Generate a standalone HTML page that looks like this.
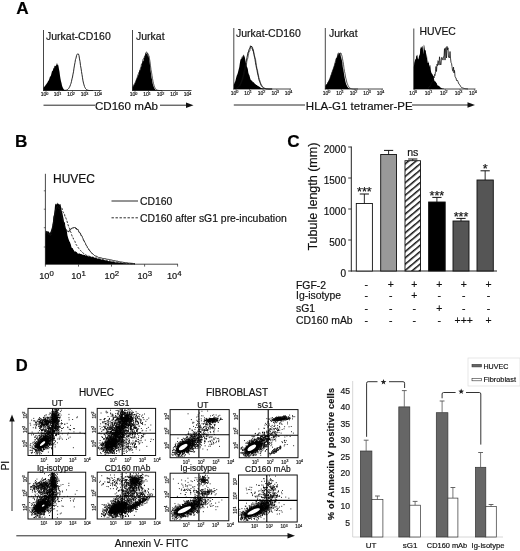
<!DOCTYPE html>
<html><head><meta charset="utf-8"><title>Figure</title>
<style>
html,body{margin:0;padding:0;background:#fff;}
body{width:520px;height:551px;overflow:hidden;font-family:"Liberation Sans",sans-serif;}
text{stroke:#111;stroke-width:0.18px;}
svg{display:block;font-family:"Liberation Sans",sans-serif;filter:blur(0.25px);}
</style></head><body>
<svg width="520" height="551" viewBox="0 0 520 551">
<rect width="520" height="551" fill="#fff"/>
<text x="16.2" y="13.9" font-size="17.2" text-anchor="start" font-weight="bold" fill="#000" >A</text>
<text x="15" y="146.6" font-size="17.2" text-anchor="start" font-weight="bold" fill="#000" >B</text>
<text x="287.2" y="146.8" font-size="17.2" text-anchor="start" font-weight="bold" fill="#000" >C</text>
<text x="15.8" y="371.2" font-size="16.6" text-anchor="start" font-weight="bold" fill="#000" >D</text>
<line x1="43.5" y1="30" x2="43.5" y2="91.0" stroke="#333" stroke-width="0.9" />
<line x1="43.1" y1="90.5" x2="101.5" y2="90.5" stroke="#333" stroke-width="0.9" />
<line x1="46" y1="90.5" x2="46" y2="92.3" stroke="#333" stroke-width="0.6" />
<line x1="59" y1="90.5" x2="59" y2="92.3" stroke="#333" stroke-width="0.6" />
<line x1="72.5" y1="90.5" x2="72.5" y2="92.3" stroke="#333" stroke-width="0.6" />
<line x1="86" y1="90.5" x2="86" y2="92.3" stroke="#333" stroke-width="0.6" />
<line x1="99.5" y1="90.5" x2="99.5" y2="92.3" stroke="#333" stroke-width="0.6" />
<text x="44.5" y="96.1" font-size="5.0" text-anchor="middle" fill="#222">10<tspan dy="-1.6" font-size="3.75">0</tspan></text>
<text x="57.5" y="96.1" font-size="5.0" text-anchor="middle" fill="#222">10<tspan dy="-1.6" font-size="3.75">1</tspan></text>
<text x="71.0" y="96.1" font-size="5.0" text-anchor="middle" fill="#222">10<tspan dy="-1.6" font-size="3.75">2</tspan></text>
<text x="84.5" y="96.1" font-size="5.0" text-anchor="middle" fill="#222">10<tspan dy="-1.6" font-size="3.75">3</tspan></text>
<text x="98.0" y="96.1" font-size="5.0" text-anchor="middle" fill="#222">10<tspan dy="-1.6" font-size="3.75">4</tspan></text>
<path d="M43.5 90.5 L43.5 87.7 L44.0 87.2 L44.5 86.4 L45.0 86.1 L45.5 85.2 L46.0 84.6 L46.5 84.1 L47.0 82.9 L47.5 82.5 L48.0 81.2 L48.5 80.7 L49.0 79.8 L49.5 78.3 L50.0 76.6 L50.5 76.6 L51.0 75.3 L51.5 73.3 L52.0 71.3 L52.5 70.9 L53.0 70.1 L53.5 67.4 L54.0 68.8 L54.5 65.5 L55.0 66.2 L55.5 65.9 L56.0 65.5 L56.5 64.5 L57.0 62.7 L57.5 64.9 L58.0 64.5 L58.5 66.2 L59.0 69.3 L59.5 71.8 L60.0 75.8 L60.5 78.7 L61.0 81.2 L61.5 83.1 L62.0 85.4 L62.5 87.0 L63.0 88.1 L63.5 89.0 L64.0 89.6 L64.5 89.9 L65.0 90.2 L65.5 90.3 L66.0 90.4 L66.5 90.4 L67.0 90.5 L67.5 90.5 L68.0 90.5 L68.5 90.5 L69.0 90.5 L69.5 90.5 L70.0 90.5 L70.0 90.5 Z" fill="#000" stroke="none" stroke-width="0.8"/>
<path d="M62.0 90.5 L62.5 90.5 L63.0 90.5 L63.5 90.5 L64.0 90.5 L64.5 90.4 L65.0 90.4 L65.5 90.3 L66.0 90.2 L66.5 90.1 L67.0 89.8 L67.5 89.6 L68.0 89.2 L68.5 88.7 L69.0 87.9 L69.5 87.1 L70.0 86.1 L70.5 84.6 L71.0 83.3 L71.5 81.3 L72.0 78.9 L72.5 77.0 L73.0 74.1 L73.5 71.8 L74.0 68.1 L74.5 65.1 L75.0 62.6 L75.5 59.4 L76.0 58.2 L76.5 55.7 L77.0 54.6 L77.5 53.9 L78.0 54.2 L78.5 54.1 L79.0 55.6 L79.5 58.9 L80.0 61.4 L80.5 65.6 L81.0 68.1 L81.5 71.6 L82.0 74.6 L82.5 77.8 L83.0 80.9 L83.5 83.1 L84.0 84.9 L84.5 86.5 L85.0 87.6 L85.5 88.5 L86.0 89.2 L86.5 89.6 L87.0 89.9 L87.5 90.1 L88.0 90.3 L88.5 90.4 L89.0 90.4 L89.5 90.5 L90.0 90.5 L90.5 90.5 L91.0 90.5 L91.5 90.5 L92.0 90.5 L92.5 90.5 L93.0 90.5" fill="none" stroke="#111" stroke-width="0.9" stroke-linejoin="round" />
<text x="46" y="40" font-size="10.5" text-anchor="start" font-weight="normal" fill="#111" >Jurkat-CD160</text>
<line x1="132.5" y1="30" x2="132.5" y2="91.0" stroke="#333" stroke-width="0.9" />
<line x1="132.1" y1="90.5" x2="191.5" y2="90.5" stroke="#333" stroke-width="0.9" />
<line x1="135" y1="90.5" x2="135" y2="92.3" stroke="#333" stroke-width="0.6" />
<line x1="148.5" y1="90.5" x2="148.5" y2="92.3" stroke="#333" stroke-width="0.6" />
<line x1="162" y1="90.5" x2="162" y2="92.3" stroke="#333" stroke-width="0.6" />
<line x1="175.5" y1="90.5" x2="175.5" y2="92.3" stroke="#333" stroke-width="0.6" />
<line x1="189" y1="90.5" x2="189" y2="92.3" stroke="#333" stroke-width="0.6" />
<text x="133.5" y="96.1" font-size="5.0" text-anchor="middle" fill="#222">10<tspan dy="-1.6" font-size="3.75">0</tspan></text>
<text x="147.0" y="96.1" font-size="5.0" text-anchor="middle" fill="#222">10<tspan dy="-1.6" font-size="3.75">1</tspan></text>
<text x="160.5" y="96.1" font-size="5.0" text-anchor="middle" fill="#222">10<tspan dy="-1.6" font-size="3.75">2</tspan></text>
<text x="174.0" y="96.1" font-size="5.0" text-anchor="middle" fill="#222">10<tspan dy="-1.6" font-size="3.75">3</tspan></text>
<text x="187.5" y="96.1" font-size="5.0" text-anchor="middle" fill="#222">10<tspan dy="-1.6" font-size="3.75">4</tspan></text>
<path d="M132.5 90.5 L132.5 87.4 L133.0 86.7 L133.5 85.8 L134.0 84.7 L134.5 84.3 L135.0 83.1 L135.5 81.9 L136.0 80.3 L136.5 79.1 L137.0 77.7 L137.5 77.3 L138.0 75.7 L138.5 74.4 L139.0 71.8 L139.5 70.0 L140.0 70.4 L140.5 68.9 L141.0 67.2 L141.5 65.7 L142.0 63.4 L142.5 61.6 L143.0 61.3 L143.5 60.9 L144.0 58.1 L144.5 57.2 L145.0 55.4 L145.5 53.0 L146.0 53.5 L146.5 53.8 L147.0 53.2 L147.5 53.1 L148.0 56.7 L148.5 55.1 L149.0 58.3 L149.5 61.3 L150.0 65.2 L150.5 70.1 L151.0 73.6 L151.5 77.4 L152.0 79.6 L152.5 82.8 L153.0 84.8 L153.5 86.3 L154.0 87.6 L154.5 88.5 L155.0 89.2 L155.5 89.7 L156.0 90.0 L156.5 90.2 L157.0 90.3 L157.5 90.4 L158.0 90.4 L158.5 90.5 L159.0 90.5 L159.5 90.5 L160.0 90.5 L160.5 90.5 L161.0 90.5 L161.5 90.5 L162.0 90.5 L162.0 90.5 Z" fill="#000" stroke="none" stroke-width="0.8"/>
<path d="M132.5 87.1 L133.0 86.4 L133.5 85.7 L134.0 84.5 L134.5 83.7 L135.0 82.9 L135.5 81.8 L136.0 80.6 L136.5 79.3 L137.0 78.3 L137.5 76.2 L138.0 74.6 L138.5 73.8 L139.0 72.3 L139.5 71.5 L140.0 70.0 L140.5 68.0 L141.0 66.7 L141.5 64.0 L142.0 63.9 L142.5 62.7 L143.0 59.1 L143.5 58.7 L144.0 58.5 L144.5 56.2 L145.0 56.6 L145.5 54.3 L146.0 52.3 L146.5 52.1 L147.0 52.3 L147.5 53.5 L148.0 53.5 L148.5 55.3 L149.0 55.6 L149.5 58.9 L150.0 61.5 L150.5 65.9 L151.0 69.6 L151.5 72.2 L152.0 75.4 L152.5 78.6 L153.0 81.2 L153.5 83.5 L154.0 85.3 L154.5 86.9 L155.0 87.9 L155.5 88.7 L156.0 89.3 L156.5 89.7 L157.0 90.0 L157.5 90.2 L158.0 90.3 L158.5 90.4 L159.0 90.4 L159.5 90.5 L160.0 90.5 L160.5 90.5 L161.0 90.5 L161.5 90.5 L162.0 90.5" fill="none" stroke="#111" stroke-width="0.7" stroke-linejoin="round" />
<text x="136" y="40" font-size="10.5" text-anchor="start" font-weight="normal" fill="#111" >Jurkat</text>
<line x1="43.5" y1="105.2" x2="95" y2="105.2" stroke="#111" stroke-width="0.9" />
<text x="126.5" y="109.6" font-size="11.6" text-anchor="middle" font-weight="normal" fill="#111" >CD160 mAb</text>
<line x1="160" y1="105.2" x2="189" y2="105.2" stroke="#111" stroke-width="0.9" />
<path d="M186 102.4 L193.5 105.2 L186 108 Z" fill="#111"/>
<line x1="233.8" y1="28" x2="233.8" y2="89.5" stroke="#333" stroke-width="0.9" />
<line x1="233.4" y1="89" x2="291" y2="89" stroke="#333" stroke-width="0.9" />
<line x1="236" y1="89" x2="236" y2="90.8" stroke="#333" stroke-width="0.6" />
<line x1="249.5" y1="89" x2="249.5" y2="90.8" stroke="#333" stroke-width="0.6" />
<line x1="263" y1="89" x2="263" y2="90.8" stroke="#333" stroke-width="0.6" />
<line x1="276.8" y1="89" x2="276.8" y2="90.8" stroke="#333" stroke-width="0.6" />
<line x1="290" y1="89" x2="290" y2="90.8" stroke="#333" stroke-width="0.6" />
<text x="234.5" y="94.6" font-size="5.0" text-anchor="middle" fill="#222">10<tspan dy="-1.6" font-size="3.75">0</tspan></text>
<text x="248.0" y="94.6" font-size="5.0" text-anchor="middle" fill="#222">10<tspan dy="-1.6" font-size="3.75">1</tspan></text>
<text x="261.5" y="94.6" font-size="5.0" text-anchor="middle" fill="#222">10<tspan dy="-1.6" font-size="3.75">2</tspan></text>
<text x="275.3" y="94.6" font-size="5.0" text-anchor="middle" fill="#222">10<tspan dy="-1.6" font-size="3.75">3</tspan></text>
<text x="288.5" y="94.6" font-size="5.0" text-anchor="middle" fill="#222">10<tspan dy="-1.6" font-size="3.75">4</tspan></text>
<path d="M233.8 89.0 L233.8 84.9 L234.3 83.6 L234.8 82.2 L235.3 81.3 L235.8 79.2 L236.3 77.3 L236.8 75.4 L237.3 74.6 L237.8 72.9 L238.3 70.9 L238.8 68.9 L239.3 66.9 L239.8 63.5 L240.3 60.5 L240.8 58.9 L241.3 58.9 L241.8 57.0 L242.3 55.4 L242.8 58.1 L243.3 55.3 L243.8 54.4 L244.3 55.9 L244.8 57.3 L245.3 60.1 L245.8 63.1 L246.3 62.9 L246.8 66.6 L247.3 67.4 L247.8 69.1 L248.3 72.6 L248.8 74.3 L249.3 74.9 L249.8 76.8 L250.3 78.8 L250.8 79.9 L251.3 80.6 L251.8 80.4 L252.3 81.1 L252.8 82.3 L253.3 82.1 L253.8 82.4 L254.3 83.1 L254.8 83.7 L255.3 84.0 L255.8 84.6 L256.3 85.1 L256.8 84.9 L257.3 85.5 L257.8 85.9 L258.3 86.1 L258.8 86.6 L259.3 86.8 L259.8 87.1 L260.3 87.5 L260.8 87.8 L261.3 88.0 L261.8 88.2 L262.3 88.3 L262.8 88.4 L263.3 88.5 L263.8 88.6 L264.3 88.7 L264.8 88.8 L265.3 88.8 L265.8 88.9 L266.0 89.0 Z" fill="#000" stroke="none" stroke-width="0.8"/>
<path d="M236.0 88.3 L236.5 88.2 L237.0 87.8 L237.5 87.6 L238.0 87.1 L238.5 86.6 L239.0 85.9 L239.5 85.3 L240.0 84.3 L240.5 83.5 L241.0 82.3 L241.5 81.0 L242.0 79.9 L242.5 77.9 L243.0 76.3 L243.5 74.6 L244.0 71.4 L244.5 70.1 L245.0 67.2 L245.5 64.3 L246.0 62.1 L246.5 60.2 L247.0 57.3 L247.5 55.0 L248.0 52.2 L248.5 52.3 L249.0 49.3 L249.5 49.1 L250.0 48.0 L250.5 45.8 L251.0 46.5 L251.5 46.5 L252.0 46.6 L252.5 47.4 L253.0 50.5 L253.5 52.0 L254.0 54.6 L254.5 57.2 L255.0 59.4 L255.5 62.8 L256.0 65.4 L256.5 68.2 L257.0 70.2 L257.5 73.1 L258.0 75.2 L258.5 77.4 L259.0 79.8 L259.5 81.3 L260.0 82.5 L260.5 83.8 L261.0 85.1 L261.5 86.0 L262.0 86.6 L262.5 87.2 L263.0 87.6 L263.5 88.0 L264.0 88.2 L264.5 88.4 L265.0 88.6 L265.5 88.7 L266.0 88.8 L266.5 88.9 L267.0 88.9 L267.5 88.9 L268.0 89.0 L268.5 89.0 L269.0 89.0 L269.5 89.0 L270.0 89.0 L270.5 89.0 L271.0 89.0 L271.5 89.0 L272.0 89.0" fill="none" stroke="#111" stroke-width="0.9" stroke-linejoin="round" />
<path d="M236.4 88.4 L236.9 88.3 L237.4 88.0 L237.9 87.7 L238.4 87.4 L238.9 86.8 L239.4 86.3 L239.9 85.8 L240.4 84.8 L240.9 84.0 L241.4 82.9 L241.9 81.4 L242.4 80.1 L242.9 79.0 L243.4 77.1 L243.9 75.1 L244.4 73.3 L244.9 71.3 L245.4 68.9 L245.9 65.8 L246.4 64.8 L246.9 61.3 L247.4 59.2 L247.9 58.0 L248.4 55.1 L248.9 52.4 L249.4 51.0 L249.9 51.0 L250.4 47.0 L250.9 46.9 L251.4 46.0 L251.9 48.9 L252.4 48.9 L252.9 50.6 L253.4 49.7 L253.9 53.0 L254.4 55.5 L254.9 57.1 L255.4 58.5 L255.9 61.5 L256.4 65.4 L256.9 68.2 L257.4 69.6 L257.9 72.7 L258.4 74.9 L258.9 77.6 L259.4 79.5 L259.9 80.7 L260.4 82.4 L260.9 83.8 L261.4 84.6 L261.9 85.6 L262.4 86.3 L262.9 87.0 L263.4 87.4 L263.9 87.9 L264.4 88.1 L264.9 88.4 L265.4 88.5 L265.9 88.7 L266.4 88.8 L266.9 88.8 L267.4 88.9 L267.9 88.9 L268.4 88.9 L268.9 89.0 L269.4 89.0 L269.9 89.0 L270.4 89.0 L270.9 89.0 L271.4 89.0 L271.9 89.0 L272.4 89.0" fill="none" stroke="#111" stroke-width="0.6" stroke-linejoin="round" />
<text x="236" y="36.6" font-size="10.5" text-anchor="start" font-weight="normal" fill="#111" >Jurkat-CD160</text>
<line x1="325.3" y1="28" x2="325.3" y2="89.5" stroke="#333" stroke-width="0.9" />
<line x1="324.90000000000003" y1="89" x2="383" y2="89" stroke="#333" stroke-width="0.9" />
<line x1="328" y1="89" x2="328" y2="90.8" stroke="#333" stroke-width="0.6" />
<line x1="341.5" y1="89" x2="341.5" y2="90.8" stroke="#333" stroke-width="0.6" />
<line x1="355" y1="89" x2="355" y2="90.8" stroke="#333" stroke-width="0.6" />
<line x1="368.5" y1="89" x2="368.5" y2="90.8" stroke="#333" stroke-width="0.6" />
<line x1="382" y1="89" x2="382" y2="90.8" stroke="#333" stroke-width="0.6" />
<text x="326.5" y="94.6" font-size="5.0" text-anchor="middle" fill="#222">10<tspan dy="-1.6" font-size="3.75">0</tspan></text>
<text x="340.0" y="94.6" font-size="5.0" text-anchor="middle" fill="#222">10<tspan dy="-1.6" font-size="3.75">1</tspan></text>
<text x="353.5" y="94.6" font-size="5.0" text-anchor="middle" fill="#222">10<tspan dy="-1.6" font-size="3.75">2</tspan></text>
<text x="367.0" y="94.6" font-size="5.0" text-anchor="middle" fill="#222">10<tspan dy="-1.6" font-size="3.75">3</tspan></text>
<text x="380.5" y="94.6" font-size="5.0" text-anchor="middle" fill="#222">10<tspan dy="-1.6" font-size="3.75">4</tspan></text>
<path d="M325.3 89.0 L325.3 85.9 L325.8 85.3 L326.3 84.4 L326.8 84.0 L327.3 83.3 L327.8 82.1 L328.3 81.5 L328.8 80.6 L329.3 79.5 L329.8 78.5 L330.3 77.1 L330.8 75.7 L331.3 74.3 L331.8 72.0 L332.3 71.5 L332.8 69.4 L333.3 68.6 L333.8 66.5 L334.3 65.8 L334.8 63.5 L335.3 62.7 L335.8 58.7 L336.3 57.9 L336.8 57.9 L337.3 55.7 L337.8 52.8 L338.3 55.6 L338.8 52.1 L339.3 53.5 L339.8 53.5 L340.3 52.9 L340.8 56.3 L341.3 58.0 L341.8 60.1 L342.3 62.2 L342.8 67.2 L343.3 69.2 L343.8 72.6 L344.3 75.7 L344.8 78.6 L345.3 80.9 L345.8 83.0 L346.3 84.4 L346.8 85.6 L347.3 86.4 L347.8 87.2 L348.3 87.8 L348.8 88.2 L349.3 88.4 L349.8 88.6 L350.3 88.8 L350.8 88.9 L351.3 88.9 L351.8 88.9 L352.3 89.0 L352.8 89.0 L353.3 89.0 L353.8 89.0 L354.3 89.0 L354.8 89.0 L355.3 89.0 L355.8 89.0 L356.0 89.0 Z" fill="#000" stroke="none" stroke-width="0.8"/>
<path d="M326.0 85.6 L326.5 85.0 L327.0 84.4 L327.5 83.6 L328.0 82.7 L328.5 81.6 L329.0 80.8 L329.5 79.4 L330.0 78.4 L330.5 76.4 L331.0 75.0 L331.5 74.1 L332.0 73.0 L332.5 70.4 L333.0 69.8 L333.5 68.1 L334.0 67.1 L334.5 64.8 L335.0 62.9 L335.5 61.2 L336.0 60.3 L336.5 58.1 L337.0 58.0 L337.5 56.1 L338.0 55.5 L338.5 53.7 L339.0 54.1 L339.5 53.8 L340.0 52.8 L340.5 53.2 L341.0 53.0 L341.5 54.6 L342.0 56.1 L342.5 58.8 L343.0 61.5 L343.5 64.3 L344.0 68.3 L344.5 71.4 L345.0 73.4 L345.5 77.0 L346.0 78.8 L346.5 81.0 L347.0 83.1 L347.5 84.2 L348.0 85.4 L348.5 86.4 L349.0 87.1 L349.5 87.7 L350.0 88.1 L350.5 88.4 L351.0 88.6 L351.5 88.7 L352.0 88.8 L352.5 88.9 L353.0 88.9 L353.5 89.0 L354.0 89.0 L354.5 89.0 L355.0 89.0 L355.5 89.0 L356.0 89.0 L356.5 89.0 L357.0 89.0 L357.5 89.0 L358.0 89.0" fill="none" stroke="#111" stroke-width="0.7" stroke-linejoin="round" />
<text x="329" y="36.6" font-size="10.5" text-anchor="start" font-weight="normal" fill="#111" >Jurkat</text>
<line x1="413.8" y1="28.5" x2="413.8" y2="89.5" stroke="#333" stroke-width="0.9" />
<line x1="413.40000000000003" y1="89" x2="475.5" y2="89" stroke="#333" stroke-width="0.9" />
<line x1="414.7" y1="89" x2="414.7" y2="90.8" stroke="#333" stroke-width="0.6" />
<line x1="430" y1="89" x2="430" y2="90.8" stroke="#333" stroke-width="0.6" />
<line x1="445.3" y1="89" x2="445.3" y2="90.8" stroke="#333" stroke-width="0.6" />
<line x1="460" y1="89" x2="460" y2="90.8" stroke="#333" stroke-width="0.6" />
<line x1="474.4" y1="89" x2="474.4" y2="90.8" stroke="#333" stroke-width="0.6" />
<text x="413.2" y="94.6" font-size="5.0" text-anchor="middle" fill="#222">10<tspan dy="-1.6" font-size="3.75">0</tspan></text>
<text x="428.5" y="94.6" font-size="5.0" text-anchor="middle" fill="#222">10<tspan dy="-1.6" font-size="3.75">1</tspan></text>
<text x="443.8" y="94.6" font-size="5.0" text-anchor="middle" fill="#222">10<tspan dy="-1.6" font-size="3.75">2</tspan></text>
<text x="458.5" y="94.6" font-size="5.0" text-anchor="middle" fill="#222">10<tspan dy="-1.6" font-size="3.75">3</tspan></text>
<text x="472.9" y="94.6" font-size="5.0" text-anchor="middle" fill="#222">10<tspan dy="-1.6" font-size="3.75">4</tspan></text>
<path d="M413.8 89.0 L413.8 67.2 L414.3 62.8 L414.8 61.0 L415.3 59.0 L415.8 59.5 L416.3 55.2 L416.8 55.9 L417.3 54.6 L417.8 58.4 L418.3 59.6 L418.8 57.6 L419.3 54.1 L419.8 56.2 L420.3 46.5 L420.8 49.0 L421.3 47.4 L421.8 46.8 L422.3 45.7 L422.8 48.1 L423.3 54.5 L423.8 44.5 L424.3 45.8 L424.8 49.8 L425.3 50.5 L425.8 50.3 L426.3 58.6 L426.8 52.7 L427.3 59.6 L427.8 63.0 L428.3 62.9 L428.8 60.9 L429.3 67.0 L429.8 64.9 L430.3 65.3 L430.8 70.2 L431.3 72.5 L431.8 73.5 L432.3 73.9 L432.8 75.0 L433.3 76.8 L433.8 77.8 L434.3 80.6 L434.8 81.2 L435.3 81.7 L435.8 81.4 L436.3 83.1 L436.8 83.3 L437.3 84.9 L437.8 85.4 L438.3 85.7 L438.8 85.8 L439.3 86.3 L439.8 86.8 L440.3 87.4 L440.8 87.6 L441.3 87.9 L441.8 88.2 L442.3 88.4 L442.8 88.5 L443.3 88.6 L443.8 88.7 L444.0 89.0 Z" fill="#000" stroke="none" stroke-width="0.8"/>
<path d="M428.0 87.9 L428.5 87.9 L429.0 87.0 L429.5 86.5 L430.0 86.8 L430.5 85.6 L431.0 84.1 L431.5 82.6 L432.0 82.6 L432.5 81.9 L433.0 80.8 L433.5 76.3 L434.0 78.0 L434.5 74.5 L435.0 75.5 L435.5 71.4 L436.0 66.5 L436.5 71.5 L437.0 64.2 L437.5 65.7 L438.0 60.7 L438.5 61.3 L439.0 65.1 L439.5 56.8 L440.0 60.4 L440.5 65.0 L441.0 64.5 L441.5 57.7 L442.0 57.4 L442.5 58.6 L443.0 60.1 L443.5 56.7 L444.0 56.5 L444.5 48.6 L445.0 60.1 L445.5 49.0 L446.0 47.5 L446.5 58.0 L447.0 46.4 L447.5 49.9 L448.0 47.8 L448.5 57.2 L449.0 57.0 L449.5 57.8 L450.0 51.5 L450.5 58.1 L451.0 62.4 L451.5 63.3 L452.0 66.5 L452.5 70.2 L453.0 71.3 L453.5 67.1 L454.0 73.0 L454.5 70.4 L455.0 76.3 L455.5 77.6 L456.0 77.8 L456.5 80.5 L457.0 80.9 L457.5 80.3 L458.0 81.7 L458.5 83.0 L459.0 84.2 L459.5 84.5 L460.0 85.2 L460.5 86.3 L461.0 86.6 L461.5 87.5 L462.0 87.4 L462.5 87.8 L463.0 88.0 L463.5 88.2 L464.0 88.5 L464.5 88.5 L465.0 88.6 L465.5 88.7 L466.0 88.8 L466.5 88.8 L467.0 88.9 L467.5 88.9 L468.0 88.9" fill="none" stroke="#111" stroke-width="0.8" stroke-linejoin="round" />
<text x="419.5" y="35.2" font-size="10.4" text-anchor="start" font-weight="normal" fill="#111" >HUVEC</text>
<line x1="233.8" y1="105" x2="305" y2="105" stroke="#111" stroke-width="0.9" />
<text x="359.2" y="110" font-size="11.5" text-anchor="middle" font-weight="normal" fill="#111" >HLA-G1 tetramer-PE</text>
<line x1="412" y1="105" x2="470" y2="105" stroke="#111" stroke-width="0.9" />
<path d="M467.5 102.2 L475 105 L467.5 107.8 Z" fill="#111"/>
<line x1="45.4" y1="173.8" x2="45.4" y2="264.5" stroke="#333" stroke-width="0.9" />
<line x1="45" y1="264.2" x2="178" y2="264.2" stroke="#333" stroke-width="0.9" />
<line x1="43.8" y1="190.8" x2="45.4" y2="190.8" stroke="#333" stroke-width="0.7" />
<line x1="43.8" y1="209.2" x2="45.4" y2="209.2" stroke="#333" stroke-width="0.7" />
<line x1="43.8" y1="227.7" x2="45.4" y2="227.7" stroke="#333" stroke-width="0.7" />
<line x1="43.8" y1="247" x2="45.4" y2="247" stroke="#333" stroke-width="0.7" />
<text x="53" y="183.3" font-size="12" text-anchor="start" font-weight="normal" fill="#111" >HUVEC</text>
<path d="M45.4 264.2 L45.4 234.0 L45.9 230.5 L46.4 232.3 L46.9 231.1 L47.4 231.7 L47.9 232.3 L48.4 231.5 L48.9 231.2 L49.4 233.5 L49.9 232.2 L50.4 232.6 L50.9 230.8 L51.4 229.6 L51.9 228.2 L52.4 225.7 L52.9 222.6 L53.4 216.6 L53.9 214.9 L54.4 213.0 L54.9 206.6 L55.4 203.4 L55.9 204.2 L56.4 204.4 L56.9 203.4 L57.4 203.8 L57.9 202.5 L58.4 204.3 L58.9 204.1 L59.4 204.8 L59.9 204.2 L60.4 203.9 L60.9 206.2 L61.4 209.6 L61.9 211.4 L62.4 212.9 L62.9 215.7 L63.4 218.0 L63.9 221.2 L64.4 222.6 L64.9 222.2 L65.4 227.4 L65.9 228.3 L66.4 230.0 L66.9 231.4 L67.4 235.2 L67.9 236.9 L68.4 238.7 L68.9 240.0 L69.4 241.4 L69.9 241.9 L70.4 243.5 L70.9 244.7 L71.4 247.1 L71.9 248.1 L72.4 247.9 L72.9 248.5 L73.4 249.7 L73.9 250.2 L74.4 251.5 L74.9 251.5 L75.4 251.3 L75.9 251.8 L76.4 252.1 L76.9 252.2 L77.4 253.2 L77.9 253.6 L78.4 253.8 L78.9 253.6 L79.4 253.6 L79.9 253.5 L80.4 253.9 L80.9 254.1 L81.4 254.1 L81.9 254.5 L82.4 254.5 L82.9 255.1 L83.4 254.6 L83.9 255.2 L84.4 254.7 L84.9 255.1 L85.4 255.5 L85.9 255.7 L86.4 255.8 L86.9 255.6 L87.4 255.7 L87.9 256.2 L88.4 256.4 L88.9 256.2 L89.4 256.3 L89.9 256.5 L90.4 256.8 L90.9 256.6 L91.4 257.2 L91.9 257.1 L92.4 257.1 L92.9 256.9 L93.4 257.3 L93.9 257.3 L94.4 257.6 L94.9 257.9 L95.4 258.0 L95.9 257.8 L96.4 258.1 L96.9 258.4 L97.4 258.7 L97.9 258.6 L98.4 258.6 L98.9 258.9 L99.4 259.1 L99.9 259.0 L100.4 259.0 L100.9 259.4 L101.4 259.6 L101.9 259.6 L102.4 259.7 L102.9 259.7 L103.4 260.0 L103.9 259.9 L104.4 260.1 L104.9 260.3 L105.4 260.5 L105.9 260.3 L106.4 260.7 L106.9 260.6 L107.4 260.9 L107.9 261.0 L108.4 260.9 L108.9 261.2 L109.4 261.1 L109.9 261.3 L110.4 261.5 L110.9 261.6 L111.4 261.6 L111.9 261.6 L112.4 261.7 L112.9 261.9 L113.4 261.9 L113.9 262.1 L114.4 262.0 L114.9 262.2 L115.4 262.3 L115.9 262.4 L116.4 262.4 L116.9 262.4 L117.4 262.5 L117.9 262.5 L118.4 262.6 L118.9 262.6 L119.4 262.8 L119.9 262.9 L120.4 262.8 L120.9 262.9 L121.4 263.0 L121.9 263.0 L122.4 263.1 L122.9 263.1 L123.4 263.2 L123.9 263.2 L124.4 263.3 L124.9 263.3 L125.4 263.3 L125.9 263.3 L126.4 263.4 L126.9 263.4 L127.4 263.5 L127.9 263.5 L128.4 263.5 L128.9 263.6 L129.4 263.6 L129.9 263.7 L130.4 263.7 L130.9 263.7 L131.4 263.7 L131.9 263.7 L132.4 263.8 L132.9 263.8 L133.4 263.8 L133.9 263.8 L134.4 263.8 L134.9 263.9 L135.0 264.2 Z" fill="#000" stroke="none" stroke-width="0.8"/>
<path d="M46.0 231.8 L46.5 232.5 L47.0 232.4 L47.5 232.1 L48.0 233.9 L48.5 234.2 L49.0 234.4 L49.5 235.0 L50.0 236.0 L50.5 235.7 L51.0 235.0 L51.5 232.6 L52.0 231.7 L52.5 228.7 L53.0 225.7 L53.5 223.6 L54.0 220.6 L54.5 216.2 L55.0 213.8 L55.5 211.8 L56.0 208.5 L56.5 207.6 L57.0 206.5 L57.5 206.6 L58.0 204.8 L58.5 204.6 L59.0 205.5 L59.5 205.1 L60.0 207.7 L60.5 207.7 L61.0 207.8 L61.5 207.5 L62.0 208.4 L62.5 210.6 L63.0 211.9 L63.5 212.6 L64.0 213.7 L64.5 214.0 L65.0 216.8 L65.5 216.9 L66.0 218.4 L66.5 219.6 L67.0 221.2 L67.5 222.9 L68.0 224.7 L68.5 226.2 L69.0 227.5 L69.5 228.3 L70.0 230.7 L70.5 231.8 L71.0 232.5 L71.5 234.4 L72.0 235.8 L72.5 237.1 L73.0 237.7 L73.5 239.1 L74.0 239.5 L74.5 240.7 L75.0 241.6 L75.5 243.2 L76.0 244.3 L76.5 245.2 L77.0 245.7 L77.5 246.3 L78.0 247.3 L78.5 248.2 L79.0 248.7 L79.5 249.3 L80.0 249.9 L80.5 250.4 L81.0 251.0 L81.5 251.6 L82.0 252.3 L82.5 252.4 L83.0 253.1 L83.5 253.3 L84.0 253.8 L84.5 254.0 L85.0 254.5 L85.5 254.7 L86.0 255.0 L86.5 255.3 L87.0 255.2 L87.5 255.5 L88.0 255.8 L88.5 256.0 L89.0 256.0 L89.5 256.3 L90.0 256.5 L90.5 256.5 L91.0 256.7 L91.5 256.7 L92.0 257.1 L92.5 257.1 L93.0 257.2 L93.5 257.3 L94.0 257.4 L94.5 257.7 L95.0 257.8 L95.5 258.0 L96.0 258.1 L96.5 258.0 L97.0 258.2 L97.5 258.2 L98.0 258.5 L98.5 258.5 L99.0 258.7 L99.5 258.8 L100.0 258.8 L100.5 258.9 L101.0 259.2 L101.5 259.2 L102.0 259.3 L102.5 259.5 L103.0 259.6 L103.5 259.7 L104.0 259.8 L104.5 259.9 L105.0 260.0 L105.5 260.1 L106.0 260.3 L106.5 260.4 L107.0 260.5 L107.5 260.5 L108.0 260.7 L108.5 260.8 L109.0 260.9 L109.5 260.9 L110.0 261.0 L110.5 261.2 L111.0 261.3 L111.5 261.3 L112.0 261.4 L112.5 261.5 L113.0 261.6 L113.5 261.7 L114.0 261.8 L114.5 261.9 L115.0 262.0 L115.5 262.0 L116.0 262.1 L116.5 262.2 L117.0 262.2 L117.5 262.3 L118.0 262.4 L118.5 262.4 L119.0 262.5 L119.5 262.6 L120.0 262.7 L120.5 262.7 L121.0 262.8 L121.5 262.9 L122.0 262.9 L122.5 263.0 L123.0 263.0 L123.5 263.1 L124.0 263.1 L124.5 263.2 L125.0 263.2 L125.5 263.3 L126.0 263.3 L126.5 263.3 L127.0 263.4 L127.5 263.4 L128.0 263.5 L128.5 263.5 L129.0 263.5 L129.5 263.6 L130.0 263.6 L130.5 263.6 L131.0 263.6 L131.5 263.7 L132.0 263.7 L132.5 263.7 L133.0 263.8 L133.5 263.8 L134.0 263.8 L134.5 263.8 L135.0 263.8" fill="none" stroke="#111" stroke-width="0.9" stroke-linejoin="round" stroke-dasharray="2.2 1.4"/>
<path d="M46.0 232.3 L46.5 231.3 L47.0 231.1 L47.5 232.9 L48.0 233.6 L48.5 232.8 L49.0 233.3 L49.5 234.6 L50.0 235.3 L50.5 233.4 L51.0 233.4 L51.5 231.0 L52.0 229.6 L52.5 226.7 L53.0 225.5 L53.5 221.0 L54.0 219.4 L54.5 216.0 L55.0 211.9 L55.5 209.4 L56.0 209.6 L56.5 208.2 L57.0 206.9 L57.5 206.5 L58.0 207.2 L58.5 208.6 L59.0 209.0 L59.5 208.5 L60.0 209.3 L60.5 213.5 L61.0 213.5 L61.5 214.7 L62.0 218.6 L62.5 218.2 L63.0 222.0 L63.5 222.5 L64.0 224.3 L64.5 225.6 L65.0 227.7 L65.5 228.6 L66.0 229.3 L66.5 230.4 L67.0 230.5 L67.5 231.2 L68.0 231.4 L68.5 232.1 L69.0 230.7 L69.5 230.7 L70.0 230.7 L70.5 229.1 L71.0 228.5 L71.5 228.7 L72.0 228.8 L72.5 227.7 L73.0 228.2 L73.5 227.9 L74.0 227.2 L74.5 228.0 L75.0 227.5 L75.5 227.7 L76.0 229.0 L76.5 228.2 L77.0 229.8 L77.5 229.0 L78.0 229.6 L78.5 230.8 L79.0 232.4 L79.5 232.3 L80.0 233.4 L80.5 233.3 L81.0 235.7 L81.5 235.4 L82.0 236.1 L82.5 237.6 L83.0 238.5 L83.5 240.4 L84.0 240.3 L84.5 242.0 L85.0 242.4 L85.5 243.4 L86.0 245.3 L86.5 245.5 L87.0 246.2 L87.5 247.9 L88.0 248.4 L88.5 248.8 L89.0 250.1 L89.5 250.1 L90.0 251.3 L90.5 251.5 L91.0 252.5 L91.5 252.8 L92.0 253.0 L92.5 253.9 L93.0 254.3 L93.5 254.5 L94.0 255.0 L94.5 255.5 L95.0 255.7 L95.5 256.0 L96.0 255.9 L96.5 256.3 L97.0 256.4 L97.5 257.0 L98.0 256.9 L98.5 257.4 L99.0 257.4 L99.5 257.5 L100.0 257.7 L100.5 257.7 L101.0 257.9 L101.5 258.0 L102.0 258.0 L102.5 258.4 L103.0 258.2 L103.5 258.5 L104.0 258.6 L104.5 258.6 L105.0 258.9 L105.5 258.7 L106.0 259.0 L106.5 259.1 L107.0 259.1 L107.5 259.3 L108.0 259.5 L108.5 259.4 L109.0 259.7 L109.5 259.6 L110.0 259.8 L110.5 259.8 L111.0 259.8 L111.5 260.0 L112.0 260.1 L112.5 260.3 L113.0 260.5 L113.5 260.6 L114.0 260.6 L114.5 260.6 L115.0 260.8 L115.5 260.9 L116.0 260.9 L116.5 261.1 L117.0 261.2 L117.5 261.2 L118.0 261.4 L118.5 261.5 L119.0 261.6 L119.5 261.7 L120.0 261.8 L120.5 261.9 L121.0 261.9 L121.5 262.0 L122.0 262.1 L122.5 262.2 L123.0 262.3 L123.5 262.4 L124.0 262.4 L124.5 262.5 L125.0 262.6 L125.5 262.7 L126.0 262.7 L126.5 262.7 L127.0 262.8 L127.5 262.9 L128.0 263.0 L128.5 263.1 L129.0 263.1 L129.5 263.1 L130.0 263.2 L130.5 263.2 L131.0 263.3 L131.5 263.3 L132.0 263.4 L132.5 263.4 L133.0 263.5 L133.5 263.5 L134.0 263.6 L134.5 263.6 L135.0 263.6" fill="none" stroke="#111" stroke-width="0.9" stroke-linejoin="round" />
<text x="46.5" y="279.2" font-size="9.2" text-anchor="middle" fill="#111">10<tspan dy="-3.4" font-size="7.8">0</tspan></text>
<text x="78.5" y="279.2" font-size="9.2" text-anchor="middle" fill="#111">10<tspan dy="-3.4" font-size="7.8">1</tspan></text>
<text x="111.89999999999999" y="279.2" font-size="9.2" text-anchor="middle" fill="#111">10<tspan dy="-3.4" font-size="7.8">2</tspan></text>
<text x="144.8" y="279.2" font-size="9.2" text-anchor="middle" fill="#111">10<tspan dy="-3.4" font-size="7.8">3</tspan></text>
<text x="174.20000000000002" y="279.2" font-size="9.2" text-anchor="middle" fill="#111">10<tspan dy="-3.4" font-size="7.8">4</tspan></text>
<line x1="45.4" y1="264.2" x2="45.4" y2="266.6" stroke="#333" stroke-width="0.8" />
<line x1="78.5" y1="264.2" x2="78.5" y2="266.6" stroke="#333" stroke-width="0.8" />
<line x1="111.5" y1="264.2" x2="111.5" y2="266.6" stroke="#333" stroke-width="0.8" />
<line x1="144.6" y1="264.2" x2="144.6" y2="266.6" stroke="#333" stroke-width="0.8" />
<line x1="177.6" y1="264.2" x2="177.6" y2="266.6" stroke="#333" stroke-width="0.8" />
<line x1="111.5" y1="201" x2="138" y2="201" stroke="#111" stroke-width="0.9" />
<line x1="111.5" y1="217.8" x2="138" y2="217.8" stroke="#111" stroke-width="0.9" stroke-dasharray="2.4 1.6"/>
<text x="140" y="204.8" font-size="10.4" text-anchor="start" font-weight="normal" fill="#111" >CD160</text>
<text x="140" y="221.6" font-size="10.4" text-anchor="start" font-weight="normal" fill="#111" >CD160 after sG1 pre-incubation</text>
<line x1="351.3" y1="146.5" x2="351.3" y2="271.5" stroke="#222" stroke-width="1" />
<line x1="351" y1="271.0" x2="497" y2="271.0" stroke="#222" stroke-width="1" />
<line x1="348.2" y1="271.0" x2="351.3" y2="271.0" stroke="#222" stroke-width="0.9" />
<text x="346" y="276.5" font-size="10.0" text-anchor="end" font-weight="normal" fill="#111" >0</text>
<line x1="348.2" y1="240.0" x2="351.3" y2="240.0" stroke="#222" stroke-width="0.9" />
<text x="346" y="245.5" font-size="10.0" text-anchor="end" font-weight="normal" fill="#111" >500</text>
<line x1="348.2" y1="209.0" x2="351.3" y2="209.0" stroke="#222" stroke-width="0.9" />
<text x="346" y="214.5" font-size="10.0" text-anchor="end" font-weight="normal" fill="#111" >1000</text>
<line x1="348.2" y1="178.0" x2="351.3" y2="178.0" stroke="#222" stroke-width="0.9" />
<text x="346" y="183.5" font-size="10.0" text-anchor="end" font-weight="normal" fill="#111" >1500</text>
<line x1="348.2" y1="147.0" x2="351.3" y2="147.0" stroke="#222" stroke-width="0.9" />
<text x="346" y="152.5" font-size="10.0" text-anchor="end" font-weight="normal" fill="#111" >2000</text>
<text transform="translate(316.6,196.6) rotate(-90)" font-size="12.5" text-anchor="middle" fill="#111">Tubule length (mm)</text>
<defs><pattern id="hatch" width="4.8" height="4.8" patternUnits="userSpaceOnUse" patternTransform="rotate(-40) translate(0,1.2)"><rect width="4.8" height="4.8" fill="#fff"/><rect width="4.8" height="1.5" fill="#111"/></pattern></defs>
<rect x="356.3" y="203.5" width="16.099999999999966" height="67.5" fill="#fff" stroke="#111" stroke-width="0.9"/>
<line x1="364.35" y1="203.5" x2="364.35" y2="194" stroke="#111" stroke-width="0.9" />
<line x1="359.75" y1="194" x2="368.95000000000005" y2="194" stroke="#111" stroke-width="1.0" />
<text x="364.35" y="196.4" font-size="12.6" text-anchor="middle" font-weight="normal" fill="#111" >***</text>
<rect x="380.7" y="154.5" width="15.800000000000011" height="116.5" fill="#999" stroke="#111" stroke-width="0.9"/>
<line x1="388.6" y1="154.5" x2="388.6" y2="150.4" stroke="#111" stroke-width="0.9" />
<line x1="384.0" y1="150.4" x2="393.20000000000005" y2="150.4" stroke="#111" stroke-width="1.0" />
<rect x="405" y="160.7" width="15.5" height="110.30000000000001" fill="url(#hatch)" stroke="#111" stroke-width="0.9"/>
<line x1="412.75" y1="160.7" x2="412.75" y2="159" stroke="#111" stroke-width="0.9" />
<line x1="408.15" y1="159" x2="417.35" y2="159" stroke="#111" stroke-width="1.0" />
<text x="412.75" y="156.1" font-size="10.6" text-anchor="middle" font-weight="normal" fill="#111" >ns</text>
<rect x="428.6" y="202" width="16.599999999999966" height="69.0" fill="#000" stroke="#111" stroke-width="0.9"/>
<line x1="436.9" y1="202" x2="436.9" y2="197.4" stroke="#111" stroke-width="0.9" />
<line x1="432.29999999999995" y1="197.4" x2="441.5" y2="197.4" stroke="#111" stroke-width="1.0" />
<text x="436.9" y="199.8" font-size="12.6" text-anchor="middle" font-weight="normal" fill="#111" >***</text>
<rect x="453" y="221" width="16" height="50.0" fill="#555" stroke="#111" stroke-width="0.9"/>
<line x1="461.0" y1="221" x2="461.0" y2="218.4" stroke="#111" stroke-width="0.9" />
<line x1="456.4" y1="218.4" x2="465.6" y2="218.4" stroke="#111" stroke-width="1.0" />
<text x="461.0" y="220.8" font-size="12.6" text-anchor="middle" font-weight="normal" fill="#111" >***</text>
<rect x="477" y="180" width="16.30000000000001" height="91.0" fill="#555" stroke="#111" stroke-width="0.9"/>
<line x1="485.15" y1="180" x2="485.15" y2="170.8" stroke="#111" stroke-width="0.9" />
<line x1="480.54999999999995" y1="170.8" x2="489.75" y2="170.8" stroke="#111" stroke-width="1.0" />
<text x="485.15" y="173.20000000000002" font-size="12.6" text-anchor="middle" font-weight="normal" fill="#111" >*</text>
<text x="296" y="288.8" font-size="10.4" text-anchor="start" font-weight="normal" fill="#111" >FGF-2</text>
<text x="366.3" y="288.40000000000003" font-size="10.4" text-anchor="middle" font-weight="normal" fill="#111" >-</text>
<text x="390.8" y="288.40000000000003" font-size="10.4" text-anchor="middle" font-weight="normal" fill="#111" >+</text>
<text x="414.3" y="288.40000000000003" font-size="10.4" text-anchor="middle" font-weight="normal" fill="#111" >+</text>
<text x="439.2" y="288.40000000000003" font-size="10.4" text-anchor="middle" font-weight="normal" fill="#111" >+</text>
<text x="463.7" y="288.40000000000003" font-size="10.4" text-anchor="middle" font-weight="normal" fill="#111" >+</text>
<text x="488.6" y="288.40000000000003" font-size="10.4" text-anchor="middle" font-weight="normal" fill="#111" >+</text>
<text x="296" y="299.2" font-size="10.4" text-anchor="start" font-weight="normal" fill="#111" >Ig-isotype</text>
<text x="366.3" y="298.8" font-size="10.4" text-anchor="middle" font-weight="normal" fill="#111" >-</text>
<text x="390.8" y="298.8" font-size="10.4" text-anchor="middle" font-weight="normal" fill="#111" >-</text>
<text x="414.3" y="298.8" font-size="10.4" text-anchor="middle" font-weight="normal" fill="#111" >+</text>
<text x="439.2" y="298.8" font-size="10.4" text-anchor="middle" font-weight="normal" fill="#111" >-</text>
<text x="463.7" y="298.8" font-size="10.4" text-anchor="middle" font-weight="normal" fill="#111" >-</text>
<text x="488.6" y="298.8" font-size="10.4" text-anchor="middle" font-weight="normal" fill="#111" >-</text>
<text x="296" y="312.0" font-size="10.4" text-anchor="start" font-weight="normal" fill="#111" >sG1</text>
<text x="366.3" y="311.6" font-size="10.4" text-anchor="middle" font-weight="normal" fill="#111" >-</text>
<text x="390.8" y="311.6" font-size="10.4" text-anchor="middle" font-weight="normal" fill="#111" >-</text>
<text x="414.3" y="311.6" font-size="10.4" text-anchor="middle" font-weight="normal" fill="#111" >-</text>
<text x="439.2" y="311.6" font-size="10.4" text-anchor="middle" font-weight="normal" fill="#111" >+</text>
<text x="463.7" y="311.6" font-size="10.4" text-anchor="middle" font-weight="normal" fill="#111" >-</text>
<text x="488.6" y="311.6" font-size="10.4" text-anchor="middle" font-weight="normal" fill="#111" >-</text>
<text x="296" y="324.0" font-size="10.4" text-anchor="start" font-weight="normal" fill="#111" >CD160 mAb</text>
<text x="366.3" y="323.6" font-size="10.4" text-anchor="middle" font-weight="normal" fill="#111" >-</text>
<text x="390.8" y="323.6" font-size="10.4" text-anchor="middle" font-weight="normal" fill="#111" >-</text>
<text x="414.3" y="323.6" font-size="10.4" text-anchor="middle" font-weight="normal" fill="#111" >-</text>
<text x="439.2" y="323.6" font-size="10.4" text-anchor="middle" font-weight="normal" fill="#111" >-</text>
<text x="463.7" y="323.6" font-size="10.4" text-anchor="middle" font-weight="normal" fill="#111" >+++</text>
<text x="488.6" y="323.6" font-size="10.4" text-anchor="middle" font-weight="normal" fill="#111" >+</text>
<text x="96.4" y="396" font-size="10" text-anchor="middle" font-weight="normal" fill="#111" >HUVEC</text>
<text x="237" y="396" font-size="10" text-anchor="middle" font-weight="normal" fill="#111" >FIBROBLAST</text>
<defs><filter id="bl" x="-20%" y="-20%" width="140%" height="140%"><feGaussianBlur stdDeviation="0.7"/></filter><filter id="b2" x="-5%" y="-5%" width="110%" height="110%"><feGaussianBlur stdDeviation="0.32"/></filter></defs>
<clipPath id="c28_408"><rect x="28" y="408.4" width="57.7" height="47.10000000000002"/></clipPath>
<g clip-path="url(#c28_408)">
<ellipse cx="42.5" cy="443.5" rx="7" ry="3.8" transform="rotate(-40 42.5 443.5)" fill="#000" opacity="0.92" filter="url(#bl)"/>
<ellipse cx="55" cy="418.5" rx="4.6" ry="1.8" transform="rotate(-88 55 418.5)" fill="#000" opacity="0.65" filter="url(#bl)"/>
<ellipse cx="45" cy="422.5" rx="5" ry="2.2" transform="rotate(-8 45 422.5)" fill="#000" opacity="0.4" filter="url(#bl)"/>
<path d="M48.2 436.4h0.9M47.6 438.8h0.9M45.0 442.1h0.9M42.0 439.2h0.9M36.6 448.7h0.9M44.5 443.9h0.9M39.8 442.9h0.9M49.8 435.1h0.9M46.7 445.7h0.9M50.5 436.5h0.9M44.4 446.0h0.9M44.2 446.1h0.9M42.0 442.2h0.9M42.1 442.8h0.9M36.3 443.4h0.9M43.0 449.7h0.9M43.1 445.8h0.9M38.9 447.8h0.9M45.9 445.0h0.9M39.4 440.9h0.9M45.7 441.4h0.9M43.3 443.3h0.9M41.0 442.1h0.9M46.4 449.0h0.9M44.0 445.5h0.9M46.3 442.5h0.9M39.2 438.3h0.9M40.1 449.6h0.9M40.9 453.6h0.9M33.9 449.4h0.9M43.2 449.8h0.9M35.1 447.4h0.9M39.9 447.0h0.9M41.5 439.4h0.9M48.8 434.4h0.9M42.8 442.6h0.9M47.5 434.1h0.9M40.4 443.6h0.9M43.6 442.4h0.9M42.8 448.1h0.9M43.0 448.7h0.9M46.7 438.0h0.9M34.9 444.8h0.9M49.7 444.4h0.9M48.8 435.3h0.9M53.4 438.8h0.9M44.0 440.7h0.9M43.0 442.4h0.9M49.6 443.0h0.9M39.8 450.9h0.9M41.2 446.8h0.9M43.6 441.6h0.9M43.8 444.8h0.9M38.9 443.0h0.9M45.5 440.6h0.9M38.3 441.3h0.9M38.8 444.2h0.9M47.8 440.0h0.9M48.0 443.0h0.9M46.4 439.5h0.9M34.6 447.7h0.9M36.4 443.9h0.9M39.9 446.3h0.9M44.3 443.2h0.9M44.6 443.8h0.9M45.3 441.1h0.9M48.3 448.7h0.9M47.3 439.3h0.9M34.8 449.6h0.9M42.5 439.6h0.9M35.2 444.0h0.9M37.5 438.9h0.9M40.7 442.6h0.9M43.0 447.2h0.9M45.5 437.7h0.9M47.4 436.2h0.9M43.1 449.1h0.9M41.0 447.2h0.9M38.0 445.1h0.9M44.4 442.9h0.9M43.5 443.2h0.9M42.0 441.1h0.9M47.8 441.6h0.9M33.6 445.8h0.9M41.0 440.7h0.9M36.2 450.0h0.9M45.2 446.5h0.9M39.0 443.8h0.9M44.2 436.3h0.9M41.4 449.6h0.9M43.0 439.6h0.9M45.7 445.6h0.9M44.4 439.0h0.9M45.7 442.6h0.9M42.4 440.7h0.9M43.5 449.4h0.9M43.0 441.3h0.9M41.0 441.5h0.9M40.2 445.8h0.9M40.2 443.4h0.9M49.7 438.4h0.9M48.4 433.0h0.9M44.8 439.4h0.9M50.3 437.6h0.9M43.9 446.2h0.9M42.1 438.9h0.9M44.0 440.7h0.9M41.3 443.8h0.9M34.6 446.3h0.9M42.8 447.3h0.9M40.8 447.9h0.9M44.2 438.2h0.9M35.1 446.3h0.9M47.3 441.6h0.9M37.6 450.4h0.9M39.2 445.0h0.9M44.6 449.1h0.9M46.2 446.0h0.9M48.5 442.9h0.9M41.1 447.8h0.9M37.9 442.6h0.9M45.0 439.2h0.9M46.6 445.7h0.9M41.3 446.5h0.9M37.5 445.9h0.9M40.7 447.6h0.9M41.8 451.6h0.9M42.6 438.5h0.9M45.0 445.0h0.9M30.8 452.7h0.9M47.1 438.6h0.9M43.7 437.1h0.9M48.0 440.5h0.9M45.5 438.1h0.9M36.8 449.8h0.9M36.7 448.8h0.9M46.9 443.7h0.9M31.5 448.0h0.9M41.4 439.0h0.9M35.0 445.9h0.9M47.6 431.9h0.9M41.1 443.7h0.9M40.1 441.9h0.9M46.7 439.6h0.9M35.4 446.7h0.9M39.4 443.8h0.9M40.7 439.1h0.9M48.1 440.4h0.9M40.8 438.5h0.9M39.5 444.5h0.9M45.3 436.6h0.9M47.1 444.5h0.9M36.7 447.4h0.9M39.5 436.7h0.9M36.8 444.1h0.9M48.8 444.4h0.9M38.8 446.0h0.9M40.7 445.6h0.9M45.9 443.6h0.9M45.6 443.2h0.9M39.2 444.3h0.9M39.6 444.9h0.9M49.2 437.8h0.9M40.6 442.4h0.9M39.0 442.5h0.9M36.0 446.7h0.9M41.8 447.0h0.9M51.5 439.1h0.9M48.7 435.9h0.9M50.4 440.5h0.9M44.9 436.1h0.9M42.2 444.2h0.9M52.5 434.4h0.9M41.9 446.3h0.9M43.8 441.2h0.9M40.1 439.2h0.9M40.3 443.6h0.9M50.5 440.5h0.9M43.6 435.9h0.9M38.8 450.6h0.9M41.4 451.1h0.9M47.7 445.9h0.9M42.0 438.6h0.9M36.3 449.9h0.9M33.0 448.6h0.9M39.9 446.7h0.9M41.7 442.1h0.9M41.0 444.7h0.9M40.0 445.2h0.9M37.4 447.5h0.9M35.2 451.4h0.9M50.4 436.6h0.9M36.7 447.4h0.9M41.4 450.5h0.9M38.1 444.5h0.9M44.3 442.4h0.9M40.5 449.1h0.9M47.7 438.2h0.9M42.3 451.4h0.9M32.3 443.0h0.9M37.8 447.7h0.9M43.7 443.1h0.9M43.8 447.4h0.9M35.0 443.6h0.9M37.8 444.4h0.9M35.9 450.1h0.9M41.7 440.4h0.9M36.7 446.2h0.9M45.5 443.7h0.9M46.1 443.7h0.9M39.2 446.4h0.9M31.3 453.3h0.9M40.9 450.2h0.9M39.3 443.4h0.9M38.5 442.2h0.9M40.0 450.4h0.9M48.3 437.2h0.9M48.0 441.9h0.9M45.4 440.1h0.9M45.2 441.2h0.9M48.8 440.6h0.9M41.1 450.1h0.9M48.7 441.0h0.9M39.8 449.2h0.9M42.9 447.8h0.9M42.4 445.9h0.9M41.9 447.5h0.9M43.5 444.4h0.9M42.5 442.6h0.9M47.9 447.0h0.9M41.7 447.1h0.9M48.6 444.1h0.9M40.0 446.7h0.9M39.3 442.6h0.9M38.9 443.0h0.9M39.6 452.6h0.9M46.9 438.3h0.9M44.3 441.5h0.9M46.7 444.4h0.9M47.5 441.3h0.9M46.5 439.8h0.9M36.5 453.2h0.9M47.5 439.8h0.9M40.4 444.4h0.9M41.7 446.2h0.9M42.7 442.8h0.9M48.8 438.0h0.9M47.2 433.0h0.9M47.8 435.2h0.9M42.8 442.7h0.9M43.2 445.6h0.9M43.4 445.1h0.9M48.4 436.6h0.9M44.1 449.2h0.9M43.0 444.6h0.9M40.0 449.8h0.9M32.0 450.2h0.9M37.6 438.2h0.9M42.6 443.9h0.9M48.3 438.1h0.9M43.9 443.7h0.9M37.3 442.4h0.9M43.6 436.3h0.9M41.0 444.7h0.9M37.0 444.5h0.9M35.6 447.2h0.9M44.6 436.6h0.9M36.6 444.5h0.9M40.9 447.6h0.9M34.8 445.7h0.9M50.5 438.9h0.9M39.9 446.9h0.9M51.3 432.5h0.9M43.4 449.3h0.9M37.5 443.3h0.9M50.8 437.5h0.9M40.5 447.0h0.9M32.9 448.2h0.9M36.0 445.1h0.9M37.6 452.3h0.9M45.1 444.1h0.9M45.8 440.7h0.9M36.4 446.3h0.9M49.5 444.6h0.9M49.3 436.0h0.9M49.1 444.8h0.9M40.1 446.8h0.9M49.7 442.8h0.9M42.4 451.0h0.9M40.9 443.6h0.9M36.5 450.7h0.9M41.8 438.3h0.9M45.8 441.8h0.9M39.2 449.7h0.9M39.4 445.5h0.9M39.3 440.1h0.9M45.6 444.8h0.9M47.3 436.0h0.9M44.2 444.7h0.9M36.5 452.3h0.9M47.8 442.0h0.9M36.6 447.7h0.9M42.4 441.3h0.9M42.7 438.2h0.9M37.2 444.4h0.9M37.1 445.5h0.9M42.8 442.3h0.9M46.6 440.1h0.9M45.6 437.7h0.9M44.1 444.2h0.9M40.3 447.3h0.9M41.7 444.3h0.9M53.9 431.6h0.9M47.3 442.6h0.9M40.1 446.7h0.9M45.2 445.0h0.9M50.3 439.0h0.9M51.2 444.7h0.9M42.0 442.9h0.9M42.2 441.5h0.9M43.4 442.2h0.9M35.8 451.7h0.9M31.5 450.4h0.9M44.1 442.8h0.9M40.1 447.7h0.9M47.2 433.3h0.9M39.9 440.9h0.9M39.3 453.3h0.9M42.0 447.1h0.9M39.8 445.1h0.9M56.4 434.2h0.9M42.2 442.7h0.9M40.7 441.6h0.9M52.2 439.9h0.9M43.7 443.5h0.9M46.8 445.5h0.9M39.3 454.7h0.9M44.4 441.2h0.9M47.1 448.3h0.9M42.3 446.4h0.9M38.2 450.5h0.9M44.5 439.9h0.9M41.5 442.5h0.9M39.8 445.5h0.9M41.7 442.2h0.9M42.5 444.1h0.9M43.1 445.4h0.9M51.0 434.5h0.9M40.2 437.1h0.9M51.2 441.9h0.9M43.9 439.2h0.9M48.1 434.0h0.9M47.9 443.3h0.9M38.3 446.0h0.9M46.5 443.9h0.9M41.6 445.7h0.9M42.1 442.6h0.9M43.5 447.2h0.9M44.9 435.7h0.9M40.2 441.7h0.9M43.2 440.5h0.9M45.9 443.4h0.9M43.1 439.3h0.9M35.2 442.5h0.9M48.0 432.2h0.9M49.5 434.9h0.9M42.2 446.0h0.9M38.9 446.1h0.9M41.2 442.2h0.9M29.8 445.7h0.9M52.1 435.5h0.9M44.5 440.1h0.9M44.0 443.0h0.9M43.5 445.7h0.9M43.3 442.9h0.9M45.4 444.2h0.9M42.6 443.3h0.9M47.0 443.6h0.9M42.5 439.9h0.9M45.7 442.2h0.9M40.9 445.7h0.9M42.8 437.6h0.9M43.0 445.4h0.9M43.7 441.7h0.9M40.0 448.3h0.9M40.9 442.4h0.9M39.3 449.9h0.9M46.8 444.4h0.9M42.3 442.4h0.9M43.9 446.1h0.9M42.8 444.4h0.9M45.4 444.1h0.9M50.1 443.2h0.9M41.7 444.1h0.9M47.6 441.4h0.9M45.8 442.8h0.9M42.5 437.2h0.9M40.0 444.0h0.9M36.8 444.7h0.9M47.5 439.1h0.9M37.0 446.6h0.9M45.4 437.1h0.9M49.2 444.6h0.9M37.1 442.9h0.9M35.3 445.4h0.9M49.1 435.2h0.9M47.8 440.3h0.9M37.5 448.1h0.9M41.7 444.3h0.9M45.7 441.3h0.9M42.5 441.9h0.9M39.2 439.6h0.9M44.2 441.8h0.9M42.8 445.6h0.9M47.9 438.4h0.9M39.0 448.5h0.9M42.7 444.9h0.9M49.2 442.2h0.9M44.3 441.5h0.9M37.5 447.6h0.9M41.2 442.8h0.9M40.1 444.4h0.9M37.4 451.7h0.9M43.9 438.5h0.9M43.5 444.8h0.9M50.8 444.2h0.9M37.9 444.9h0.9M47.1 443.4h0.9M31.9 447.1h0.9M44.8 444.9h0.9M41.1 441.4h0.9M29.6 450.3h0.9M49.4 445.3h0.9M49.0 444.6h0.9M46.6 438.6h0.9M53.1 436.8h0.9M40.6 441.2h0.9M41.1 447.3h0.9M41.1 445.0h0.9M37.1 446.3h0.9M44.7 441.4h0.9M50.3 438.2h0.9M49.0 440.1h0.9M49.2 445.0h0.9M43.6 443.2h0.9M41.5 446.6h0.9M42.3 446.3h0.9M34.3 452.5h0.9M41.1 446.6h0.9M38.3 447.5h0.9M46.3 441.3h0.9M38.0 442.3h0.9M45.0 438.1h0.9M48.0 440.1h0.9M40.0 441.6h0.9M40.4 445.7h0.9M43.4 441.4h0.9M39.6 442.4h0.9M40.4 442.6h0.9M45.8 438.3h0.9M47.7 443.4h0.9M38.1 449.5h0.9M41.8 438.6h0.9M36.8 447.2h0.9M40.2 448.1h0.9M40.1 443.0h0.9M41.3 440.2h0.9M36.7 445.1h0.9M46.3 440.1h0.9M45.5 443.0h0.9M38.6 448.2h0.9M34.6 439.6h0.9M37.5 441.7h0.9M42.8 442.1h0.9M47.0 442.5h0.9M45.7 439.5h0.9M35.0 447.6h0.9M44.0 440.6h0.9M49.9 438.8h0.9M43.3 440.1h0.9M36.5 444.1h0.9M38.7 451.4h0.9M46.7 444.0h0.9M45.0 447.4h0.9M44.8 445.7h0.9M46.7 445.6h0.9M44.9 442.5h0.9M42.9 443.4h0.9M45.4 445.9h0.9M31.6 452.5h0.9M39.4 447.8h0.9M47.9 446.3h0.9M40.4 447.5h0.9M37.5 446.5h0.9M43.4 445.8h0.9M36.9 445.2h0.9M38.7 444.6h0.9M47.8 446.0h0.9M37.9 447.3h0.9M42.5 440.6h0.9M44.0 438.4h0.9M41.3 445.3h0.9M46.5 441.7h0.9M49.8 443.2h0.9M45.6 441.6h0.9M32.4 448.4h0.9M43.8 442.4h0.9M38.8 448.3h0.9M50.4 439.9h0.9M37.7 448.0h0.9M42.5 446.8h0.9M37.1 444.2h0.9M32.9 444.4h0.9M42.2 447.8h0.9M44.8 439.5h0.9M36.8 445.6h0.9M36.4 452.0h0.9M47.7 440.1h0.9M36.1 447.0h0.9M46.4 440.3h0.9M35.5 450.6h0.9M42.9 440.4h0.9M50.8 437.5h0.9M40.5 445.3h0.9M49.3 441.3h0.9M52.9 444.8h0.9M47.1 442.1h0.9M43.2 440.4h0.9M37.7 447.9h0.9M42.5 441.4h0.9M40.4 448.9h0.9M29.8 444.9h0.9M42.1 444.7h0.9M34.5 446.8h0.9M37.7 442.3h0.9M46.1 440.4h0.9M47.6 443.3h0.9M42.2 445.9h0.9M37.1 448.0h0.9M39.3 440.9h0.9M39.5 447.7h0.9M43.6 441.1h0.9M43.5 444.4h0.9M43.9 441.0h0.9M35.2 450.6h0.9M38.8 450.9h0.9M43.0 442.9h0.9M44.6 445.0h0.9M43.3 446.2h0.9M42.9 440.7h0.9M47.6 434.6h0.9M39.9 447.3h0.9M38.0 446.2h0.9M49.6 435.0h0.9M35.5 454.0h0.9M36.1 447.0h0.9M42.0 442.9h0.9M51.5 439.0h0.9M35.4 442.3h0.9M45.3 444.0h0.9M36.7 453.9h0.9M32.1 452.0h0.9M40.9 441.2h0.9M43.2 445.5h0.9M36.0 442.0h0.9M34.7 449.4h0.9M41.5 442.1h0.9M39.9 443.9h0.9M46.2 440.9h0.9M40.9 445.5h0.9M38.8 447.4h0.9M40.8 444.1h0.9M45.8 436.0h0.9M39.5 443.8h0.9M42.4 440.8h0.9M42.1 442.9h0.9M41.9 446.8h0.9M43.8 437.6h0.9M44.5 440.2h0.9M44.4 443.5h0.9M33.8 448.4h0.9M44.3 444.0h0.9M36.1 444.2h0.9M31.7 446.1h0.9M40.9 436.2h0.9M39.5 446.1h0.9M40.1 445.0h0.9M43.0 445.8h0.9M48.4 441.4h0.9M39.4 444.1h0.9M41.0 446.3h0.9M44.7 443.0h0.9M37.4 448.1h0.9M38.5 440.6h0.9M36.1 445.3h0.9M39.8 447.0h0.9M40.6 444.1h0.9M43.0 436.7h0.9M37.4 442.9h0.9M45.2 438.2h0.9M37.7 444.3h0.9M41.4 443.1h0.9M40.2 443.0h0.9M45.2 437.1h0.9M39.8 442.1h0.9M50.3 440.4h0.9M51.1 441.2h0.9M43.7 440.3h0.9M48.2 437.7h0.9M41.9 446.9h0.9M35.8 446.3h0.9M42.8 445.9h0.9M46.1 443.3h0.9M41.5 446.0h0.9M46.8 434.5h0.9M44.7 447.4h0.9M43.5 442.4h0.9M43.0 441.1h0.9M39.5 442.6h0.9M45.6 440.1h0.9M41.7 446.0h0.9M47.4 443.4h0.9M43.2 445.7h0.9M35.5 447.1h0.9M42.3 443.5h0.9M48.9 443.6h0.9M41.7 443.1h0.9M48.0 442.9h0.9M45.1 440.5h0.9M46.2 436.3h0.9M40.9 436.9h0.9M43.3 444.4h0.9M42.8 446.7h0.9M45.8 447.6h0.9M41.4 442.9h0.9M47.3 440.7h0.9M49.5 440.0h0.9M45.3 448.0h0.9M40.7 447.9h0.9M47.7 437.2h0.9M37.0 446.2h0.9M44.9 442.3h0.9M43.1 444.1h0.9M43.4 449.1h0.9M39.9 441.1h0.9M48.9 439.1h0.9M39.8 446.5h0.9M45.6 439.7h0.9M39.5 444.8h0.9M40.7 443.1h0.9M43.4 448.0h0.9M41.4 441.7h0.9M38.1 447.5h0.9M46.8 441.3h0.9M36.3 441.5h0.9M44.1 438.5h0.9M35.8 443.3h0.9M36.6 450.3h0.9M43.2 438.2h0.9M39.8 448.1h0.9M46.7 446.8h0.9M44.1 440.1h0.9M39.7 443.9h0.9M45.1 440.2h0.9M42.0 438.6h0.9M40.3 444.8h0.9M38.6 443.1h0.9M40.0 443.9h0.9M42.9 442.9h0.9M49.7 437.8h0.9M46.8 436.9h0.9M48.2 439.3h0.9M45.0 438.8h0.9M39.5 445.0h0.9M42.0 444.0h0.9M49.1 440.5h0.9M38.7 452.9h0.9M41.8 446.4h0.9M41.6 442.3h0.9M49.1 436.9h0.9M45.7 443.4h0.9M42.5 438.7h0.9M51.3 443.0h0.9M43.4 437.2h0.9M48.5 443.8h0.9M40.2 443.3h0.9M45.6 443.8h0.9M37.2 444.5h0.9M34.6 445.1h0.9M42.1 442.8h0.9M38.1 449.3h0.9M47.8 444.2h0.9M53.3 439.4h0.9M37.5 447.6h0.9M43.2 440.3h0.9M41.4 445.2h0.9M42.5 445.5h0.9M30.4 450.3h0.9M45.7 437.5h0.9M41.5 440.5h0.9M45.2 439.3h0.9M54.7 440.6h0.9M49.1 441.6h0.9M39.4 435.2h0.9M40.5 443.3h0.9M39.7 438.0h0.9M45.4 448.2h0.9M48.3 438.3h0.9M40.6 436.6h0.9M42.1 443.5h0.9M44.5 437.1h0.9M39.8 437.5h0.9M56.0 432.1h0.9M59.1 439.1h0.9M52.2 434.9h0.9M46.5 439.6h0.9M45.7 445.6h0.9M39.7 436.2h0.9M51.0 435.9h0.9M44.6 443.3h0.9M34.7 437.5h0.9M47.6 436.2h0.9M45.7 444.2h0.9M48.6 431.5h0.9M38.0 439.3h0.9M38.3 441.0h0.9M41.9 443.9h0.9M46.0 435.7h0.9M51.8 438.0h0.9M48.2 428.7h0.9M43.7 437.5h0.9M42.0 442.4h0.9M38.9 443.6h0.9M42.1 433.8h0.9M46.9 432.8h0.9M44.0 441.1h0.9M42.9 439.5h0.9M34.3 443.6h0.9M39.5 446.5h0.9M46.5 440.6h0.9M52.6 433.2h0.9M48.7 429.3h0.9M41.7 439.5h0.9M51.7 435.3h0.9M46.9 440.5h0.9M46.2 440.0h0.9M42.6 435.4h0.9M50.8 433.4h0.9M43.5 435.4h0.9M46.7 443.6h0.9M52.5 438.0h0.9M51.8 438.7h0.9M56.0 435.7h0.9M44.6 430.9h0.9M36.6 437.6h0.9M46.3 447.9h0.9M46.2 434.0h0.9M51.1 448.1h0.9M45.6 440.2h0.9M44.1 441.4h0.9M38.7 447.5h0.9M48.6 427.2h0.9M45.4 442.7h0.9M43.8 434.0h0.9M51.4 440.2h0.9M45.3 437.9h0.9M48.0 429.7h0.9M43.9 433.0h0.9M39.0 435.4h0.9M42.0 439.3h0.9M51.6 438.6h0.9M46.8 447.4h0.9M45.9 438.6h0.9M42.2 438.6h0.9M35.7 446.9h0.9M46.1 439.6h0.9M43.6 430.3h0.9M45.6 443.8h0.9M42.1 440.9h0.9M50.0 439.7h0.9M52.3 438.7h0.9M47.5 434.5h0.9M41.1 430.1h0.9M44.3 440.5h0.9M44.7 434.4h0.9M38.3 443.0h0.9M40.0 439.7h0.9M50.9 433.8h0.9M44.0 438.8h0.9M29.8 447.4h0.9M47.0 436.4h0.9M45.3 442.9h0.9M40.8 435.6h0.9M40.8 434.9h0.9M34.9 450.0h0.9M46.2 438.0h0.9M39.5 447.3h0.9M54.1 438.6h0.9M43.7 446.3h0.9M40.8 438.9h0.9M53.3 443.5h0.9M53.1 435.6h0.9M37.8 435.7h0.9M48.1 443.4h0.9M44.2 443.8h0.9M41.5 443.8h0.9M47.9 434.6h0.9M31.2 434.9h0.9M40.3 442.3h0.9M43.0 436.4h0.9M42.3 438.7h0.9M54.0 430.9h0.9M39.3 441.9h0.9M42.5 443.2h0.9M44.9 437.2h0.9M41.4 437.2h0.9M47.8 444.0h0.9M49.9 437.0h0.9M52.2 436.7h0.9M46.7 435.8h0.9M37.2 453.9h0.9M36.2 438.5h0.9M34.1 443.0h0.9M48.4 433.3h0.9M49.4 438.1h0.9M44.3 438.3h0.9M44.9 435.1h0.9M46.0 442.1h0.9M41.4 439.7h0.9M41.2 449.3h0.9M44.7 442.4h0.9M51.2 448.8h0.9M44.2 441.1h0.9M53.9 442.7h0.9M42.3 438.6h0.9M43.8 433.2h0.9M52.6 438.6h0.9M48.7 437.8h0.9M37.2 436.9h0.9M44.6 444.2h0.9M45.6 443.3h0.9M48.4 434.0h0.9M50.0 432.4h0.9M39.4 437.8h0.9M43.4 443.0h0.9M44.2 439.5h0.9M52.0 436.6h0.9M46.6 437.8h0.9M42.5 447.3h0.9M42.9 438.5h0.9M45.1 436.2h0.9M46.5 440.3h0.9M49.7 440.7h0.9M40.0 445.1h0.9M40.1 446.0h0.9M43.2 443.6h0.9M47.0 441.8h0.9M47.9 446.3h0.9M48.1 441.4h0.9M54.7 446.9h0.9M40.8 441.2h0.9M35.2 449.3h0.9M45.1 438.3h0.9M37.7 443.8h0.9M48.4 441.7h0.9M48.4 436.4h0.9M46.3 440.4h0.9M47.2 436.6h0.9M48.8 433.3h0.9M42.9 442.0h0.9M50.1 436.8h0.9M45.2 435.8h0.9M50.7 447.4h0.9M45.0 437.8h0.9M47.7 441.0h0.9M50.7 434.9h0.9M44.2 443.7h0.9M49.6 441.3h0.9M35.0 436.1h0.9M47.9 430.6h0.9M49.4 431.9h0.9M34.2 441.3h0.9M49.1 432.7h0.9M32.8 442.2h0.9M52.5 435.5h0.9M43.4 435.9h0.9M41.5 435.7h0.9M43.4 436.4h0.9M49.5 443.6h0.9M31.7 432.1h0.9M42.6 433.6h0.9M45.3 429.0h0.9M49.1 438.9h0.9M50.5 445.3h0.9M41.6 436.7h0.9M34.8 446.4h0.9M44.9 431.5h0.9M42.7 444.6h0.9M39.5 449.4h0.9M41.6 430.1h0.9M36.0 438.7h0.9M48.3 439.1h0.9M61.9 439.2h0.9M44.1 438.5h0.9M49.5 425.0h0.9M54.7 430.1h0.9M45.5 430.8h0.9M46.3 435.9h0.9M45.3 441.1h0.9M34.0 437.1h0.9M48.9 447.6h0.9M46.3 438.1h0.9M40.7 432.3h0.9M45.3 440.3h0.9M41.7 441.9h0.9M42.5 440.0h0.9M57.9 426.0h0.9M35.7 435.7h0.9M46.6 433.0h0.9M45.9 433.6h0.9M44.0 431.7h0.9M45.7 430.7h0.9M42.8 440.9h0.9M39.0 438.5h0.9M50.0 437.4h0.9M40.2 428.0h0.9M53.7 438.1h0.9M42.8 437.2h0.9M43.8 437.8h0.9M49.4 433.5h0.9M38.1 440.7h0.9M44.2 439.0h0.9M46.4 445.8h0.9M40.4 444.9h0.9M47.9 452.1h0.9M53.4 438.6h0.9M40.3 439.9h0.9M30.4 443.5h0.9M39.7 439.7h0.9M42.0 439.8h0.9M45.5 438.6h0.9M41.0 450.8h0.9M40.8 434.4h0.9M41.1 439.3h0.9M44.4 436.8h0.9M53.7 440.3h0.9M46.7 438.6h0.9M46.0 443.0h0.9M44.4 445.4h0.9M33.0 434.7h0.9M52.6 432.6h0.9M51.1 439.5h0.9M41.6 433.6h0.9M47.6 442.5h0.9M46.7 443.3h0.9M39.4 445.0h0.9M45.5 443.2h0.9M43.7 445.5h0.9M42.1 433.4h0.9M37.8 432.3h0.9M37.0 444.2h0.9M40.3 443.9h0.9M43.9 436.7h0.9M51.6 436.6h0.9M40.0 444.3h0.9M48.3 440.2h0.9M44.3 430.0h0.9M37.6 443.1h0.9M55.0 441.6h0.9M46.6 439.0h0.9M34.9 439.9h0.9M47.3 439.8h0.9M45.2 435.2h0.9M46.8 434.2h0.9M50.1 441.4h0.9M42.8 440.2h0.9M46.3 444.0h0.9M36.1 445.0h0.9M46.8 440.8h0.9M45.6 443.6h0.9M41.9 442.1h0.9M40.2 439.1h0.9M44.0 439.1h0.9M43.2 433.2h0.9M47.1 436.0h0.9M46.5 442.3h0.9M41.5 438.0h0.9M47.1 439.5h0.9M43.4 449.2h0.9M43.5 434.3h0.9M50.5 442.2h0.9M43.4 439.1h0.9M39.9 441.3h0.9M46.5 442.6h0.9M37.2 440.9h0.9M49.1 440.6h0.9M37.9 439.8h0.9M48.5 437.8h0.9M53.0 434.0h0.9M37.2 439.3h0.9M43.2 438.5h0.9M48.0 442.2h0.9M40.2 444.1h0.9M54.1 437.1h0.9M50.5 433.2h0.9M39.3 442.3h0.9M50.1 439.9h0.9M34.5 445.8h0.9M38.8 441.7h0.9M36.8 446.7h0.9M45.5 447.0h0.9M43.4 439.3h0.9M45.8 445.1h0.9M50.9 444.1h0.9M46.0 435.3h0.9M50.0 429.7h0.9M45.8 436.8h0.9M48.9 443.3h0.9M50.1 431.7h0.9M46.9 443.9h0.9M50.1 431.7h0.9M37.8 441.2h0.9M53.5 432.0h0.9M48.0 438.9h0.9M39.2 437.8h0.9M58.4 427.1h0.9M53.2 420.7h0.9M53.3 421.7h0.9M57.0 415.2h0.9M54.7 426.3h0.9M54.4 415.1h0.9M57.9 412.9h0.9M56.2 417.2h0.9M54.2 419.4h0.9M55.1 425.7h0.9M54.0 426.8h0.9M55.6 425.0h0.9M56.2 418.8h0.9M56.3 413.4h0.9M54.4 415.0h0.9M55.0 426.0h0.9M55.4 424.9h0.9M51.0 421.4h0.9M51.5 422.3h0.9M57.6 417.5h0.9M53.0 433.4h0.9M52.9 431.5h0.9M54.2 414.0h0.9M55.3 421.2h0.9M55.5 418.5h0.9M55.4 423.1h0.9M56.3 413.2h0.9M57.2 417.9h0.9M57.4 424.2h0.9M53.4 421.1h0.9M55.9 418.3h0.9M55.6 416.5h0.9M54.3 417.8h0.9M59.9 417.0h0.9M53.0 427.5h0.9M50.2 420.5h0.9M55.9 421.4h0.9M54.0 411.3h0.9M53.3 421.1h0.9M55.5 424.6h0.9M55.1 423.2h0.9M55.9 415.5h0.9M55.9 418.2h0.9M60.6 415.1h0.9M54.4 421.2h0.9M52.5 426.2h0.9M52.2 418.7h0.9M53.7 414.4h0.9M57.0 420.9h0.9M55.7 421.3h0.9M55.8 418.6h0.9M56.0 413.2h0.9M52.9 421.3h0.9M57.3 420.1h0.9M55.3 417.6h0.9M54.0 431.9h0.9M56.1 426.2h0.9M54.3 417.2h0.9M50.3 421.5h0.9M56.1 417.6h0.9M55.1 418.6h0.9M57.5 432.9h0.9M50.3 427.9h0.9M55.3 421.1h0.9M52.7 423.2h0.9M51.3 419.7h0.9M51.6 415.3h0.9M54.0 420.7h0.9M55.1 422.5h0.9M55.6 430.1h0.9M55.9 425.5h0.9M54.5 412.9h0.9M53.3 412.9h0.9M53.0 414.6h0.9M53.1 423.4h0.9M55.8 421.9h0.9M50.7 412.9h0.9M51.1 425.5h0.9M56.7 415.3h0.9M54.1 418.4h0.9M55.6 417.9h0.9M54.5 427.4h0.9M53.4 415.0h0.9M52.7 416.1h0.9M54.7 425.7h0.9M52.8 418.0h0.9M53.8 419.1h0.9M50.6 419.1h0.9M54.4 432.6h0.9M54.2 430.6h0.9M55.9 428.3h0.9M51.4 418.6h0.9M53.5 417.3h0.9M54.6 414.1h0.9M54.8 425.0h0.9M55.4 418.1h0.9M55.4 423.9h0.9M56.6 428.7h0.9M55.5 420.5h0.9M52.0 419.7h0.9M54.9 418.3h0.9M56.7 426.9h0.9M56.6 417.9h0.9M57.1 417.6h0.9M55.0 419.2h0.9M55.8 414.3h0.9M54.2 422.1h0.9M51.4 419.6h0.9M55.8 421.5h0.9M53.8 421.8h0.9M53.4 418.6h0.9M49.5 427.8h0.9M55.2 409.4h0.9M54.2 427.0h0.9M59.4 417.8h0.9M57.8 420.0h0.9M52.1 417.3h0.9M58.0 414.1h0.9M53.2 412.0h0.9M53.7 422.0h0.9M55.8 411.3h0.9M55.9 420.1h0.9M59.4 413.5h0.9M57.0 411.9h0.9M58.3 414.8h0.9M55.8 425.4h0.9M58.2 415.3h0.9M56.2 416.6h0.9M55.7 412.9h0.9M55.2 417.2h0.9M55.9 409.7h0.9M50.8 420.0h0.9M53.4 419.5h0.9M54.2 424.2h0.9M54.1 433.1h0.9M57.7 423.8h0.9M52.2 428.1h0.9M57.9 417.6h0.9M56.6 409.6h0.9M54.2 422.1h0.9M57.8 426.7h0.9M52.3 424.2h0.9M58.2 414.6h0.9M55.0 413.1h0.9M54.8 417.1h0.9M56.9 417.7h0.9M56.0 425.3h0.9M53.5 422.1h0.9M51.3 426.9h0.9M55.9 423.7h0.9M54.1 415.9h0.9M56.9 422.0h0.9M57.8 425.9h0.9M52.8 413.3h0.9M53.3 418.0h0.9M55.5 414.5h0.9M50.5 417.8h0.9M57.3 429.9h0.9M53.1 425.5h0.9M55.7 413.2h0.9M55.0 416.1h0.9M56.0 418.3h0.9M54.8 420.2h0.9M50.5 413.3h0.9M53.4 430.4h0.9M52.8 420.0h0.9M53.4 413.8h0.9M56.9 415.4h0.9M51.1 429.7h0.9M57.0 413.1h0.9M53.7 412.5h0.9M52.5 434.1h0.9M52.2 425.6h0.9M56.2 424.0h0.9M54.9 428.9h0.9M56.4 414.2h0.9M50.1 430.6h0.9M53.8 409.3h0.9M57.1 423.2h0.9M53.3 429.4h0.9M57.2 412.6h0.9M55.4 420.0h0.9M53.7 421.4h0.9M52.8 415.0h0.9M55.0 421.7h0.9M52.3 427.7h0.9M56.0 423.1h0.9M56.5 419.7h0.9M55.2 426.0h0.9M55.5 411.4h0.9M57.9 417.1h0.9M50.7 431.1h0.9M57.8 422.4h0.9M53.5 420.6h0.9M56.2 430.0h0.9M56.7 418.6h0.9M53.0 415.3h0.9M55.8 417.5h0.9M56.1 420.3h0.9M54.1 420.7h0.9M52.8 421.7h0.9M53.2 418.0h0.9M55.4 416.3h0.9M52.7 422.7h0.9M53.9 416.3h0.9M53.4 424.6h0.9M55.3 415.4h0.9M50.5 416.1h0.9M53.2 430.8h0.9M57.3 426.9h0.9M53.6 421.3h0.9M57.2 419.8h0.9M55.6 428.4h0.9M56.5 420.0h0.9M50.9 428.6h0.9M54.9 424.9h0.9M55.9 423.2h0.9M55.4 419.8h0.9M57.3 416.5h0.9M50.5 428.5h0.9M53.2 420.4h0.9M53.9 413.1h0.9M58.0 419.9h0.9M52.5 429.2h0.9M53.8 416.0h0.9M58.8 429.8h0.9M57.0 426.2h0.9M56.9 419.1h0.9M56.4 410.9h0.9M52.9 423.2h0.9M56.7 418.2h0.9M51.1 415.1h0.9M55.1 427.2h0.9M58.5 426.4h0.9M53.5 416.3h0.9M54.1 414.3h0.9M54.4 431.7h0.9M57.1 424.0h0.9M53.0 426.4h0.9M50.7 421.6h0.9M58.8 417.4h0.9M52.4 414.7h0.9M57.3 419.9h0.9M57.8 409.8h0.9M58.7 420.6h0.9M58.0 427.4h0.9M52.6 413.6h0.9M57.5 422.5h0.9M54.0 420.3h0.9M56.9 429.0h0.9M53.3 420.5h0.9M53.9 419.5h0.9M59.6 427.5h0.9M56.7 418.2h0.9M55.5 420.8h0.9M56.5 417.2h0.9M55.0 411.6h0.9M53.6 416.9h0.9M54.2 413.9h0.9M55.7 430.3h0.9M54.0 416.7h0.9M56.1 423.8h0.9M52.3 423.7h0.9M51.2 417.7h0.9M51.0 416.9h0.9M57.3 417.4h0.9M54.5 409.8h0.9M54.6 413.0h0.9M54.4 421.9h0.9M57.0 426.7h0.9M55.7 425.3h0.9M54.7 428.0h0.9M50.7 418.1h0.9M55.4 414.8h0.9M54.9 417.7h0.9M54.5 423.2h0.9M53.6 428.7h0.9M57.0 421.8h0.9M53.6 422.1h0.9M53.7 424.0h0.9M51.7 416.5h0.9M54.8 426.4h0.9M51.8 416.9h0.9M53.3 418.4h0.9M55.7 428.7h0.9M55.7 410.2h0.9M58.0 421.8h0.9M54.4 416.2h0.9M57.7 421.6h0.9M52.8 420.4h0.9M52.4 415.5h0.9M55.1 414.9h0.9M54.6 416.4h0.9M51.0 427.8h0.9M57.1 417.9h0.9M54.3 417.7h0.9M52.0 414.0h0.9M53.0 438.0h0.9M57.1 411.0h0.9M53.8 431.0h0.9M54.1 418.0h0.9M55.5 426.6h0.9M53.3 418.8h0.9M59.6 423.7h0.9M55.3 413.6h0.9M56.8 420.7h0.9M58.7 415.8h0.9M54.6 419.3h0.9M52.1 418.1h0.9M54.6 420.6h0.9M58.2 415.0h0.9M54.6 421.7h0.9M56.7 414.4h0.9M54.2 415.2h0.9M57.6 429.0h0.9M54.2 428.5h0.9M53.3 418.7h0.9M56.1 415.2h0.9M53.3 413.6h0.9M53.9 417.2h0.9M53.8 427.6h0.9M57.1 426.2h0.9M54.4 422.1h0.9M55.5 420.3h0.9M54.2 425.9h0.9M57.6 424.5h0.9M51.8 419.3h0.9M56.9 422.5h0.9M51.5 411.6h0.9M55.2 421.8h0.9M48.7 418.5h0.9M52.8 419.1h0.9M58.7 417.5h0.9M57.1 426.7h0.9M54.7 417.4h0.9M55.7 409.3h0.9M54.7 418.2h0.9M50.0 419.0h0.9M51.8 418.2h0.9M56.3 412.3h0.9M55.7 415.9h0.9M54.5 419.3h0.9M55.8 419.9h0.9M55.7 410.7h0.9M51.4 415.7h0.9M52.8 416.2h0.9M52.8 411.6h0.9M58.1 409.8h0.9M55.8 430.5h0.9M54.6 428.3h0.9M56.6 429.0h0.9M54.5 418.2h0.9M55.1 424.8h0.9M54.6 420.6h0.9M55.3 420.1h0.9M58.3 414.9h0.9M54.4 422.9h0.9M55.9 422.4h0.9M54.3 422.6h0.9M55.4 412.6h0.9M54.0 421.6h0.9M58.8 421.6h0.9M55.6 418.4h0.9M53.4 423.4h0.9M56.0 419.8h0.9M58.0 433.2h0.9M55.0 419.9h0.9M54.4 417.4h0.9M57.4 423.0h0.9M54.9 426.6h0.9M53.0 426.8h0.9M58.3 428.1h0.9M58.5 421.3h0.9M57.2 410.3h0.9M55.3 420.3h0.9M58.3 425.0h0.9M52.6 431.1h0.9M50.5 413.7h0.9M53.3 428.7h0.9M53.0 420.0h0.9M53.2 423.0h0.9M53.7 414.6h0.9M55.5 411.3h0.9M56.6 410.8h0.9M60.9 410.2h0.9M56.5 420.0h0.9M52.6 419.9h0.9M54.8 415.7h0.9M58.3 409.9h0.9M51.5 424.8h0.9M59.2 418.2h0.9M57.4 418.0h0.9M52.7 411.1h0.9M52.0 423.2h0.9M52.7 424.9h0.9M55.2 416.5h0.9M55.1 428.5h0.9M55.5 433.8h0.9M51.9 431.0h0.9M59.7 426.0h0.9M54.1 416.5h0.9M50.2 422.9h0.9M54.8 415.4h0.9M60.9 424.1h0.9M52.9 417.1h0.9M57.6 423.7h0.9M58.3 420.4h0.9M53.2 419.9h0.9M54.6 410.9h0.9M53.3 418.8h0.9M55.8 411.6h0.9M56.2 427.4h0.9M56.4 427.6h0.9M54.1 420.7h0.9M54.7 419.1h0.9M53.8 422.1h0.9M53.4 414.6h0.9M55.7 411.0h0.9M51.2 421.4h0.9M45.5 421.1h0.9M42.1 419.9h0.9M42.5 425.8h0.9M44.3 423.9h0.9M49.6 422.9h0.9M45.3 423.0h0.9M46.8 424.1h0.9M51.7 425.8h0.9M42.5 424.9h0.9M48.3 421.8h0.9M47.5 423.1h0.9M40.7 426.4h0.9M42.7 424.4h0.9M46.0 421.2h0.9M50.3 422.0h0.9M40.5 426.3h0.9M44.7 421.4h0.9M56.0 420.3h0.9M54.2 415.5h0.9M37.8 419.8h0.9M50.7 417.6h0.9M44.0 419.7h0.9M41.7 423.1h0.9M43.9 417.2h0.9M42.8 419.8h0.9M45.2 424.6h0.9M45.7 420.3h0.9M40.0 421.2h0.9M40.6 425.7h0.9M45.9 423.0h0.9M39.3 428.2h0.9M44.5 421.8h0.9M41.7 422.3h0.9M35.3 422.6h0.9M46.9 421.3h0.9M40.8 422.8h0.9M44.8 419.2h0.9M46.0 421.5h0.9M39.8 420.5h0.9M51.7 423.0h0.9M48.2 421.1h0.9M44.8 426.4h0.9M55.7 426.6h0.9M46.5 423.4h0.9M51.5 422.8h0.9M44.5 420.7h0.9M47.4 423.7h0.9M48.4 420.8h0.9M50.6 423.2h0.9M44.4 423.7h0.9M39.4 422.4h0.9M46.3 417.9h0.9M42.4 421.6h0.9M51.3 421.9h0.9M44.8 422.0h0.9M40.8 426.0h0.9M51.0 421.1h0.9M44.6 426.2h0.9M44.7 418.9h0.9M38.1 426.1h0.9M50.5 417.3h0.9M53.9 422.8h0.9M48.4 424.2h0.9M47.7 423.1h0.9M45.1 418.4h0.9M46.6 422.9h0.9M44.7 421.7h0.9M41.4 422.3h0.9M47.4 417.4h0.9M32.8 427.7h0.9M36.8 420.9h0.9M58.8 419.9h0.9M44.7 419.0h0.9M30.2 425.1h0.9M41.7 424.4h0.9M46.8 423.9h0.9M51.1 421.6h0.9M45.7 414.7h0.9M41.5 420.1h0.9M39.1 419.5h0.9M50.1 421.3h0.9M49.7 416.9h0.9M52.6 421.4h0.9M43.7 419.3h0.9M36.1 425.5h0.9M47.1 420.4h0.9M54.7 415.8h0.9M46.2 420.9h0.9M36.8 424.1h0.9M46.1 422.9h0.9M44.6 420.7h0.9M39.1 425.0h0.9M33.6 420.6h0.9M39.0 428.4h0.9M49.1 422.5h0.9M50.3 422.8h0.9M56.7 418.6h0.9M45.3 422.0h0.9M43.0 420.3h0.9M56.4 422.1h0.9M37.9 421.6h0.9M51.4 426.0h0.9M40.8 426.0h0.9M47.6 420.6h0.9M40.7 426.4h0.9M49.4 428.0h0.9M48.3 422.4h0.9M55.4 418.0h0.9M41.2 423.8h0.9M43.2 424.9h0.9M44.6 419.6h0.9M35.8 424.4h0.9M52.9 419.1h0.9M40.1 425.5h0.9M40.2 427.9h0.9M51.2 421.3h0.9M41.0 427.3h0.9M42.5 424.3h0.9M54.8 422.4h0.9M44.7 419.3h0.9M48.5 422.5h0.9M31.2 420.2h0.9M48.2 423.3h0.9M44.4 425.4h0.9M39.9 427.6h0.9M47.2 420.6h0.9M45.2 420.1h0.9M47.6 421.7h0.9M39.1 421.5h0.9M51.2 419.7h0.9M52.0 422.9h0.9M38.3 419.7h0.9M41.0 422.3h0.9M43.4 422.6h0.9M43.1 424.3h0.9M33.3 418.4h0.9M46.5 427.9h0.9M39.7 426.5h0.9M41.2 430.5h0.9M47.2 417.2h0.9M42.8 420.5h0.9M48.5 425.6h0.9M52.3 426.4h0.9M41.3 424.0h0.9M51.8 421.1h0.9M44.1 424.9h0.9M45.0 422.3h0.9M48.2 417.8h0.9M48.8 421.8h0.9M43.0 418.0h0.9M45.7 422.4h0.9M54.3 416.5h0.9M47.9 422.4h0.9M40.4 419.9h0.9M41.5 420.1h0.9M39.9 422.8h0.9M46.8 421.7h0.9M45.7 421.2h0.9M38.4 426.6h0.9M42.9 417.4h0.9M44.2 425.3h0.9M40.7 422.9h0.9M51.6 423.2h0.9M47.7 421.5h0.9M42.8 425.5h0.9M43.9 424.7h0.9M48.3 427.2h0.9M50.7 419.4h0.9M47.2 417.7h0.9M48.7 427.0h0.9M44.6 421.2h0.9M41.0 426.3h0.9M46.8 420.7h0.9M42.1 423.5h0.9M41.8 424.6h0.9M43.7 419.4h0.9M35.3 424.8h0.9M53.7 420.3h0.9M45.1 420.0h0.9M39.2 426.8h0.9M35.5 428.1h0.9M45.6 419.8h0.9M42.4 424.8h0.9M46.6 420.4h0.9M46.8 427.8h0.9M42.4 430.3h0.9M46.3 424.8h0.9M40.1 418.7h0.9M52.0 420.0h0.9M46.0 421.8h0.9M41.1 423.1h0.9M55.9 423.5h0.9M40.6 422.6h0.9M49.3 419.4h0.9M39.0 423.7h0.9M43.5 426.3h0.9M45.1 423.8h0.9M49.6 420.5h0.9M40.0 422.9h0.9M42.7 424.6h0.9M41.3 419.8h0.9M42.8 427.8h0.9M39.7 420.8h0.9M57.4 423.8h0.9M42.6 423.7h0.9M36.2 422.5h0.9M44.1 421.7h0.9M57.5 421.5h0.9M48.7 419.4h0.9M41.1 424.7h0.9M53.2 419.2h0.9M45.8 425.5h0.9M49.4 420.3h0.9M56.6 416.5h0.9M49.0 421.1h0.9M45.1 424.0h0.9M46.2 421.5h0.9M47.8 418.8h0.9M46.5 423.8h0.9M48.5 417.4h0.9M39.5 422.0h0.9M47.4 420.5h0.9M47.5 422.4h0.9M43.2 417.7h0.9M55.1 425.1h0.9M29.7 423.3h0.9M40.8 424.5h0.9M35.2 422.8h0.9M44.4 424.1h0.9M48.7 414.7h0.9M52.5 417.9h0.9M41.9 420.9h0.9M43.8 419.2h0.9M47.9 422.1h0.9M48.0 424.1h0.9M48.5 417.5h0.9M42.2 421.2h0.9M34.5 421.1h0.9M50.0 424.7h0.9M54.5 420.8h0.9M35.1 427.9h0.9M49.7 422.6h0.9M51.5 426.1h0.9M43.5 419.8h0.9M40.3 421.1h0.9M42.3 421.8h0.9M45.5 415.8h0.9M37.0 421.3h0.9M52.5 424.7h0.9M44.0 415.8h0.9M51.8 430.2h0.9M43.8 427.6h0.9M46.5 424.3h0.9M41.6 425.4h0.9M46.4 423.6h0.9M39.4 423.9h0.9M47.2 424.6h0.9M51.6 426.4h0.9M47.0 423.3h0.9M53.8 423.1h0.9M41.2 426.9h0.9M55.7 419.1h0.9M38.4 424.3h0.9M38.4 418.9h0.9M47.7 428.0h0.9M45.3 419.7h0.9M44.3 421.1h0.9M43.8 422.0h0.9M46.0 424.4h0.9M46.4 421.7h0.9M44.6 424.5h0.9M38.5 422.6h0.9M50.2 428.8h0.9M40.9 419.0h0.9M50.1 423.8h0.9M52.7 424.3h0.9M39.2 417.5h0.9M42.1 423.5h0.9M35.4 426.8h0.9M37.8 423.9h0.9M33.5 420.9h0.9M42.7 424.5h0.9M40.5 420.9h0.9M53.5 422.4h0.9M53.2 416.5h0.9M52.1 420.5h0.9M35.6 421.8h0.9M42.1 422.3h0.9M33.7 424.8h0.9M46.2 425.0h0.9M45.5 417.4h0.9M46.1 424.3h0.9M59.2 426.8h0.9M39.0 422.1h0.9M42.0 429.6h0.9M45.7 419.9h0.9M39.3 418.9h0.9M46.9 418.6h0.9M35.7 423.7h0.9M45.6 420.9h0.9M52.7 426.1h0.9M53.2 430.8h0.9M55.0 428.3h0.9M58.5 434.2h0.9M41.2 430.5h0.9M49.8 429.4h0.9M46.9 436.6h0.9M59.7 427.2h0.9M47.1 437.4h0.9M50.4 432.0h0.9M53.5 436.7h0.9M46.0 432.2h0.9M47.3 428.3h0.9M46.4 431.9h0.9M49.4 431.1h0.9M52.0 427.2h0.9M56.2 434.7h0.9M47.6 428.1h0.9M49.7 432.0h0.9M52.6 438.2h0.9M46.3 426.0h0.9M56.3 434.6h0.9M55.8 434.6h0.9M42.7 426.6h0.9M51.6 429.4h0.9M53.7 427.8h0.9M50.3 428.6h0.9M56.9 431.9h0.9M48.3 425.9h0.9M56.9 442.8h0.9M43.3 429.4h0.9M47.9 428.4h0.9M48.1 426.4h0.9M51.6 433.2h0.9M48.8 427.5h0.9M50.2 427.5h0.9M45.4 429.0h0.9M47.2 426.2h0.9M42.3 435.3h0.9M45.5 436.8h0.9M48.9 431.7h0.9M50.9 432.1h0.9M49.5 428.7h0.9M58.8 438.0h0.9M47.1 431.1h0.9M47.4 431.6h0.9M53.5 433.2h0.9M46.1 422.8h0.9M50.5 430.4h0.9M57.3 430.1h0.9M44.6 430.1h0.9M54.0 428.4h0.9M47.8 431.5h0.9M50.0 435.3h0.9M59.6 436.2h0.9M48.6 426.5h0.9M57.9 430.0h0.9M51.4 435.7h0.9M40.3 429.3h0.9M50.0 433.6h0.9M49.1 428.4h0.9M57.2 428.1h0.9M51.4 427.0h0.9M47.9 433.2h0.9M41.8 430.6h0.9M45.3 429.9h0.9M55.1 427.5h0.9M48.4 432.4h0.9M45.2 431.1h0.9M53.8 431.2h0.9M46.5 430.4h0.9M41.4 430.6h0.9M49.9 432.8h0.9M42.6 429.2h0.9M46.9 424.6h0.9M51.3 427.8h0.9M50.9 423.4h0.9M49.0 427.4h0.9M50.7 427.2h0.9M56.4 434.1h0.9M59.1 426.7h0.9M49.5 438.1h0.9M49.1 421.4h0.9M48.4 431.2h0.9M58.2 434.5h0.9M48.8 430.4h0.9M57.2 429.2h0.9M52.7 440.4h0.9M50.8 428.8h0.9M50.2 429.2h0.9M55.2 434.2h0.9M49.8 427.8h0.9M46.7 425.5h0.9M57.4 439.0h0.9M39.1 430.6h0.9M47.3 431.9h0.9M47.6 428.4h0.9M58.1 421.4h0.9M52.5 431.9h0.9M48.9 428.1h0.9M43.7 430.0h0.9M50.8 425.5h0.9M51.2 430.9h0.9M45.1 433.5h0.9M50.8 434.1h0.9M55.8 429.0h0.9M46.2 429.7h0.9M56.4 425.9h0.9M55.0 428.1h0.9M49.3 427.7h0.9M44.5 431.1h0.9M53.4 424.4h0.9M55.5 431.8h0.9M53.4 424.4h0.9M45.3 432.1h0.9M50.6 436.0h0.9M41.4 433.4h0.9M56.8 424.7h0.9M51.6 433.3h0.9M47.4 430.5h0.9M57.0 427.8h0.9M58.3 432.7h0.9M53.5 425.6h0.9M43.3 428.7h0.9M45.0 427.2h0.9M45.9 423.0h0.9M48.9 432.3h0.9M51.9 429.3h0.9M55.9 427.0h0.9M46.9 423.9h0.9M50.9 438.1h0.9M51.0 434.0h0.9M51.9 429.2h0.9M52.4 430.8h0.9M48.5 429.2h0.9M54.8 429.5h0.9M53.3 432.1h0.9M55.8 433.8h0.9M49.6 425.6h0.9M53.0 431.9h0.9M52.3 432.9h0.9M41.4 431.0h0.9M61.0 422.8h0.9M46.2 432.2h0.9M57.7 431.7h0.9M45.0 434.6h0.9M41.5 432.8h0.9M49.3 431.3h0.9M52.7 431.3h0.9M51.4 431.1h0.9M53.0 426.4h0.9M52.5 431.3h0.9M52.3 433.6h0.9M43.4 425.8h0.9M51.5 426.1h0.9M49.5 422.7h0.9M51.5 429.7h0.9M47.6 432.8h0.9M56.1 434.5h0.9M40.7 429.5h0.9M48.9 428.2h0.9M52.7 430.4h0.9M47.1 426.2h0.9M48.0 429.8h0.9M54.2 428.0h0.9M53.7 431.2h0.9M53.0 429.0h0.9M55.5 428.2h0.9M54.7 425.6h0.9M55.3 435.2h0.9M67.3 434.8h0.9M76.4 417.7h0.9M66.1 439.4h0.9M61.8 433.8h0.9M47.5 424.6h0.9M79.6 432.3h0.9M68.5 417.7h0.9M54.3 430.7h0.9M64.1 424.2h0.9M52.8 426.3h0.9M61.1 420.4h0.9M49.2 432.5h0.9M58.0 430.5h0.9M67.8 433.0h0.9M83.9 433.7h0.9M68.7 419.8h0.9M69.7 429.6h0.9M55.4 430.0h0.9M67.3 427.0h0.9M66.7 423.4h0.9M54.9 435.5h0.9M73.5 431.9h0.9M49.3 413.1h0.9M55.3 435.5h0.9M69.7 437.1h0.9M55.0 419.6h0.9M63.0 427.6h0.9M56.9 429.8h0.9M58.0 428.2h0.9M68.2 438.2h0.9M54.7 444.7h0.9M74.0 428.6h0.9M61.9 428.5h0.9M70.0 425.4h0.9M68.8 429.3h0.9M61.0 428.4h0.9M47.1 419.3h0.9M49.4 436.0h0.9M67.4 427.6h0.9M68.5 414.4h0.9M76.9 416.9h0.9M60.2 411.6h0.9M55.0 428.7h0.9M70.0 429.7h0.9M61.0 430.8h0.9M72.9 447.7h0.9M72.2 419.5h0.9M61.4 423.5h0.9M54.3 419.1h0.9M73.2 428.5h0.9M59.3 431.9h0.9M60.5 438.0h0.9M51.1 414.7h0.9M61.9 423.6h0.9M64.5 424.2h0.9M49.8 435.6h0.9" stroke="#000" stroke-width="0.9" fill="none" filter="url(#b2)"/>
<ellipse cx="42.6" cy="443.6" rx="3.2" ry="1.2" transform="rotate(-40 42.6 443.6)" fill="#fff"/>
</g>
<rect x="28" y="408.4" width="57.7" height="47.10000000000002" fill="none" stroke="#111" stroke-width="1"/>
<line x1="52.6" y1="408.4" x2="52.6" y2="455.5" stroke="#000" stroke-width="1.1" />
<line x1="28" y1="433.2" x2="85.7" y2="433.2" stroke="#000" stroke-width="1.1" />
<text x="57.4" y="406.2" font-size="8.4" text-anchor="middle" font-weight="normal" fill="#111" >UT</text>
<text x="43.925" y="461.7" font-size="4.6" text-anchor="middle" fill="#333">10<tspan dy="-1.6" font-size="3.4">1</tspan></text>
<text x="58.35" y="461.7" font-size="4.6" text-anchor="middle" fill="#333">10<tspan dy="-1.6" font-size="3.4">2</tspan></text>
<text x="72.775" y="461.7" font-size="4.6" text-anchor="middle" fill="#333">10<tspan dy="-1.6" font-size="3.4">3</tspan></text>
<text x="87.2" y="461.7" font-size="4.6" text-anchor="middle" fill="#333">10<tspan dy="-1.6" font-size="3.4">4</tspan></text>
<text transform="translate(26.6,443.6545454545454) rotate(-90)" font-size="4.6" text-anchor="middle" fill="#333">10<tspan dy="-1.6" font-size="3.4">1</tspan></text>
<text transform="translate(26.6,429.3818181818182) rotate(-90)" font-size="4.6" text-anchor="middle" fill="#333">10<tspan dy="-1.6" font-size="3.4">2</tspan></text>
<text transform="translate(26.6,415.10909090909087) rotate(-90)" font-size="4.6" text-anchor="middle" fill="#333">10<tspan dy="-1.6" font-size="3.4">3</tspan></text>
<clipPath id="c97_408"><rect x="97.2" y="408.4" width="58.39999999999999" height="47.10000000000002"/></clipPath>
<g clip-path="url(#c97_408)">
<ellipse cx="111" cy="443.3" rx="6.6" ry="4.4" transform="rotate(-42 111 443.3)" fill="#000" opacity="0.9" filter="url(#bl)"/>
<ellipse cx="118.5" cy="431" rx="6.5" ry="3.6" transform="rotate(-60 118.5 431)" fill="#000" opacity="0.75" filter="url(#bl)"/>
<ellipse cx="125" cy="418.5" rx="4.4" ry="4.0" transform="rotate(0 125 418.5)" fill="#000" opacity="0.85" filter="url(#bl)"/>
<path d="M111.3 438.5h0.9M107.2 450.2h0.9M104.4 446.1h0.9M112.5 442.6h0.9M107.1 445.5h0.9M113.1 446.2h0.9M114.2 444.8h0.9M113.8 438.4h0.9M106.3 444.9h0.9M113.1 445.9h0.9M111.1 452.6h0.9M104.9 447.3h0.9M118.2 441.3h0.9M110.8 442.3h0.9M113.4 439.6h0.9M114.7 436.9h0.9M106.5 445.7h0.9M100.7 453.6h0.9M109.6 442.1h0.9M107.5 442.6h0.9M119.2 441.5h0.9M107.8 445.3h0.9M112.9 441.7h0.9M117.9 444.4h0.9M111.6 437.4h0.9M115.0 438.4h0.9M108.9 443.7h0.9M114.7 449.2h0.9M108.3 446.5h0.9M111.0 448.8h0.9M110.9 446.0h0.9M111.4 443.9h0.9M109.2 440.3h0.9M110.6 442.2h0.9M107.4 443.5h0.9M111.0 447.2h0.9M103.0 446.0h0.9M107.9 445.3h0.9M114.8 438.0h0.9M121.7 435.8h0.9M113.6 438.2h0.9M107.9 446.4h0.9M111.0 449.3h0.9M114.4 445.2h0.9M120.6 439.8h0.9M108.3 445.8h0.9M108.5 445.8h0.9M111.9 450.7h0.9M116.9 436.8h0.9M112.9 444.8h0.9M109.6 443.6h0.9M106.7 451.8h0.9M103.7 443.6h0.9M103.1 444.5h0.9M101.9 437.4h0.9M110.6 444.2h0.9M115.0 436.1h0.9M118.1 443.7h0.9M111.9 434.5h0.9M111.8 445.9h0.9M103.4 445.1h0.9M112.3 442.8h0.9M101.2 443.8h0.9M115.1 440.7h0.9M120.2 441.2h0.9M117.6 443.7h0.9M118.2 439.4h0.9M117.7 440.6h0.9M109.9 439.0h0.9M106.6 447.2h0.9M105.0 444.6h0.9M109.2 447.5h0.9M107.1 441.2h0.9M106.3 448.1h0.9M110.9 447.0h0.9M107.8 447.5h0.9M115.9 448.0h0.9M115.1 446.7h0.9M105.2 437.0h0.9M106.7 447.9h0.9M107.3 442.0h0.9M113.4 451.3h0.9M103.1 449.7h0.9M109.4 439.8h0.9M106.8 444.0h0.9M102.8 444.1h0.9M112.4 446.4h0.9M107.3 438.0h0.9M110.3 451.1h0.9M109.3 451.5h0.9M109.9 443.1h0.9M109.7 444.0h0.9M117.2 440.3h0.9M113.9 445.2h0.9M108.8 443.7h0.9M117.2 447.0h0.9M106.4 447.5h0.9M107.4 441.0h0.9M114.0 452.3h0.9M120.6 444.5h0.9M105.5 446.5h0.9M99.7 440.5h0.9M110.7 441.4h0.9M103.3 438.9h0.9M115.3 444.1h0.9M121.1 444.3h0.9M107.6 445.4h0.9M114.1 446.4h0.9M114.5 433.4h0.9M105.7 446.5h0.9M109.2 447.8h0.9M115.2 439.8h0.9M110.2 444.1h0.9M102.5 444.8h0.9M104.2 442.9h0.9M110.1 447.2h0.9M117.3 437.7h0.9M109.4 448.1h0.9M109.0 435.9h0.9M114.8 442.8h0.9M107.6 450.4h0.9M109.8 443.7h0.9M104.7 442.6h0.9M108.4 449.9h0.9M112.0 440.6h0.9M106.7 442.6h0.9M100.3 444.4h0.9M116.0 429.6h0.9M106.5 437.5h0.9M107.8 439.7h0.9M109.6 444.2h0.9M117.9 447.3h0.9M105.6 439.5h0.9M114.4 439.4h0.9M108.3 439.0h0.9M117.4 448.5h0.9M107.4 448.5h0.9M112.8 444.8h0.9M106.2 439.3h0.9M113.8 438.5h0.9M110.9 443.7h0.9M112.0 441.9h0.9M105.7 444.4h0.9M107.3 447.3h0.9M112.3 448.9h0.9M114.0 441.9h0.9M105.8 448.7h0.9M101.0 444.9h0.9M108.3 435.9h0.9M106.6 444.0h0.9M108.7 450.3h0.9M109.5 443.1h0.9M115.9 441.3h0.9M113.6 436.8h0.9M107.4 447.9h0.9M102.4 442.3h0.9M106.2 443.4h0.9M115.8 441.3h0.9M107.9 444.8h0.9M110.7 450.8h0.9M105.7 446.7h0.9M107.4 437.9h0.9M101.3 449.5h0.9M102.8 444.9h0.9M113.9 440.9h0.9M118.7 439.5h0.9M111.3 449.2h0.9M107.7 446.2h0.9M110.8 437.5h0.9M111.6 447.3h0.9M110.6 446.6h0.9M109.9 447.0h0.9M107.2 447.5h0.9M109.1 446.5h0.9M104.3 448.9h0.9M112.0 439.8h0.9M111.4 449.6h0.9M108.1 452.6h0.9M108.9 447.4h0.9M101.2 448.8h0.9M105.7 452.0h0.9M105.6 444.2h0.9M120.3 438.0h0.9M110.7 446.2h0.9M110.5 445.3h0.9M125.0 437.9h0.9M112.5 446.8h0.9M113.9 444.2h0.9M116.4 445.1h0.9M120.1 435.3h0.9M101.2 448.6h0.9M111.8 449.3h0.9M114.3 443.9h0.9M115.8 442.8h0.9M114.7 440.1h0.9M112.2 442.2h0.9M110.3 446.5h0.9M111.3 440.1h0.9M103.5 438.8h0.9M121.6 441.0h0.9M116.1 440.1h0.9M114.1 445.5h0.9M120.6 440.2h0.9M112.5 446.5h0.9M116.6 432.8h0.9M106.1 450.4h0.9M113.7 443.9h0.9M112.1 448.6h0.9M114.9 446.3h0.9M108.7 433.6h0.9M105.4 440.3h0.9M114.4 444.6h0.9M111.9 448.2h0.9M109.7 441.4h0.9M115.9 441.3h0.9M105.8 448.8h0.9M117.9 436.8h0.9M116.0 450.5h0.9M107.7 444.0h0.9M103.3 443.5h0.9M110.6 448.8h0.9M108.6 446.5h0.9M117.0 441.9h0.9M103.1 451.0h0.9M109.5 437.4h0.9M102.2 443.8h0.9M112.9 440.1h0.9M109.7 449.6h0.9M104.3 444.8h0.9M109.3 439.9h0.9M119.2 437.0h0.9M105.9 438.4h0.9M106.2 450.3h0.9M110.3 446.5h0.9M113.8 446.0h0.9M119.7 443.7h0.9M111.6 452.2h0.9M103.2 447.5h0.9M114.3 442.2h0.9M113.3 438.9h0.9M108.5 446.3h0.9M107.6 436.6h0.9M108.1 444.5h0.9M110.4 438.3h0.9M110.2 439.2h0.9M106.8 448.8h0.9M102.4 451.5h0.9M120.9 434.4h0.9M110.7 442.8h0.9M115.0 447.4h0.9M108.3 447.1h0.9M113.9 445.9h0.9M112.4 446.6h0.9M106.7 451.0h0.9M105.2 444.5h0.9M115.6 437.2h0.9M111.4 446.5h0.9M105.2 451.5h0.9M115.2 434.6h0.9M112.6 443.9h0.9M109.9 442.7h0.9M109.9 442.7h0.9M107.4 446.8h0.9M106.7 442.1h0.9M102.1 444.8h0.9M111.9 445.8h0.9M110.8 443.5h0.9M108.9 443.6h0.9M112.6 451.2h0.9M114.2 441.4h0.9M117.5 436.5h0.9M98.8 447.9h0.9M106.5 444.9h0.9M118.3 432.3h0.9M106.3 448.4h0.9M102.0 448.1h0.9M116.1 444.9h0.9M110.7 439.5h0.9M116.3 442.9h0.9M110.7 449.9h0.9M104.4 447.9h0.9M107.9 439.9h0.9M113.0 443.9h0.9M100.7 444.8h0.9M111.8 443.4h0.9M109.1 450.9h0.9M116.3 444.5h0.9M112.0 439.9h0.9M113.3 450.3h0.9M109.3 438.2h0.9M110.4 450.9h0.9M115.5 439.4h0.9M105.1 442.7h0.9M108.6 443.7h0.9M111.0 447.7h0.9M114.1 445.7h0.9M104.3 452.3h0.9M113.8 436.0h0.9M118.3 432.8h0.9M117.6 437.1h0.9M107.8 444.2h0.9M104.9 445.4h0.9M108.3 444.9h0.9M107.5 447.6h0.9M115.9 440.9h0.9M107.2 445.7h0.9M115.4 441.2h0.9M109.6 453.0h0.9M102.3 445.9h0.9M109.4 442.9h0.9M115.1 439.1h0.9M114.4 443.6h0.9M102.1 448.2h0.9M109.1 442.6h0.9M106.5 448.4h0.9M122.2 438.8h0.9M108.2 439.7h0.9M109.6 444.5h0.9M99.4 449.7h0.9M105.8 441.8h0.9M111.5 445.4h0.9M113.5 443.0h0.9M104.8 441.3h0.9M115.1 439.9h0.9M112.6 438.5h0.9M113.5 441.6h0.9M110.3 442.5h0.9M112.6 440.8h0.9M108.7 446.3h0.9M115.5 445.1h0.9M109.1 441.8h0.9M112.4 444.2h0.9M112.1 445.5h0.9M116.3 441.4h0.9M106.5 453.8h0.9M111.8 442.2h0.9M112.1 449.6h0.9M112.4 447.0h0.9M108.0 446.4h0.9M106.7 445.9h0.9M108.8 448.1h0.9M106.3 440.5h0.9M115.7 435.2h0.9M107.6 446.7h0.9M113.1 438.1h0.9M103.8 450.3h0.9M105.8 444.5h0.9M115.2 443.1h0.9M121.3 436.7h0.9M122.4 435.2h0.9M105.9 438.7h0.9M109.8 447.3h0.9M117.7 438.5h0.9M116.2 445.8h0.9M116.6 434.3h0.9M110.8 440.5h0.9M109.9 447.2h0.9M103.0 448.8h0.9M114.4 436.8h0.9M113.4 438.4h0.9M110.0 451.2h0.9M113.4 441.0h0.9M116.1 441.0h0.9M105.9 446.0h0.9M112.5 450.8h0.9M110.4 448.8h0.9M107.3 449.8h0.9M109.5 433.5h0.9M119.8 438.6h0.9M116.3 439.8h0.9M114.4 444.4h0.9M114.7 449.1h0.9M120.9 439.4h0.9M115.0 443.5h0.9M115.1 446.4h0.9M107.0 442.7h0.9M118.4 447.4h0.9M118.0 444.6h0.9M111.0 441.4h0.9M108.8 447.3h0.9M108.9 443.7h0.9M111.7 436.5h0.9M107.5 436.9h0.9M102.3 442.3h0.9M107.9 442.7h0.9M110.2 444.2h0.9M105.9 446.3h0.9M119.7 435.9h0.9M110.9 444.0h0.9M114.7 441.9h0.9M110.4 443.3h0.9M114.5 436.3h0.9M107.8 449.8h0.9M109.0 441.4h0.9M115.8 440.9h0.9M120.9 436.4h0.9M113.8 434.5h0.9M117.6 437.3h0.9M117.3 446.2h0.9M104.4 452.4h0.9M111.6 438.1h0.9M108.0 441.3h0.9M109.8 437.3h0.9M105.8 452.4h0.9M109.2 450.6h0.9M120.6 440.4h0.9M108.2 448.2h0.9M116.1 442.0h0.9M112.9 439.6h0.9M113.8 453.2h0.9M109.9 451.0h0.9M120.1 439.9h0.9M105.2 446.9h0.9M113.5 446.5h0.9M113.7 437.2h0.9M114.1 445.1h0.9M112.0 453.2h0.9M111.7 441.4h0.9M106.8 447.4h0.9M128.5 434.9h0.9M101.8 448.6h0.9M110.2 447.0h0.9M114.1 442.0h0.9M114.2 438.7h0.9M115.9 439.2h0.9M97.9 448.2h0.9M100.8 447.3h0.9M115.5 447.0h0.9M109.1 441.1h0.9M106.3 447.7h0.9M110.1 449.7h0.9M105.1 442.6h0.9M114.1 441.5h0.9M110.3 443.9h0.9M111.8 442.3h0.9M101.0 447.8h0.9M117.1 444.8h0.9M110.6 444.8h0.9M107.0 444.6h0.9M110.4 445.8h0.9M107.4 448.4h0.9M106.2 447.8h0.9M114.5 436.0h0.9M116.2 446.3h0.9M113.3 437.4h0.9M125.8 442.7h0.9M111.9 444.9h0.9M118.5 443.0h0.9M103.6 438.6h0.9M120.3 446.0h0.9M107.7 439.9h0.9M106.7 444.6h0.9M115.0 447.9h0.9M105.4 443.0h0.9M117.8 441.2h0.9M117.8 441.8h0.9M112.1 443.1h0.9M104.5 447.8h0.9M115.9 453.5h0.9M109.3 449.6h0.9M109.6 450.0h0.9M113.9 453.7h0.9M114.8 440.4h0.9M112.8 443.8h0.9M111.9 444.5h0.9M109.8 452.5h0.9M108.8 440.7h0.9M108.1 438.4h0.9M105.5 449.9h0.9M105.2 442.7h0.9M119.9 439.1h0.9M114.9 441.9h0.9M106.7 448.1h0.9M102.5 443.4h0.9M110.7 438.3h0.9M118.6 449.7h0.9M114.4 440.7h0.9M100.0 452.7h0.9M111.4 435.1h0.9M104.4 445.6h0.9M112.9 443.2h0.9M108.4 443.5h0.9M112.0 439.9h0.9M112.4 449.4h0.9M113.8 435.2h0.9M108.5 446.2h0.9M119.0 446.1h0.9M107.3 435.0h0.9M114.0 445.0h0.9M120.2 436.2h0.9M113.0 444.4h0.9M116.2 448.6h0.9M108.8 453.2h0.9M115.3 440.8h0.9M121.2 445.6h0.9M104.7 442.0h0.9M112.0 452.5h0.9M108.5 447.8h0.9M107.7 440.2h0.9M113.2 434.4h0.9M114.9 443.3h0.9M112.4 450.2h0.9M113.7 435.5h0.9M113.6 446.3h0.9M112.8 440.0h0.9M114.6 446.8h0.9M113.5 444.7h0.9M112.9 439.4h0.9M114.0 443.6h0.9M116.0 435.9h0.9M114.7 436.7h0.9M113.0 440.3h0.9M110.6 453.4h0.9M105.3 445.7h0.9M114.7 440.0h0.9M106.9 438.3h0.9M113.6 450.7h0.9M104.8 450.8h0.9M112.3 439.2h0.9M108.0 442.4h0.9M112.6 446.3h0.9M107.4 443.2h0.9M118.1 443.7h0.9M106.2 447.4h0.9M123.5 439.4h0.9M104.3 447.5h0.9M114.8 443.9h0.9M109.7 442.7h0.9M103.2 450.7h0.9M111.4 439.0h0.9M116.4 439.8h0.9M101.2 445.5h0.9M116.0 442.9h0.9M113.1 437.0h0.9M116.2 451.5h0.9M110.8 448.0h0.9M107.4 447.4h0.9M105.2 446.9h0.9M122.4 440.3h0.9M117.0 441.6h0.9M113.8 442.3h0.9M118.5 441.2h0.9M116.2 443.5h0.9M112.1 443.2h0.9M119.8 444.5h0.9M101.5 445.0h0.9M108.6 437.6h0.9M105.8 447.3h0.9M109.4 436.5h0.9M111.9 445.5h0.9M114.5 441.6h0.9M105.8 444.6h0.9M104.9 454.2h0.9M118.4 440.3h0.9M108.6 444.1h0.9M114.7 438.2h0.9M108.1 449.3h0.9M116.0 440.4h0.9M106.0 443.8h0.9M110.8 433.3h0.9M107.9 450.1h0.9M107.0 445.6h0.9M106.1 442.5h0.9M108.8 447.2h0.9M113.1 441.3h0.9M102.8 443.4h0.9M114.8 443.3h0.9M114.7 446.5h0.9M106.2 449.5h0.9M112.4 442.3h0.9M110.9 451.0h0.9M99.5 445.6h0.9M114.6 445.0h0.9M115.0 437.9h0.9M110.7 447.4h0.9M115.3 438.7h0.9M117.4 436.8h0.9M109.9 448.0h0.9M107.2 445.9h0.9M110.6 441.3h0.9M115.6 445.4h0.9M112.4 447.5h0.9M116.4 446.0h0.9M110.5 448.7h0.9M108.9 447.1h0.9M118.4 439.1h0.9M105.3 450.3h0.9M113.0 439.6h0.9M107.2 437.2h0.9M115.7 439.6h0.9M119.7 443.4h0.9M112.4 447.2h0.9M107.8 438.6h0.9M104.9 441.2h0.9M102.9 443.6h0.9M105.5 452.9h0.9M115.7 440.5h0.9M111.7 443.5h0.9M112.3 443.8h0.9M107.3 448.5h0.9M113.7 446.2h0.9M108.7 437.1h0.9M105.0 451.8h0.9M109.7 445.0h0.9M113.2 445.8h0.9M110.8 444.1h0.9M106.8 439.8h0.9M115.2 447.9h0.9M102.5 448.1h0.9M111.0 447.1h0.9M105.7 450.0h0.9M112.3 446.4h0.9M107.2 442.7h0.9M113.2 439.5h0.9M113.6 448.6h0.9M110.8 436.7h0.9M113.8 435.8h0.9M111.3 441.9h0.9M107.8 440.4h0.9M104.5 438.7h0.9M115.3 442.0h0.9M115.0 448.7h0.9M108.5 447.6h0.9M123.9 437.2h0.9M114.9 440.3h0.9M108.1 443.3h0.9M99.8 448.7h0.9M118.9 435.9h0.9M110.3 443.8h0.9M115.2 443.0h0.9M110.3 442.1h0.9M108.5 444.2h0.9M110.7 440.6h0.9M107.9 449.3h0.9M106.1 442.1h0.9M116.2 447.9h0.9M100.5 443.1h0.9M115.7 446.5h0.9M106.6 447.0h0.9M113.4 433.9h0.9M110.1 446.2h0.9M122.0 439.7h0.9M117.1 437.1h0.9M108.2 439.9h0.9M115.2 444.6h0.9M104.2 449.7h0.9M109.9 438.1h0.9M110.0 437.2h0.9M114.0 440.4h0.9M111.9 441.2h0.9M108.5 446.7h0.9M112.7 444.8h0.9M108.0 453.7h0.9M112.0 440.6h0.9M114.4 447.0h0.9M115.8 442.0h0.9M97.9 447.2h0.9M98.8 443.0h0.9M114.5 443.3h0.9M114.3 434.4h0.9M116.4 448.1h0.9M110.0 446.3h0.9M113.4 442.6h0.9M116.6 447.5h0.9M104.6 442.2h0.9M102.2 446.7h0.9M119.7 433.4h0.9M101.7 445.5h0.9M101.9 449.9h0.9M106.1 441.9h0.9M115.8 439.0h0.9M116.6 434.4h0.9M111.3 448.7h0.9M123.0 436.0h0.9M113.1 442.8h0.9M112.9 450.5h0.9M110.6 444.9h0.9M116.7 441.8h0.9M106.7 453.0h0.9M110.2 443.4h0.9M115.2 442.4h0.9M113.1 441.6h0.9M118.7 437.8h0.9M110.2 441.8h0.9M118.7 442.2h0.9M109.6 446.6h0.9M98.3 448.1h0.9M115.7 439.9h0.9M122.9 427.6h0.9M116.1 431.8h0.9M118.5 444.8h0.9M116.8 437.0h0.9M105.5 448.3h0.9M111.9 438.3h0.9M113.1 444.9h0.9M116.3 443.4h0.9M108.8 442.0h0.9M103.6 448.3h0.9M104.6 454.1h0.9M105.7 448.9h0.9M114.3 441.5h0.9M114.8 440.3h0.9M108.9 443.3h0.9M109.6 444.5h0.9M117.1 441.8h0.9M118.9 443.0h0.9M114.3 449.9h0.9M104.7 441.3h0.9M109.4 438.9h0.9M106.9 452.5h0.9M111.0 439.8h0.9M118.9 445.8h0.9M113.5 442.3h0.9M110.4 442.1h0.9M113.9 450.0h0.9M109.8 452.3h0.9M105.5 449.3h0.9M118.6 441.2h0.9M110.4 450.3h0.9M103.1 450.3h0.9M109.4 446.5h0.9M105.5 446.2h0.9M104.3 446.9h0.9M106.1 444.1h0.9M105.9 446.0h0.9M113.2 442.6h0.9M117.9 437.3h0.9M105.3 445.3h0.9M108.7 448.7h0.9M110.6 443.4h0.9M123.0 442.8h0.9M107.0 441.6h0.9M109.5 443.6h0.9M120.9 441.9h0.9M109.2 441.5h0.9M112.7 451.4h0.9M106.0 447.2h0.9M107.3 437.8h0.9M120.8 443.6h0.9M113.4 437.4h0.9M118.6 438.4h0.9M114.6 435.3h0.9M121.3 420.2h0.9M121.3 418.8h0.9M119.2 438.5h0.9M131.4 423.6h0.9M117.4 435.1h0.9M116.1 439.5h0.9M107.8 425.9h0.9M119.4 433.8h0.9M114.2 428.8h0.9M115.8 438.4h0.9M107.4 441.7h0.9M114.2 423.7h0.9M103.6 434.3h0.9M122.2 426.9h0.9M117.2 435.4h0.9M109.3 438.0h0.9M118.0 437.9h0.9M119.2 428.3h0.9M116.1 436.5h0.9M109.9 431.8h0.9M124.6 427.2h0.9M111.7 428.7h0.9M109.0 429.3h0.9M116.6 427.3h0.9M105.4 443.6h0.9M116.5 428.3h0.9M117.3 427.5h0.9M111.7 433.1h0.9M122.1 434.3h0.9M112.6 438.3h0.9M127.9 435.4h0.9M104.7 443.0h0.9M105.7 424.8h0.9M112.2 442.8h0.9M112.7 434.5h0.9M116.7 418.5h0.9M108.3 435.5h0.9M111.2 439.3h0.9M115.7 429.3h0.9M108.7 433.9h0.9M117.3 432.5h0.9M120.8 436.5h0.9M119.1 426.4h0.9M111.7 424.2h0.9M115.1 438.5h0.9M114.0 429.8h0.9M112.9 430.8h0.9M126.6 433.5h0.9M123.0 441.7h0.9M118.0 435.0h0.9M119.2 427.7h0.9M112.0 429.2h0.9M125.0 431.2h0.9M113.3 435.7h0.9M125.4 421.2h0.9M115.7 432.4h0.9M121.1 427.0h0.9M120.5 431.1h0.9M118.5 437.7h0.9M122.5 429.1h0.9M118.1 427.3h0.9M132.6 432.5h0.9M118.5 441.5h0.9M113.5 431.0h0.9M121.6 411.2h0.9M121.5 422.0h0.9M113.7 433.2h0.9M104.6 444.0h0.9M115.0 430.4h0.9M117.7 441.6h0.9M115.0 436.4h0.9M120.4 430.6h0.9M116.1 427.9h0.9M113.1 439.9h0.9M113.3 443.7h0.9M124.2 427.8h0.9M123.1 418.4h0.9M120.8 425.8h0.9M116.6 423.5h0.9M120.1 432.7h0.9M107.3 430.7h0.9M118.6 434.4h0.9M121.5 441.0h0.9M114.1 434.5h0.9M118.6 437.2h0.9M117.3 428.1h0.9M114.4 434.1h0.9M109.9 436.2h0.9M114.8 439.4h0.9M119.8 432.2h0.9M104.1 434.2h0.9M131.0 426.4h0.9M123.2 434.5h0.9M124.2 433.3h0.9M117.7 426.8h0.9M119.6 417.6h0.9M111.7 432.6h0.9M116.1 435.3h0.9M122.7 439.9h0.9M128.4 433.2h0.9M114.4 432.2h0.9M124.5 435.3h0.9M112.0 434.5h0.9M115.5 420.6h0.9M108.1 442.8h0.9M112.4 433.2h0.9M111.1 443.6h0.9M123.1 429.0h0.9M120.0 436.9h0.9M127.6 428.0h0.9M115.1 438.9h0.9M107.5 428.6h0.9M122.1 432.3h0.9M118.5 427.3h0.9M118.9 430.3h0.9M124.3 432.0h0.9M114.3 441.1h0.9M110.0 437.5h0.9M120.4 415.9h0.9M118.0 428.2h0.9M120.0 439.9h0.9M125.9 432.2h0.9M119.3 430.4h0.9M120.4 426.9h0.9M120.3 432.8h0.9M111.8 444.3h0.9M116.1 424.7h0.9M127.3 425.4h0.9M110.7 436.4h0.9M105.0 428.4h0.9M125.1 433.8h0.9M108.7 431.6h0.9M109.3 443.7h0.9M105.1 437.1h0.9M119.9 437.6h0.9M113.4 445.2h0.9M108.9 450.2h0.9M126.1 417.3h0.9M121.2 436.8h0.9M120.9 431.0h0.9M108.3 434.0h0.9M123.0 431.4h0.9M123.9 422.3h0.9M119.0 428.3h0.9M119.8 422.6h0.9M113.1 432.4h0.9M115.3 434.2h0.9M128.7 423.9h0.9M114.9 439.9h0.9M110.1 431.9h0.9M101.4 436.6h0.9M125.9 422.6h0.9M119.8 431.7h0.9M117.5 425.8h0.9M117.5 425.0h0.9M126.2 419.6h0.9M121.2 427.8h0.9M116.8 431.2h0.9M115.9 431.4h0.9M114.6 438.0h0.9M119.8 439.0h0.9M116.6 438.0h0.9M123.3 437.0h0.9M121.1 436.6h0.9M113.3 436.9h0.9M120.9 423.9h0.9M117.3 436.4h0.9M129.8 427.3h0.9M128.4 428.3h0.9M114.7 436.1h0.9M109.7 429.2h0.9M119.7 428.8h0.9M121.3 425.6h0.9M109.5 434.4h0.9M118.4 418.7h0.9M104.7 434.9h0.9M112.6 432.8h0.9M112.6 417.9h0.9M115.0 445.4h0.9M120.3 422.9h0.9M128.3 441.6h0.9M120.1 429.6h0.9M109.4 450.1h0.9M116.5 431.4h0.9M121.7 427.7h0.9M115.3 438.9h0.9M113.4 448.9h0.9M128.5 420.7h0.9M109.3 427.6h0.9M121.4 424.7h0.9M121.7 427.8h0.9M109.6 435.4h0.9M111.4 427.0h0.9M118.0 434.7h0.9M119.7 430.2h0.9M119.9 436.4h0.9M117.2 429.5h0.9M125.2 419.9h0.9M108.3 442.5h0.9M128.8 417.9h0.9M114.9 437.8h0.9M107.0 451.9h0.9M123.0 437.2h0.9M123.5 430.4h0.9M112.8 446.2h0.9M112.2 422.8h0.9M121.9 423.2h0.9M116.5 436.1h0.9M123.7 426.9h0.9M115.2 426.7h0.9M116.2 439.6h0.9M119.3 429.0h0.9M119.2 434.2h0.9M109.5 427.6h0.9M129.8 427.1h0.9M117.3 431.4h0.9M123.4 435.3h0.9M116.3 432.5h0.9M113.4 435.7h0.9M113.6 452.1h0.9M116.3 430.3h0.9M118.7 434.3h0.9M113.8 428.0h0.9M121.6 426.2h0.9M111.2 432.3h0.9M116.1 426.1h0.9M119.9 436.1h0.9M120.9 432.4h0.9M118.7 422.1h0.9M105.7 444.8h0.9M118.7 420.4h0.9M119.1 437.4h0.9M117.3 422.9h0.9M122.5 434.6h0.9M110.0 441.5h0.9M116.9 439.3h0.9M115.0 426.3h0.9M111.7 447.5h0.9M123.1 423.5h0.9M113.4 432.6h0.9M117.8 442.8h0.9M111.1 427.8h0.9M121.7 425.3h0.9M123.4 426.3h0.9M119.5 444.2h0.9M114.9 427.9h0.9M119.2 429.6h0.9M111.3 431.8h0.9M123.3 436.0h0.9M125.9 424.6h0.9M119.1 429.4h0.9M120.9 424.3h0.9M121.7 423.3h0.9M117.7 436.4h0.9M123.7 429.8h0.9M122.4 426.4h0.9M117.3 440.4h0.9M109.5 428.4h0.9M120.6 426.8h0.9M105.8 433.1h0.9M116.3 433.9h0.9M110.2 431.4h0.9M120.1 432.0h0.9M122.4 433.4h0.9M113.8 439.4h0.9M100.6 448.1h0.9M130.4 421.6h0.9M123.5 437.0h0.9M117.3 430.3h0.9M126.1 430.5h0.9M117.7 437.7h0.9M107.0 427.7h0.9M116.8 433.4h0.9M112.1 433.3h0.9M123.3 411.9h0.9M128.3 424.6h0.9M121.8 424.9h0.9M118.3 420.9h0.9M127.2 432.0h0.9M120.1 432.4h0.9M119.2 428.9h0.9M128.5 429.2h0.9M114.7 437.1h0.9M120.5 430.9h0.9M117.1 432.0h0.9M122.3 425.3h0.9M126.1 435.1h0.9M112.7 453.3h0.9M128.6 435.6h0.9M119.6 429.5h0.9M120.5 433.9h0.9M112.3 432.6h0.9M119.1 429.7h0.9M114.6 434.7h0.9M122.5 424.1h0.9M120.9 437.5h0.9M121.7 433.7h0.9M107.9 439.3h0.9M123.4 441.5h0.9M106.8 432.0h0.9M122.6 436.2h0.9M109.9 437.5h0.9M118.3 428.7h0.9M114.7 432.0h0.9M121.9 420.5h0.9M122.6 436.7h0.9M112.8 425.0h0.9M125.4 430.9h0.9M112.9 427.4h0.9M112.8 434.9h0.9M115.7 419.7h0.9M118.1 447.2h0.9M116.1 427.7h0.9M116.1 434.4h0.9M110.8 431.6h0.9M107.2 446.1h0.9M115.0 442.3h0.9M114.9 444.6h0.9M117.3 432.1h0.9M125.9 420.6h0.9M117.5 428.8h0.9M112.5 426.5h0.9M117.5 430.7h0.9M117.0 432.7h0.9M113.1 429.8h0.9M117.3 431.7h0.9M114.1 430.3h0.9M111.6 432.7h0.9M112.2 434.0h0.9M124.6 418.6h0.9M122.1 435.7h0.9M120.5 427.0h0.9M124.0 427.6h0.9M112.1 423.8h0.9M120.5 430.2h0.9M112.1 440.7h0.9M117.8 426.0h0.9M117.1 442.2h0.9M117.7 441.2h0.9M115.2 433.2h0.9M124.7 418.6h0.9M130.5 426.6h0.9M120.6 419.6h0.9M115.9 426.9h0.9M112.1 422.9h0.9M128.1 431.2h0.9M103.5 439.5h0.9M111.6 429.1h0.9M118.8 436.0h0.9M114.7 433.5h0.9M120.9 432.4h0.9M117.2 426.8h0.9M118.3 441.1h0.9M110.6 445.9h0.9M120.5 433.7h0.9M115.5 436.4h0.9M115.2 430.3h0.9M119.2 425.3h0.9M126.2 427.0h0.9M118.5 427.0h0.9M116.0 440.8h0.9M119.0 428.8h0.9M114.6 441.9h0.9M120.4 419.6h0.9M112.2 427.9h0.9M114.4 438.5h0.9M122.9 426.5h0.9M110.4 438.0h0.9M134.8 427.9h0.9M123.4 434.2h0.9M122.2 437.7h0.9M131.2 416.3h0.9M120.6 433.5h0.9M115.3 439.8h0.9M111.0 426.0h0.9M112.1 426.0h0.9M112.7 439.0h0.9M122.2 439.0h0.9M121.7 432.3h0.9M119.4 438.6h0.9M123.5 426.2h0.9M116.1 432.5h0.9M111.4 439.6h0.9M114.9 432.0h0.9M115.7 434.5h0.9M115.6 426.0h0.9M110.5 434.1h0.9M114.2 439.1h0.9M117.4 430.7h0.9M111.1 451.3h0.9M112.9 430.8h0.9M108.2 432.8h0.9M109.6 443.9h0.9M119.7 428.3h0.9M114.7 427.8h0.9M111.7 435.9h0.9M122.9 425.5h0.9M112.8 450.6h0.9M118.4 440.5h0.9M122.7 431.2h0.9M125.5 413.9h0.9M113.2 441.5h0.9M121.1 420.0h0.9M108.9 436.1h0.9M106.2 429.4h0.9M112.7 434.1h0.9M121.7 429.4h0.9M112.0 430.0h0.9M119.8 428.8h0.9M112.0 424.4h0.9M119.4 424.5h0.9M125.4 433.9h0.9M120.1 432.4h0.9M123.1 428.7h0.9M123.8 431.7h0.9M124.3 427.9h0.9M115.0 430.7h0.9M116.1 434.1h0.9M114.5 420.3h0.9M113.7 446.5h0.9M116.4 425.0h0.9M115.1 434.9h0.9M107.2 427.3h0.9M121.7 436.5h0.9M116.3 445.8h0.9M124.6 424.3h0.9M123.0 417.3h0.9M116.4 427.7h0.9M117.0 424.3h0.9M115.7 440.0h0.9M114.8 435.4h0.9M121.6 436.9h0.9M107.1 432.0h0.9M130.0 420.0h0.9M119.2 429.5h0.9M111.0 435.8h0.9M110.2 428.1h0.9M120.7 429.7h0.9M106.8 450.0h0.9M124.0 428.2h0.9M118.3 424.3h0.9M110.9 444.3h0.9M115.7 427.9h0.9M118.2 431.0h0.9M117.3 435.1h0.9M122.0 434.8h0.9M121.6 428.5h0.9M121.8 429.8h0.9M118.7 428.9h0.9M119.3 424.8h0.9M122.1 426.2h0.9M118.4 433.1h0.9M112.8 440.7h0.9M118.8 422.7h0.9M112.7 436.9h0.9M126.3 430.5h0.9M117.6 428.8h0.9M119.6 426.3h0.9M118.6 448.9h0.9M127.5 419.7h0.9M117.5 420.2h0.9M122.6 434.4h0.9M123.4 422.9h0.9M117.7 427.3h0.9M117.3 423.0h0.9M117.4 445.2h0.9M118.1 431.0h0.9M121.3 427.1h0.9M108.3 427.9h0.9M118.4 419.8h0.9M125.1 427.1h0.9M117.4 432.8h0.9M116.5 441.6h0.9M123.2 434.1h0.9M117.8 427.1h0.9M117.9 434.5h0.9M118.0 426.7h0.9M124.1 432.7h0.9M102.2 437.5h0.9M116.3 437.3h0.9M113.2 446.3h0.9M111.1 434.8h0.9M112.3 453.4h0.9M117.8 436.0h0.9M116.1 438.3h0.9M109.8 441.9h0.9M121.9 423.6h0.9M110.0 432.3h0.9M123.8 431.4h0.9M117.6 437.4h0.9M112.2 429.1h0.9M115.2 437.1h0.9M122.9 434.3h0.9M112.9 433.6h0.9M130.1 429.3h0.9M121.7 428.0h0.9M120.3 421.7h0.9M124.5 418.0h0.9M119.3 436.8h0.9M109.2 440.1h0.9M116.2 426.4h0.9M125.2 433.5h0.9M116.8 435.4h0.9M115.0 428.9h0.9M122.3 421.7h0.9M113.1 448.5h0.9M111.7 448.3h0.9M111.5 439.4h0.9M111.9 430.6h0.9M123.9 425.9h0.9M121.4 425.6h0.9M113.8 425.4h0.9M113.0 439.9h0.9M127.1 423.7h0.9M117.9 430.2h0.9M121.2 438.2h0.9M118.7 439.2h0.9M121.0 424.1h0.9M125.4 430.4h0.9M119.0 428.3h0.9M124.9 426.8h0.9M115.2 423.0h0.9M128.9 422.3h0.9M118.9 443.3h0.9M119.1 424.0h0.9M122.5 432.0h0.9M116.1 419.4h0.9M117.9 432.5h0.9M120.4 422.7h0.9M124.8 424.0h0.9M120.3 430.6h0.9M116.3 436.6h0.9M114.2 432.6h0.9M115.9 433.8h0.9M119.2 440.6h0.9M127.6 425.0h0.9M121.2 417.4h0.9M110.6 449.0h0.9M115.7 434.7h0.9M119.3 434.8h0.9M123.3 423.9h0.9M124.4 427.3h0.9M109.1 433.2h0.9M120.9 436.7h0.9M112.4 430.4h0.9M119.8 434.9h0.9M116.1 425.2h0.9M118.0 434.2h0.9M104.8 427.4h0.9M109.5 428.7h0.9M115.2 431.9h0.9M108.2 445.2h0.9M119.0 432.5h0.9M121.4 438.3h0.9M110.6 441.5h0.9M115.2 436.5h0.9M118.9 434.5h0.9M106.8 432.1h0.9M115.0 440.7h0.9M121.1 437.0h0.9M109.9 436.2h0.9M120.9 425.4h0.9M126.0 425.8h0.9M115.1 420.4h0.9M108.4 429.8h0.9M118.8 440.3h0.9M120.7 434.4h0.9M124.8 430.6h0.9M126.0 436.5h0.9M113.0 429.5h0.9M115.1 432.9h0.9M126.6 427.5h0.9M111.8 440.3h0.9M119.8 430.8h0.9M108.4 435.3h0.9M113.7 440.4h0.9M114.3 430.4h0.9M119.0 437.1h0.9M129.4 420.7h0.9M121.5 427.0h0.9M115.7 435.3h0.9M115.2 432.9h0.9M107.0 449.1h0.9M121.8 434.0h0.9M106.2 428.5h0.9M122.6 417.9h0.9M119.7 431.2h0.9M125.2 423.8h0.9M111.2 435.7h0.9M116.7 440.5h0.9M130.2 426.4h0.9M116.7 432.1h0.9M124.6 434.0h0.9M117.9 434.4h0.9M121.4 416.5h0.9M110.7 434.8h0.9M120.7 427.9h0.9M117.6 434.3h0.9M113.7 443.9h0.9M115.4 422.0h0.9M126.8 420.5h0.9M130.1 434.1h0.9M121.6 437.0h0.9M127.8 430.7h0.9M117.7 441.8h0.9M115.7 427.1h0.9M106.2 433.5h0.9M121.6 433.0h0.9M119.0 429.7h0.9M119.6 425.5h0.9M121.8 414.3h0.9M111.6 434.2h0.9M124.8 429.5h0.9M117.7 439.1h0.9M104.6 446.9h0.9M111.5 430.2h0.9M114.9 435.5h0.9M116.5 424.6h0.9M123.2 432.5h0.9M123.1 415.0h0.9M116.5 418.7h0.9M121.7 421.5h0.9M116.9 427.2h0.9M107.9 439.9h0.9M111.7 437.4h0.9M110.3 436.9h0.9M105.2 428.8h0.9M116.2 429.4h0.9M114.9 438.8h0.9M118.5 433.1h0.9M119.3 437.1h0.9M122.3 427.8h0.9M112.6 436.5h0.9M114.9 437.8h0.9M119.2 437.8h0.9M120.0 435.6h0.9M110.8 439.4h0.9M122.3 437.7h0.9M115.1 434.1h0.9M117.8 428.1h0.9M116.1 428.7h0.9M118.8 437.3h0.9M121.8 428.9h0.9M114.9 430.2h0.9M116.4 422.5h0.9M116.2 437.5h0.9M125.8 431.9h0.9M109.8 438.8h0.9M118.8 438.4h0.9M118.7 425.2h0.9M122.7 426.7h0.9M117.7 434.7h0.9M127.2 435.2h0.9M111.7 434.7h0.9M114.5 437.3h0.9M115.9 429.8h0.9M120.2 438.0h0.9M130.9 417.1h0.9M131.9 425.0h0.9M118.8 431.7h0.9M117.0 414.0h0.9M125.8 428.0h0.9M117.3 439.2h0.9M114.3 434.7h0.9M115.3 437.8h0.9M117.7 418.4h0.9M113.7 446.8h0.9M110.6 431.1h0.9M108.3 429.2h0.9M113.1 425.8h0.9M115.2 438.5h0.9M119.4 423.7h0.9M110.9 445.1h0.9M115.7 429.1h0.9M107.7 431.7h0.9M112.2 427.2h0.9M118.9 429.0h0.9M121.0 437.1h0.9M118.0 424.2h0.9M123.0 426.7h0.9M114.9 439.6h0.9M116.3 434.0h0.9M125.4 427.7h0.9M112.7 433.4h0.9M112.2 420.2h0.9M123.2 430.6h0.9M116.5 440.9h0.9M116.8 430.8h0.9M119.8 433.9h0.9M117.1 433.4h0.9M119.7 427.8h0.9M119.0 440.3h0.9M124.1 422.3h0.9M116.9 433.2h0.9M123.5 425.2h0.9M119.2 431.4h0.9M124.1 430.7h0.9M114.2 427.9h0.9M119.9 422.4h0.9M112.3 425.9h0.9M114.7 423.6h0.9M117.1 442.7h0.9M122.0 427.3h0.9M119.6 437.2h0.9M128.6 425.1h0.9M123.7 434.8h0.9M107.6 427.3h0.9M129.7 417.0h0.9M106.7 434.4h0.9M121.3 442.2h0.9M123.4 432.4h0.9M106.9 438.7h0.9M118.9 439.5h0.9M119.0 431.3h0.9M121.8 424.2h0.9M119.5 418.4h0.9M120.3 417.2h0.9M115.6 430.0h0.9M124.0 435.7h0.9M109.6 437.8h0.9M111.1 449.7h0.9M112.5 440.6h0.9M112.2 438.1h0.9M118.7 434.4h0.9M123.2 443.2h0.9M123.2 434.7h0.9M114.8 432.9h0.9M119.0 423.1h0.9M129.5 425.7h0.9M113.9 423.4h0.9M123.7 432.1h0.9M121.3 430.6h0.9M110.5 433.4h0.9M121.4 435.9h0.9M106.7 431.3h0.9M111.3 435.8h0.9M113.5 427.7h0.9M120.3 436.2h0.9M119.1 438.8h0.9M127.5 414.2h0.9M111.1 430.8h0.9M121.0 428.0h0.9M119.0 427.1h0.9M115.5 420.2h0.9M116.4 434.1h0.9M111.8 430.0h0.9M126.8 415.1h0.9M129.0 421.3h0.9M125.6 412.5h0.9M129.1 415.0h0.9M123.8 420.1h0.9M121.3 419.7h0.9M124.8 424.7h0.9M130.2 421.8h0.9M126.2 415.9h0.9M122.6 426.4h0.9M129.3 416.7h0.9M124.0 413.6h0.9M129.0 422.6h0.9M124.7 426.2h0.9M123.9 412.3h0.9M121.4 414.9h0.9M118.4 419.8h0.9M129.2 411.0h0.9M127.1 415.2h0.9M132.6 429.1h0.9M117.6 410.3h0.9M135.9 415.9h0.9M125.4 417.4h0.9M125.2 421.2h0.9M125.0 419.0h0.9M128.0 415.5h0.9M129.4 415.9h0.9M120.8 412.4h0.9M113.3 418.0h0.9M126.5 420.8h0.9M133.3 423.2h0.9M119.9 420.7h0.9M126.9 415.0h0.9M125.6 415.6h0.9M122.0 421.1h0.9M125.6 424.3h0.9M125.9 420.2h0.9M128.1 422.9h0.9M122.8 421.0h0.9M123.5 422.8h0.9M123.9 424.4h0.9M127.4 415.6h0.9M125.0 419.3h0.9M121.2 422.7h0.9M124.1 422.4h0.9M119.9 417.8h0.9M125.0 420.3h0.9M121.5 418.7h0.9M122.0 420.4h0.9M125.9 415.4h0.9M128.4 421.1h0.9M130.4 423.5h0.9M124.3 412.8h0.9M135.4 417.9h0.9M123.5 420.1h0.9M119.8 419.1h0.9M123.2 421.8h0.9M130.3 421.9h0.9M132.5 414.8h0.9M127.9 421.0h0.9M122.9 427.2h0.9M126.3 419.7h0.9M126.8 421.4h0.9M127.2 425.0h0.9M115.5 416.4h0.9M129.8 432.2h0.9M130.7 420.0h0.9M124.4 425.2h0.9M120.7 415.4h0.9M121.9 418.7h0.9M124.4 409.8h0.9M129.0 424.2h0.9M123.0 423.5h0.9M119.0 421.5h0.9M129.9 418.3h0.9M128.0 419.1h0.9M123.2 418.1h0.9M124.7 410.1h0.9M132.9 416.9h0.9M127.7 427.1h0.9M121.6 414.9h0.9M130.4 420.2h0.9M124.1 420.5h0.9M128.5 418.4h0.9M131.6 413.3h0.9M123.7 421.1h0.9M124.0 422.3h0.9M123.2 418.8h0.9M128.9 425.4h0.9M119.0 421.9h0.9M123.7 416.5h0.9M121.6 411.9h0.9M122.8 419.4h0.9M125.3 413.4h0.9M126.4 418.4h0.9M122.7 417.8h0.9M126.8 420.0h0.9M125.0 426.5h0.9M122.8 413.3h0.9M131.2 418.8h0.9M115.7 410.5h0.9M123.3 414.1h0.9M122.4 412.5h0.9M130.1 423.1h0.9M124.1 423.8h0.9M126.3 420.2h0.9M118.6 423.1h0.9M126.1 425.1h0.9M129.7 416.5h0.9M124.3 412.4h0.9M121.0 415.5h0.9M119.2 419.9h0.9M127.8 420.8h0.9M124.6 415.7h0.9M131.7 412.8h0.9M127.0 419.6h0.9M118.8 411.0h0.9M133.2 427.9h0.9M128.8 418.7h0.9M128.1 417.1h0.9M124.2 418.5h0.9M124.9 413.4h0.9M123.9 420.9h0.9M127.9 415.7h0.9M126.9 417.3h0.9M131.4 413.6h0.9M126.0 419.4h0.9M127.9 426.7h0.9M122.8 421.6h0.9M125.8 420.2h0.9M135.7 415.3h0.9M125.0 419.9h0.9M130.4 414.9h0.9M129.1 413.2h0.9M123.5 421.4h0.9M121.9 418.0h0.9M129.4 423.1h0.9M122.7 424.3h0.9M133.7 415.0h0.9M126.0 423.8h0.9M120.6 421.3h0.9M125.2 424.1h0.9M124.1 413.2h0.9M125.1 418.1h0.9M116.0 419.7h0.9M124.4 421.5h0.9M119.1 418.8h0.9M120.6 420.9h0.9M118.1 418.9h0.9M129.0 422.2h0.9M126.4 425.1h0.9M127.5 416.1h0.9M123.4 414.6h0.9M121.2 418.3h0.9M132.3 418.6h0.9M120.2 413.4h0.9M127.4 419.7h0.9M117.2 426.7h0.9M118.5 412.0h0.9M126.3 422.2h0.9M130.0 412.1h0.9M121.4 416.4h0.9M117.9 416.9h0.9M132.9 424.7h0.9M125.3 421.3h0.9M124.6 418.1h0.9M126.3 414.6h0.9M127.3 413.9h0.9M129.4 413.7h0.9M122.1 416.7h0.9M123.4 422.2h0.9M133.5 417.2h0.9M125.2 427.7h0.9M124.0 415.1h0.9M124.2 420.9h0.9M131.4 419.9h0.9M123.6 418.9h0.9M124.0 413.9h0.9M127.5 418.8h0.9M123.5 419.5h0.9M132.3 419.8h0.9M127.9 425.4h0.9M126.4 415.5h0.9M130.5 417.1h0.9M127.5 417.1h0.9M129.6 409.5h0.9M125.9 422.1h0.9M127.6 419.0h0.9M127.8 415.1h0.9M125.7 420.4h0.9M126.4 424.0h0.9M126.2 422.4h0.9M127.0 418.0h0.9M124.1 423.8h0.9M125.3 421.5h0.9M124.4 415.4h0.9M129.1 424.2h0.9M129.1 412.5h0.9M129.9 417.3h0.9M124.7 410.9h0.9M123.7 425.2h0.9M125.4 417.2h0.9M120.6 423.8h0.9M133.6 418.0h0.9M128.4 421.1h0.9M118.5 419.3h0.9M130.8 421.4h0.9M117.3 419.3h0.9M123.8 418.4h0.9M120.6 419.9h0.9M122.7 414.6h0.9M125.7 414.7h0.9M124.8 427.9h0.9M116.6 416.1h0.9M128.8 414.7h0.9M124.7 426.3h0.9M122.9 416.7h0.9M131.0 420.0h0.9M122.6 421.9h0.9M129.4 414.7h0.9M117.2 413.2h0.9M121.1 425.0h0.9M118.2 421.7h0.9M119.7 421.4h0.9M125.7 416.7h0.9M123.0 425.5h0.9M123.3 421.5h0.9M117.3 417.9h0.9M118.7 426.1h0.9M131.6 414.4h0.9M131.3 418.0h0.9M123.3 418.9h0.9M119.2 415.2h0.9M126.2 419.8h0.9M117.0 419.0h0.9M132.1 412.1h0.9M128.8 420.0h0.9M125.6 416.1h0.9M125.9 413.9h0.9M122.2 428.7h0.9M114.6 422.5h0.9M119.1 415.6h0.9M129.7 418.5h0.9M127.4 418.2h0.9M125.8 420.6h0.9M123.3 413.3h0.9M123.9 418.7h0.9M130.2 414.2h0.9M123.4 417.4h0.9M120.7 417.9h0.9M126.4 418.5h0.9M125.8 416.9h0.9M114.1 422.1h0.9M125.4 420.7h0.9M120.9 419.5h0.9M132.0 419.5h0.9M122.3 420.6h0.9M119.9 416.4h0.9M120.8 414.5h0.9M129.0 416.0h0.9M129.5 418.9h0.9M117.5 418.8h0.9M127.8 425.3h0.9M119.8 413.7h0.9M126.9 412.6h0.9M127.9 418.2h0.9M126.9 414.8h0.9M124.9 419.4h0.9M126.4 419.9h0.9M135.4 421.9h0.9M118.5 424.2h0.9M129.6 420.3h0.9M125.7 419.4h0.9M126.3 424.9h0.9M125.4 421.0h0.9M129.7 415.8h0.9M119.6 422.8h0.9M127.5 413.2h0.9M128.4 419.2h0.9M129.9 428.9h0.9M122.7 422.8h0.9M120.6 416.0h0.9M126.3 417.2h0.9M124.5 415.8h0.9M128.4 421.0h0.9M129.1 422.6h0.9M132.7 424.2h0.9M123.8 423.3h0.9M125.2 412.7h0.9M121.8 410.7h0.9M131.2 416.8h0.9M122.5 414.5h0.9M112.7 421.9h0.9M129.2 418.7h0.9M135.8 421.5h0.9M119.3 419.4h0.9M127.6 411.0h0.9M117.4 417.8h0.9M130.5 421.5h0.9M123.1 423.8h0.9M128.4 414.8h0.9M127.6 417.4h0.9M129.4 419.0h0.9M128.2 414.9h0.9M130.7 416.2h0.9M125.4 415.4h0.9M118.3 426.3h0.9M132.1 417.9h0.9M120.5 421.1h0.9M124.4 418.2h0.9M121.7 414.1h0.9M120.3 411.2h0.9M128.0 425.9h0.9M119.7 418.2h0.9M126.2 420.4h0.9M125.1 417.8h0.9M120.1 418.2h0.9M135.0 421.4h0.9M120.6 415.6h0.9M130.9 413.9h0.9M122.3 418.8h0.9M125.9 419.4h0.9M126.8 413.7h0.9M127.5 418.5h0.9M124.2 410.6h0.9M119.7 409.6h0.9M128.3 418.1h0.9M121.8 410.4h0.9M130.4 414.5h0.9M134.2 426.5h0.9M125.5 419.9h0.9M121.9 418.2h0.9M127.4 416.2h0.9M124.4 424.4h0.9M127.5 415.8h0.9M134.4 414.4h0.9M125.1 423.6h0.9M137.1 421.5h0.9M125.9 415.2h0.9M127.3 412.6h0.9M120.5 421.6h0.9M125.8 424.0h0.9M122.4 412.4h0.9M126.4 419.0h0.9M122.5 418.3h0.9M124.9 423.3h0.9M128.5 424.2h0.9M130.7 420.0h0.9M115.0 425.4h0.9M126.3 422.4h0.9M133.1 412.4h0.9M134.4 414.5h0.9M131.1 421.2h0.9M130.8 420.4h0.9M124.8 424.6h0.9M125.3 416.7h0.9M124.8 423.4h0.9M129.1 414.4h0.9M124.7 415.0h0.9M129.4 422.9h0.9M124.9 426.8h0.9M120.5 416.6h0.9M121.1 416.7h0.9M126.7 427.7h0.9M122.9 411.7h0.9M125.1 417.9h0.9M121.9 425.7h0.9M124.2 422.4h0.9M125.6 427.2h0.9M131.3 410.8h0.9M121.7 417.1h0.9M121.0 414.7h0.9M121.3 419.1h0.9M130.9 416.2h0.9M123.6 425.3h0.9M117.9 413.1h0.9M127.4 418.2h0.9M130.7 417.8h0.9M121.8 419.0h0.9M124.6 418.6h0.9M136.2 415.9h0.9M126.3 419.6h0.9M122.0 422.9h0.9M116.6 420.6h0.9M118.2 426.8h0.9M120.8 427.6h0.9M131.2 412.9h0.9M120.7 409.3h0.9M128.0 429.8h0.9M125.1 423.0h0.9M117.2 419.7h0.9M130.2 416.5h0.9M118.5 421.5h0.9M121.6 413.4h0.9M124.6 422.9h0.9M120.9 427.3h0.9M121.3 414.5h0.9M116.4 417.6h0.9M124.5 414.8h0.9M119.9 414.4h0.9M117.7 418.6h0.9M124.1 417.9h0.9M120.6 414.6h0.9M135.6 411.7h0.9M120.7 421.1h0.9M128.3 417.9h0.9M121.6 412.9h0.9M127.4 413.9h0.9M124.2 412.7h0.9M122.9 423.5h0.9M125.0 424.8h0.9M130.7 415.2h0.9M117.4 417.7h0.9M128.9 420.1h0.9M126.9 421.1h0.9M124.7 418.9h0.9M127.2 422.9h0.9M119.9 417.0h0.9M122.7 416.2h0.9M122.8 424.4h0.9M128.4 417.3h0.9M128.3 420.0h0.9M123.4 412.8h0.9M117.4 410.7h0.9M127.4 418.8h0.9M125.4 415.8h0.9M121.5 417.2h0.9M120.7 426.8h0.9M125.9 418.1h0.9M128.0 416.0h0.9M128.2 414.9h0.9M120.3 413.0h0.9M137.1 421.1h0.9M119.3 415.4h0.9M129.2 413.9h0.9M132.0 424.8h0.9M126.7 416.4h0.9M130.7 422.5h0.9M125.1 420.2h0.9M124.3 419.2h0.9M124.3 426.5h0.9M124.9 418.2h0.9M123.3 434.5h0.9M121.9 421.5h0.9M121.1 411.3h0.9M129.2 419.3h0.9M120.6 416.4h0.9M122.3 411.8h0.9M130.0 419.1h0.9M127.8 422.1h0.9M117.9 414.7h0.9M132.4 419.9h0.9M122.6 426.6h0.9M134.7 423.9h0.9M120.6 419.4h0.9M130.5 418.3h0.9M124.9 418.4h0.9M128.9 418.7h0.9M125.7 418.8h0.9M120.0 412.4h0.9M121.9 424.5h0.9M123.0 418.4h0.9M128.7 425.1h0.9M119.3 417.7h0.9M126.7 423.5h0.9M119.9 417.7h0.9M124.4 425.8h0.9M121.0 411.8h0.9M120.2 413.8h0.9M118.1 411.8h0.9M132.3 421.4h0.9M121.9 415.7h0.9M119.4 416.0h0.9M130.5 417.3h0.9M126.5 419.2h0.9M129.5 422.2h0.9M132.2 418.6h0.9M123.5 425.9h0.9M123.0 417.4h0.9M130.6 425.8h0.9M124.4 421.6h0.9M119.6 418.5h0.9M121.6 414.6h0.9M112.8 415.2h0.9M116.4 427.3h0.9M127.4 420.0h0.9M125.6 422.9h0.9M120.3 421.8h0.9M124.8 422.3h0.9M123.1 422.4h0.9M126.1 423.6h0.9M115.6 430.4h0.9M124.9 418.1h0.9M129.4 421.8h0.9M119.9 425.2h0.9M128.4 421.3h0.9M129.5 418.9h0.9M123.8 426.9h0.9M121.9 414.9h0.9M122.2 415.4h0.9M117.6 413.9h0.9M137.6 413.5h0.9M126.5 424.1h0.9M122.6 421.5h0.9M125.8 427.6h0.9M121.1 414.9h0.9M125.7 415.1h0.9M128.9 423.7h0.9M118.9 416.4h0.9M125.2 418.1h0.9M126.3 418.8h0.9M135.5 418.0h0.9M129.5 421.1h0.9M131.6 432.6h0.9M131.4 437.6h0.9M130.7 424.7h0.9M136.9 433.4h0.9M122.7 431.1h0.9M117.4 430.6h0.9M150.4 425.0h0.9M126.7 430.8h0.9M144.4 434.2h0.9M131.2 426.6h0.9M126.8 431.1h0.9M120.2 431.9h0.9M141.1 416.1h0.9M130.0 421.1h0.9M135.2 425.2h0.9M131.0 417.5h0.9M136.0 427.6h0.9M130.4 419.4h0.9M127.8 431.0h0.9M130.1 429.5h0.9M140.9 423.5h0.9M131.4 429.7h0.9M141.9 422.9h0.9M146.6 419.6h0.9M130.5 429.9h0.9M130.0 424.7h0.9M137.6 422.6h0.9M143.0 436.7h0.9M132.2 436.0h0.9M124.8 430.2h0.9M127.4 432.8h0.9M121.3 418.0h0.9M129.8 419.2h0.9M124.2 442.3h0.9M127.8 419.8h0.9M128.1 423.2h0.9M124.4 416.2h0.9M135.0 418.6h0.9M130.0 417.0h0.9M132.5 429.4h0.9M127.5 425.6h0.9M125.6 434.4h0.9M132.9 421.0h0.9M130.0 420.1h0.9M143.1 434.9h0.9M133.8 432.8h0.9M127.5 424.8h0.9M115.3 421.8h0.9M137.9 422.2h0.9M136.5 413.3h0.9M129.4 418.3h0.9M142.2 422.6h0.9M119.5 427.1h0.9M129.9 437.4h0.9M131.6 420.7h0.9M130.2 427.3h0.9M142.3 430.3h0.9M125.4 425.7h0.9M139.9 421.8h0.9M132.5 429.5h0.9M140.7 419.8h0.9M119.8 423.7h0.9M115.1 415.5h0.9M136.3 430.4h0.9M122.9 428.1h0.9M119.7 422.0h0.9M128.4 438.4h0.9M131.8 417.7h0.9M123.1 428.5h0.9M144.7 424.7h0.9M128.1 424.7h0.9M137.5 433.1h0.9M131.3 437.5h0.9M120.9 436.8h0.9M137.9 423.8h0.9M137.1 417.5h0.9M132.3 424.4h0.9M134.8 422.7h0.9M124.5 427.9h0.9M130.9 425.8h0.9M126.7 426.9h0.9M134.0 424.7h0.9M136.1 420.2h0.9M135.9 419.2h0.9M137.9 416.2h0.9M136.4 430.4h0.9M148.3 418.1h0.9M140.8 420.9h0.9M132.3 434.0h0.9M135.1 428.5h0.9M129.2 441.0h0.9M142.9 434.2h0.9M124.3 422.7h0.9M136.0 431.6h0.9M131.9 424.2h0.9M133.1 422.3h0.9M137.4 428.6h0.9M120.6 410.8h0.9M129.3 433.0h0.9M137.3 421.9h0.9M127.7 409.5h0.9M115.5 417.0h0.9M131.7 423.8h0.9M134.2 427.6h0.9M134.2 435.1h0.9M129.2 413.0h0.9M113.9 417.4h0.9M116.3 432.0h0.9M138.2 428.9h0.9M127.9 436.5h0.9M131.1 427.3h0.9M127.5 437.0h0.9M133.1 423.1h0.9M140.0 422.4h0.9M142.7 417.6h0.9M112.2 414.3h0.9M131.3 433.4h0.9M135.0 419.3h0.9M121.1 434.7h0.9M136.8 429.9h0.9M142.2 424.5h0.9M128.1 435.3h0.9M136.2 438.1h0.9M122.8 435.2h0.9M144.0 414.0h0.9M130.4 428.7h0.9M136.9 417.3h0.9M126.3 410.5h0.9M130.5 418.1h0.9M115.4 426.4h0.9M127.1 412.1h0.9M130.5 435.0h0.9M145.7 430.8h0.9M132.0 434.8h0.9M136.8 424.7h0.9M130.0 428.8h0.9M128.0 431.1h0.9M122.1 417.5h0.9M138.3 435.8h0.9M123.8 423.1h0.9M147.9 427.4h0.9M129.8 427.8h0.9M133.7 427.2h0.9M139.6 419.1h0.9M135.9 414.9h0.9M130.4 429.9h0.9M152.9 439.6h0.9M121.0 442.6h0.9M134.5 433.5h0.9M139.5 440.7h0.9M131.0 428.8h0.9M124.4 418.2h0.9M129.2 422.8h0.9M128.3 425.0h0.9M128.8 425.5h0.9M131.3 430.8h0.9M135.1 427.3h0.9M125.2 433.4h0.9M135.1 416.7h0.9M122.8 428.9h0.9M135.2 418.7h0.9M137.0 434.3h0.9M132.2 419.7h0.9M133.7 427.6h0.9M123.7 424.8h0.9M131.5 425.8h0.9M142.6 417.7h0.9M126.4 424.4h0.9M129.8 425.3h0.9M143.5 419.6h0.9M132.3 430.6h0.9M130.8 423.5h0.9M128.5 418.3h0.9M132.1 434.3h0.9M146.4 446.4h0.9M130.1 426.9h0.9M138.9 418.2h0.9M142.2 415.0h0.9M134.2 425.2h0.9M139.2 426.2h0.9M123.1 429.2h0.9M136.7 421.7h0.9M124.2 417.6h0.9M134.2 436.6h0.9M135.3 418.9h0.9M135.7 428.2h0.9M126.4 418.1h0.9M133.6 426.0h0.9M129.2 433.3h0.9M118.8 428.4h0.9M139.8 420.6h0.9M127.2 415.3h0.9M130.4 433.1h0.9M138.9 416.3h0.9M129.3 434.6h0.9M131.5 443.1h0.9M132.4 415.3h0.9M133.9 431.2h0.9M137.0 429.5h0.9M140.9 428.5h0.9M146.3 428.5h0.9M133.3 432.6h0.9M123.0 423.6h0.9M134.5 432.8h0.9M135.9 428.9h0.9M128.1 426.5h0.9M134.8 420.9h0.9M140.7 423.3h0.9M126.9 430.8h0.9M134.6 434.4h0.9M130.8 428.7h0.9M131.3 424.7h0.9M139.3 414.5h0.9M138.2 418.9h0.9M124.5 418.7h0.9M141.1 435.5h0.9M149.7 430.0h0.9M115.3 413.6h0.9M132.4 431.6h0.9M128.0 418.5h0.9M133.8 428.6h0.9M140.1 432.6h0.9M126.0 429.9h0.9M126.7 421.2h0.9M130.4 433.4h0.9M128.8 439.9h0.9M133.2 425.3h0.9M136.3 427.7h0.9M134.8 432.6h0.9M132.2 424.9h0.9M123.5 421.9h0.9M133.0 425.6h0.9M128.6 412.0h0.9M132.0 431.4h0.9M126.0 421.9h0.9M130.5 431.5h0.9M126.9 419.5h0.9M132.6 418.6h0.9M131.9 434.3h0.9M138.1 423.8h0.9M127.4 428.2h0.9M125.2 420.2h0.9M129.1 422.7h0.9M133.8 427.8h0.9M134.6 427.7h0.9M123.7 428.9h0.9M123.7 420.7h0.9M136.6 430.1h0.9M136.3 424.3h0.9M138.8 432.5h0.9M132.2 433.0h0.9M127.2 416.4h0.9M117.9 432.4h0.9M135.4 420.6h0.9M126.5 440.2h0.9M119.9 423.4h0.9M139.7 419.6h0.9M126.9 416.5h0.9M130.7 421.7h0.9M130.7 414.9h0.9M128.4 441.0h0.9M129.8 424.7h0.9M133.9 431.0h0.9M130.4 433.9h0.9M130.4 425.4h0.9M133.7 414.5h0.9M118.0 422.4h0.9M135.0 434.1h0.9M132.5 426.1h0.9M125.0 421.0h0.9M145.4 421.3h0.9M137.4 418.5h0.9M131.1 419.2h0.9M126.3 424.8h0.9M136.9 416.9h0.9M130.0 428.0h0.9M135.3 426.6h0.9M133.0 420.4h0.9M126.6 419.9h0.9M134.7 427.8h0.9M123.3 430.4h0.9M131.7 419.4h0.9M118.2 421.0h0.9M133.3 433.9h0.9M138.0 423.2h0.9M135.0 432.8h0.9M124.3 419.7h0.9M141.8 423.5h0.9M130.7 429.1h0.9M120.0 419.1h0.9M131.3 417.4h0.9M127.0 418.7h0.9M127.0 421.9h0.9M141.6 430.9h0.9M138.3 426.1h0.9M125.5 424.6h0.9M136.5 431.0h0.9M126.9 447.1h0.9M122.6 447.0h0.9M134.9 443.8h0.9M137.9 442.2h0.9M121.2 441.4h0.9M139.5 442.9h0.9M134.1 447.3h0.9M125.5 446.7h0.9M135.2 447.3h0.9M125.2 448.3h0.9M130.6 448.9h0.9M113.7 435.8h0.9M131.9 449.7h0.9M136.2 447.3h0.9M111.4 442.1h0.9M138.6 444.1h0.9M119.2 445.0h0.9M142.2 436.0h0.9M134.7 447.2h0.9M114.2 447.2h0.9M135.3 440.7h0.9M125.9 438.2h0.9M120.1 441.7h0.9M135.1 444.4h0.9M128.7 443.2h0.9M133.8 446.5h0.9M126.1 444.3h0.9M128.2 443.8h0.9M130.1 444.1h0.9M122.7 441.0h0.9M123.7 447.1h0.9M123.2 451.2h0.9M131.4 443.0h0.9M126.3 442.5h0.9M125.7 441.6h0.9M140.9 437.7h0.9M123.5 437.8h0.9M135.8 449.0h0.9M137.5 439.5h0.9M136.1 446.5h0.9M122.7 449.0h0.9M133.8 447.2h0.9M121.3 441.9h0.9M123.1 445.2h0.9M123.9 453.5h0.9M127.6 444.7h0.9M115.9 443.8h0.9M132.7 438.1h0.9M126.0 450.2h0.9M127.1 443.6h0.9M127.6 446.9h0.9M121.7 449.7h0.9M128.1 446.3h0.9M140.7 440.7h0.9M132.1 444.7h0.9M128.1 448.5h0.9M126.7 451.5h0.9M110.6 444.0h0.9M119.5 445.0h0.9M127.9 446.7h0.9M134.2 444.4h0.9M131.8 444.4h0.9M133.7 437.4h0.9M126.8 439.3h0.9M129.4 436.2h0.9M129.4 450.7h0.9M129.2 442.5h0.9M125.6 445.8h0.9M127.9 449.9h0.9M141.8 442.6h0.9M122.5 453.4h0.9M121.8 446.4h0.9M138.0 437.6h0.9M124.5 451.1h0.9M119.9 447.4h0.9M135.1 443.7h0.9M136.9 431.7h0.9M132.4 452.6h0.9M136.2 441.5h0.9M131.4 438.1h0.9M120.5 446.4h0.9M130.4 446.7h0.9M133.3 442.7h0.9M122.2 437.3h0.9M126.8 436.8h0.9M125.3 440.1h0.9M122.2 445.4h0.9M139.2 450.1h0.9M132.4 443.7h0.9M135.7 440.4h0.9M129.4 449.5h0.9M150.7 439.2h0.9M126.7 447.9h0.9M125.4 443.9h0.9M116.6 443.2h0.9M125.2 442.2h0.9M113.3 451.8h0.9M126.4 446.4h0.9M122.6 444.5h0.9M132.5 447.0h0.9M112.5 446.2h0.9M124.0 440.5h0.9M134.5 442.1h0.9M118.0 449.3h0.9M120.8 440.8h0.9M114.1 444.8h0.9M117.5 450.5h0.9M118.6 450.7h0.9M124.2 443.7h0.9M122.6 442.8h0.9M140.6 438.7h0.9M119.8 447.8h0.9M127.8 445.8h0.9M134.7 436.2h0.9M141.9 436.5h0.9M108.6 451.7h0.9M134.1 445.6h0.9M122.2 441.9h0.9M130.7 448.3h0.9M129.8 449.1h0.9M129.4 449.1h0.9M121.9 448.6h0.9M150.2 441.5h0.9M120.1 449.4h0.9M134.5 437.9h0.9M133.5 443.5h0.9M130.1 446.9h0.9M127.8 447.9h0.9M118.8 452.0h0.9M141.5 437.2h0.9M122.6 446.5h0.9M122.8 440.2h0.9M128.7 446.7h0.9M132.5 440.9h0.9M124.1 449.1h0.9M131.5 450.4h0.9M119.7 442.3h0.9M132.6 437.1h0.9M125.6 447.7h0.9M126.7 446.7h0.9M137.7 441.5h0.9M138.9 443.4h0.9M128.3 436.3h0.9M123.5 448.7h0.9M126.0 452.3h0.9M126.7 447.5h0.9M144.8 440.1h0.9M110.8 445.8h0.9M135.0 441.6h0.9M129.0 440.3h0.9M123.8 445.4h0.9M126.5 436.8h0.9M138.0 439.6h0.9M116.8 444.0h0.9M125.8 439.4h0.9M128.0 443.2h0.9M133.8 445.3h0.9M119.6 436.3h0.9M120.2 442.5h0.9M111.3 420.2h0.9M114.6 432.9h0.9M112.6 437.1h0.9M108.2 423.0h0.9M113.0 418.7h0.9M103.4 426.6h0.9M107.2 429.1h0.9M104.0 428.9h0.9M113.5 417.0h0.9M111.6 415.1h0.9M108.4 431.4h0.9M104.8 423.8h0.9M112.9 417.9h0.9M103.6 419.4h0.9M105.3 421.5h0.9M112.4 416.3h0.9M105.4 423.6h0.9M110.0 427.5h0.9M108.4 421.5h0.9M99.9 428.8h0.9M119.2 422.4h0.9M105.2 435.8h0.9M103.3 422.0h0.9M111.2 422.4h0.9M110.8 428.6h0.9M115.7 431.6h0.9M110.4 426.6h0.9M99.6 419.7h0.9M106.6 420.8h0.9M114.1 424.0h0.9M104.7 426.3h0.9M107.6 416.5h0.9M112.1 415.7h0.9M111.6 429.5h0.9M112.4 419.3h0.9M107.3 422.3h0.9M106.4 432.4h0.9M107.5 420.5h0.9M106.2 438.2h0.9M104.0 418.6h0.9M109.0 418.4h0.9M104.3 427.5h0.9M103.1 429.6h0.9M110.4 424.2h0.9M105.6 423.3h0.9M101.6 427.3h0.9M100.6 433.8h0.9M101.3 431.5h0.9M115.6 416.9h0.9M114.0 428.4h0.9M111.0 431.7h0.9M105.3 423.6h0.9M100.2 423.8h0.9M110.9 437.2h0.9M107.3 424.2h0.9M102.4 421.7h0.9M108.5 429.3h0.9M115.9 423.5h0.9M111.5 414.1h0.9M105.5 426.3h0.9M99.5 426.4h0.9M110.1 410.2h0.9M110.7 423.8h0.9M101.8 430.0h0.9M98.9 433.1h0.9M108.5 423.2h0.9M103.5 426.3h0.9M104.0 421.3h0.9M111.0 428.3h0.9M105.7 432.3h0.9M105.6 412.1h0.9M107.9 419.9h0.9M110.7 416.3h0.9M106.3 430.4h0.9M113.0 419.6h0.9M104.7 418.5h0.9M107.9 425.3h0.9M116.9 421.9h0.9M109.4 426.9h0.9M108.9 418.8h0.9M110.1 429.5h0.9M110.1 425.7h0.9M109.4 426.2h0.9M106.0 438.1h0.9M100.6 413.0h0.9M111.3 427.7h0.9M109.5 438.3h0.9M109.1 419.2h0.9M108.8 432.8h0.9M112.6 428.2h0.9M105.1 423.8h0.9M106.4 412.9h0.9M107.2 412.3h0.9M110.1 432.4h0.9M107.9 424.7h0.9M114.9 417.4h0.9M120.4 429.0h0.9M105.8 411.2h0.9M103.5 422.9h0.9M115.8 431.0h0.9M106.2 429.4h0.9M110.5 422.6h0.9M107.7 421.1h0.9M104.1 427.2h0.9M110.2 413.0h0.9M107.7 424.7h0.9M114.3 424.6h0.9M114.3 423.6h0.9M113.6 423.9h0.9M103.4 430.1h0.9M110.0 413.8h0.9M117.0 426.9h0.9M120.1 431.6h0.9M103.8 419.5h0.9M100.5 419.6h0.9M109.8 421.3h0.9M102.0 422.7h0.9M112.5 425.3h0.9" stroke="#000" stroke-width="0.9" fill="none" filter="url(#b2)"/>
<ellipse cx="123.4" cy="416" rx="1.0" ry="0.8" transform="rotate(0 123.4 416)" fill="#fff"/>
</g>
<rect x="97.2" y="408.4" width="58.39999999999999" height="47.10000000000002" fill="none" stroke="#111" stroke-width="1"/>
<line x1="122.2" y1="408.4" x2="122.2" y2="455.5" stroke="#000" stroke-width="1.1" />
<line x1="97.2" y1="433.2" x2="155.6" y2="433.2" stroke="#000" stroke-width="1.1" />
<text x="121.8" y="406.2" font-size="8.4" text-anchor="middle" font-weight="normal" fill="#111" >sG1</text>
<text x="113.3" y="461.7" font-size="4.6" text-anchor="middle" fill="#333">10<tspan dy="-1.6" font-size="3.4">1</tspan></text>
<text x="127.9" y="461.7" font-size="4.6" text-anchor="middle" fill="#333">10<tspan dy="-1.6" font-size="3.4">2</tspan></text>
<text x="142.5" y="461.7" font-size="4.6" text-anchor="middle" fill="#333">10<tspan dy="-1.6" font-size="3.4">3</tspan></text>
<text x="157.1" y="461.7" font-size="4.6" text-anchor="middle" fill="#333">10<tspan dy="-1.6" font-size="3.4">4</tspan></text>
<text transform="translate(95.8,443.6545454545454) rotate(-90)" font-size="4.6" text-anchor="middle" fill="#333">10<tspan dy="-1.6" font-size="3.4">1</tspan></text>
<text transform="translate(95.8,429.3818181818182) rotate(-90)" font-size="4.6" text-anchor="middle" fill="#333">10<tspan dy="-1.6" font-size="3.4">2</tspan></text>
<text transform="translate(95.8,415.10909090909087) rotate(-90)" font-size="4.6" text-anchor="middle" fill="#333">10<tspan dy="-1.6" font-size="3.4">3</tspan></text>
<clipPath id="c28_472"><rect x="28" y="472.2" width="57.7" height="46.80000000000001"/></clipPath>
<g clip-path="url(#c28_472)">
<ellipse cx="41.5" cy="506.5" rx="7.6" ry="4.8" transform="rotate(-35 41.5 506.5)" fill="#000" opacity="0.95" filter="url(#bl)"/>
<ellipse cx="53.2" cy="483" rx="4.6" ry="1.8" transform="rotate(-90 53.2 483)" fill="#000" opacity="0.6" filter="url(#bl)"/>
<ellipse cx="43" cy="486" rx="5" ry="2.4" transform="rotate(-8 43 486)" fill="#000" opacity="0.45" filter="url(#bl)"/>
<path d="M45.9 503.3h0.9M43.6 506.4h0.9M35.8 511.2h0.9M45.2 507.2h0.9M36.0 517.1h0.9M47.7 503.1h0.9M35.5 505.3h0.9M43.8 511.5h0.9M41.3 510.5h0.9M42.5 509.8h0.9M40.8 505.0h0.9M39.3 508.9h0.9M39.0 504.6h0.9M36.7 506.6h0.9M47.3 503.3h0.9M37.8 510.4h0.9M34.7 513.6h0.9M36.5 510.7h0.9M38.7 506.2h0.9M41.1 504.9h0.9M40.6 505.9h0.9M35.1 508.1h0.9M44.9 499.3h0.9M34.6 509.5h0.9M32.7 509.4h0.9M41.5 508.5h0.9M38.6 509.6h0.9M43.4 509.4h0.9M41.2 505.6h0.9M43.9 505.0h0.9M36.6 499.7h0.9M45.2 502.5h0.9M34.0 509.0h0.9M49.4 512.6h0.9M39.9 505.9h0.9M41.4 506.1h0.9M37.9 503.0h0.9M43.7 506.2h0.9M36.1 501.1h0.9M38.7 510.8h0.9M42.6 505.1h0.9M40.0 501.6h0.9M45.6 501.8h0.9M41.8 506.6h0.9M38.3 504.3h0.9M38.0 513.5h0.9M41.4 510.8h0.9M35.7 505.3h0.9M30.3 511.8h0.9M36.1 511.3h0.9M40.9 511.2h0.9M34.7 510.9h0.9M37.4 504.5h0.9M50.3 501.6h0.9M38.5 509.9h0.9M41.6 502.3h0.9M36.2 508.1h0.9M38.9 503.3h0.9M40.1 508.4h0.9M40.4 513.1h0.9M41.2 503.6h0.9M45.9 502.2h0.9M41.3 510.7h0.9M37.8 512.3h0.9M42.8 505.2h0.9M31.5 514.0h0.9M42.3 510.5h0.9M40.3 505.0h0.9M39.6 513.7h0.9M39.5 506.8h0.9M37.1 502.8h0.9M44.2 509.0h0.9M46.2 506.0h0.9M44.3 504.1h0.9M49.0 505.6h0.9M43.8 503.0h0.9M36.0 507.3h0.9M50.8 498.4h0.9M38.4 509.4h0.9M46.7 501.7h0.9M49.4 503.8h0.9M50.5 507.1h0.9M41.3 507.9h0.9M36.7 504.4h0.9M38.0 507.4h0.9M48.0 498.3h0.9M41.1 510.0h0.9M31.7 511.7h0.9M43.1 500.5h0.9M38.1 499.4h0.9M49.7 510.9h0.9M35.9 506.9h0.9M37.9 505.3h0.9M54.5 500.8h0.9M51.5 499.8h0.9M34.7 510.8h0.9M46.7 505.4h0.9M50.3 504.2h0.9M38.7 504.4h0.9M41.7 508.8h0.9M40.0 504.6h0.9M46.4 497.1h0.9M49.9 500.7h0.9M34.1 511.8h0.9M41.7 510.7h0.9M39.3 508.3h0.9M39.8 503.7h0.9M35.0 506.0h0.9M40.2 504.2h0.9M49.6 506.3h0.9M50.1 503.6h0.9M41.0 502.1h0.9M48.8 508.2h0.9M39.9 502.7h0.9M41.1 507.1h0.9M38.4 501.4h0.9M41.0 511.0h0.9M37.6 511.5h0.9M39.7 506.2h0.9M44.7 511.8h0.9M33.0 509.4h0.9M47.5 508.2h0.9M50.7 510.7h0.9M50.7 497.5h0.9M33.0 510.2h0.9M42.3 508.0h0.9M40.3 508.3h0.9M42.9 509.5h0.9M37.8 506.6h0.9M46.6 508.8h0.9M36.0 503.4h0.9M41.3 499.4h0.9M37.6 513.8h0.9M42.0 510.8h0.9M38.0 512.0h0.9M38.9 504.6h0.9M47.6 509.9h0.9M48.9 502.8h0.9M37.0 509.8h0.9M42.6 511.9h0.9M49.7 503.3h0.9M37.7 506.8h0.9M48.0 499.8h0.9M36.5 508.0h0.9M45.7 501.9h0.9M45.4 505.9h0.9M44.7 511.7h0.9M40.6 512.1h0.9M38.4 502.1h0.9M34.1 517.5h0.9M37.5 509.7h0.9M48.3 505.1h0.9M35.4 505.4h0.9M42.1 503.8h0.9M46.8 506.1h0.9M43.9 507.7h0.9M38.0 508.4h0.9M46.1 508.9h0.9M36.8 507.1h0.9M40.9 504.0h0.9M41.7 509.9h0.9M43.8 502.3h0.9M36.7 506.9h0.9M49.2 502.4h0.9M36.6 508.8h0.9M40.7 504.5h0.9M34.6 510.2h0.9M44.1 501.6h0.9M41.9 501.0h0.9M35.2 505.5h0.9M44.5 508.8h0.9M39.6 506.6h0.9M40.2 501.5h0.9M43.4 507.4h0.9M52.1 500.6h0.9M35.9 506.4h0.9M41.2 510.1h0.9M34.2 506.4h0.9M36.5 509.6h0.9M39.8 508.5h0.9M37.5 508.6h0.9M42.0 501.5h0.9M42.3 511.1h0.9M34.8 511.2h0.9M41.4 506.0h0.9M36.5 512.8h0.9M36.7 506.9h0.9M38.4 506.0h0.9M47.8 510.6h0.9M37.8 503.5h0.9M38.9 507.7h0.9M43.5 510.5h0.9M51.6 500.0h0.9M45.3 505.8h0.9M45.4 498.6h0.9M44.9 499.9h0.9M41.8 500.2h0.9M43.0 504.8h0.9M47.0 506.6h0.9M43.6 508.1h0.9M42.2 510.1h0.9M37.3 508.6h0.9M40.3 503.6h0.9M39.8 504.9h0.9M46.0 506.4h0.9M35.3 513.8h0.9M41.4 508.9h0.9M52.9 501.5h0.9M45.2 507.2h0.9M47.2 508.0h0.9M45.4 502.9h0.9M42.1 511.3h0.9M50.2 502.9h0.9M53.0 509.0h0.9M32.3 504.9h0.9M49.5 500.8h0.9M44.7 501.5h0.9M39.6 507.2h0.9M39.1 514.1h0.9M40.5 503.9h0.9M44.7 509.6h0.9M45.1 503.5h0.9M45.5 504.9h0.9M38.1 504.2h0.9M50.2 505.7h0.9M34.5 507.1h0.9M43.0 505.2h0.9M35.0 506.6h0.9M41.9 505.2h0.9M44.3 506.8h0.9M43.0 504.8h0.9M43.9 503.1h0.9M37.1 512.6h0.9M37.9 503.9h0.9M36.2 505.2h0.9M44.5 500.5h0.9M51.7 499.4h0.9M40.4 501.9h0.9M41.3 502.3h0.9M38.0 502.7h0.9M47.0 511.0h0.9M46.8 503.6h0.9M38.1 510.1h0.9M37.8 504.0h0.9M43.1 505.6h0.9M43.3 509.2h0.9M39.5 509.9h0.9M42.8 510.6h0.9M37.6 504.8h0.9M43.5 505.0h0.9M43.5 506.1h0.9M34.3 507.6h0.9M50.6 497.9h0.9M39.5 497.1h0.9M34.9 508.7h0.9M40.5 508.4h0.9M34.1 511.9h0.9M46.6 509.9h0.9M41.5 508.6h0.9M35.6 507.8h0.9M48.0 500.0h0.9M44.6 501.0h0.9M40.0 505.0h0.9M48.3 503.5h0.9M43.6 511.0h0.9M34.7 514.7h0.9M44.8 502.5h0.9M39.9 501.8h0.9M30.6 508.0h0.9M40.3 503.9h0.9M49.4 504.5h0.9M36.7 508.0h0.9M42.4 508.3h0.9M42.4 509.0h0.9M42.9 507.2h0.9M51.3 504.1h0.9M43.9 504.4h0.9M50.6 504.3h0.9M35.8 502.9h0.9M39.3 509.7h0.9M41.7 510.6h0.9M43.9 498.2h0.9M42.3 509.1h0.9M34.0 508.8h0.9M37.9 506.5h0.9M31.4 515.3h0.9M43.5 503.2h0.9M42.1 506.1h0.9M40.8 508.8h0.9M41.1 504.5h0.9M46.1 504.2h0.9M48.9 505.3h0.9M48.2 497.6h0.9M34.0 499.7h0.9M44.7 497.3h0.9M36.3 510.6h0.9M41.5 501.9h0.9M44.5 510.0h0.9M47.3 503.1h0.9M44.1 506.0h0.9M43.8 510.8h0.9M45.8 506.2h0.9M32.6 510.9h0.9M39.4 503.8h0.9M47.7 507.4h0.9M40.7 507.0h0.9M44.0 509.3h0.9M39.8 503.4h0.9M44.1 498.3h0.9M50.1 511.4h0.9M41.4 508.9h0.9M45.6 503.6h0.9M42.1 503.9h0.9M37.7 503.1h0.9M48.1 498.3h0.9M38.4 507.5h0.9M44.4 501.3h0.9M36.4 505.8h0.9M43.6 502.5h0.9M39.6 507.9h0.9M32.9 512.6h0.9M40.1 508.7h0.9M40.9 508.3h0.9M41.7 505.9h0.9M39.0 508.8h0.9M40.1 505.3h0.9M44.2 506.1h0.9M41.1 513.9h0.9M35.0 509.2h0.9M34.0 504.7h0.9M41.6 508.1h0.9M41.9 508.6h0.9M38.5 508.3h0.9M34.7 510.7h0.9M42.9 509.4h0.9M45.4 502.2h0.9M47.7 505.0h0.9M38.3 513.9h0.9M38.2 517.0h0.9M49.5 502.9h0.9M43.4 507.4h0.9M37.6 502.3h0.9M35.6 514.8h0.9M43.9 508.7h0.9M42.0 500.5h0.9M44.0 501.5h0.9M38.7 504.1h0.9M40.3 512.5h0.9M40.8 508.0h0.9M49.0 505.5h0.9M48.2 505.1h0.9M39.2 515.4h0.9M44.3 510.8h0.9M42.3 505.7h0.9M43.6 513.4h0.9M38.2 506.8h0.9M32.0 510.1h0.9M42.7 508.0h0.9M41.1 503.9h0.9M43.0 508.8h0.9M46.4 506.0h0.9M41.1 502.5h0.9M44.1 497.7h0.9M45.8 502.8h0.9M40.2 506.6h0.9M37.8 496.1h0.9M46.1 506.8h0.9M51.6 506.3h0.9M48.6 507.0h0.9M37.6 511.4h0.9M43.0 511.3h0.9M44.5 504.9h0.9M49.6 505.2h0.9M31.9 510.2h0.9M38.5 504.3h0.9M33.5 517.5h0.9M37.9 500.5h0.9M39.8 515.9h0.9M36.5 503.8h0.9M51.4 505.4h0.9M42.5 513.8h0.9M39.6 512.0h0.9M41.1 501.8h0.9M53.0 500.0h0.9M44.7 503.3h0.9M38.1 500.4h0.9M41.5 499.7h0.9M41.1 503.0h0.9M44.0 505.2h0.9M39.2 509.9h0.9M42.3 507.6h0.9M41.4 509.6h0.9M45.9 504.5h0.9M41.4 507.5h0.9M48.5 503.9h0.9M49.6 504.5h0.9M47.1 499.9h0.9M38.3 506.7h0.9M48.6 505.7h0.9M39.8 506.3h0.9M41.1 508.0h0.9M40.9 505.5h0.9M42.0 499.7h0.9M34.0 498.9h0.9M36.4 502.3h0.9M43.9 511.1h0.9M40.2 508.9h0.9M50.4 509.0h0.9M38.9 508.9h0.9M43.7 503.3h0.9M45.7 504.2h0.9M38.0 503.7h0.9M48.5 499.9h0.9M44.0 508.5h0.9M50.2 498.7h0.9M47.6 509.2h0.9M39.3 497.5h0.9M41.2 507.6h0.9M48.8 502.2h0.9M41.3 498.2h0.9M37.9 512.6h0.9M44.3 504.0h0.9M42.0 506.8h0.9M41.4 505.0h0.9M39.9 508.8h0.9M44.8 508.9h0.9M48.0 511.5h0.9M44.6 504.8h0.9M33.5 506.2h0.9M32.0 504.1h0.9M35.8 505.2h0.9M37.9 502.0h0.9M38.4 504.2h0.9M43.9 513.0h0.9M42.3 503.9h0.9M39.9 500.3h0.9M41.1 513.0h0.9M44.1 507.7h0.9M41.0 506.8h0.9M35.6 505.9h0.9M37.3 501.6h0.9M40.5 502.6h0.9M41.6 509.3h0.9M40.9 510.7h0.9M43.2 504.7h0.9M39.8 514.4h0.9M41.4 514.5h0.9M40.6 513.7h0.9M47.0 507.6h0.9M39.1 508.7h0.9M40.8 505.1h0.9M43.6 502.2h0.9M37.4 503.9h0.9M44.6 507.4h0.9M50.6 505.2h0.9M41.1 501.3h0.9M41.3 505.1h0.9M40.7 504.1h0.9M42.5 505.8h0.9M48.5 509.8h0.9M43.3 506.6h0.9M49.7 499.5h0.9M37.2 506.6h0.9M42.2 511.1h0.9M39.2 505.9h0.9M44.7 499.7h0.9M42.9 506.2h0.9M39.9 502.3h0.9M38.6 503.5h0.9M38.0 509.0h0.9M43.5 502.0h0.9M43.5 507.3h0.9M34.4 513.4h0.9M38.6 510.3h0.9M50.1 503.8h0.9M45.3 503.9h0.9M36.4 509.6h0.9M47.3 507.6h0.9M37.1 511.2h0.9M46.0 506.0h0.9M42.5 503.8h0.9M40.7 505.1h0.9M47.6 503.1h0.9M45.1 508.6h0.9M38.5 509.0h0.9M46.5 505.9h0.9M33.4 508.1h0.9M57.3 506.6h0.9M36.5 509.4h0.9M45.6 507.7h0.9M40.8 502.2h0.9M38.8 505.2h0.9M44.0 508.8h0.9M40.0 510.2h0.9M45.1 499.0h0.9M45.8 510.3h0.9M40.2 509.2h0.9M33.0 512.5h0.9M45.5 509.4h0.9M40.6 509.1h0.9M48.3 498.8h0.9M44.7 503.8h0.9M34.0 507.8h0.9M42.5 514.2h0.9M45.4 505.2h0.9M40.5 505.0h0.9M39.6 506.0h0.9M47.9 503.4h0.9M39.9 507.5h0.9M45.2 505.6h0.9M43.3 508.2h0.9M40.1 505.1h0.9M38.3 509.5h0.9M36.5 513.0h0.9M40.8 504.7h0.9M37.2 510.0h0.9M36.8 508.4h0.9M41.8 504.4h0.9M43.5 511.3h0.9M41.8 512.1h0.9M38.6 508.7h0.9M47.6 505.0h0.9M37.7 508.3h0.9M32.7 508.3h0.9M43.9 500.7h0.9M39.6 504.7h0.9M38.0 504.8h0.9M40.3 510.9h0.9M44.1 506.6h0.9M46.2 506.9h0.9M44.7 508.5h0.9M36.7 500.6h0.9M39.3 513.4h0.9M34.9 512.1h0.9M49.5 502.8h0.9M46.0 504.2h0.9M34.6 502.6h0.9M50.0 508.5h0.9M36.4 508.3h0.9M44.8 505.1h0.9M41.8 504.0h0.9M37.9 504.7h0.9M36.3 506.9h0.9M45.1 503.1h0.9M40.0 507.6h0.9M31.3 512.6h0.9M39.4 516.7h0.9M46.7 506.8h0.9M43.0 505.3h0.9M35.6 514.5h0.9M39.4 506.0h0.9M44.4 509.9h0.9M39.0 507.8h0.9M36.8 511.7h0.9M43.4 514.3h0.9M47.3 498.7h0.9M37.5 505.2h0.9M33.8 505.2h0.9M39.6 507.2h0.9M38.8 508.0h0.9M42.9 505.4h0.9M36.4 506.8h0.9M43.9 504.8h0.9M47.6 505.4h0.9M47.4 503.0h0.9M49.0 503.1h0.9M40.0 506.7h0.9M43.4 499.0h0.9M41.0 510.0h0.9M42.3 500.6h0.9M45.2 505.3h0.9M47.1 502.7h0.9M41.0 504.2h0.9M43.6 514.8h0.9M41.0 503.7h0.9M42.3 503.6h0.9M40.1 503.0h0.9M39.0 501.8h0.9M40.1 504.0h0.9M38.5 507.3h0.9M43.1 504.8h0.9M48.1 501.6h0.9M45.7 502.0h0.9M48.1 505.8h0.9M38.0 504.8h0.9M37.1 507.8h0.9M43.6 504.2h0.9M42.3 503.6h0.9M39.6 506.0h0.9M40.2 509.4h0.9M34.8 511.6h0.9M34.0 511.6h0.9M44.6 509.0h0.9M41.2 505.4h0.9M41.8 510.2h0.9M40.2 505.6h0.9M41.6 498.0h0.9M32.2 511.5h0.9M44.7 507.0h0.9M38.7 499.4h0.9M39.2 502.2h0.9M47.0 504.5h0.9M29.1 510.2h0.9M51.8 506.9h0.9M42.1 509.1h0.9M42.3 505.7h0.9M47.7 504.7h0.9M53.4 505.6h0.9M37.0 498.0h0.9M39.8 505.0h0.9M32.7 498.3h0.9M46.1 504.8h0.9M32.7 511.7h0.9M48.9 510.2h0.9M38.2 506.4h0.9M31.4 514.4h0.9M37.3 515.2h0.9M41.0 501.9h0.9M47.9 504.8h0.9M47.3 510.1h0.9M33.9 509.4h0.9M41.8 510.7h0.9M33.8 512.9h0.9M55.4 505.5h0.9M34.7 506.4h0.9M34.4 514.2h0.9M39.5 503.0h0.9M37.5 501.4h0.9M41.6 506.9h0.9M42.7 504.1h0.9M36.9 513.8h0.9M39.8 506.2h0.9M37.6 512.3h0.9M37.6 507.8h0.9M38.4 506.1h0.9M45.1 508.0h0.9M42.7 511.0h0.9M40.3 503.8h0.9M40.8 514.7h0.9M44.4 505.8h0.9M40.4 505.2h0.9M41.3 502.6h0.9M44.0 514.3h0.9M40.0 508.9h0.9M38.9 506.6h0.9M37.8 503.5h0.9M38.7 508.5h0.9M35.6 501.4h0.9M39.4 512.3h0.9M38.3 505.4h0.9M41.9 507.0h0.9M39.3 517.1h0.9M41.1 507.8h0.9M48.5 500.0h0.9M41.4 502.4h0.9M40.1 512.8h0.9M36.9 503.3h0.9M47.0 505.2h0.9M34.1 507.6h0.9M48.6 506.4h0.9M50.1 503.8h0.9M45.2 504.8h0.9M41.3 509.3h0.9M43.3 502.6h0.9M45.6 504.8h0.9M33.4 502.8h0.9M49.4 501.8h0.9M33.4 505.6h0.9M42.0 505.9h0.9M44.5 502.8h0.9M37.9 500.3h0.9M31.9 510.4h0.9M37.0 509.3h0.9M40.2 506.2h0.9M29.5 511.9h0.9M52.6 500.5h0.9M44.2 501.9h0.9M43.8 507.1h0.9M43.7 503.7h0.9M46.2 499.6h0.9M44.4 517.3h0.9M47.2 500.4h0.9M43.5 507.7h0.9M49.8 494.8h0.9M42.7 507.3h0.9M41.2 500.7h0.9M41.9 502.1h0.9M41.9 504.6h0.9M35.6 510.1h0.9M41.9 506.6h0.9M39.8 506.3h0.9M39.3 508.9h0.9M30.9 503.8h0.9M40.0 512.8h0.9M40.0 509.4h0.9M41.8 517.0h0.9M46.7 498.4h0.9M38.7 506.0h0.9M39.9 514.7h0.9M41.8 503.8h0.9M38.5 508.6h0.9M45.8 502.7h0.9M41.1 504.2h0.9M34.9 516.8h0.9M35.3 509.7h0.9M42.6 514.0h0.9M45.9 504.3h0.9M41.8 497.5h0.9M36.8 515.4h0.9M43.4 499.0h0.9M42.5 504.2h0.9M43.2 502.4h0.9M34.3 508.3h0.9M46.7 504.6h0.9M38.4 510.8h0.9M37.8 506.8h0.9M44.9 504.0h0.9M43.8 512.7h0.9M41.6 510.8h0.9M38.3 507.2h0.9M35.0 495.7h0.9M38.7 510.8h0.9M36.9 510.8h0.9M38.2 504.4h0.9M30.9 509.9h0.9M45.5 506.0h0.9M38.0 508.1h0.9M44.2 505.3h0.9M40.8 506.9h0.9M36.1 509.1h0.9M44.0 504.5h0.9M36.4 510.1h0.9M40.4 505.9h0.9M37.9 505.4h0.9M44.7 500.7h0.9M40.0 502.2h0.9M41.6 507.1h0.9M35.0 510.9h0.9M48.9 505.5h0.9M47.6 507.8h0.9M39.1 500.2h0.9M44.1 509.8h0.9M43.1 506.0h0.9M46.1 505.5h0.9M34.7 513.3h0.9M42.0 501.7h0.9M42.7 505.6h0.9M44.9 504.9h0.9M39.0 507.3h0.9M47.4 504.5h0.9M45.0 506.8h0.9M37.8 508.3h0.9M37.3 513.1h0.9M37.4 512.0h0.9M32.7 502.6h0.9M44.0 504.4h0.9M40.3 517.6h0.9M44.7 507.0h0.9M47.0 504.4h0.9M36.9 512.4h0.9M37.5 515.4h0.9M45.7 505.8h0.9M45.7 506.0h0.9M41.5 508.8h0.9M40.4 510.1h0.9M48.3 502.0h0.9M29.3 507.7h0.9M44.8 499.3h0.9M41.3 507.3h0.9M39.1 507.7h0.9M43.6 505.1h0.9M39.7 511.9h0.9M45.5 496.4h0.9M37.2 512.2h0.9M40.1 505.0h0.9M40.5 506.2h0.9M40.8 502.1h0.9M33.4 507.5h0.9M42.3 503.6h0.9M35.2 511.9h0.9M39.0 505.5h0.9M43.1 502.4h0.9M33.1 507.0h0.9M39.9 503.6h0.9M42.8 508.6h0.9M51.9 496.4h0.9M45.8 505.5h0.9M38.2 504.0h0.9M39.9 500.1h0.9M49.0 505.8h0.9M32.2 508.0h0.9M44.7 505.4h0.9M41.2 509.0h0.9M49.8 501.4h0.9M33.4 508.3h0.9M40.3 505.8h0.9M39.8 507.8h0.9M31.9 510.9h0.9M39.1 509.8h0.9M40.3 501.9h0.9M32.0 513.7h0.9M41.9 501.9h0.9M36.7 508.5h0.9M41.4 502.6h0.9M39.0 509.0h0.9M36.9 504.9h0.9M47.2 504.4h0.9M40.4 506.3h0.9M37.6 509.7h0.9M43.8 501.6h0.9M39.7 510.5h0.9M43.8 511.1h0.9M42.6 505.2h0.9M35.9 511.4h0.9M39.0 509.4h0.9M34.8 505.4h0.9M35.6 507.4h0.9M39.5 501.8h0.9M41.1 506.7h0.9M45.4 511.7h0.9M52.6 499.6h0.9M42.2 510.7h0.9M37.6 502.4h0.9M37.1 507.7h0.9M44.2 500.6h0.9M43.0 512.7h0.9M42.1 503.6h0.9M40.8 508.8h0.9M52.4 505.5h0.9M40.3 509.9h0.9M35.7 513.4h0.9M35.4 505.5h0.9M36.3 515.9h0.9M45.6 510.1h0.9M33.6 514.6h0.9M37.9 513.1h0.9M39.8 505.8h0.9M39.0 509.3h0.9M44.9 504.7h0.9M45.8 505.9h0.9M41.1 501.4h0.9M29.3 502.5h0.9M40.6 508.5h0.9M39.8 505.7h0.9M35.9 510.2h0.9M36.0 504.4h0.9M32.4 510.1h0.9M41.4 509.6h0.9M42.5 506.8h0.9M41.1 505.7h0.9M47.6 503.9h0.9M54.2 508.8h0.9M47.2 497.4h0.9M48.0 501.0h0.9M44.7 508.5h0.9M49.7 505.6h0.9M37.8 509.0h0.9M41.8 504.8h0.9M36.8 511.1h0.9M41.3 501.7h0.9M44.0 503.0h0.9M41.3 508.9h0.9M39.3 508.4h0.9M44.8 506.3h0.9M52.6 502.8h0.9M45.4 504.5h0.9M41.5 508.0h0.9M48.9 502.5h0.9M43.6 504.5h0.9M43.6 502.5h0.9M50.2 503.4h0.9M34.4 504.4h0.9M47.0 502.3h0.9M39.6 506.7h0.9M48.7 504.6h0.9M48.0 502.1h0.9M40.5 508.8h0.9M31.3 512.2h0.9M36.6 512.2h0.9M36.9 508.7h0.9M44.5 504.1h0.9M41.4 504.8h0.9M47.5 499.9h0.9M48.6 501.8h0.9M44.2 507.2h0.9M45.7 507.0h0.9M44.7 506.8h0.9M37.4 504.2h0.9M40.5 503.8h0.9M43.9 512.5h0.9M52.2 494.9h0.9M39.7 500.4h0.9M42.9 507.6h0.9M52.4 497.8h0.9M51.1 496.7h0.9M44.3 501.2h0.9M40.0 499.4h0.9M49.8 495.7h0.9M46.3 496.3h0.9M57.4 498.3h0.9M46.9 493.4h0.9M44.0 501.8h0.9M40.1 498.2h0.9M38.7 503.5h0.9M49.0 493.3h0.9M44.8 504.0h0.9M39.6 512.6h0.9M52.9 498.8h0.9M39.2 508.2h0.9M37.7 505.4h0.9M38.8 501.3h0.9M49.2 505.4h0.9M44.1 505.8h0.9M38.0 500.3h0.9M40.0 503.6h0.9M41.1 501.2h0.9M44.1 511.4h0.9M43.2 494.0h0.9M40.5 507.3h0.9M46.1 505.5h0.9M49.3 496.3h0.9M40.2 507.0h0.9M53.2 497.0h0.9M45.7 505.2h0.9M47.8 501.5h0.9M51.7 499.3h0.9M37.8 505.3h0.9M34.9 516.8h0.9M45.8 498.6h0.9M44.3 504.3h0.9M36.2 486.9h0.9M42.5 504.5h0.9M41.8 500.8h0.9M43.7 498.8h0.9M53.1 494.4h0.9M43.0 500.6h0.9M55.4 492.7h0.9M48.9 489.7h0.9M36.8 515.1h0.9M40.0 503.5h0.9M50.8 494.7h0.9M39.4 493.2h0.9M40.3 492.4h0.9M36.5 499.3h0.9M50.7 510.1h0.9M43.3 505.5h0.9M42.9 498.4h0.9M46.7 496.0h0.9M36.7 498.2h0.9M50.3 495.3h0.9M43.1 503.1h0.9M46.6 503.6h0.9M47.4 502.6h0.9M50.1 499.8h0.9M46.5 497.5h0.9M44.5 498.2h0.9M33.1 497.0h0.9M40.2 501.2h0.9M46.8 501.7h0.9M49.4 489.8h0.9M42.5 499.9h0.9M43.4 492.8h0.9M50.2 496.7h0.9M47.9 505.1h0.9M43.8 496.7h0.9M41.7 500.1h0.9M47.4 501.4h0.9M36.8 502.3h0.9M54.5 488.1h0.9M44.0 508.3h0.9M44.5 497.4h0.9M59.2 501.5h0.9M52.7 492.2h0.9M44.8 498.7h0.9M44.8 502.9h0.9M55.2 501.4h0.9M43.2 499.3h0.9M38.9 508.0h0.9M50.7 492.9h0.9M46.2 495.3h0.9M45.2 498.5h0.9M42.6 504.6h0.9M57.0 496.4h0.9M48.6 505.1h0.9M45.5 505.1h0.9M39.5 504.9h0.9M39.8 502.9h0.9M61.0 500.7h0.9M51.2 507.7h0.9M43.7 499.9h0.9M42.6 495.9h0.9M51.4 505.1h0.9M54.7 497.0h0.9M44.0 499.9h0.9M41.4 503.9h0.9M57.0 499.4h0.9M39.7 508.9h0.9M48.7 505.1h0.9M32.8 507.4h0.9M51.2 502.9h0.9M48.1 498.3h0.9M50.2 503.9h0.9M43.0 499.9h0.9M41.2 511.2h0.9M43.4 490.2h0.9M48.5 497.9h0.9M42.1 506.3h0.9M43.0 500.2h0.9M36.7 493.9h0.9M57.8 501.7h0.9M40.5 505.5h0.9M48.3 495.1h0.9M38.8 517.3h0.9M49.3 492.9h0.9M53.8 487.1h0.9M42.7 493.8h0.9M45.2 504.1h0.9M40.4 504.0h0.9M44.4 495.7h0.9M49.7 492.4h0.9M51.4 496.0h0.9M39.1 502.3h0.9M45.6 492.0h0.9M46.2 502.6h0.9M42.8 500.9h0.9M45.8 501.3h0.9M47.4 500.3h0.9M48.7 500.9h0.9M39.8 508.0h0.9M56.0 495.0h0.9M45.2 492.4h0.9M42.3 502.0h0.9M34.0 508.4h0.9M51.4 493.4h0.9M38.8 510.7h0.9M41.9 503.3h0.9M48.0 500.5h0.9M46.7 504.3h0.9M47.3 497.4h0.9M48.5 500.6h0.9M48.5 499.3h0.9M47.2 499.7h0.9M46.1 506.7h0.9M41.8 512.7h0.9M37.3 488.4h0.9M41.0 510.0h0.9M34.3 489.4h0.9M48.2 505.0h0.9M40.7 492.2h0.9M37.2 516.0h0.9M54.4 498.8h0.9M47.0 502.9h0.9M53.3 501.8h0.9M46.1 498.5h0.9M46.5 496.7h0.9M51.7 505.4h0.9M47.1 504.8h0.9M48.5 499.0h0.9M42.7 496.4h0.9M39.7 495.7h0.9M53.7 501.6h0.9M39.2 499.2h0.9M39.6 498.9h0.9M43.5 503.3h0.9M54.8 501.1h0.9M47.2 501.6h0.9M40.8 494.4h0.9M51.8 502.6h0.9M51.0 497.8h0.9M42.5 496.2h0.9M41.2 498.8h0.9M49.1 502.6h0.9M48.4 506.1h0.9M50.0 494.9h0.9M53.1 499.9h0.9M52.8 500.6h0.9M46.7 499.3h0.9M42.0 502.0h0.9M48.4 503.1h0.9M46.4 507.7h0.9M50.8 494.2h0.9M41.8 499.9h0.9M45.5 507.8h0.9M42.0 494.0h0.9M46.3 498.7h0.9M57.8 497.9h0.9M61.9 491.0h0.9M49.4 505.0h0.9M41.1 506.4h0.9M58.8 493.1h0.9M42.0 502.3h0.9M42.0 505.6h0.9M55.8 503.9h0.9M45.1 502.7h0.9M43.7 503.0h0.9M39.2 509.5h0.9M46.5 505.9h0.9M44.6 488.8h0.9M51.6 499.8h0.9M50.0 492.9h0.9M40.1 502.1h0.9M41.2 501.2h0.9M45.8 493.0h0.9M41.4 505.4h0.9M49.4 504.3h0.9M45.1 496.6h0.9M41.4 508.1h0.9M44.8 509.2h0.9M36.6 500.7h0.9M43.9 504.6h0.9M46.5 493.1h0.9M58.0 501.1h0.9M54.2 502.8h0.9M44.1 504.5h0.9M36.9 496.7h0.9M41.1 497.5h0.9M44.9 501.5h0.9M46.3 496.9h0.9M53.1 503.8h0.9M46.6 497.3h0.9M48.2 498.1h0.9M51.4 502.9h0.9M54.1 499.5h0.9M48.3 491.4h0.9M46.2 501.7h0.9M49.8 498.2h0.9M39.6 504.7h0.9M41.8 507.1h0.9M50.6 490.3h0.9M43.8 502.6h0.9M42.8 503.3h0.9M37.2 504.5h0.9M47.5 502.4h0.9M34.6 494.8h0.9M45.1 503.9h0.9M44.6 504.5h0.9M48.9 492.8h0.9M46.1 497.6h0.9M48.3 513.0h0.9M49.6 491.8h0.9M45.5 498.7h0.9M46.3 499.6h0.9M51.4 508.7h0.9M47.8 497.9h0.9M48.7 495.4h0.9M42.4 499.8h0.9M47.7 501.1h0.9M45.2 503.4h0.9M45.6 503.2h0.9M40.4 487.1h0.9M41.5 497.4h0.9M44.0 503.0h0.9M46.7 508.0h0.9M43.5 505.7h0.9M47.2 500.9h0.9M41.6 506.8h0.9M54.7 496.9h0.9M42.6 497.0h0.9M43.9 505.7h0.9M53.9 484.3h0.9M42.8 502.2h0.9M45.5 499.6h0.9M48.4 499.5h0.9M39.1 513.0h0.9M50.5 504.2h0.9M39.4 497.1h0.9M48.6 501.6h0.9M42.8 496.6h0.9M42.2 511.7h0.9M44.1 504.7h0.9M47.0 502.7h0.9M45.7 499.8h0.9M42.5 507.4h0.9M39.3 504.8h0.9M44.5 497.3h0.9M43.5 505.9h0.9M36.1 509.9h0.9M37.5 506.3h0.9M48.7 494.5h0.9M47.4 497.1h0.9M44.1 496.0h0.9M44.5 488.8h0.9M41.7 499.0h0.9M47.8 495.5h0.9M50.6 503.4h0.9M52.9 498.7h0.9M45.4 506.0h0.9M50.9 501.2h0.9M45.7 496.8h0.9M47.0 501.1h0.9M43.9 493.8h0.9M46.9 505.8h0.9M45.7 505.8h0.9M45.0 502.0h0.9M31.1 505.6h0.9M43.4 505.3h0.9M43.4 515.0h0.9M40.5 504.1h0.9M54.8 502.6h0.9M41.7 494.8h0.9M41.4 498.8h0.9M49.7 502.1h0.9M51.6 498.2h0.9M48.3 500.3h0.9M44.1 500.9h0.9M56.4 500.2h0.9M40.5 504.9h0.9M50.2 497.0h0.9M43.0 499.6h0.9M55.0 496.7h0.9M39.6 508.2h0.9M52.9 501.4h0.9M47.3 492.8h0.9M51.5 499.8h0.9M38.0 503.9h0.9M44.4 497.2h0.9M49.1 515.5h0.9M47.1 492.6h0.9M44.3 501.7h0.9M45.1 496.2h0.9M46.3 502.9h0.9M38.1 501.4h0.9M56.7 510.8h0.9M48.8 500.9h0.9M41.7 507.5h0.9M41.5 507.3h0.9M41.6 501.2h0.9M47.0 510.5h0.9M47.3 507.4h0.9M49.3 498.0h0.9M41.2 510.3h0.9M45.5 500.8h0.9M38.1 508.7h0.9M43.6 496.1h0.9M50.5 496.3h0.9M41.2 507.2h0.9M51.2 500.7h0.9M53.9 498.2h0.9M38.1 502.7h0.9M44.1 499.9h0.9M44.1 501.7h0.9M37.1 497.0h0.9M48.7 498.1h0.9M44.9 495.9h0.9M42.7 502.2h0.9M48.1 501.4h0.9M42.9 504.4h0.9M45.5 503.1h0.9M37.0 508.5h0.9M53.0 479.6h0.9M51.4 473.2h0.9M54.6 485.6h0.9M54.0 480.5h0.9M52.9 493.2h0.9M53.7 485.3h0.9M52.8 479.8h0.9M52.5 484.1h0.9M54.3 486.1h0.9M56.3 473.0h0.9M56.9 481.4h0.9M57.3 481.5h0.9M50.8 490.5h0.9M52.9 474.3h0.9M51.0 499.8h0.9M55.6 482.0h0.9M56.0 485.6h0.9M53.4 484.1h0.9M51.5 482.8h0.9M57.9 487.4h0.9M55.9 490.5h0.9M54.1 485.7h0.9M50.3 483.8h0.9M55.5 483.3h0.9M55.1 485.3h0.9M52.0 484.9h0.9M51.7 490.3h0.9M53.0 473.8h0.9M48.9 491.6h0.9M52.7 483.8h0.9M55.2 485.6h0.9M56.2 479.8h0.9M52.0 491.7h0.9M55.0 485.7h0.9M50.2 480.5h0.9M53.5 485.2h0.9M51.2 480.2h0.9M51.8 477.3h0.9M52.1 487.5h0.9M56.8 483.5h0.9M52.0 476.1h0.9M53.3 475.3h0.9M53.4 479.2h0.9M51.3 482.5h0.9M51.9 483.2h0.9M50.6 483.7h0.9M56.7 479.6h0.9M52.3 473.6h0.9M54.5 486.6h0.9M51.9 480.5h0.9M49.5 487.1h0.9M56.6 476.7h0.9M53.1 485.5h0.9M52.0 483.2h0.9M52.4 481.1h0.9M52.6 484.3h0.9M49.0 486.8h0.9M50.6 483.1h0.9M53.5 482.9h0.9M55.9 484.6h0.9M54.2 482.7h0.9M53.9 475.9h0.9M54.3 486.2h0.9M52.5 474.3h0.9M54.6 484.4h0.9M52.6 475.8h0.9M51.3 485.5h0.9M55.3 478.3h0.9M50.9 476.6h0.9M56.0 484.9h0.9M53.9 477.0h0.9M53.8 484.7h0.9M51.4 485.1h0.9M52.1 490.0h0.9M51.0 476.6h0.9M52.6 479.2h0.9M53.4 484.6h0.9M49.7 488.7h0.9M55.3 484.2h0.9M50.0 478.5h0.9M53.9 481.8h0.9M51.8 490.1h0.9M54.6 484.9h0.9M55.9 479.9h0.9M58.3 479.1h0.9M56.2 487.1h0.9M51.5 484.9h0.9M50.3 491.2h0.9M54.2 487.5h0.9M54.7 477.6h0.9M53.6 474.8h0.9M55.2 484.0h0.9M53.3 476.7h0.9M55.2 486.3h0.9M53.4 487.2h0.9M51.5 487.7h0.9M54.5 483.7h0.9M50.2 480.7h0.9M52.4 495.7h0.9M52.9 477.1h0.9M56.4 478.6h0.9M51.1 487.9h0.9M53.1 484.0h0.9M52.4 479.7h0.9M54.2 480.8h0.9M50.5 485.2h0.9M56.2 486.3h0.9M51.3 485.5h0.9M51.9 487.1h0.9M50.7 481.6h0.9M51.6 480.4h0.9M52.3 480.4h0.9M53.5 488.8h0.9M50.4 474.0h0.9M52.4 477.7h0.9M52.5 484.1h0.9M50.9 485.3h0.9M54.8 485.2h0.9M50.0 492.9h0.9M55.0 487.8h0.9M49.4 481.0h0.9M53.9 479.5h0.9M54.9 480.1h0.9M53.1 484.9h0.9M51.6 483.3h0.9M49.3 480.2h0.9M53.8 478.5h0.9M55.0 481.9h0.9M53.9 486.9h0.9M54.6 477.4h0.9M55.3 492.5h0.9M53.6 490.4h0.9M55.6 485.1h0.9M54.1 488.0h0.9M51.9 481.0h0.9M53.7 475.6h0.9M53.0 479.7h0.9M54.5 489.7h0.9M51.5 473.7h0.9M53.6 473.6h0.9M53.8 477.9h0.9M55.6 489.8h0.9M56.5 480.7h0.9M55.0 481.2h0.9M56.0 481.2h0.9M53.7 478.3h0.9M56.2 492.2h0.9M56.6 482.9h0.9M52.2 481.4h0.9M50.3 487.1h0.9M52.5 474.9h0.9M52.2 480.6h0.9M50.5 484.8h0.9M58.4 486.4h0.9M52.3 483.2h0.9M55.5 478.5h0.9M54.9 475.2h0.9M51.7 479.6h0.9M50.8 482.2h0.9M48.9 486.1h0.9M54.1 480.4h0.9M50.2 492.7h0.9M54.4 474.3h0.9M50.8 489.0h0.9M55.2 482.9h0.9M53.1 486.1h0.9M49.9 477.6h0.9M50.0 486.9h0.9M51.7 492.0h0.9M52.3 484.1h0.9M54.7 485.8h0.9M50.8 481.6h0.9M53.1 496.1h0.9M55.4 485.6h0.9M52.1 491.1h0.9M51.9 480.0h0.9M56.4 494.8h0.9M54.1 486.8h0.9M54.0 473.0h0.9M51.1 482.5h0.9M52.4 473.6h0.9M49.2 481.3h0.9M56.9 485.6h0.9M53.8 487.6h0.9M52.5 475.6h0.9M53.0 476.3h0.9M54.4 483.0h0.9M52.1 490.4h0.9M52.0 481.1h0.9M54.1 486.3h0.9M51.9 481.1h0.9M51.4 477.5h0.9M52.9 484.8h0.9M50.0 483.6h0.9M51.2 484.7h0.9M53.6 480.4h0.9M51.4 478.9h0.9M51.4 485.5h0.9M55.9 496.3h0.9M52.9 485.0h0.9M50.1 491.7h0.9M52.9 485.4h0.9M51.6 483.5h0.9M51.6 486.6h0.9M56.3 488.1h0.9M52.9 480.3h0.9M57.2 478.1h0.9M54.5 482.6h0.9M54.0 484.3h0.9M54.6 485.4h0.9M56.8 477.3h0.9M52.5 492.9h0.9M55.6 488.5h0.9M50.6 489.2h0.9M51.3 479.3h0.9M52.7 481.2h0.9M55.2 486.6h0.9M48.0 479.6h0.9M50.5 485.4h0.9M53.1 487.3h0.9M53.3 473.4h0.9M54.4 479.6h0.9M53.7 480.0h0.9M52.4 482.1h0.9M51.4 475.6h0.9M52.4 477.1h0.9M50.4 489.4h0.9M52.2 474.3h0.9M53.7 478.6h0.9M51.1 491.6h0.9M49.2 487.5h0.9M53.2 479.2h0.9M53.0 486.8h0.9M54.0 489.1h0.9M53.8 474.0h0.9M55.1 480.8h0.9M54.1 485.0h0.9M49.2 491.3h0.9M53.4 479.8h0.9M53.1 489.6h0.9M55.2 489.4h0.9M48.7 484.3h0.9M52.0 493.4h0.9M59.3 486.4h0.9M53.5 491.5h0.9M54.8 482.9h0.9M56.6 486.9h0.9M54.6 482.3h0.9M55.4 477.3h0.9M54.2 476.3h0.9M53.8 482.1h0.9M50.8 479.6h0.9M55.1 486.4h0.9M49.8 482.5h0.9M54.1 487.2h0.9M51.8 485.6h0.9M53.6 488.2h0.9M53.7 488.2h0.9M50.9 476.8h0.9M47.9 484.6h0.9M52.2 487.4h0.9M57.8 486.1h0.9M50.6 490.2h0.9M47.1 492.9h0.9M52.6 484.0h0.9M53.1 476.0h0.9M54.5 487.0h0.9M52.0 488.8h0.9M52.1 486.0h0.9M54.1 492.0h0.9M50.7 483.9h0.9M50.0 481.7h0.9M51.6 490.1h0.9M51.8 489.5h0.9M52.3 488.3h0.9M54.7 480.6h0.9M55.4 481.9h0.9M51.3 477.7h0.9M51.8 484.3h0.9M52.5 494.2h0.9M54.8 486.0h0.9M51.1 478.1h0.9M49.8 479.8h0.9M54.1 487.0h0.9M58.9 480.9h0.9M52.5 499.3h0.9M53.1 484.6h0.9M52.7 488.9h0.9M54.5 477.2h0.9M53.5 480.0h0.9M53.0 484.3h0.9M52.1 474.5h0.9M52.9 479.3h0.9M51.2 495.9h0.9M53.0 483.5h0.9M56.4 486.3h0.9M49.3 474.6h0.9M57.1 474.2h0.9M55.7 480.1h0.9M54.3 484.4h0.9M54.8 487.0h0.9M51.6 486.2h0.9M51.2 473.9h0.9M53.5 483.4h0.9M53.2 484.8h0.9M53.6 487.0h0.9M53.7 478.4h0.9M53.5 488.1h0.9M53.4 482.9h0.9M51.7 484.9h0.9M55.3 483.6h0.9M54.7 480.0h0.9M51.5 478.9h0.9M52.5 480.5h0.9M53.6 491.3h0.9M51.9 482.6h0.9M53.5 490.0h0.9M52.8 492.4h0.9M52.9 482.9h0.9M51.6 473.7h0.9M54.4 484.5h0.9M51.5 486.0h0.9M54.3 478.0h0.9M54.1 484.1h0.9M52.8 479.4h0.9M55.1 487.6h0.9M56.1 475.8h0.9M59.7 494.0h0.9M52.0 478.4h0.9M50.8 478.5h0.9M53.2 486.1h0.9M52.0 477.6h0.9M54.8 487.8h0.9M52.6 491.9h0.9M56.5 486.5h0.9M52.5 486.7h0.9M53.7 482.3h0.9M51.8 482.4h0.9M54.9 490.4h0.9M51.6 477.7h0.9M54.7 491.6h0.9M51.6 474.9h0.9M51.0 484.2h0.9M50.2 475.3h0.9M55.9 491.6h0.9M53.3 486.4h0.9M52.7 485.5h0.9M50.9 474.7h0.9M53.2 477.5h0.9M52.2 473.6h0.9M53.2 482.0h0.9M48.7 494.2h0.9M51.3 483.5h0.9M51.1 490.3h0.9M55.2 482.0h0.9M53.2 477.7h0.9M58.5 489.0h0.9M52.4 489.3h0.9M51.2 489.5h0.9M53.4 482.1h0.9M53.1 478.3h0.9M50.2 477.2h0.9M55.2 478.3h0.9M53.7 479.4h0.9M51.2 481.5h0.9M52.8 487.3h0.9M54.9 474.7h0.9M51.7 484.5h0.9M51.0 484.8h0.9M56.3 489.4h0.9M53.5 481.2h0.9M51.2 481.5h0.9M53.9 477.2h0.9M57.3 485.7h0.9M52.7 489.2h0.9M56.3 482.1h0.9M53.3 478.7h0.9M53.9 476.9h0.9M55.5 477.7h0.9M54.9 494.4h0.9M52.3 479.2h0.9M52.9 494.6h0.9M49.7 479.4h0.9M52.1 478.8h0.9M52.4 492.8h0.9M53.8 495.1h0.9M55.2 485.6h0.9M53.5 489.4h0.9M54.5 479.9h0.9M51.7 481.6h0.9M49.2 483.5h0.9M54.7 485.2h0.9M51.0 494.7h0.9M53.6 479.4h0.9M53.5 481.5h0.9M53.2 478.2h0.9M53.4 482.0h0.9M57.8 488.7h0.9M45.8 489.3h0.9M44.2 483.7h0.9M53.5 486.7h0.9M42.6 483.0h0.9M38.4 488.3h0.9M43.9 479.4h0.9M48.0 482.2h0.9M36.2 484.8h0.9M49.3 488.8h0.9M42.2 486.5h0.9M46.6 490.7h0.9M46.2 485.4h0.9M41.4 492.6h0.9M30.1 489.3h0.9M45.7 484.2h0.9M47.2 490.5h0.9M42.7 481.8h0.9M32.7 485.3h0.9M37.6 484.9h0.9M43.4 490.8h0.9M35.4 483.0h0.9M40.9 482.4h0.9M43.7 483.0h0.9M39.7 485.6h0.9M39.5 483.6h0.9M38.2 483.1h0.9M51.8 488.3h0.9M40.9 484.5h0.9M52.0 481.1h0.9M43.3 491.1h0.9M47.3 487.0h0.9M43.1 484.6h0.9M33.4 484.0h0.9M47.2 483.5h0.9M45.4 484.4h0.9M34.1 488.7h0.9M47.0 486.3h0.9M42.1 484.8h0.9M42.5 485.1h0.9M44.9 485.6h0.9M35.7 487.7h0.9M48.0 487.2h0.9M44.7 484.7h0.9M38.1 495.2h0.9M42.3 488.3h0.9M38.0 483.7h0.9M37.4 485.6h0.9M42.7 485.3h0.9M54.6 490.2h0.9M47.8 485.6h0.9M40.7 488.2h0.9M42.3 485.8h0.9M36.0 481.8h0.9M37.8 487.0h0.9M34.6 486.6h0.9M43.7 482.4h0.9M48.1 486.7h0.9M51.5 485.0h0.9M50.5 479.6h0.9M40.2 489.5h0.9M44.7 481.2h0.9M44.0 482.4h0.9M45.2 482.8h0.9M50.0 485.8h0.9M33.8 487.5h0.9M37.9 490.2h0.9M40.8 484.0h0.9M31.9 492.0h0.9M47.1 488.0h0.9M39.2 482.3h0.9M48.5 484.0h0.9M46.4 493.7h0.9M45.2 484.4h0.9M33.8 486.6h0.9M44.8 486.0h0.9M46.4 482.7h0.9M42.5 486.7h0.9M34.7 483.6h0.9M38.6 485.5h0.9M50.7 482.4h0.9M34.7 487.3h0.9M38.6 491.5h0.9M37.1 484.9h0.9M44.1 486.3h0.9M43.6 489.3h0.9M37.7 487.1h0.9M46.9 486.3h0.9M41.0 485.1h0.9M51.2 488.5h0.9M45.1 485.0h0.9M41.6 485.3h0.9M30.4 487.5h0.9M41.2 489.9h0.9M47.1 485.6h0.9M39.7 484.0h0.9M37.0 488.9h0.9M46.5 482.7h0.9M54.1 485.7h0.9M34.2 491.6h0.9M35.0 486.7h0.9M41.0 488.2h0.9M36.5 488.9h0.9M39.4 482.7h0.9M45.2 481.4h0.9M46.5 483.0h0.9M48.8 483.7h0.9M50.6 481.3h0.9M52.6 483.8h0.9M36.5 479.1h0.9M40.2 484.7h0.9M40.1 488.4h0.9M45.1 489.0h0.9M40.5 481.9h0.9M42.4 483.4h0.9M45.6 484.3h0.9M42.4 484.1h0.9M36.1 485.0h0.9M36.1 489.1h0.9M39.2 490.5h0.9M30.4 486.5h0.9M44.7 483.6h0.9M54.9 483.6h0.9M46.7 487.6h0.9M46.7 488.8h0.9M54.0 487.2h0.9M39.3 484.1h0.9M28.6 483.8h0.9M36.4 486.2h0.9M47.7 484.7h0.9M47.7 486.7h0.9M46.4 492.0h0.9M51.2 486.7h0.9M37.0 486.7h0.9M52.3 486.7h0.9M42.1 487.1h0.9M37.1 490.7h0.9M45.2 483.4h0.9M37.5 485.9h0.9M44.5 484.5h0.9M41.0 486.0h0.9M44.1 488.9h0.9M40.9 483.7h0.9M38.2 482.5h0.9M41.1 489.5h0.9M40.9 490.3h0.9M46.3 490.2h0.9M42.2 486.7h0.9M40.1 485.0h0.9M43.9 487.4h0.9M47.0 486.7h0.9M46.7 481.3h0.9M43.8 482.9h0.9M34.0 485.4h0.9M33.4 487.7h0.9M47.2 493.4h0.9M37.8 488.9h0.9M36.5 486.7h0.9M46.2 488.9h0.9M39.2 492.0h0.9M38.8 492.8h0.9M33.0 485.8h0.9M47.5 487.7h0.9M44.4 488.0h0.9M47.5 479.9h0.9M38.5 487.9h0.9M50.5 480.0h0.9M41.7 484.1h0.9M32.8 488.2h0.9M40.4 486.7h0.9M44.4 490.4h0.9M35.0 480.5h0.9M31.8 487.2h0.9M46.1 483.9h0.9M43.0 490.8h0.9M39.9 491.0h0.9M53.4 483.3h0.9M46.2 484.8h0.9M39.2 482.8h0.9M46.9 483.4h0.9M45.1 483.3h0.9M40.2 484.9h0.9M42.6 486.7h0.9M44.9 479.1h0.9M29.5 483.4h0.9M39.0 482.8h0.9M36.1 487.4h0.9M48.0 485.4h0.9M44.6 489.3h0.9M34.6 482.0h0.9M43.0 486.1h0.9M34.3 490.2h0.9M36.0 487.0h0.9M41.6 487.9h0.9M38.0 486.2h0.9M49.5 489.2h0.9M33.2 483.8h0.9M33.8 488.4h0.9M41.9 480.5h0.9M31.3 496.3h0.9M41.1 482.9h0.9M43.2 488.3h0.9M44.0 492.0h0.9M46.2 480.9h0.9M40.5 483.7h0.9M35.2 482.5h0.9M38.6 488.9h0.9M38.3 491.9h0.9M45.1 479.5h0.9M33.7 487.8h0.9M44.9 487.3h0.9M32.7 486.3h0.9M47.8 484.9h0.9M35.9 487.8h0.9M30.7 487.8h0.9M48.7 481.7h0.9M41.3 484.8h0.9M38.9 486.0h0.9M38.4 486.0h0.9M38.9 485.8h0.9M46.1 485.5h0.9M34.2 485.6h0.9M40.8 487.7h0.9M45.7 488.0h0.9M47.2 483.6h0.9M38.2 488.7h0.9M41.7 488.8h0.9M48.5 492.0h0.9M43.0 486.9h0.9M35.3 485.0h0.9M39.0 485.0h0.9M39.6 487.2h0.9M44.7 482.7h0.9M47.9 485.2h0.9M50.8 485.8h0.9M34.8 492.7h0.9M33.9 489.8h0.9M31.4 486.5h0.9M42.2 486.1h0.9M43.4 486.1h0.9M40.7 487.2h0.9M42.7 489.3h0.9M48.8 480.3h0.9M41.2 479.2h0.9M36.0 484.1h0.9M32.3 485.5h0.9M37.2 483.6h0.9M42.3 483.1h0.9M45.3 483.9h0.9M39.7 481.5h0.9M43.9 484.3h0.9M50.5 485.6h0.9M51.7 481.3h0.9M43.1 490.3h0.9M49.3 485.9h0.9M42.5 485.5h0.9M47.3 483.3h0.9M31.6 489.5h0.9M44.0 485.2h0.9M46.4 483.6h0.9M51.8 486.8h0.9M49.5 483.8h0.9M43.5 483.7h0.9M39.8 484.1h0.9M40.5 484.0h0.9M37.1 483.1h0.9M33.4 489.2h0.9M41.6 485.3h0.9M37.5 487.8h0.9M43.1 482.6h0.9M49.8 486.4h0.9M41.8 487.0h0.9M33.3 488.6h0.9M49.2 489.1h0.9M58.3 480.7h0.9M52.1 484.0h0.9M51.6 486.4h0.9M49.1 482.7h0.9M46.3 483.1h0.9M45.2 483.6h0.9M48.8 483.7h0.9M45.5 484.2h0.9M43.2 488.5h0.9M32.0 490.5h0.9M35.4 491.4h0.9M46.2 486.4h0.9M48.1 475.6h0.9M46.7 486.7h0.9M44.3 486.3h0.9M42.8 479.5h0.9M50.8 480.8h0.9M43.0 480.4h0.9M46.5 482.6h0.9M35.5 488.8h0.9M43.1 486.5h0.9M39.8 492.4h0.9M37.7 486.9h0.9M44.3 489.0h0.9M40.5 480.7h0.9M43.8 491.7h0.9M41.0 486.1h0.9M49.4 484.4h0.9M49.9 483.9h0.9M48.3 481.0h0.9M50.9 484.1h0.9M44.1 473.7h0.9M34.8 486.4h0.9M45.1 487.7h0.9M47.0 485.8h0.9M46.6 484.8h0.9M36.2 483.6h0.9M53.4 481.6h0.9M44.4 490.9h0.9M44.0 485.8h0.9M38.2 492.4h0.9M44.3 482.7h0.9M45.2 478.5h0.9M30.8 486.5h0.9M41.3 481.7h0.9M42.3 488.9h0.9M41.5 484.7h0.9M38.1 488.9h0.9M43.2 483.1h0.9M40.5 484.7h0.9M39.3 487.4h0.9M42.8 482.9h0.9M51.4 485.1h0.9M43.8 479.7h0.9M47.1 486.4h0.9M55.0 494.8h0.9M48.2 500.8h0.9M52.7 497.9h0.9M52.4 490.9h0.9M48.9 492.5h0.9M53.0 496.1h0.9M59.7 491.4h0.9M46.4 491.6h0.9M49.0 493.8h0.9M48.6 491.5h0.9M44.4 491.6h0.9M44.3 488.2h0.9M56.5 496.9h0.9M48.1 498.9h0.9M55.8 495.1h0.9M43.4 491.9h0.9M52.2 493.5h0.9M48.4 493.0h0.9M49.4 494.9h0.9M47.1 494.4h0.9M46.3 485.1h0.9M38.3 491.7h0.9M54.0 496.3h0.9M45.9 497.0h0.9M51.8 493.6h0.9M48.4 495.8h0.9M46.9 490.7h0.9M58.8 496.4h0.9M47.0 494.1h0.9M46.7 490.1h0.9M40.6 494.0h0.9M47.7 496.9h0.9M50.0 495.3h0.9M44.7 493.5h0.9M49.0 489.9h0.9M49.2 498.0h0.9M47.4 492.3h0.9M49.1 495.1h0.9M53.2 485.1h0.9M57.6 499.1h0.9M41.7 491.7h0.9M54.9 493.0h0.9M49.7 490.2h0.9M44.7 493.6h0.9M49.1 495.4h0.9M48.3 492.4h0.9M47.2 493.6h0.9M48.3 492.5h0.9M52.0 493.2h0.9M46.9 497.1h0.9M49.9 488.6h0.9M52.1 493.9h0.9M51.7 499.0h0.9M48.8 496.4h0.9M46.8 497.7h0.9M43.9 496.2h0.9M55.5 496.8h0.9M47.2 494.0h0.9M46.8 490.2h0.9M49.0 494.3h0.9M46.6 492.5h0.9M48.4 495.3h0.9M50.5 493.2h0.9M42.1 493.2h0.9M53.2 493.4h0.9M55.2 488.8h0.9M48.9 496.3h0.9M44.4 488.2h0.9M49.3 487.7h0.9M46.7 491.3h0.9M50.3 496.7h0.9M49.2 490.9h0.9M53.2 494.4h0.9M54.8 495.3h0.9M50.5 490.2h0.9M49.7 495.8h0.9M42.1 478.1h0.9M42.7 492.1h0.9M39.9 499.0h0.9M48.1 492.3h0.9M52.2 498.5h0.9M51.1 493.2h0.9M45.9 489.2h0.9M46.8 492.1h0.9M48.4 491.9h0.9M47.2 493.9h0.9M49.5 491.5h0.9M53.6 497.4h0.9M41.4 492.7h0.9M49.6 489.3h0.9M50.1 492.4h0.9M46.6 488.9h0.9M47.4 493.0h0.9M56.5 493.5h0.9M49.5 496.9h0.9M48.7 497.3h0.9M49.0 496.2h0.9M54.2 494.0h0.9M44.1 489.7h0.9M53.9 495.0h0.9M43.7 492.2h0.9M50.9 495.0h0.9M53.0 492.2h0.9M44.8 494.9h0.9M51.4 494.3h0.9M45.7 489.2h0.9M50.4 489.5h0.9M47.9 490.5h0.9M40.3 493.7h0.9M50.0 496.1h0.9M51.2 497.4h0.9M50.8 489.7h0.9M54.8 498.5h0.9M49.5 492.5h0.9M47.6 496.1h0.9M43.5 496.9h0.9M45.1 495.4h0.9M57.0 497.2h0.9M49.5 497.6h0.9M48.1 489.3h0.9M43.9 487.5h0.9M50.4 494.8h0.9M49.7 500.6h0.9M53.1 493.1h0.9M44.0 493.4h0.9M39.7 497.1h0.9M57.8 493.0h0.9M49.8 491.6h0.9M51.8 491.0h0.9M43.6 490.2h0.9M46.4 493.8h0.9M50.5 491.3h0.9M48.5 489.3h0.9M56.7 494.1h0.9M46.2 495.3h0.9M45.6 486.4h0.9M51.8 494.5h0.9M54.4 500.3h0.9M46.0 493.1h0.9M54.4 496.3h0.9M48.6 493.1h0.9M42.3 492.0h0.9M45.7 489.3h0.9M52.8 494.7h0.9M46.7 487.4h0.9M53.0 497.5h0.9M52.5 491.8h0.9M47.4 496.5h0.9M52.7 492.9h0.9M45.4 490.7h0.9M56.0 494.1h0.9M43.6 487.0h0.9M50.9 490.4h0.9M55.5 495.2h0.9M49.9 495.7h0.9M52.5 486.9h0.9M41.1 492.1h0.9M57.2 492.9h0.9M54.9 497.1h0.9M59.2 494.8h0.9M56.0 489.8h0.9M39.4 491.4h0.9M48.6 490.6h0.9M54.1 492.5h0.9M51.5 491.0h0.9M49.0 490.9h0.9M56.1 491.6h0.9M44.2 495.6h0.9M50.9 484.9h0.9M46.2 492.0h0.9M51.8 497.1h0.9M47.7 496.9h0.9M68.4 483.3h0.9M57.9 489.9h0.9M73.8 506.9h0.9M59.8 513.8h0.9M54.6 494.1h0.9M44.7 500.5h0.9M68.4 485.6h0.9M40.6 494.6h0.9M56.9 517.7h0.9M53.4 492.8h0.9M62.0 491.9h0.9M59.6 492.2h0.9M53.8 506.3h0.9M60.8 513.0h0.9M72.8 500.1h0.9M53.7 505.3h0.9M53.9 496.8h0.9M59.0 490.5h0.9M52.3 498.5h0.9M49.2 501.9h0.9M73.9 498.9h0.9M69.8 498.4h0.9M52.8 505.5h0.9M52.5 495.0h0.9M76.5 490.6h0.9M53.8 496.9h0.9M54.4 477.6h0.9M56.0 487.8h0.9M50.6 491.3h0.9M51.6 501.9h0.9M63.6 496.7h0.9M61.7 498.5h0.9M54.8 498.9h0.9M61.6 506.0h0.9M67.0 496.4h0.9M55.7 486.7h0.9M57.2 514.3h0.9M73.0 501.2h0.9M74.8 494.2h0.9M54.5 488.3h0.9M66.1 489.9h0.9M62.5 484.5h0.9M70.1 500.8h0.9M49.2 498.3h0.9M62.7 506.4h0.9M60.5 485.0h0.9M58.1 488.2h0.9" stroke="#000" stroke-width="0.9" fill="none" filter="url(#b2)"/>
<ellipse cx="43.2" cy="505.6" rx="1.5" ry="0.8" transform="rotate(-35 43.2 505.6)" fill="#fff"/>
</g>
<rect x="28" y="472.2" width="57.7" height="46.80000000000001" fill="none" stroke="#111" stroke-width="1"/>
<line x1="52.4" y1="472.2" x2="52.4" y2="519" stroke="#000" stroke-width="1.1" />
<line x1="28" y1="496.7" x2="85.7" y2="496.7" stroke="#000" stroke-width="1.1" />
<text x="55.1" y="470.8" font-size="8.4" text-anchor="middle" font-weight="normal" fill="#111" >Ig-isotype</text>
<text x="43.925" y="525.2" font-size="4.6" text-anchor="middle" fill="#333">10<tspan dy="-1.6" font-size="3.4">1</tspan></text>
<text x="58.35" y="525.2" font-size="4.6" text-anchor="middle" fill="#333">10<tspan dy="-1.6" font-size="3.4">2</tspan></text>
<text x="72.775" y="525.2" font-size="4.6" text-anchor="middle" fill="#333">10<tspan dy="-1.6" font-size="3.4">3</tspan></text>
<text x="87.2" y="525.2" font-size="4.6" text-anchor="middle" fill="#333">10<tspan dy="-1.6" font-size="3.4">4</tspan></text>
<text transform="translate(26.6,507.23636363636365) rotate(-90)" font-size="4.6" text-anchor="middle" fill="#333">10<tspan dy="-1.6" font-size="3.4">1</tspan></text>
<text transform="translate(26.6,493.05454545454546) rotate(-90)" font-size="4.6" text-anchor="middle" fill="#333">10<tspan dy="-1.6" font-size="3.4">2</tspan></text>
<text transform="translate(26.6,478.8727272727273) rotate(-90)" font-size="4.6" text-anchor="middle" fill="#333">10<tspan dy="-1.6" font-size="3.4">3</tspan></text>
<clipPath id="c97_472"><rect x="97.2" y="472.2" width="58.39999999999999" height="46.80000000000001"/></clipPath>
<g clip-path="url(#c97_472)">
<ellipse cx="118.5" cy="508" rx="10" ry="4.8" transform="rotate(-25 118.5 508)" fill="#000" opacity="0.95" filter="url(#bl)"/>
<ellipse cx="134.5" cy="481" rx="4.8" ry="3.6" transform="rotate(-20 134.5 481)" fill="#000" opacity="0.8" filter="url(#bl)"/>
<ellipse cx="135.5" cy="505" rx="6.5" ry="1.4" transform="rotate(-33 135.5 505)" fill="#000" opacity="0.65" filter="url(#bl)"/>
<path d="M114.1 514.1h0.9M125.0 505.7h0.9M118.3 503.7h0.9M131.2 507.3h0.9M122.0 505.4h0.9M116.6 501.2h0.9M118.0 510.7h0.9M125.2 513.4h0.9M122.4 509.9h0.9M121.9 509.5h0.9M122.3 507.2h0.9M113.1 508.2h0.9M126.1 511.2h0.9M110.6 512.7h0.9M114.0 504.5h0.9M128.1 501.5h0.9M126.2 505.7h0.9M109.2 511.0h0.9M104.5 507.6h0.9M118.4 503.1h0.9M117.0 515.5h0.9M116.5 506.8h0.9M118.0 510.4h0.9M119.4 508.4h0.9M129.8 508.3h0.9M104.4 515.0h0.9M122.8 512.5h0.9M117.6 506.5h0.9M120.3 505.9h0.9M116.0 515.3h0.9M125.3 506.3h0.9M107.1 506.7h0.9M127.9 515.5h0.9M135.1 499.6h0.9M106.5 509.5h0.9M118.7 502.6h0.9M121.4 513.7h0.9M118.2 509.9h0.9M120.8 507.7h0.9M124.2 510.5h0.9M115.9 511.4h0.9M124.0 512.6h0.9M114.7 499.6h0.9M105.2 509.8h0.9M117.6 504.2h0.9M118.5 506.9h0.9M120.2 505.2h0.9M110.9 512.1h0.9M128.1 497.4h0.9M114.6 513.8h0.9M115.7 504.8h0.9M125.5 507.2h0.9M103.2 515.3h0.9M105.8 508.8h0.9M127.1 501.1h0.9M121.5 504.2h0.9M128.8 498.6h0.9M129.8 507.6h0.9M115.2 509.5h0.9M104.5 515.7h0.9M118.5 508.2h0.9M135.3 501.0h0.9M117.5 509.0h0.9M118.6 514.0h0.9M125.8 504.5h0.9M120.8 506.7h0.9M116.1 515.9h0.9M115.8 507.0h0.9M116.6 505.8h0.9M113.9 511.4h0.9M119.7 507.9h0.9M117.3 502.4h0.9M115.6 508.8h0.9M113.4 508.0h0.9M121.2 509.9h0.9M113.9 515.2h0.9M116.4 508.3h0.9M115.5 509.9h0.9M115.6 499.3h0.9M122.4 496.3h0.9M119.1 506.8h0.9M130.6 500.7h0.9M123.6 507.7h0.9M113.7 506.9h0.9M115.7 512.1h0.9M108.3 511.5h0.9M117.0 506.3h0.9M114.9 514.9h0.9M125.7 504.5h0.9M125.6 509.6h0.9M118.9 503.6h0.9M124.3 497.7h0.9M108.4 517.3h0.9M116.4 512.3h0.9M118.5 511.4h0.9M109.0 512.6h0.9M120.6 510.3h0.9M120.8 512.4h0.9M116.9 510.2h0.9M115.7 509.6h0.9M112.4 516.5h0.9M111.9 507.9h0.9M113.8 514.1h0.9M131.9 502.8h0.9M117.5 512.2h0.9M127.3 501.7h0.9M117.6 501.6h0.9M113.5 517.5h0.9M125.0 503.1h0.9M113.9 506.8h0.9M114.7 501.4h0.9M109.7 510.6h0.9M123.5 501.9h0.9M116.8 510.5h0.9M114.5 506.9h0.9M116.1 509.7h0.9M125.4 505.3h0.9M120.3 507.7h0.9M122.2 515.7h0.9M111.8 509.6h0.9M115.3 512.1h0.9M115.1 499.8h0.9M115.1 513.7h0.9M106.0 511.8h0.9M119.5 511.1h0.9M114.2 505.8h0.9M124.6 503.6h0.9M124.4 500.9h0.9M114.2 506.6h0.9M118.3 504.8h0.9M116.8 499.7h0.9M109.7 510.6h0.9M107.6 503.2h0.9M115.7 510.9h0.9M118.4 508.2h0.9M129.7 503.0h0.9M118.4 503.5h0.9M129.9 506.8h0.9M122.7 511.7h0.9M119.4 501.5h0.9M115.5 510.6h0.9M125.6 502.8h0.9M124.5 507.2h0.9M117.0 510.3h0.9M131.2 508.5h0.9M112.6 504.1h0.9M119.8 512.1h0.9M120.4 508.0h0.9M116.9 506.6h0.9M126.1 510.9h0.9M117.3 502.1h0.9M109.9 512.4h0.9M109.8 509.2h0.9M113.5 511.8h0.9M115.0 507.7h0.9M112.2 516.9h0.9M117.5 502.6h0.9M114.5 508.1h0.9M120.0 506.8h0.9M119.3 510.0h0.9M114.9 504.5h0.9M119.3 502.1h0.9M113.5 509.8h0.9M116.5 514.6h0.9M124.8 506.3h0.9M122.4 512.3h0.9M117.0 509.2h0.9M114.3 505.6h0.9M121.3 506.1h0.9M120.7 508.9h0.9M114.3 511.2h0.9M112.1 511.7h0.9M115.9 504.4h0.9M111.6 500.7h0.9M114.9 509.1h0.9M119.3 510.3h0.9M121.0 514.5h0.9M126.7 506.7h0.9M121.3 514.5h0.9M124.3 510.8h0.9M129.1 507.6h0.9M112.6 507.9h0.9M130.1 511.1h0.9M104.8 507.4h0.9M123.9 512.1h0.9M114.5 506.9h0.9M113.4 503.9h0.9M113.5 509.6h0.9M123.6 499.2h0.9M119.1 505.2h0.9M116.4 509.3h0.9M114.1 508.4h0.9M125.6 509.0h0.9M110.8 511.4h0.9M131.1 501.1h0.9M119.4 507.8h0.9M108.7 515.6h0.9M131.8 510.9h0.9M132.2 506.8h0.9M127.4 492.5h0.9M128.5 504.0h0.9M123.2 508.2h0.9M115.2 508.7h0.9M118.2 512.8h0.9M115.6 506.6h0.9M112.8 509.1h0.9M109.5 511.8h0.9M109.7 508.8h0.9M110.6 509.0h0.9M105.2 513.5h0.9M127.0 507.6h0.9M120.2 510.9h0.9M120.3 503.9h0.9M123.7 499.8h0.9M128.1 506.7h0.9M118.3 505.8h0.9M121.9 512.1h0.9M127.4 492.8h0.9M123.2 517.1h0.9M130.6 503.1h0.9M134.9 504.9h0.9M120.6 503.6h0.9M109.6 513.6h0.9M120.5 504.2h0.9M125.3 516.2h0.9M102.3 514.0h0.9M131.4 508.7h0.9M119.5 503.5h0.9M114.7 516.7h0.9M120.9 508.8h0.9M118.2 509.1h0.9M117.2 507.3h0.9M115.0 509.8h0.9M116.2 512.9h0.9M122.1 510.0h0.9M122.0 506.5h0.9M124.5 502.7h0.9M105.4 514.2h0.9M122.6 505.6h0.9M116.9 504.0h0.9M125.1 510.8h0.9M117.4 504.2h0.9M121.6 512.2h0.9M122.5 503.5h0.9M125.6 503.9h0.9M117.7 504.6h0.9M108.4 505.2h0.9M120.7 506.0h0.9M122.1 502.9h0.9M102.5 511.4h0.9M119.0 511.2h0.9M122.7 501.9h0.9M121.9 509.1h0.9M120.7 511.1h0.9M136.0 502.8h0.9M121.4 499.5h0.9M113.7 512.6h0.9M104.2 515.7h0.9M109.5 511.5h0.9M117.0 508.7h0.9M119.5 509.6h0.9M119.3 507.9h0.9M114.3 511.4h0.9M116.9 514.4h0.9M121.4 514.8h0.9M121.9 506.6h0.9M117.6 503.4h0.9M125.4 506.7h0.9M118.7 502.7h0.9M116.8 507.2h0.9M122.9 510.5h0.9M120.9 508.6h0.9M116.0 507.3h0.9M124.2 509.3h0.9M117.1 509.5h0.9M111.6 509.6h0.9M118.3 511.2h0.9M124.7 505.5h0.9M111.0 511.9h0.9M116.7 507.6h0.9M132.2 499.2h0.9M128.1 504.3h0.9M120.7 504.8h0.9M117.3 507.5h0.9M114.3 506.9h0.9M109.7 504.7h0.9M117.0 507.1h0.9M122.1 513.4h0.9M122.7 509.9h0.9M120.4 509.0h0.9M119.2 514.3h0.9M110.8 514.0h0.9M111.1 510.4h0.9M109.0 511.5h0.9M123.3 509.1h0.9M112.8 512.2h0.9M121.2 500.7h0.9M132.3 501.2h0.9M122.1 505.5h0.9M120.1 512.0h0.9M114.2 505.1h0.9M128.4 506.0h0.9M104.7 506.2h0.9M117.9 506.3h0.9M120.3 515.1h0.9M122.1 510.6h0.9M117.6 511.2h0.9M112.7 500.2h0.9M131.5 510.5h0.9M109.2 514.6h0.9M112.8 507.3h0.9M129.8 505.9h0.9M122.5 507.1h0.9M103.6 509.8h0.9M131.2 505.7h0.9M123.4 508.0h0.9M118.6 510.0h0.9M117.4 508.3h0.9M114.0 508.9h0.9M108.6 509.1h0.9M115.3 517.6h0.9M124.4 506.8h0.9M113.4 506.4h0.9M114.9 501.2h0.9M123.6 511.9h0.9M116.3 512.0h0.9M113.7 502.9h0.9M133.2 493.6h0.9M120.4 504.7h0.9M123.2 515.5h0.9M124.1 496.7h0.9M115.1 509.8h0.9M114.1 511.0h0.9M114.7 514.8h0.9M129.5 511.4h0.9M127.0 509.0h0.9M120.1 516.1h0.9M124.3 509.7h0.9M136.2 503.8h0.9M118.9 504.9h0.9M113.5 514.0h0.9M110.5 509.3h0.9M118.6 503.5h0.9M110.6 515.8h0.9M118.4 510.0h0.9M118.6 503.1h0.9M120.6 510.5h0.9M119.4 510.8h0.9M111.0 503.4h0.9M119.8 499.4h0.9M117.1 508.9h0.9M109.8 511.0h0.9M122.0 503.4h0.9M110.7 511.2h0.9M125.2 506.9h0.9M123.9 507.7h0.9M119.4 510.2h0.9M110.2 515.6h0.9M120.0 508.6h0.9M119.3 510.2h0.9M124.5 506.0h0.9M121.8 508.6h0.9M127.1 504.5h0.9M117.6 498.8h0.9M123.8 512.4h0.9M113.5 508.9h0.9M112.3 517.4h0.9M120.3 514.1h0.9M124.8 503.2h0.9M114.4 504.7h0.9M116.0 514.4h0.9M124.3 505.2h0.9M115.2 505.0h0.9M116.5 506.1h0.9M117.9 503.2h0.9M122.8 508.1h0.9M128.8 504.8h0.9M131.9 507.3h0.9M122.5 515.9h0.9M119.6 501.6h0.9M115.1 507.5h0.9M114.6 503.5h0.9M120.0 505.7h0.9M128.1 510.2h0.9M122.7 505.5h0.9M126.8 504.0h0.9M122.5 506.4h0.9M112.9 512.8h0.9M119.5 513.4h0.9M118.9 509.9h0.9M130.7 503.4h0.9M119.1 507.3h0.9M125.7 511.7h0.9M104.4 507.6h0.9M114.5 513.8h0.9M125.6 503.4h0.9M112.0 507.8h0.9M108.4 505.6h0.9M115.9 507.8h0.9M115.2 501.2h0.9M112.4 511.3h0.9M135.8 508.9h0.9M114.8 508.5h0.9M116.3 507.1h0.9M127.9 508.6h0.9M112.0 505.3h0.9M135.6 511.7h0.9M120.3 502.8h0.9M115.5 513.2h0.9M111.5 512.2h0.9M109.8 508.9h0.9M113.1 508.2h0.9M106.8 509.6h0.9M121.3 502.6h0.9M116.4 498.9h0.9M124.7 504.9h0.9M129.5 504.4h0.9M116.7 501.7h0.9M115.5 509.4h0.9M119.8 506.6h0.9M115.3 505.1h0.9M133.2 502.9h0.9M109.7 514.1h0.9M111.6 516.8h0.9M110.0 507.3h0.9M118.3 505.0h0.9M116.1 504.7h0.9M113.7 504.5h0.9M123.9 504.5h0.9M110.8 516.4h0.9M121.9 511.0h0.9M117.7 509.1h0.9M128.6 506.3h0.9M120.1 509.3h0.9M112.9 508.7h0.9M127.2 510.2h0.9M124.5 495.4h0.9M118.6 505.7h0.9M112.4 512.6h0.9M120.7 507.4h0.9M128.9 507.0h0.9M116.0 506.9h0.9M118.4 509.1h0.9M117.1 506.9h0.9M101.7 504.5h0.9M125.1 509.5h0.9M114.5 514.8h0.9M124.4 513.3h0.9M135.4 502.5h0.9M105.9 504.9h0.9M117.6 506.2h0.9M117.7 509.5h0.9M135.2 508.8h0.9M121.4 509.9h0.9M116.4 509.3h0.9M105.5 511.3h0.9M118.9 505.4h0.9M113.4 507.1h0.9M114.2 506.6h0.9M126.2 501.7h0.9M109.0 512.1h0.9M108.5 504.1h0.9M121.9 511.9h0.9M106.4 507.9h0.9M111.3 509.6h0.9M116.6 509.5h0.9M115.6 509.3h0.9M130.5 506.2h0.9M121.1 504.7h0.9M116.0 513.9h0.9M111.8 508.6h0.9M117.9 503.8h0.9M120.7 506.5h0.9M118.3 507.1h0.9M117.7 505.4h0.9M111.1 506.8h0.9M129.2 503.4h0.9M124.2 510.5h0.9M121.6 512.8h0.9M124.9 504.8h0.9M123.7 500.7h0.9M112.4 507.3h0.9M124.9 495.4h0.9M116.9 506.3h0.9M113.3 507.6h0.9M120.0 501.0h0.9M117.5 508.2h0.9M122.1 507.1h0.9M135.7 509.6h0.9M108.2 515.0h0.9M123.0 505.8h0.9M123.8 512.1h0.9M121.5 504.2h0.9M127.8 500.1h0.9M115.7 512.5h0.9M112.0 513.1h0.9M115.8 503.8h0.9M129.2 502.7h0.9M122.7 506.7h0.9M109.2 510.0h0.9M116.5 515.9h0.9M110.6 505.2h0.9M108.7 506.6h0.9M109.7 512.4h0.9M122.5 507.8h0.9M112.2 510.9h0.9M128.3 500.5h0.9M118.9 505.3h0.9M124.1 499.6h0.9M118.2 511.9h0.9M112.0 510.7h0.9M116.6 508.8h0.9M110.4 501.0h0.9M111.6 505.0h0.9M114.2 513.4h0.9M112.7 515.4h0.9M109.2 515.9h0.9M115.8 506.2h0.9M106.2 511.8h0.9M117.8 508.3h0.9M103.6 512.8h0.9M121.0 501.8h0.9M114.6 504.4h0.9M120.5 511.0h0.9M120.3 502.9h0.9M120.1 507.4h0.9M115.8 506.3h0.9M106.2 512.4h0.9M111.0 513.7h0.9M117.8 502.9h0.9M120.0 511.3h0.9M135.8 498.5h0.9M101.0 516.5h0.9M114.7 512.3h0.9M121.9 497.2h0.9M121.4 512.4h0.9M124.1 505.0h0.9M115.5 508.5h0.9M110.6 510.8h0.9M118.9 502.7h0.9M132.7 504.1h0.9M122.3 509.6h0.9M117.4 503.5h0.9M123.3 507.0h0.9M128.8 499.3h0.9M126.5 503.9h0.9M127.6 504.4h0.9M124.2 505.1h0.9M121.1 513.5h0.9M124.0 502.9h0.9M114.3 509.6h0.9M121.4 503.8h0.9M102.5 509.0h0.9M108.6 504.4h0.9M125.8 503.9h0.9M119.4 506.3h0.9M113.3 503.8h0.9M115.0 511.9h0.9M119.6 514.3h0.9M127.3 509.0h0.9M126.9 499.9h0.9M132.8 503.8h0.9M117.3 510.5h0.9M125.3 508.7h0.9M120.2 517.2h0.9M118.5 507.1h0.9M133.1 504.8h0.9M124.0 502.9h0.9M126.2 509.2h0.9M124.6 504.4h0.9M124.5 495.8h0.9M114.6 511.6h0.9M131.5 509.2h0.9M101.4 514.7h0.9M118.2 501.5h0.9M123.5 505.8h0.9M117.8 516.3h0.9M123.0 508.5h0.9M115.5 508.0h0.9M105.1 514.6h0.9M111.1 502.7h0.9M115.9 504.3h0.9M114.6 516.7h0.9M125.0 506.4h0.9M107.8 508.3h0.9M124.8 512.5h0.9M113.7 501.5h0.9M121.6 512.5h0.9M110.6 505.6h0.9M127.4 500.8h0.9M107.1 509.7h0.9M113.9 512.3h0.9M113.4 505.6h0.9M121.0 504.3h0.9M116.4 511.2h0.9M126.8 506.8h0.9M115.7 506.8h0.9M115.7 504.9h0.9M121.2 503.9h0.9M135.0 502.7h0.9M134.8 506.0h0.9M115.4 512.9h0.9M121.2 501.2h0.9M135.0 502.6h0.9M126.0 505.3h0.9M119.4 516.1h0.9M126.0 508.6h0.9M124.1 508.3h0.9M123.4 509.9h0.9M118.2 500.1h0.9M123.4 511.8h0.9M113.0 509.9h0.9M126.1 509.9h0.9M115.2 516.7h0.9M129.9 501.4h0.9M121.5 508.5h0.9M130.5 499.8h0.9M115.8 503.8h0.9M123.0 507.1h0.9M116.1 509.1h0.9M130.3 508.8h0.9M106.2 510.7h0.9M123.2 499.3h0.9M125.0 511.6h0.9M123.8 504.8h0.9M114.5 517.0h0.9M108.0 512.6h0.9M109.2 510.7h0.9M116.4 506.1h0.9M126.0 508.6h0.9M114.8 506.4h0.9M112.5 506.2h0.9M121.0 502.8h0.9M113.2 507.0h0.9M116.7 507.8h0.9M123.8 508.0h0.9M122.3 516.8h0.9M112.8 507.9h0.9M109.4 513.6h0.9M122.2 503.9h0.9M108.3 510.9h0.9M108.4 507.8h0.9M122.3 509.1h0.9M115.5 509.7h0.9M112.7 505.5h0.9M121.6 509.1h0.9M124.0 511.6h0.9M120.2 508.7h0.9M114.8 510.0h0.9M122.6 512.7h0.9M115.9 495.9h0.9M124.9 507.7h0.9M118.1 500.7h0.9M108.5 505.2h0.9M112.9 502.1h0.9M111.2 506.7h0.9M112.6 505.1h0.9M123.9 503.9h0.9M111.2 506.7h0.9M122.9 510.8h0.9M122.6 506.9h0.9M119.5 512.0h0.9M118.5 504.1h0.9M111.6 507.6h0.9M106.3 513.2h0.9M122.0 510.7h0.9M121.9 512.3h0.9M130.3 500.7h0.9M127.4 508.1h0.9M103.8 515.3h0.9M127.7 504.4h0.9M125.5 502.9h0.9M118.9 503.1h0.9M115.4 511.3h0.9M125.0 502.9h0.9M116.9 513.6h0.9M133.9 515.4h0.9M124.8 505.7h0.9M109.3 510.5h0.9M117.7 498.1h0.9M124.8 516.4h0.9M111.1 508.0h0.9M115.5 509.7h0.9M115.5 502.9h0.9M121.0 507.6h0.9M112.6 506.2h0.9M113.3 508.6h0.9M120.0 504.0h0.9M123.2 504.6h0.9M130.0 499.1h0.9M115.2 513.6h0.9M111.7 505.2h0.9M108.7 505.5h0.9M122.3 508.9h0.9M112.2 511.4h0.9M123.6 506.0h0.9M122.9 505.2h0.9M128.2 505.7h0.9M119.6 512.6h0.9M118.2 512.6h0.9M109.2 513.4h0.9M126.8 514.2h0.9M112.7 517.0h0.9M119.9 504.8h0.9M120.9 507.7h0.9M113.3 509.6h0.9M113.4 511.4h0.9M121.6 507.7h0.9M130.0 512.4h0.9M106.6 509.1h0.9M115.7 511.4h0.9M115.1 509.9h0.9M116.9 507.1h0.9M121.3 498.4h0.9M105.1 514.8h0.9M112.5 509.9h0.9M112.0 510.8h0.9M120.4 507.3h0.9M118.9 504.9h0.9M111.9 511.3h0.9M123.7 501.4h0.9M126.2 508.1h0.9M112.6 506.3h0.9M118.0 506.9h0.9M114.7 505.7h0.9M121.4 511.1h0.9M121.5 508.2h0.9M115.9 506.7h0.9M120.5 509.7h0.9M111.8 513.1h0.9M119.7 512.8h0.9M110.6 501.3h0.9M114.4 509.7h0.9M111.2 512.9h0.9M119.8 506.7h0.9M107.6 512.9h0.9M110.4 506.9h0.9M115.2 502.5h0.9M122.8 511.2h0.9M125.4 507.0h0.9M117.7 508.0h0.9M108.2 507.5h0.9M121.3 511.3h0.9M109.0 510.4h0.9M125.6 502.9h0.9M121.2 508.6h0.9M124.6 502.7h0.9M114.5 512.6h0.9M102.8 510.2h0.9M137.8 499.5h0.9M120.0 503.9h0.9M113.5 500.8h0.9M113.5 514.1h0.9M127.3 499.8h0.9M123.5 506.1h0.9M118.0 507.6h0.9M122.3 508.9h0.9M122.2 498.5h0.9M116.8 513.1h0.9M115.1 498.6h0.9M110.1 505.9h0.9M115.5 512.8h0.9M125.7 505.4h0.9M117.0 505.5h0.9M125.4 503.7h0.9M129.6 505.8h0.9M114.0 507.0h0.9M125.6 512.4h0.9M115.3 506.4h0.9M114.4 501.8h0.9M108.1 511.9h0.9M115.8 516.3h0.9M117.1 508.9h0.9M116.9 511.5h0.9M125.8 509.2h0.9M116.9 514.9h0.9M128.5 509.9h0.9M131.1 506.2h0.9M115.4 502.1h0.9M109.4 506.3h0.9M111.0 513.5h0.9M121.5 505.1h0.9M120.1 505.8h0.9M131.3 509.2h0.9M112.6 506.8h0.9M110.3 514.9h0.9M131.8 495.7h0.9M121.6 506.1h0.9M118.9 511.7h0.9M114.6 514.2h0.9M110.1 511.3h0.9M122.8 510.1h0.9M121.6 512.4h0.9M121.4 508.0h0.9M117.7 507.4h0.9M126.5 503.3h0.9M114.1 509.3h0.9M120.1 504.8h0.9M126.6 507.8h0.9M109.8 509.2h0.9M110.5 509.7h0.9M133.8 495.2h0.9M110.5 515.3h0.9M121.5 507.8h0.9M122.6 505.0h0.9M119.7 504.9h0.9M106.5 508.4h0.9M110.9 515.4h0.9M103.0 515.1h0.9M121.7 508.1h0.9M124.1 510.5h0.9M115.7 508.1h0.9M117.4 506.6h0.9M127.9 500.4h0.9M112.0 511.1h0.9M118.5 511.8h0.9M123.4 507.4h0.9M118.9 504.9h0.9M133.0 503.9h0.9M119.5 497.9h0.9M128.2 502.0h0.9M113.5 509.5h0.9M115.2 511.3h0.9M107.9 514.2h0.9M103.9 510.3h0.9M122.6 507.8h0.9M118.5 507.4h0.9M116.4 507.6h0.9M116.6 506.8h0.9M113.1 510.1h0.9M130.7 505.8h0.9M111.7 506.9h0.9M120.3 506.4h0.9M120.4 508.8h0.9M114.2 507.6h0.9M118.5 505.0h0.9M117.6 498.3h0.9M116.7 502.5h0.9M115.6 499.2h0.9M126.1 507.7h0.9M129.7 505.2h0.9M126.3 507.6h0.9M120.6 506.2h0.9M131.4 511.4h0.9M104.4 510.1h0.9M124.2 507.5h0.9M122.1 514.0h0.9M117.2 511.4h0.9M123.8 504.3h0.9M115.5 504.1h0.9M113.0 507.0h0.9M116.2 506.9h0.9M114.2 503.6h0.9M112.2 501.8h0.9M125.1 508.5h0.9M113.3 504.3h0.9M130.1 507.8h0.9M118.5 505.0h0.9M132.8 498.2h0.9M115.6 505.0h0.9M120.5 510.7h0.9M118.6 508.8h0.9M117.0 508.1h0.9M122.1 509.6h0.9M125.6 511.5h0.9M122.0 504.0h0.9M123.8 512.0h0.9M114.9 508.6h0.9M120.2 503.6h0.9M108.5 512.3h0.9M127.5 508.8h0.9M111.4 513.2h0.9M117.2 509.6h0.9M126.1 502.9h0.9M104.7 510.7h0.9M117.6 504.3h0.9M115.9 502.8h0.9M120.2 509.1h0.9M109.1 508.0h0.9M120.6 514.6h0.9M121.7 500.4h0.9M103.9 512.0h0.9M119.8 499.4h0.9M127.7 506.8h0.9M120.2 503.7h0.9M106.4 506.9h0.9M120.3 503.2h0.9M111.3 507.4h0.9M118.7 509.0h0.9M118.1 506.4h0.9M108.6 512.3h0.9M123.6 512.5h0.9M125.1 493.2h0.9M122.8 505.7h0.9M113.6 514.9h0.9M108.9 508.2h0.9M112.4 509.7h0.9M114.1 505.8h0.9M125.2 500.5h0.9M120.9 501.8h0.9M131.0 505.7h0.9M121.3 509.3h0.9M119.1 508.4h0.9M118.0 504.7h0.9M118.4 503.0h0.9M113.3 503.5h0.9M133.0 500.6h0.9M116.2 506.5h0.9M126.0 510.9h0.9M125.2 513.7h0.9M111.1 510.1h0.9M122.5 511.1h0.9M116.5 502.8h0.9M106.8 510.6h0.9M129.0 508.8h0.9M125.4 502.4h0.9M116.4 508.6h0.9M118.1 507.7h0.9M118.3 511.0h0.9M121.4 498.7h0.9M114.7 503.1h0.9M115.6 514.7h0.9M122.2 504.9h0.9M123.0 509.8h0.9M114.1 505.2h0.9M128.4 501.9h0.9M125.4 516.2h0.9M111.9 504.9h0.9M132.2 504.9h0.9M101.0 513.5h0.9M110.6 513.2h0.9M115.1 510.9h0.9M111.0 508.2h0.9M122.6 511.6h0.9M104.5 504.8h0.9M121.7 505.2h0.9M103.7 504.9h0.9M111.4 510.4h0.9M121.8 509.3h0.9M120.0 509.0h0.9M115.2 511.5h0.9M118.4 500.3h0.9M113.1 500.4h0.9M115.3 508.6h0.9M119.8 514.6h0.9M118.2 508.7h0.9M111.7 507.5h0.9M121.5 507.6h0.9M112.1 509.3h0.9M114.6 513.3h0.9M113.5 505.7h0.9M116.7 509.2h0.9M115.1 506.5h0.9M115.8 505.2h0.9M115.9 505.1h0.9M117.6 511.4h0.9M121.3 507.2h0.9M112.9 503.8h0.9M116.4 512.1h0.9M113.6 503.4h0.9M107.6 507.5h0.9M122.3 507.6h0.9M117.3 511.4h0.9M106.7 517.3h0.9M111.9 517.8h0.9M114.4 506.9h0.9M112.7 511.8h0.9M113.6 510.8h0.9M118.7 502.1h0.9M121.4 504.6h0.9M125.9 500.9h0.9M120.3 504.2h0.9M125.2 509.1h0.9M112.3 510.1h0.9M107.1 514.1h0.9M115.4 507.6h0.9M120.4 500.9h0.9M102.4 514.1h0.9M117.8 501.4h0.9M113.4 508.1h0.9M118.7 511.7h0.9M118.0 503.5h0.9M115.6 508.5h0.9M125.5 505.2h0.9M115.5 507.6h0.9M120.2 504.9h0.9M125.3 502.4h0.9M113.1 517.4h0.9M114.6 501.9h0.9M119.0 509.3h0.9M118.9 505.0h0.9M128.3 508.7h0.9M122.7 504.8h0.9M121.5 501.3h0.9M102.0 511.1h0.9M122.6 509.2h0.9M115.4 504.3h0.9M106.8 509.1h0.9M120.2 498.9h0.9M113.6 512.6h0.9M125.0 505.8h0.9M125.1 516.2h0.9M136.7 507.4h0.9M106.5 510.9h0.9M122.6 509.3h0.9M102.8 512.4h0.9M121.1 510.5h0.9M119.8 509.5h0.9M110.2 508.3h0.9M117.9 507.7h0.9M111.2 514.2h0.9M117.2 510.9h0.9M120.1 506.7h0.9M116.8 509.1h0.9M118.9 502.9h0.9M109.3 507.6h0.9M122.4 502.2h0.9M114.0 508.7h0.9M133.9 506.4h0.9M123.8 506.3h0.9M128.5 502.3h0.9M124.5 507.6h0.9M112.0 503.4h0.9M110.6 513.6h0.9M118.5 513.2h0.9M124.1 510.5h0.9M118.7 508.6h0.9M103.5 513.9h0.9M107.9 512.4h0.9M103.8 516.8h0.9M122.8 504.3h0.9M122.4 498.4h0.9M123.0 506.3h0.9M116.1 505.9h0.9M111.7 515.4h0.9M114.9 501.4h0.9M110.3 510.3h0.9M112.1 507.3h0.9M120.3 506.9h0.9M124.3 506.0h0.9M103.5 505.1h0.9M116.7 507.0h0.9M124.4 508.5h0.9M116.2 512.0h0.9M121.0 504.6h0.9M121.5 512.1h0.9M115.1 515.7h0.9M110.4 514.7h0.9M119.0 505.1h0.9M105.2 510.9h0.9M117.5 500.9h0.9M126.1 510.8h0.9M120.7 505.5h0.9M121.3 509.6h0.9M127.1 503.2h0.9M117.3 516.3h0.9M118.7 513.7h0.9M105.6 506.3h0.9M115.8 504.4h0.9M123.9 501.8h0.9M117.2 513.5h0.9M116.7 507.9h0.9M117.5 509.4h0.9M121.4 512.8h0.9M126.9 509.0h0.9M120.3 510.8h0.9M127.7 505.8h0.9M112.6 512.0h0.9M125.8 509.8h0.9M110.4 513.8h0.9M128.0 516.5h0.9M120.0 496.6h0.9M115.2 504.9h0.9M120.4 515.2h0.9M114.1 506.9h0.9M111.2 512.3h0.9M113.0 508.4h0.9M133.9 500.1h0.9M106.6 505.6h0.9M116.8 510.3h0.9M119.9 503.5h0.9M118.8 505.9h0.9M121.2 511.8h0.9M121.5 502.2h0.9M115.9 516.8h0.9M113.7 509.0h0.9M126.8 502.7h0.9M118.0 506.8h0.9M108.7 513.8h0.9M136.3 503.3h0.9M139.4 499.6h0.9M132.6 507.6h0.9M133.2 505.7h0.9M147.3 497.1h0.9M137.7 505.1h0.9M127.5 507.1h0.9M134.5 503.2h0.9M141.1 502.2h0.9M138.2 504.8h0.9M139.8 502.5h0.9M139.6 500.2h0.9M132.2 505.8h0.9M139.0 503.6h0.9M136.7 502.1h0.9M136.3 502.8h0.9M137.1 501.8h0.9M135.7 505.5h0.9M141.5 505.1h0.9M132.0 504.6h0.9M130.5 505.1h0.9M145.7 499.3h0.9M131.6 506.9h0.9M139.9 499.1h0.9M145.4 499.8h0.9M141.4 502.0h0.9M141.9 500.1h0.9M144.4 499.4h0.9M141.9 503.1h0.9M130.3 507.5h0.9M136.1 503.1h0.9M149.7 496.8h0.9M130.3 510.2h0.9M131.7 505.4h0.9M138.6 503.5h0.9M140.1 502.3h0.9M137.7 503.6h0.9M127.8 508.6h0.9M135.4 501.2h0.9M137.2 504.9h0.9M137.8 504.8h0.9M136.3 505.2h0.9M138.8 504.4h0.9M135.9 505.5h0.9M130.7 508.3h0.9M139.6 501.1h0.9M138.1 503.5h0.9M141.9 501.4h0.9M141.4 504.2h0.9M130.0 509.9h0.9M142.9 500.7h0.9M139.7 504.2h0.9M125.4 506.7h0.9M144.3 496.3h0.9M136.8 505.3h0.9M137.9 503.9h0.9M135.6 509.3h0.9M139.3 506.4h0.9M134.6 508.3h0.9M148.7 498.7h0.9M133.7 505.6h0.9M134.3 505.4h0.9M142.1 501.9h0.9M139.3 502.8h0.9M128.5 509.1h0.9M129.3 507.3h0.9M136.2 504.3h0.9M142.7 501.8h0.9M130.6 505.7h0.9M140.1 501.3h0.9M124.9 511.9h0.9M131.3 508.8h0.9M128.2 512.6h0.9M133.5 505.7h0.9M133.5 506.6h0.9M135.7 502.6h0.9M132.9 506.5h0.9M152.2 494.3h0.9M142.0 502.9h0.9M130.6 509.0h0.9M144.9 499.8h0.9M130.6 511.5h0.9M136.4 502.6h0.9M132.1 508.0h0.9M130.5 509.6h0.9M142.7 501.3h0.9M129.8 507.7h0.9M137.9 503.6h0.9M148.1 496.4h0.9M144.1 501.7h0.9M134.9 503.2h0.9M140.0 500.5h0.9M128.0 510.4h0.9M145.0 496.3h0.9M143.7 498.3h0.9M146.4 502.9h0.9M136.3 503.2h0.9M144.3 501.0h0.9M142.0 499.5h0.9M132.1 504.5h0.9M143.2 498.5h0.9M133.4 505.9h0.9M134.9 502.5h0.9M151.5 496.1h0.9M147.9 496.3h0.9M133.0 508.0h0.9M145.3 498.2h0.9M132.6 507.3h0.9M134.2 506.1h0.9M147.7 498.4h0.9M137.0 509.4h0.9M138.7 501.4h0.9M149.1 497.3h0.9M135.0 506.1h0.9M129.0 509.3h0.9M132.0 507.8h0.9M136.7 503.0h0.9M134.9 501.3h0.9M138.0 502.5h0.9M139.6 502.6h0.9M142.1 500.5h0.9M128.8 510.3h0.9M146.6 500.7h0.9M146.9 497.5h0.9M137.0 501.9h0.9M138.2 504.2h0.9M123.9 513.7h0.9M128.9 508.2h0.9M137.8 505.2h0.9M142.8 498.8h0.9M149.6 495.5h0.9M129.0 509.1h0.9M140.3 500.4h0.9M128.2 509.0h0.9M140.2 501.3h0.9M127.1 511.4h0.9M135.9 505.2h0.9M142.3 501.4h0.9M127.1 514.2h0.9M140.0 503.6h0.9M135.3 503.3h0.9M133.3 506.5h0.9M128.7 511.6h0.9M139.1 500.7h0.9M132.7 507.3h0.9M138.8 503.7h0.9M137.2 504.7h0.9M140.5 502.7h0.9M134.7 508.0h0.9M133.0 509.3h0.9M134.8 503.8h0.9M129.4 510.5h0.9M131.5 506.9h0.9M134.9 506.1h0.9M130.9 508.5h0.9M135.0 506.8h0.9M144.6 498.3h0.9M135.3 504.7h0.9M149.8 494.7h0.9M133.3 506.6h0.9M143.0 499.4h0.9M134.8 505.4h0.9M130.0 509.2h0.9M134.2 506.4h0.9M144.7 499.1h0.9M143.5 499.9h0.9M126.5 508.9h0.9M133.3 506.7h0.9M142.0 498.5h0.9M136.5 502.3h0.9M133.0 505.6h0.9M130.2 506.8h0.9M132.6 505.9h0.9M128.1 507.4h0.9M146.5 498.4h0.9M137.6 505.4h0.9M136.5 507.0h0.9M140.9 501.7h0.9M143.5 499.9h0.9M135.8 506.4h0.9M140.4 502.1h0.9M130.5 511.0h0.9M142.3 500.9h0.9M136.5 505.4h0.9M133.3 506.6h0.9M138.6 505.2h0.9M150.7 493.7h0.9M124.9 511.9h0.9M143.8 500.9h0.9M127.9 509.2h0.9M132.8 506.9h0.9M146.5 498.0h0.9M145.2 500.2h0.9M125.8 512.1h0.9M133.6 505.2h0.9M140.7 505.1h0.9M130.1 509.4h0.9M132.6 508.1h0.9M134.4 505.6h0.9M128.2 511.5h0.9M130.1 506.6h0.9M136.6 506.9h0.9M138.7 501.5h0.9M127.7 512.3h0.9M139.2 502.7h0.9M138.9 500.2h0.9M139.7 500.7h0.9M132.5 504.7h0.9M132.0 506.8h0.9M124.7 512.9h0.9M142.0 502.5h0.9M135.4 508.9h0.9M135.4 507.4h0.9M137.2 504.8h0.9M132.6 507.6h0.9M134.0 506.1h0.9M134.0 504.2h0.9M144.8 503.4h0.9M144.8 499.5h0.9M139.3 504.2h0.9M139.7 501.4h0.9M134.0 508.0h0.9M139.3 501.9h0.9M132.7 510.6h0.9M129.5 508.4h0.9M144.9 500.7h0.9M133.9 508.0h0.9M139.3 504.1h0.9M146.1 497.2h0.9M135.7 505.7h0.9M142.9 501.0h0.9M134.1 505.9h0.9M141.7 498.7h0.9M135.4 507.3h0.9M131.2 508.2h0.9M142.4 505.1h0.9M140.1 501.5h0.9M138.9 505.5h0.9M137.5 504.7h0.9M130.5 507.4h0.9M143.9 499.4h0.9M139.2 501.0h0.9M137.1 504.8h0.9M146.0 499.4h0.9M134.5 505.2h0.9M134.9 507.2h0.9M143.1 500.2h0.9M132.9 507.8h0.9M139.5 501.2h0.9M136.9 502.3h0.9M135.3 502.6h0.9M142.9 502.3h0.9M135.8 504.4h0.9M137.3 505.7h0.9M139.5 502.7h0.9M128.8 511.7h0.9M133.6 504.8h0.9M136.3 504.3h0.9M142.5 501.0h0.9M136.8 504.4h0.9M142.5 501.7h0.9M139.5 503.8h0.9M136.3 502.8h0.9M131.7 506.8h0.9M137.0 503.8h0.9M139.7 502.3h0.9M138.2 500.3h0.9M133.5 508.3h0.9M140.8 501.1h0.9M148.9 497.5h0.9M141.4 502.3h0.9M134.3 506.9h0.9M132.7 508.6h0.9M135.0 505.8h0.9M136.4 503.2h0.9M131.5 507.9h0.9M131.0 506.7h0.9M131.7 508.2h0.9M131.3 506.1h0.9M130.6 510.3h0.9M134.7 506.3h0.9M130.5 506.5h0.9M135.1 508.9h0.9M136.6 506.7h0.9M133.3 507.4h0.9M131.8 508.3h0.9M134.0 505.1h0.9M151.8 495.7h0.9M133.2 504.8h0.9M145.9 497.1h0.9M133.7 503.1h0.9M136.3 502.6h0.9M134.5 507.9h0.9M145.1 500.4h0.9M130.6 508.1h0.9M130.9 507.1h0.9M137.3 504.3h0.9M132.4 504.7h0.9M143.8 497.9h0.9M127.9 507.3h0.9M136.0 502.0h0.9M140.3 503.2h0.9M127.7 511.4h0.9M144.0 500.4h0.9M147.2 499.7h0.9M140.5 502.1h0.9M128.4 509.1h0.9M134.6 506.2h0.9M125.5 513.3h0.9M133.0 507.0h0.9M130.4 505.1h0.9M134.2 505.7h0.9M133.9 504.1h0.9M139.2 501.1h0.9M127.8 509.9h0.9M135.4 504.2h0.9M132.8 506.7h0.9M131.3 508.5h0.9M139.1 503.7h0.9M132.0 507.7h0.9M138.2 502.7h0.9M130.2 509.3h0.9M130.8 509.9h0.9M149.4 494.1h0.9M140.9 502.1h0.9M140.4 499.4h0.9M143.2 498.9h0.9M129.1 505.3h0.9M136.9 476.8h0.9M135.7 479.4h0.9M135.2 488.9h0.9M135.8 478.0h0.9M133.4 478.5h0.9M134.0 482.1h0.9M140.0 487.2h0.9M141.6 480.7h0.9M136.2 478.1h0.9M130.0 487.5h0.9M137.7 487.7h0.9M137.6 480.9h0.9M129.8 479.4h0.9M131.3 486.0h0.9M133.2 478.1h0.9M134.1 483.2h0.9M136.0 482.7h0.9M124.7 480.9h0.9M135.2 476.3h0.9M134.4 479.4h0.9M128.8 489.8h0.9M123.9 480.0h0.9M129.4 477.4h0.9M137.2 482.6h0.9M135.2 484.9h0.9M131.9 480.9h0.9M138.3 482.3h0.9M125.5 479.6h0.9M128.3 480.5h0.9M128.8 487.7h0.9M124.3 482.3h0.9M142.9 477.9h0.9M125.3 485.9h0.9M135.1 479.7h0.9M136.6 485.3h0.9M130.2 474.5h0.9M132.5 484.0h0.9M129.8 486.0h0.9M139.4 478.1h0.9M132.6 483.9h0.9M139.0 482.5h0.9M131.2 484.2h0.9M120.9 481.3h0.9M129.5 479.9h0.9M132.8 477.5h0.9M137.2 481.5h0.9M138.8 489.3h0.9M132.1 491.7h0.9M129.9 473.4h0.9M138.0 486.8h0.9M126.6 482.7h0.9M137.6 481.3h0.9M140.7 478.1h0.9M142.5 474.8h0.9M147.8 488.6h0.9M136.7 477.2h0.9M140.4 476.7h0.9M135.7 479.6h0.9M134.5 479.0h0.9M144.1 485.3h0.9M134.4 488.1h0.9M131.2 481.5h0.9M134.6 479.7h0.9M137.1 478.6h0.9M133.0 482.6h0.9M130.0 485.1h0.9M133.3 480.2h0.9M125.4 479.8h0.9M136.2 487.9h0.9M132.7 479.5h0.9M135.4 483.1h0.9M129.9 482.2h0.9M134.6 480.1h0.9M130.7 477.4h0.9M125.9 484.7h0.9M129.6 492.1h0.9M133.9 478.0h0.9M132.3 480.3h0.9M131.8 477.3h0.9M130.7 480.5h0.9M138.1 487.3h0.9M140.5 481.9h0.9M129.9 486.1h0.9M138.8 481.8h0.9M139.2 484.0h0.9M138.0 488.0h0.9M131.0 477.0h0.9M131.6 481.8h0.9M123.5 478.1h0.9M132.6 480.2h0.9M133.9 486.4h0.9M133.1 483.5h0.9M129.7 484.0h0.9M130.4 485.2h0.9M122.5 490.2h0.9M135.4 480.2h0.9M132.5 480.4h0.9M141.6 477.3h0.9M134.9 481.8h0.9M134.8 478.5h0.9M120.9 477.0h0.9M137.9 478.2h0.9M131.6 483.1h0.9M128.8 477.6h0.9M133.4 489.2h0.9M134.4 485.4h0.9M134.9 480.8h0.9M132.5 489.1h0.9M134.5 487.3h0.9M133.0 481.3h0.9M132.1 481.7h0.9M129.9 475.8h0.9M127.5 488.9h0.9M141.1 484.6h0.9M137.3 481.5h0.9M136.2 487.2h0.9M132.5 482.9h0.9M124.3 485.2h0.9M135.3 491.3h0.9M135.3 482.8h0.9M125.5 479.7h0.9M135.1 486.4h0.9M129.6 482.0h0.9M130.5 479.9h0.9M128.0 482.8h0.9M135.4 478.9h0.9M131.7 486.8h0.9M128.7 483.3h0.9M120.6 474.2h0.9M131.1 477.5h0.9M130.7 477.1h0.9M131.4 478.2h0.9M138.2 478.9h0.9M127.7 482.2h0.9M135.2 482.7h0.9M132.0 479.4h0.9M123.8 483.0h0.9M142.3 481.7h0.9M140.3 481.5h0.9M133.2 483.6h0.9M135.0 484.8h0.9M131.6 483.6h0.9M129.9 483.5h0.9M139.8 483.3h0.9M136.0 484.4h0.9M128.8 483.7h0.9M131.3 478.4h0.9M137.1 480.2h0.9M129.1 477.6h0.9M129.1 486.9h0.9M136.7 479.0h0.9M137.1 481.6h0.9M135.6 476.0h0.9M124.5 482.9h0.9M139.9 484.2h0.9M129.2 481.9h0.9M136.8 480.8h0.9M126.3 483.7h0.9M134.1 483.4h0.9M141.7 488.4h0.9M135.3 484.0h0.9M137.1 482.1h0.9M141.5 478.2h0.9M133.9 489.0h0.9M132.8 482.4h0.9M140.6 477.8h0.9M136.1 485.0h0.9M136.3 485.2h0.9M127.0 482.4h0.9M133.9 487.7h0.9M137.4 475.2h0.9M138.4 487.4h0.9M131.6 486.9h0.9M138.3 480.7h0.9M132.2 488.6h0.9M130.5 482.3h0.9M132.2 480.3h0.9M138.0 485.3h0.9M137.8 480.3h0.9M141.5 479.7h0.9M132.6 482.8h0.9M138.9 477.8h0.9M137.9 475.9h0.9M134.0 482.8h0.9M140.7 484.4h0.9M134.1 477.4h0.9M132.7 490.6h0.9M126.1 479.8h0.9M146.6 481.1h0.9M129.9 488.8h0.9M140.1 476.3h0.9M138.2 483.5h0.9M138.1 483.5h0.9M137.7 483.8h0.9M129.0 485.6h0.9M135.5 479.8h0.9M130.3 479.1h0.9M129.6 492.0h0.9M137.1 481.4h0.9M134.6 483.6h0.9M136.2 480.1h0.9M141.7 483.2h0.9M128.6 484.4h0.9M133.4 483.4h0.9M123.9 483.9h0.9M141.3 477.6h0.9M138.9 477.4h0.9M134.8 479.8h0.9M138.5 478.2h0.9M137.2 480.9h0.9M130.3 481.6h0.9M131.6 480.2h0.9M121.6 478.6h0.9M138.1 473.7h0.9M137.5 485.2h0.9M134.1 486.9h0.9M136.1 481.0h0.9M137.6 488.7h0.9M130.5 492.7h0.9M140.0 477.5h0.9M135.0 483.0h0.9M126.6 486.2h0.9M133.6 485.7h0.9M141.7 487.9h0.9M133.9 478.4h0.9M140.1 486.2h0.9M119.6 481.1h0.9M141.0 480.0h0.9M132.6 480.9h0.9M139.1 479.5h0.9M132.4 481.5h0.9M133.2 473.1h0.9M135.7 485.3h0.9M142.5 482.9h0.9M133.6 488.0h0.9M131.9 476.8h0.9M138.6 479.9h0.9M134.8 479.4h0.9M135.2 486.0h0.9M128.9 476.4h0.9M131.7 487.7h0.9M137.5 482.0h0.9M132.6 481.7h0.9M136.1 488.3h0.9M138.5 479.3h0.9M141.1 475.5h0.9M132.4 484.3h0.9M134.3 491.4h0.9M138.8 483.1h0.9M138.8 479.3h0.9M131.6 475.6h0.9M127.6 476.4h0.9M129.7 473.9h0.9M140.6 481.7h0.9M142.0 477.0h0.9M136.7 482.6h0.9M134.8 483.3h0.9M131.8 479.1h0.9M136.5 475.4h0.9M140.2 479.9h0.9M138.4 481.3h0.9M136.3 478.2h0.9M137.4 484.1h0.9M126.6 477.0h0.9M131.7 485.3h0.9M136.9 482.4h0.9M134.6 475.6h0.9M127.3 483.8h0.9M139.3 486.0h0.9M135.9 474.6h0.9M134.1 479.7h0.9M131.8 478.3h0.9M132.2 482.4h0.9M132.5 485.5h0.9M140.0 479.8h0.9M140.9 486.2h0.9M130.3 487.1h0.9M141.7 473.9h0.9M145.5 479.5h0.9M136.9 479.1h0.9M132.5 479.7h0.9M133.8 479.7h0.9M127.8 488.6h0.9M127.6 476.7h0.9M140.0 483.8h0.9M137.7 482.9h0.9M130.7 487.0h0.9M148.2 476.2h0.9M132.4 476.9h0.9M137.4 485.4h0.9M139.5 483.5h0.9M134.1 481.2h0.9M125.7 473.2h0.9M135.4 483.7h0.9M133.8 483.3h0.9M122.7 485.2h0.9M139.7 478.7h0.9M136.7 481.1h0.9M125.7 482.2h0.9M139.2 484.4h0.9M130.2 485.7h0.9M132.0 493.4h0.9M133.6 484.5h0.9M133.4 476.7h0.9M132.6 489.1h0.9M133.1 479.1h0.9M139.9 475.5h0.9M135.1 481.1h0.9M125.6 481.8h0.9M138.3 480.5h0.9M132.6 480.5h0.9M135.9 478.8h0.9M138.7 486.8h0.9M134.3 488.9h0.9M131.1 483.4h0.9M136.7 483.9h0.9M142.1 477.9h0.9M137.9 483.7h0.9M141.0 480.4h0.9M131.1 483.7h0.9M140.9 482.8h0.9M132.3 478.6h0.9M132.0 478.6h0.9M140.9 481.4h0.9M130.8 488.1h0.9M139.7 477.3h0.9M135.5 482.9h0.9M140.2 481.6h0.9M146.7 475.8h0.9M125.7 480.2h0.9M135.8 481.2h0.9M132.0 477.3h0.9M130.1 476.4h0.9M129.8 479.4h0.9M126.3 480.4h0.9M130.4 484.1h0.9M139.1 483.3h0.9M137.0 480.7h0.9M139.3 475.9h0.9M136.0 481.9h0.9M128.4 477.7h0.9M135.2 486.8h0.9M133.5 490.2h0.9M131.1 484.8h0.9M134.4 477.7h0.9M140.9 487.2h0.9M131.5 480.1h0.9M136.1 481.1h0.9M129.9 480.2h0.9M134.5 482.7h0.9M134.3 482.7h0.9M134.4 476.9h0.9M135.7 484.0h0.9M134.2 482.4h0.9M135.7 477.9h0.9M140.9 475.4h0.9M127.9 487.7h0.9M128.3 482.6h0.9M144.7 475.9h0.9M130.0 477.3h0.9M138.5 483.7h0.9M128.0 477.6h0.9M140.9 488.4h0.9M130.2 480.8h0.9M128.2 484.0h0.9M132.8 489.6h0.9M132.8 484.6h0.9M138.2 487.8h0.9M136.2 482.6h0.9M125.4 479.7h0.9M131.8 480.8h0.9M141.1 477.5h0.9M138.5 479.3h0.9M131.5 481.9h0.9M126.5 482.5h0.9M137.7 478.6h0.9M133.0 487.4h0.9M131.4 484.0h0.9M125.1 476.7h0.9M130.5 482.5h0.9M132.1 482.0h0.9M125.9 489.2h0.9M134.4 481.9h0.9M137.0 483.1h0.9M137.9 479.4h0.9M134.2 481.7h0.9M139.4 480.0h0.9M141.5 478.6h0.9M135.6 481.3h0.9M135.2 479.4h0.9M130.4 479.7h0.9M145.6 475.3h0.9M136.1 484.6h0.9M132.0 486.1h0.9M136.6 483.9h0.9M142.5 480.6h0.9M131.5 486.7h0.9M134.2 482.4h0.9M139.7 482.9h0.9M134.6 477.5h0.9M135.5 488.8h0.9M134.1 477.3h0.9M136.2 481.0h0.9M123.2 478.7h0.9M135.2 486.6h0.9M132.6 481.6h0.9M135.9 485.1h0.9M138.2 477.5h0.9M134.2 486.9h0.9M127.0 479.7h0.9M132.5 475.3h0.9M122.0 480.4h0.9M137.3 483.0h0.9M139.4 482.7h0.9M132.4 480.1h0.9M134.7 480.3h0.9M134.0 477.3h0.9M133.2 490.8h0.9M133.5 492.5h0.9M144.4 480.9h0.9M133.7 480.5h0.9M131.5 484.9h0.9M135.6 481.2h0.9M138.5 481.3h0.9M133.3 488.4h0.9M126.2 483.5h0.9M136.4 482.7h0.9M143.8 490.0h0.9M139.1 485.2h0.9M133.1 483.2h0.9M131.3 484.1h0.9M133.4 478.9h0.9M139.6 484.0h0.9M137.2 482.4h0.9M139.4 482.4h0.9M140.6 483.3h0.9M131.0 479.2h0.9M137.9 476.6h0.9M142.3 474.4h0.9M133.0 478.1h0.9M129.4 480.0h0.9M136.4 481.6h0.9M129.5 478.9h0.9M125.3 485.8h0.9M128.3 485.4h0.9M133.5 485.6h0.9M131.1 481.6h0.9M134.1 483.6h0.9M138.4 483.9h0.9M126.1 480.5h0.9M130.3 476.5h0.9M138.0 486.7h0.9M135.1 479.3h0.9M136.6 486.9h0.9M124.7 477.1h0.9M122.7 490.2h0.9M135.6 473.4h0.9M131.3 490.7h0.9M125.4 487.0h0.9M121.0 490.3h0.9M128.7 491.4h0.9M129.0 490.1h0.9M118.2 490.7h0.9M127.5 496.5h0.9M125.4 510.0h0.9M131.3 491.3h0.9M129.6 495.3h0.9M133.8 493.4h0.9M129.0 506.3h0.9M123.8 495.4h0.9M132.2 484.9h0.9M131.1 501.7h0.9M129.9 487.7h0.9M125.7 490.9h0.9M128.9 488.7h0.9M140.5 494.1h0.9M128.0 498.3h0.9M116.1 489.3h0.9M128.3 490.0h0.9M132.8 490.9h0.9M132.9 490.6h0.9M129.3 487.8h0.9M140.3 494.1h0.9M127.8 500.3h0.9M123.4 495.2h0.9M134.0 490.7h0.9M129.3 485.1h0.9M123.3 493.0h0.9M136.5 489.2h0.9M117.0 500.2h0.9M127.1 489.5h0.9M130.9 491.3h0.9M131.8 496.7h0.9M130.3 478.6h0.9M131.5 497.4h0.9M123.7 484.8h0.9M132.1 496.5h0.9M131.4 488.2h0.9M126.1 497.5h0.9M133.8 497.2h0.9M124.4 486.7h0.9M127.8 483.6h0.9M132.0 490.4h0.9M126.0 485.5h0.9M126.5 490.9h0.9M125.8 495.8h0.9M130.9 499.7h0.9M121.0 482.3h0.9M123.4 502.3h0.9M132.4 495.4h0.9M125.7 488.9h0.9M122.1 500.4h0.9M128.6 488.3h0.9M135.3 484.7h0.9M136.1 490.3h0.9M127.0 499.2h0.9M123.0 491.3h0.9M131.6 489.9h0.9M124.1 496.3h0.9M128.3 496.4h0.9M114.7 493.9h0.9M118.5 478.3h0.9M139.5 481.6h0.9M139.5 485.5h0.9M140.4 481.6h0.9M120.8 500.9h0.9M124.7 482.6h0.9M125.2 481.6h0.9M135.6 498.7h0.9M132.8 496.1h0.9M140.9 498.5h0.9M129.2 502.1h0.9M124.6 488.3h0.9M132.7 499.8h0.9M127.0 495.9h0.9M132.9 487.7h0.9M146.2 499.2h0.9M126.7 476.3h0.9M115.0 483.9h0.9M118.0 495.7h0.9M125.6 501.1h0.9M129.7 490.0h0.9M130.5 492.6h0.9M127.5 507.7h0.9M129.1 500.8h0.9M133.7 502.2h0.9M125.9 491.5h0.9M120.8 489.5h0.9M125.5 488.3h0.9M123.9 495.9h0.9M130.5 507.0h0.9M122.8 502.2h0.9M120.6 483.1h0.9M131.4 493.3h0.9M132.5 488.2h0.9M128.0 492.5h0.9M125.9 482.2h0.9M122.1 498.6h0.9M126.4 495.0h0.9M139.5 484.0h0.9M114.5 499.8h0.9M130.4 499.0h0.9M129.4 475.2h0.9M131.8 487.7h0.9M119.3 490.0h0.9M126.5 493.1h0.9M127.1 493.1h0.9M125.3 506.6h0.9M132.3 507.7h0.9M125.7 500.1h0.9M128.1 494.2h0.9M122.2 490.5h0.9M122.0 504.1h0.9M131.2 497.7h0.9M134.8 487.8h0.9M130.8 486.1h0.9M123.2 490.1h0.9M127.5 504.4h0.9M136.9 504.9h0.9M127.5 495.8h0.9M125.5 504.9h0.9M112.9 488.6h0.9M131.3 485.2h0.9M123.8 486.6h0.9M123.7 487.4h0.9M123.3 480.4h0.9M135.4 491.0h0.9M126.4 485.7h0.9M122.0 481.0h0.9M131.5 493.6h0.9M127.4 484.5h0.9M126.3 490.9h0.9M128.0 491.4h0.9M131.8 493.2h0.9M130.1 488.4h0.9M134.6 484.4h0.9M134.2 497.8h0.9M139.1 484.5h0.9M127.5 496.4h0.9M129.0 493.5h0.9M137.8 487.9h0.9M129.4 495.9h0.9M138.1 497.4h0.9M134.3 490.4h0.9M116.2 492.9h0.9M120.0 495.7h0.9M131.4 495.8h0.9M124.5 503.1h0.9M132.1 490.2h0.9M122.0 491.4h0.9M128.4 492.6h0.9M130.7 502.6h0.9M125.4 493.9h0.9M125.5 493.6h0.9M128.5 495.2h0.9M126.9 491.8h0.9M119.1 502.7h0.9M129.6 495.9h0.9M127.8 484.1h0.9M130.4 485.2h0.9M129.9 490.7h0.9M134.6 492.7h0.9M126.7 492.4h0.9M133.2 499.0h0.9M129.9 495.3h0.9M123.2 493.3h0.9M132.8 488.2h0.9M124.4 498.8h0.9M132.2 498.4h0.9M125.4 495.2h0.9M124.2 493.8h0.9M120.3 496.0h0.9M125.1 495.6h0.9M130.8 495.3h0.9M140.5 496.3h0.9M126.7 489.7h0.9M127.8 494.5h0.9M123.9 498.3h0.9M131.8 495.0h0.9M130.2 494.7h0.9M124.6 497.9h0.9M121.6 492.9h0.9M119.4 490.7h0.9M128.6 493.5h0.9M123.7 494.6h0.9M130.7 504.1h0.9M139.2 500.2h0.9M135.7 490.6h0.9M134.3 485.6h0.9M141.7 492.4h0.9M125.6 494.0h0.9M126.0 495.4h0.9M125.2 491.2h0.9M143.7 496.2h0.9M136.1 495.4h0.9M141.8 492.5h0.9M122.9 494.7h0.9M125.0 491.2h0.9M133.4 494.9h0.9M116.8 495.4h0.9M128.2 494.7h0.9M128.4 495.7h0.9M125.3 496.2h0.9M134.9 497.4h0.9M119.6 497.7h0.9M134.6 491.8h0.9M130.0 496.1h0.9M130.7 491.9h0.9M129.5 498.9h0.9M129.0 489.9h0.9M125.1 493.5h0.9M117.2 508.4h0.9M137.8 501.0h0.9M125.2 494.8h0.9M132.4 486.3h0.9M119.7 494.9h0.9M124.0 491.1h0.9M129.5 506.1h0.9M119.4 497.7h0.9M132.7 487.2h0.9M129.9 493.0h0.9M133.7 496.7h0.9M130.6 484.7h0.9M133.1 489.5h0.9M128.2 485.6h0.9M134.9 478.0h0.9M128.8 499.8h0.9M130.3 487.5h0.9M130.8 490.7h0.9M124.6 496.2h0.9M121.2 498.4h0.9M135.4 480.5h0.9M128.6 500.6h0.9M136.3 480.3h0.9M124.0 493.1h0.9M131.6 499.1h0.9M127.2 490.6h0.9M139.4 492.9h0.9M136.0 487.9h0.9M116.0 497.7h0.9M130.7 486.8h0.9M136.0 493.4h0.9M137.7 497.9h0.9M115.3 485.6h0.9M134.2 484.5h0.9M130.4 490.7h0.9M130.5 489.7h0.9M126.1 498.8h0.9M124.0 505.1h0.9M126.4 492.4h0.9M145.1 490.4h0.9M139.5 485.9h0.9M127.2 495.5h0.9M142.6 488.3h0.9M124.8 492.6h0.9M131.2 487.5h0.9M125.1 488.7h0.9M117.9 491.0h0.9M125.0 493.8h0.9M127.2 499.8h0.9M130.6 486.6h0.9M124.5 490.7h0.9M152.8 489.4h0.9M119.0 501.4h0.9M117.0 496.4h0.9M125.1 496.8h0.9M116.5 488.3h0.9M142.3 493.7h0.9M132.8 491.6h0.9M133.6 485.5h0.9M127.2 498.3h0.9M121.8 486.0h0.9M131.2 495.0h0.9M123.4 491.4h0.9M120.1 487.3h0.9M131.9 488.8h0.9M130.5 494.1h0.9M113.5 498.6h0.9M136.1 487.5h0.9M135.5 497.6h0.9M127.0 493.3h0.9M128.1 493.3h0.9M130.0 485.9h0.9M134.5 492.2h0.9M126.4 495.4h0.9M127.7 506.1h0.9M130.1 491.7h0.9M124.1 487.9h0.9M117.7 500.8h0.9M133.1 499.6h0.9M125.7 484.5h0.9M122.0 499.4h0.9M132.7 488.8h0.9M122.7 491.1h0.9M121.4 500.8h0.9M126.1 496.3h0.9M122.4 497.9h0.9M120.8 480.8h0.9M102.7 483.6h0.9M106.5 486.5h0.9M117.2 480.7h0.9M110.7 477.8h0.9M117.1 483.8h0.9M112.3 482.5h0.9M111.9 478.3h0.9M121.0 484.9h0.9M126.0 486.8h0.9M110.1 475.0h0.9M116.9 478.7h0.9M113.0 480.6h0.9M107.3 477.8h0.9M110.5 483.7h0.9M101.3 475.7h0.9M101.3 485.1h0.9M115.5 482.0h0.9M124.4 480.3h0.9M114.4 484.4h0.9M115.9 486.3h0.9M106.6 478.0h0.9M114.0 485.5h0.9M107.4 482.5h0.9M114.3 481.5h0.9M117.9 490.8h0.9M117.2 487.6h0.9M108.7 481.7h0.9M119.5 483.9h0.9M102.5 484.5h0.9M113.9 475.0h0.9M103.1 483.6h0.9M106.9 478.8h0.9M116.1 482.5h0.9M114.2 477.4h0.9M110.0 485.4h0.9M112.2 485.7h0.9M113.6 479.5h0.9M109.4 479.4h0.9M120.7 476.7h0.9M109.5 480.4h0.9M117.8 479.7h0.9M118.9 480.6h0.9M117.0 479.4h0.9M115.5 480.4h0.9M114.1 482.2h0.9M99.0 482.3h0.9M112.3 483.7h0.9M108.9 478.4h0.9M110.2 488.7h0.9M108.3 482.4h0.9M120.9 481.2h0.9M115.8 483.6h0.9M108.0 486.7h0.9M116.6 482.0h0.9M107.0 481.9h0.9M120.0 479.3h0.9M117.8 478.7h0.9M113.8 482.0h0.9M112.1 480.6h0.9M99.9 481.2h0.9M112.3 484.6h0.9M108.1 478.6h0.9M109.3 482.3h0.9M122.7 484.9h0.9M111.8 483.3h0.9M108.4 482.6h0.9M116.0 482.8h0.9M118.8 479.9h0.9M104.4 481.9h0.9M139.8 499.1h0.9M133.3 490.1h0.9M141.7 489.3h0.9M146.9 491.0h0.9M142.0 489.1h0.9M140.0 495.6h0.9M144.5 491.5h0.9M138.4 495.6h0.9M135.4 485.9h0.9M139.0 496.0h0.9M138.1 496.1h0.9M141.0 493.9h0.9M143.7 503.7h0.9M141.1 487.5h0.9M140.7 496.3h0.9M148.6 496.0h0.9M143.3 493.1h0.9M139.9 497.9h0.9M141.2 493.3h0.9M147.9 499.9h0.9M134.3 491.9h0.9M134.5 505.1h0.9M139.2 489.6h0.9M133.1 499.9h0.9M146.5 497.5h0.9M136.9 494.7h0.9M147.0 494.8h0.9M143.7 494.7h0.9M136.2 493.0h0.9M133.2 490.1h0.9M134.0 493.5h0.9M131.8 494.5h0.9M142.2 497.0h0.9M148.4 494.1h0.9M142.3 499.8h0.9M138.5 493.2h0.9M143.5 491.8h0.9M134.8 499.8h0.9M136.0 489.7h0.9M133.4 498.9h0.9M141.0 494.3h0.9M140.2 497.3h0.9M141.9 494.5h0.9M139.7 493.2h0.9M139.6 494.8h0.9M145.1 491.3h0.9M140.8 493.6h0.9M146.0 499.3h0.9M132.7 494.0h0.9M133.6 498.2h0.9M141.4 493.3h0.9M139.1 497.1h0.9M134.6 496.9h0.9M137.2 494.2h0.9M144.2 495.2h0.9M135.9 492.5h0.9M145.4 492.9h0.9M138.7 495.6h0.9M139.2 498.2h0.9M144.2 495.3h0.9M148.2 489.4h0.9M138.5 484.1h0.9M138.6 497.1h0.9M133.3 494.1h0.9M142.0 495.5h0.9M140.0 492.3h0.9M137.3 494.3h0.9M139.4 488.2h0.9M143.2 494.5h0.9M136.3 494.7h0.9M137.3 495.5h0.9M141.9 491.0h0.9M144.5 496.4h0.9M141.2 494.2h0.9M143.9 485.6h0.9M144.6 490.6h0.9M141.5 492.1h0.9M132.5 492.8h0.9M139.9 494.3h0.9M143.4 481.9h0.9M141.6 498.7h0.9M138.9 490.9h0.9M143.3 493.4h0.9M142.7 497.1h0.9M146.5 502.0h0.9M139.1 497.0h0.9M138.6 493.2h0.9M140.9 490.3h0.9M148.1 492.1h0.9M136.8 494.0h0.9M137.4 497.1h0.9M138.9 490.4h0.9M137.3 492.8h0.9M137.5 490.7h0.9M145.1 499.6h0.9M143.4 497.4h0.9M141.8 494.4h0.9M143.9 498.9h0.9M148.1 492.7h0.9M137.9 489.2h0.9" stroke="#000" stroke-width="0.9" fill="none" filter="url(#b2)"/>
</g>
<rect x="97.2" y="472.2" width="58.39999999999999" height="46.80000000000001" fill="none" stroke="#111" stroke-width="1"/>
<line x1="122.2" y1="472.2" x2="122.2" y2="519" stroke="#000" stroke-width="1.1" />
<line x1="97.2" y1="496.7" x2="155.6" y2="496.7" stroke="#000" stroke-width="1.1" />
<text x="127.5" y="470.8" font-size="8.4" text-anchor="middle" font-weight="normal" fill="#111" >CD160 mAb</text>
<text x="113.3" y="525.2" font-size="4.6" text-anchor="middle" fill="#333">10<tspan dy="-1.6" font-size="3.4">1</tspan></text>
<text x="127.9" y="525.2" font-size="4.6" text-anchor="middle" fill="#333">10<tspan dy="-1.6" font-size="3.4">2</tspan></text>
<text x="142.5" y="525.2" font-size="4.6" text-anchor="middle" fill="#333">10<tspan dy="-1.6" font-size="3.4">3</tspan></text>
<text x="157.1" y="525.2" font-size="4.6" text-anchor="middle" fill="#333">10<tspan dy="-1.6" font-size="3.4">4</tspan></text>
<text transform="translate(95.8,507.23636363636365) rotate(-90)" font-size="4.6" text-anchor="middle" fill="#333">10<tspan dy="-1.6" font-size="3.4">1</tspan></text>
<text transform="translate(95.8,493.05454545454546) rotate(-90)" font-size="4.6" text-anchor="middle" fill="#333">10<tspan dy="-1.6" font-size="3.4">2</tspan></text>
<text transform="translate(95.8,478.8727272727273) rotate(-90)" font-size="4.6" text-anchor="middle" fill="#333">10<tspan dy="-1.6" font-size="3.4">3</tspan></text>
<clipPath id="c170_409"><rect x="170.1" y="409.6" width="59.099999999999994" height="48.099999999999966"/></clipPath>
<g clip-path="url(#c170_409)">
<ellipse cx="183.6" cy="446.8" rx="8" ry="4.5" transform="rotate(-33 183.6 446.8)" fill="#000" opacity="0.95" filter="url(#bl)"/>
<ellipse cx="212" cy="420.3" rx="3.6" ry="1.2" transform="rotate(-5 212 420.3)" fill="#000" opacity="0.7" filter="url(#bl)"/>
<path d="M190.0 441.2h0.9M182.8 450.8h0.9M176.8 445.8h0.9M184.4 446.9h0.9M180.1 445.1h0.9M180.8 446.0h0.9M176.4 454.9h0.9M187.3 448.4h0.9M197.1 446.1h0.9M185.1 444.4h0.9M186.4 445.7h0.9M177.5 438.2h0.9M186.4 447.7h0.9M180.9 442.4h0.9M182.1 444.2h0.9M191.8 444.0h0.9M196.2 444.6h0.9M181.6 448.9h0.9M181.7 446.3h0.9M182.4 445.9h0.9M182.6 453.8h0.9M192.7 440.4h0.9M187.9 448.7h0.9M186.4 445.6h0.9M186.3 445.1h0.9M186.9 440.0h0.9M182.9 449.1h0.9M190.1 448.4h0.9M181.1 450.3h0.9M183.0 448.4h0.9M177.2 449.5h0.9M183.7 451.6h0.9M183.1 441.9h0.9M176.6 451.9h0.9M195.3 440.4h0.9M177.8 445.2h0.9M183.6 443.9h0.9M191.2 440.0h0.9M182.4 440.9h0.9M178.4 454.8h0.9M183.9 449.3h0.9M186.3 452.4h0.9M174.7 450.4h0.9M182.3 446.6h0.9M182.1 448.3h0.9M173.4 447.4h0.9M191.5 447.1h0.9M181.1 447.5h0.9M182.0 448.5h0.9M188.2 451.1h0.9M187.0 443.3h0.9M179.4 450.7h0.9M184.0 448.0h0.9M186.8 450.8h0.9M183.6 445.7h0.9M185.2 444.6h0.9M180.9 448.5h0.9M188.7 443.7h0.9M185.0 446.1h0.9M188.8 448.6h0.9M182.3 445.0h0.9M178.5 448.5h0.9M182.4 449.6h0.9M179.9 453.0h0.9M192.4 446.9h0.9M187.0 450.1h0.9M193.0 438.6h0.9M181.9 452.5h0.9M182.0 447.0h0.9M189.9 437.8h0.9M178.7 449.6h0.9M189.9 445.8h0.9M180.1 446.1h0.9M177.0 451.4h0.9M184.1 448.0h0.9M186.9 451.2h0.9M188.9 445.5h0.9M190.5 435.5h0.9M178.4 443.5h0.9M192.5 444.5h0.9M180.7 444.7h0.9M180.9 450.3h0.9M179.3 452.7h0.9M179.9 448.7h0.9M185.9 447.1h0.9M176.7 450.8h0.9M187.2 445.1h0.9M191.7 443.7h0.9M187.8 443.6h0.9M187.9 438.5h0.9M181.2 455.5h0.9M188.6 442.8h0.9M186.5 447.0h0.9M178.2 446.3h0.9M187.3 446.9h0.9M183.7 446.1h0.9M178.5 452.9h0.9M186.3 445.0h0.9M176.6 450.7h0.9M192.9 438.9h0.9M178.2 452.5h0.9M182.2 451.0h0.9M180.8 451.2h0.9M185.6 450.5h0.9M188.1 443.1h0.9M192.4 438.5h0.9M187.9 442.5h0.9M185.3 450.1h0.9M187.2 444.6h0.9M180.0 448.0h0.9M186.7 447.6h0.9M192.1 443.5h0.9M182.8 443.8h0.9M181.9 449.5h0.9M186.8 446.3h0.9M183.4 451.5h0.9M185.8 447.2h0.9M186.4 441.7h0.9M182.6 445.0h0.9M177.8 445.1h0.9M181.4 449.1h0.9M183.0 449.4h0.9M188.0 444.4h0.9M178.3 447.8h0.9M183.2 445.3h0.9M185.8 447.5h0.9M175.5 453.6h0.9M177.5 446.7h0.9M180.4 443.9h0.9M193.5 436.5h0.9M197.5 441.6h0.9M183.2 451.3h0.9M179.4 454.6h0.9M189.8 446.1h0.9M181.4 446.5h0.9M179.3 444.3h0.9M188.7 441.2h0.9M191.4 440.2h0.9M183.1 443.5h0.9M191.5 447.0h0.9M187.8 440.7h0.9M182.4 442.8h0.9M177.8 450.2h0.9M181.9 451.3h0.9M187.8 449.8h0.9M182.7 445.2h0.9M182.1 452.2h0.9M185.3 442.7h0.9M189.5 445.4h0.9M179.7 444.7h0.9M187.8 443.2h0.9M185.4 446.6h0.9M185.9 443.1h0.9M183.8 446.1h0.9M177.3 451.8h0.9M191.6 441.2h0.9M177.9 452.5h0.9M182.0 442.9h0.9M194.7 440.1h0.9M183.0 447.1h0.9M176.3 447.1h0.9M176.8 448.9h0.9M183.4 451.1h0.9M182.8 441.5h0.9M177.6 450.3h0.9M178.7 446.4h0.9M178.8 454.9h0.9M184.2 451.5h0.9M191.3 447.6h0.9M185.1 448.0h0.9M189.8 445.1h0.9M180.2 443.2h0.9M185.1 441.6h0.9M190.2 441.0h0.9M188.3 450.2h0.9M176.1 453.5h0.9M183.6 443.1h0.9M180.7 450.2h0.9M196.2 443.0h0.9M183.2 447.8h0.9M178.0 445.3h0.9M176.5 452.8h0.9M176.8 454.1h0.9M195.1 447.0h0.9M175.6 452.3h0.9M187.0 447.6h0.9M186.5 446.0h0.9M181.9 447.9h0.9M192.0 446.0h0.9M187.8 443.4h0.9M184.1 449.5h0.9M184.3 443.8h0.9M178.1 448.0h0.9M182.7 444.7h0.9M185.6 446.5h0.9M183.9 444.6h0.9M176.7 451.6h0.9M171.5 454.2h0.9M181.5 448.4h0.9M187.4 441.3h0.9M189.5 439.9h0.9M184.2 449.7h0.9M198.0 440.3h0.9M181.5 447.0h0.9M179.6 449.2h0.9M185.9 447.6h0.9M178.8 450.2h0.9M187.7 448.1h0.9M184.5 446.2h0.9M178.8 448.7h0.9M175.6 449.0h0.9M178.7 446.6h0.9M184.4 446.4h0.9M176.0 449.3h0.9M174.8 444.8h0.9M185.8 445.0h0.9M183.0 445.1h0.9M185.6 444.4h0.9M188.6 444.5h0.9M194.6 445.6h0.9M174.8 450.8h0.9M186.4 450.9h0.9M179.2 452.7h0.9M189.2 441.1h0.9M178.0 455.7h0.9M186.7 449.7h0.9M181.9 450.4h0.9M183.2 445.3h0.9M181.3 450.5h0.9M182.6 441.9h0.9M186.6 446.5h0.9M188.9 444.2h0.9M176.0 449.7h0.9M194.0 444.5h0.9M189.8 447.6h0.9M183.7 447.5h0.9M182.4 448.3h0.9M188.2 446.0h0.9M183.3 448.4h0.9M186.4 447.7h0.9M187.4 443.6h0.9M183.2 452.1h0.9M180.9 445.2h0.9M187.1 444.8h0.9M191.5 436.4h0.9M184.2 441.6h0.9M183.3 448.7h0.9M188.3 451.0h0.9M185.0 448.1h0.9M189.8 441.1h0.9M192.5 443.0h0.9M191.1 441.7h0.9M186.0 444.2h0.9M176.1 448.7h0.9M180.7 446.7h0.9M185.4 449.6h0.9M182.0 447.2h0.9M179.7 443.5h0.9M189.9 442.7h0.9M179.8 444.4h0.9M182.2 443.8h0.9M180.5 456.5h0.9M186.3 442.1h0.9M183.5 447.9h0.9M185.4 444.1h0.9M183.6 447.1h0.9M183.4 443.4h0.9M191.9 451.3h0.9M186.3 446.6h0.9M188.2 441.6h0.9M181.5 448.8h0.9M172.6 454.8h0.9M178.3 450.1h0.9M178.4 446.1h0.9M191.1 443.7h0.9M177.4 446.4h0.9M177.9 452.2h0.9M181.7 447.5h0.9M185.8 449.1h0.9M187.7 443.1h0.9M183.0 441.8h0.9M193.0 440.2h0.9M182.4 449.0h0.9M185.2 450.1h0.9M181.4 450.5h0.9M185.4 443.3h0.9M182.7 451.7h0.9M186.8 451.6h0.9M182.5 447.2h0.9M186.7 446.8h0.9M184.8 443.6h0.9M184.0 450.8h0.9M180.9 447.8h0.9M188.2 450.4h0.9M179.2 456.0h0.9M192.3 440.0h0.9M186.9 449.4h0.9M191.2 451.3h0.9M191.4 440.7h0.9M183.3 446.4h0.9M191.8 449.2h0.9M187.6 449.3h0.9M182.3 448.8h0.9M183.1 450.3h0.9M185.5 447.4h0.9M184.1 444.1h0.9M180.0 450.2h0.9M178.3 447.6h0.9M185.9 441.9h0.9M189.1 443.2h0.9M180.3 452.1h0.9M189.8 442.7h0.9M189.0 445.8h0.9M179.6 442.7h0.9M191.6 447.9h0.9M180.3 448.8h0.9M187.6 441.0h0.9M186.2 441.0h0.9M186.1 442.5h0.9M181.7 452.9h0.9M179.3 445.3h0.9M192.6 445.3h0.9M182.5 447.7h0.9M186.3 444.2h0.9M191.0 441.5h0.9M183.3 448.3h0.9M189.9 444.1h0.9M187.3 446.3h0.9M181.8 456.3h0.9M183.9 450.0h0.9M188.7 445.3h0.9M178.1 448.1h0.9M178.4 442.9h0.9M181.6 448.2h0.9M177.6 445.5h0.9M185.8 446.6h0.9M187.0 452.6h0.9M190.3 442.9h0.9M191.2 445.3h0.9M192.3 444.0h0.9M180.8 441.6h0.9M181.5 448.5h0.9M183.0 447.2h0.9M185.0 446.9h0.9M186.9 446.7h0.9M189.5 440.9h0.9M179.2 452.0h0.9M180.8 445.6h0.9M172.5 450.4h0.9M175.2 454.9h0.9M180.3 450.6h0.9M186.4 442.0h0.9M183.8 447.8h0.9M177.2 447.1h0.9M177.0 441.5h0.9M177.3 453.8h0.9M184.4 440.0h0.9M181.7 446.8h0.9M180.5 448.4h0.9M172.3 452.2h0.9M180.6 447.6h0.9M185.0 449.9h0.9M177.9 454.5h0.9M182.5 445.2h0.9M188.0 440.8h0.9M192.6 437.7h0.9M191.6 439.1h0.9M188.5 450.4h0.9M189.1 444.2h0.9M184.3 451.7h0.9M190.3 442.9h0.9M183.2 450.4h0.9M182.8 446.1h0.9M186.8 444.7h0.9M185.0 446.1h0.9M179.9 445.4h0.9M184.3 448.9h0.9M194.2 443.8h0.9M181.5 448.1h0.9M183.3 447.7h0.9M187.1 441.2h0.9M174.2 446.5h0.9M179.8 453.4h0.9M189.1 447.4h0.9M176.6 448.7h0.9M185.9 444.3h0.9M189.3 439.7h0.9M182.5 449.7h0.9M186.8 446.7h0.9M183.8 443.8h0.9M187.7 449.7h0.9M192.3 441.8h0.9M188.5 450.1h0.9M185.9 450.4h0.9M192.7 443.0h0.9M177.3 451.8h0.9M179.2 449.8h0.9M182.2 454.4h0.9M183.5 448.4h0.9M178.8 447.8h0.9M188.4 444.5h0.9M183.0 446.3h0.9M188.3 443.5h0.9M177.3 449.0h0.9M194.8 437.6h0.9M186.5 447.4h0.9M175.5 450.6h0.9M186.1 443.9h0.9M182.6 443.2h0.9M186.6 452.2h0.9M183.0 447.0h0.9M186.9 443.0h0.9M186.7 443.5h0.9M187.4 449.0h0.9M180.7 445.4h0.9M196.6 448.5h0.9M184.0 448.6h0.9M191.5 449.2h0.9M180.9 448.3h0.9M182.8 454.0h0.9M193.7 441.6h0.9M183.3 445.2h0.9M194.7 442.6h0.9M183.8 448.3h0.9M187.2 441.5h0.9M192.6 443.0h0.9M179.0 452.5h0.9M173.9 452.3h0.9M173.0 452.6h0.9M178.0 449.3h0.9M191.6 442.5h0.9M183.2 447.3h0.9M180.2 448.1h0.9M182.4 447.4h0.9M179.0 448.3h0.9M187.1 448.1h0.9M185.9 450.8h0.9M178.7 454.5h0.9M186.6 446.7h0.9M183.3 446.4h0.9M182.8 448.4h0.9M177.5 443.3h0.9M178.8 448.1h0.9M179.7 443.1h0.9M178.4 451.0h0.9M186.7 447.0h0.9M194.2 439.4h0.9M188.8 450.0h0.9M188.0 448.7h0.9M186.1 444.2h0.9M184.2 448.9h0.9M180.9 451.3h0.9M193.0 444.1h0.9M181.7 446.9h0.9M177.8 452.5h0.9M189.2 442.7h0.9M185.5 443.4h0.9M187.7 453.2h0.9M186.8 443.1h0.9M172.4 455.3h0.9M192.9 445.4h0.9M186.2 440.2h0.9M183.8 448.1h0.9M177.8 448.7h0.9M184.2 444.8h0.9M183.5 447.1h0.9M179.1 446.2h0.9M181.1 444.3h0.9M189.6 446.0h0.9M176.6 448.0h0.9M186.5 446.7h0.9M192.5 448.8h0.9M187.4 446.1h0.9M188.6 446.1h0.9M180.4 446.8h0.9M188.2 449.5h0.9M185.4 443.5h0.9M177.3 454.8h0.9M179.8 453.3h0.9M177.3 444.4h0.9M180.5 452.7h0.9M180.4 444.5h0.9M180.3 445.9h0.9M189.8 444.7h0.9M184.2 443.2h0.9M182.4 442.1h0.9M183.2 441.7h0.9M178.5 449.7h0.9M181.8 449.9h0.9M181.9 446.4h0.9M179.5 456.2h0.9M187.2 443.8h0.9M187.2 441.8h0.9M186.3 447.4h0.9M188.0 447.8h0.9M177.9 452.2h0.9M196.7 442.3h0.9M190.9 443.2h0.9M193.3 442.7h0.9M179.1 452.6h0.9M182.0 446.2h0.9M179.9 448.9h0.9M195.6 439.3h0.9M182.8 438.2h0.9M180.1 449.5h0.9M181.8 447.5h0.9M180.4 450.4h0.9M187.5 444.7h0.9M172.3 450.4h0.9M182.5 440.9h0.9M179.1 448.9h0.9M178.0 448.0h0.9M178.9 445.6h0.9M188.0 452.3h0.9M177.1 449.0h0.9M185.9 442.0h0.9M187.2 446.6h0.9M184.4 446.5h0.9M182.2 444.4h0.9M179.7 450.9h0.9M190.7 443.1h0.9M187.5 446.7h0.9M182.0 443.6h0.9M191.8 441.8h0.9M178.2 445.3h0.9M174.7 453.7h0.9M183.5 438.7h0.9M189.3 444.0h0.9M183.6 447.4h0.9M179.8 451.2h0.9M188.3 450.4h0.9M188.4 443.7h0.9M178.1 456.3h0.9M177.6 445.2h0.9M188.1 448.4h0.9M184.1 453.0h0.9M181.9 454.6h0.9M191.7 439.4h0.9M189.6 441.7h0.9M178.5 447.0h0.9M187.5 447.4h0.9M175.7 452.6h0.9M178.2 451.8h0.9M187.8 442.6h0.9M185.0 447.3h0.9M186.4 449.0h0.9M185.1 440.5h0.9M183.4 453.1h0.9M186.8 451.5h0.9M194.0 440.9h0.9M185.7 445.3h0.9M182.6 450.7h0.9M175.1 445.5h0.9M182.4 444.1h0.9M191.9 443.0h0.9M181.9 449.8h0.9M187.4 448.5h0.9M189.1 444.6h0.9M178.8 447.8h0.9M192.6 444.8h0.9M183.2 448.2h0.9M185.2 443.4h0.9M184.8 449.9h0.9M179.3 446.8h0.9M192.9 440.6h0.9M175.5 443.3h0.9M190.9 445.3h0.9M179.0 453.7h0.9M196.7 434.2h0.9M180.1 452.4h0.9M184.2 451.7h0.9M188.7 448.1h0.9M181.7 446.4h0.9M180.9 445.4h0.9M179.2 445.8h0.9M181.5 450.9h0.9M175.9 451.1h0.9M187.3 444.9h0.9M190.0 440.7h0.9M188.4 450.3h0.9M182.4 446.8h0.9M175.3 447.2h0.9M183.0 442.2h0.9M174.5 446.5h0.9M190.6 442.3h0.9M179.4 444.0h0.9M179.3 450.9h0.9M189.7 443.6h0.9M181.7 452.8h0.9M179.2 445.5h0.9M199.4 440.7h0.9M176.6 449.5h0.9M183.7 448.8h0.9M180.8 444.1h0.9M189.1 446.6h0.9M188.5 448.7h0.9M193.1 448.8h0.9M180.1 446.2h0.9M191.7 440.1h0.9M174.2 454.2h0.9M187.5 442.4h0.9M186.8 447.4h0.9M174.9 454.8h0.9M185.8 448.4h0.9M178.9 449.0h0.9M181.9 447.8h0.9M190.5 445.5h0.9M190.9 446.8h0.9M187.7 443.2h0.9M185.2 443.6h0.9M187.9 451.0h0.9M192.1 441.0h0.9M184.8 446.3h0.9M186.3 446.4h0.9M179.1 454.7h0.9M191.9 439.6h0.9M175.6 446.5h0.9M187.2 449.1h0.9M181.1 451.4h0.9M188.4 441.4h0.9M183.0 448.6h0.9M180.1 449.2h0.9M177.1 448.2h0.9M181.8 445.0h0.9M191.4 441.1h0.9M193.6 452.3h0.9M178.7 449.5h0.9M177.6 447.2h0.9M182.5 448.7h0.9M172.0 452.3h0.9M179.1 445.4h0.9M186.6 445.6h0.9M188.8 444.9h0.9M179.8 450.0h0.9M180.8 445.0h0.9M182.2 452.3h0.9M189.3 440.3h0.9M181.8 448.0h0.9M172.8 448.1h0.9M184.9 454.6h0.9M182.4 446.2h0.9M186.8 444.3h0.9M185.4 446.7h0.9M183.9 448.0h0.9M196.5 438.7h0.9M188.2 452.1h0.9M182.7 445.7h0.9M190.2 448.9h0.9M180.8 443.1h0.9M183.3 448.3h0.9M187.1 445.4h0.9M182.3 450.6h0.9M174.8 452.3h0.9M185.8 443.6h0.9M179.3 448.5h0.9M181.4 454.9h0.9M189.4 448.4h0.9M177.4 452.6h0.9M179.6 444.1h0.9M185.6 438.1h0.9M187.7 450.9h0.9M176.9 450.6h0.9M176.2 450.5h0.9M188.2 442.1h0.9M173.3 449.7h0.9M190.9 438.6h0.9M197.4 441.4h0.9M181.8 445.3h0.9M186.5 439.8h0.9M184.3 449.4h0.9M184.1 449.7h0.9M185.0 447.7h0.9M189.1 446.4h0.9M190.0 446.1h0.9M188.1 439.8h0.9M184.2 447.8h0.9M184.9 444.7h0.9M177.5 448.6h0.9M176.5 456.4h0.9M177.5 450.5h0.9M183.7 456.2h0.9M190.5 445.0h0.9M181.7 447.3h0.9M184.7 444.3h0.9M176.8 450.5h0.9M187.6 441.9h0.9M194.0 446.1h0.9M192.6 446.9h0.9M177.8 450.3h0.9M193.8 436.1h0.9M183.1 447.3h0.9M191.7 446.7h0.9M183.2 449.8h0.9M189.1 441.6h0.9M183.4 442.8h0.9M184.3 450.3h0.9M191.8 448.9h0.9M185.4 446.2h0.9M175.4 451.9h0.9M177.2 446.3h0.9M186.3 442.1h0.9M189.0 443.8h0.9M188.6 441.7h0.9M185.0 442.3h0.9M197.0 445.0h0.9M184.2 452.5h0.9M176.4 449.3h0.9M179.4 450.8h0.9M179.4 446.3h0.9M192.0 441.4h0.9M181.4 450.9h0.9M185.8 452.0h0.9M177.4 450.6h0.9M184.9 445.8h0.9M187.0 447.9h0.9M185.2 450.1h0.9M188.7 451.6h0.9M186.2 444.7h0.9M181.6 448.0h0.9M189.1 443.5h0.9M191.7 437.4h0.9M184.9 447.2h0.9M179.8 453.8h0.9M184.8 446.0h0.9M182.9 441.4h0.9M185.4 444.6h0.9M184.7 450.7h0.9M181.8 448.8h0.9M186.4 442.8h0.9M179.0 450.7h0.9M190.3 448.3h0.9M185.3 451.7h0.9M178.5 446.2h0.9M182.1 440.0h0.9M177.2 448.0h0.9M186.0 451.8h0.9M184.6 445.8h0.9M180.6 444.7h0.9M181.2 446.1h0.9M184.9 448.4h0.9M184.1 442.9h0.9M189.3 439.1h0.9M177.7 456.1h0.9M180.6 444.7h0.9M174.2 452.9h0.9M176.6 448.8h0.9M189.7 444.3h0.9M189.6 440.5h0.9M180.7 443.6h0.9M195.0 440.2h0.9M184.8 445.2h0.9M188.9 445.3h0.9M180.9 444.5h0.9M181.1 443.8h0.9M182.5 441.5h0.9M193.5 445.1h0.9M188.0 445.3h0.9M179.5 446.6h0.9M188.5 442.0h0.9M186.8 439.0h0.9M184.8 444.1h0.9M183.9 441.3h0.9M179.8 449.9h0.9M179.0 452.3h0.9M186.5 446.7h0.9M180.7 450.0h0.9M186.2 437.7h0.9M186.0 448.4h0.9M186.2 447.9h0.9M184.6 444.0h0.9M195.2 442.5h0.9M184.9 449.5h0.9M191.2 445.9h0.9M187.5 437.8h0.9M173.6 449.5h0.9M195.5 439.1h0.9M180.3 441.6h0.9M183.2 447.8h0.9M178.4 448.1h0.9M192.1 444.6h0.9M187.4 442.8h0.9M192.2 442.0h0.9M179.9 448.7h0.9M186.9 446.0h0.9M178.3 448.2h0.9M178.1 455.1h0.9M185.9 450.8h0.9M189.5 449.5h0.9M182.4 446.3h0.9M192.4 444.6h0.9M191.8 435.9h0.9M188.0 442.7h0.9M196.5 432.9h0.9M191.9 439.9h0.9M188.1 441.8h0.9M196.6 440.8h0.9M204.2 429.5h0.9M188.6 443.9h0.9M198.1 442.3h0.9M186.6 441.8h0.9M192.9 441.3h0.9M199.2 437.6h0.9M187.9 450.1h0.9M192.8 442.0h0.9M193.1 445.1h0.9M184.4 448.3h0.9M194.7 438.3h0.9M189.5 428.9h0.9M188.4 447.2h0.9M199.6 447.9h0.9M197.0 438.4h0.9M210.1 428.9h0.9M192.5 441.2h0.9M193.5 443.8h0.9M198.1 435.5h0.9M195.4 440.4h0.9M184.2 449.6h0.9M182.7 451.5h0.9M195.6 440.3h0.9M189.8 435.4h0.9M193.7 435.5h0.9M192.1 443.1h0.9M182.2 441.4h0.9M199.2 436.7h0.9M194.9 438.2h0.9M199.1 433.9h0.9M195.0 444.6h0.9M189.0 437.9h0.9M189.9 444.4h0.9M192.6 433.2h0.9M181.0 450.3h0.9M188.5 440.1h0.9M195.1 448.0h0.9M184.5 455.3h0.9M193.4 445.9h0.9M181.1 439.7h0.9M185.8 447.7h0.9M199.5 436.2h0.9M182.3 448.7h0.9M189.7 436.7h0.9M192.3 449.0h0.9M193.6 446.1h0.9M192.6 438.0h0.9M192.8 441.4h0.9M189.8 450.1h0.9M191.3 435.2h0.9M191.6 430.0h0.9M192.7 451.7h0.9M192.1 440.3h0.9M193.0 450.3h0.9M204.7 441.8h0.9M193.7 436.2h0.9M200.2 436.0h0.9M198.6 438.1h0.9M193.8 433.8h0.9M197.0 446.7h0.9M202.4 449.0h0.9M201.9 437.6h0.9M187.7 439.9h0.9M196.5 435.9h0.9M188.2 440.9h0.9M194.6 441.6h0.9M187.7 442.5h0.9M185.9 439.7h0.9M185.8 451.2h0.9M198.0 445.8h0.9M206.2 438.3h0.9M190.7 444.7h0.9M190.7 435.8h0.9M191.9 444.3h0.9M199.9 436.0h0.9M197.0 437.8h0.9M191.7 445.0h0.9M189.6 447.4h0.9M194.0 440.5h0.9M197.0 437.6h0.9M197.2 442.2h0.9M181.9 444.0h0.9M203.3 435.0h0.9M199.7 440.5h0.9M187.2 443.2h0.9M196.2 435.8h0.9M198.7 436.4h0.9M192.0 441.2h0.9M189.1 445.6h0.9M186.9 451.3h0.9M198.5 439.7h0.9M183.5 453.5h0.9M197.3 438.2h0.9M191.2 439.4h0.9M199.9 437.5h0.9M189.6 433.6h0.9M197.5 440.4h0.9M189.6 445.7h0.9M204.0 443.2h0.9M197.4 439.9h0.9M196.0 437.9h0.9M185.7 448.7h0.9M182.7 449.2h0.9M186.7 441.0h0.9M182.5 447.2h0.9M189.0 446.4h0.9M179.6 441.6h0.9M191.6 441.6h0.9M209.3 437.7h0.9M194.7 444.4h0.9M192.5 443.4h0.9M194.0 436.6h0.9M190.6 436.9h0.9M194.3 446.4h0.9M181.9 444.9h0.9M190.0 440.8h0.9M199.0 441.2h0.9M198.2 433.6h0.9M200.1 432.3h0.9M185.5 443.6h0.9M197.1 445.2h0.9M198.3 438.4h0.9M191.3 434.1h0.9M201.0 437.3h0.9M194.5 434.8h0.9M191.3 436.9h0.9M197.2 440.2h0.9M201.1 436.3h0.9M191.3 444.1h0.9M180.9 444.5h0.9M190.8 451.6h0.9M199.9 446.8h0.9M189.7 439.7h0.9M194.0 438.4h0.9M193.7 445.2h0.9M192.7 437.3h0.9M190.4 438.1h0.9M182.2 453.4h0.9M179.9 452.6h0.9M196.9 444.5h0.9M190.3 443.4h0.9M189.2 444.9h0.9M198.1 437.2h0.9M197.6 435.5h0.9M190.0 442.8h0.9M199.3 439.2h0.9M186.6 439.6h0.9M196.0 435.6h0.9M190.6 443.6h0.9M194.1 438.1h0.9M200.3 441.2h0.9M200.1 440.8h0.9M189.0 446.3h0.9M187.7 439.7h0.9M194.5 429.4h0.9M189.0 443.2h0.9M204.1 441.5h0.9M192.9 431.7h0.9M200.0 439.6h0.9M192.2 440.8h0.9M191.8 447.0h0.9M201.3 439.3h0.9M201.3 440.3h0.9M194.2 451.5h0.9M175.2 444.7h0.9M190.5 444.8h0.9M201.0 442.4h0.9M190.3 437.3h0.9M193.8 433.0h0.9M195.9 446.4h0.9M191.9 439.2h0.9M188.2 446.0h0.9M187.7 433.9h0.9M191.3 446.1h0.9M193.5 443.8h0.9M194.5 442.5h0.9M188.0 448.1h0.9M178.7 443.0h0.9M200.7 436.0h0.9M192.5 437.9h0.9M196.9 442.6h0.9M186.4 441.8h0.9M190.6 440.6h0.9M188.8 439.7h0.9M191.7 440.8h0.9M200.9 445.3h0.9M194.8 433.1h0.9M194.3 448.1h0.9M197.2 442.3h0.9M184.0 439.7h0.9M195.0 444.9h0.9M185.2 444.7h0.9M193.9 438.4h0.9M188.6 447.6h0.9M193.8 442.3h0.9M194.2 441.8h0.9M192.3 440.6h0.9M193.4 434.3h0.9M197.6 447.8h0.9M204.3 440.4h0.9M191.5 436.1h0.9M193.2 434.2h0.9M187.9 433.7h0.9M199.8 444.3h0.9M197.7 439.2h0.9M200.5 439.1h0.9M200.6 441.9h0.9M191.8 442.4h0.9M201.0 439.2h0.9M192.1 436.1h0.9M179.7 442.9h0.9M192.0 440.6h0.9M203.6 433.6h0.9M193.9 434.1h0.9M198.0 431.3h0.9M188.9 442.1h0.9M188.3 450.6h0.9M192.1 443.2h0.9M191.8 445.7h0.9M205.2 438.7h0.9M198.9 443.0h0.9M196.7 442.5h0.9M188.8 454.2h0.9M196.3 432.4h0.9M191.9 442.6h0.9M198.5 444.7h0.9M189.3 428.7h0.9M194.6 448.1h0.9M189.9 443.2h0.9M187.2 436.5h0.9M197.7 440.4h0.9M195.3 441.6h0.9M185.2 439.0h0.9M193.5 443.6h0.9M201.3 436.4h0.9M204.7 445.8h0.9M199.4 442.0h0.9M188.8 439.5h0.9M207.9 441.7h0.9M200.9 436.8h0.9M188.0 439.4h0.9M193.7 443.4h0.9M192.4 442.6h0.9M187.7 439.4h0.9M204.0 437.6h0.9M189.8 444.0h0.9M188.7 443.7h0.9M193.8 440.4h0.9M188.4 442.8h0.9M187.2 447.2h0.9M192.1 441.4h0.9M197.9 438.4h0.9M186.7 443.5h0.9M190.4 439.0h0.9M198.2 429.6h0.9M195.2 444.3h0.9M194.7 440.8h0.9M192.7 448.9h0.9M201.5 439.8h0.9M195.9 433.5h0.9M187.1 443.3h0.9M196.1 446.1h0.9M189.3 443.0h0.9M199.8 439.7h0.9M189.4 438.4h0.9M192.5 444.8h0.9M183.9 445.5h0.9M191.6 447.0h0.9M192.3 445.3h0.9M209.8 431.6h0.9M200.1 442.3h0.9M196.7 436.6h0.9M185.6 435.1h0.9M190.6 448.3h0.9M189.4 444.0h0.9M197.3 438.3h0.9M191.2 447.2h0.9M202.7 436.3h0.9M202.5 434.7h0.9M191.9 443.7h0.9M193.7 436.5h0.9M189.8 440.8h0.9M190.1 451.4h0.9M185.7 448.8h0.9M187.8 441.3h0.9M192.1 443.8h0.9M194.9 447.1h0.9M181.8 439.6h0.9M199.5 443.6h0.9M185.6 444.6h0.9M191.9 444.8h0.9M199.7 441.6h0.9M185.1 444.6h0.9M187.5 444.3h0.9M183.8 449.6h0.9M206.0 438.8h0.9M192.9 441.7h0.9M194.0 441.1h0.9M198.5 440.5h0.9M187.5 444.1h0.9M198.5 446.2h0.9M197.8 439.5h0.9M198.1 437.3h0.9M187.3 447.1h0.9M194.1 435.0h0.9M190.5 439.7h0.9M199.3 435.0h0.9M199.1 433.4h0.9M190.9 448.8h0.9M184.5 438.6h0.9M201.4 439.5h0.9M187.9 434.4h0.9M188.6 444.2h0.9M189.1 439.6h0.9M182.2 447.2h0.9M191.2 436.6h0.9M194.3 438.1h0.9M187.3 443.8h0.9M186.0 437.0h0.9M194.6 439.7h0.9M193.6 440.2h0.9M210.4 419.6h0.9M212.0 421.5h0.9M215.3 419.0h0.9M216.4 420.5h0.9M215.4 418.0h0.9M214.4 419.5h0.9M212.0 422.4h0.9M208.1 420.7h0.9M215.9 419.2h0.9M209.9 420.2h0.9M211.7 421.3h0.9M211.8 419.2h0.9M207.7 421.2h0.9M212.0 421.6h0.9M208.4 420.0h0.9M220.2 419.5h0.9M209.9 418.4h0.9M212.8 422.7h0.9M210.1 423.0h0.9M210.6 418.5h0.9M219.4 415.3h0.9M215.8 420.4h0.9M209.6 421.0h0.9M208.0 421.9h0.9M213.3 420.0h0.9M212.8 420.4h0.9M206.3 420.0h0.9M212.0 419.2h0.9M212.7 421.5h0.9M215.5 418.9h0.9M211.0 419.4h0.9M213.8 420.8h0.9M213.0 421.2h0.9M217.2 420.4h0.9M215.5 417.6h0.9M212.2 419.4h0.9M217.8 422.2h0.9M220.1 418.8h0.9M207.4 420.5h0.9M220.2 419.4h0.9M217.1 418.4h0.9M209.6 420.0h0.9M218.7 420.7h0.9M212.5 421.0h0.9M210.1 420.7h0.9M204.1 421.8h0.9M205.7 422.1h0.9M209.7 419.1h0.9M207.8 419.5h0.9M210.6 421.4h0.9M205.6 420.6h0.9M211.6 419.3h0.9M209.9 423.2h0.9M214.0 418.3h0.9M212.1 420.1h0.9M213.9 419.8h0.9M221.8 419.5h0.9M213.9 418.9h0.9M214.3 422.3h0.9M213.6 420.6h0.9M208.2 419.4h0.9M209.5 419.9h0.9M209.3 419.7h0.9M217.2 420.9h0.9M208.9 419.3h0.9M208.5 419.2h0.9M213.6 421.3h0.9M209.8 418.7h0.9M215.2 419.8h0.9M212.8 418.7h0.9M209.7 420.0h0.9M213.6 418.3h0.9M210.7 420.6h0.9M213.1 420.4h0.9M211.0 419.6h0.9M210.2 420.8h0.9M213.0 420.0h0.9M210.7 420.5h0.9M207.6 421.6h0.9M209.5 421.9h0.9M217.5 417.0h0.9M211.2 420.4h0.9M211.6 420.8h0.9M209.8 419.2h0.9M214.2 421.8h0.9M212.9 421.3h0.9M214.5 421.0h0.9M213.3 421.1h0.9M211.3 419.8h0.9M214.8 421.8h0.9M210.1 421.5h0.9M205.6 420.5h0.9M211.2 420.7h0.9M208.8 418.2h0.9M209.0 424.0h0.9M210.7 420.0h0.9M208.0 420.8h0.9M203.4 421.3h0.9M212.4 421.5h0.9M208.0 422.0h0.9M209.9 419.1h0.9M212.5 421.0h0.9M210.1 419.4h0.9M209.6 421.6h0.9M214.9 420.0h0.9M217.0 420.1h0.9M210.8 419.8h0.9M212.7 420.1h0.9M208.5 421.4h0.9M209.2 421.2h0.9M216.9 421.0h0.9M213.7 419.5h0.9M206.0 419.4h0.9M212.8 419.7h0.9M212.6 418.9h0.9M213.5 421.0h0.9M209.7 421.6h0.9M209.2 421.6h0.9M212.8 418.9h0.9M211.1 419.0h0.9M216.2 419.0h0.9M206.1 424.2h0.9M216.0 419.3h0.9M206.8 421.7h0.9M212.9 420.2h0.9M207.2 420.8h0.9M206.5 421.1h0.9M214.3 419.7h0.9M209.7 419.6h0.9M219.3 420.0h0.9M212.7 422.1h0.9M215.2 422.1h0.9M211.1 419.2h0.9M214.6 424.3h0.9M209.2 423.7h0.9M211.1 422.3h0.9M220.3 418.0h0.9M208.3 421.0h0.9M212.1 419.0h0.9M217.2 418.9h0.9M207.6 424.8h0.9M206.3 422.3h0.9M215.1 421.8h0.9M216.8 418.8h0.9M212.2 419.2h0.9M209.2 419.2h0.9M212.4 421.0h0.9M209.3 423.3h0.9M210.7 419.7h0.9M210.5 421.0h0.9M218.2 416.0h0.9M206.7 419.1h0.9M211.9 420.3h0.9M208.9 420.9h0.9M213.1 419.6h0.9M209.9 421.2h0.9M214.3 418.1h0.9M210.3 419.7h0.9M214.8 419.6h0.9M208.5 420.6h0.9M212.4 421.7h0.9M212.2 420.3h0.9M209.2 418.4h0.9M213.3 421.3h0.9M216.6 420.3h0.9M208.3 422.2h0.9M216.2 421.5h0.9M213.2 419.6h0.9M209.8 419.5h0.9M215.9 420.0h0.9M211.9 419.4h0.9M212.1 418.5h0.9M214.9 419.9h0.9M212.9 420.7h0.9M214.6 421.0h0.9M212.0 421.9h0.9M221.0 419.1h0.9M212.2 419.7h0.9M205.5 418.9h0.9M205.7 420.0h0.9M210.5 419.4h0.9M214.4 419.7h0.9M215.9 420.4h0.9M213.0 420.6h0.9M209.6 421.9h0.9M213.2 417.9h0.9M208.9 421.2h0.9M209.4 420.0h0.9M204.4 420.7h0.9M209.3 421.8h0.9M212.9 419.9h0.9M213.0 418.6h0.9M206.6 419.3h0.9M213.8 416.9h0.9M217.2 419.1h0.9M204.6 420.6h0.9M217.7 418.7h0.9M211.9 421.9h0.9M212.4 422.2h0.9M209.1 421.1h0.9M213.7 421.0h0.9M211.8 420.3h0.9M213.0 419.4h0.9M213.9 420.5h0.9M212.7 421.1h0.9M207.5 421.4h0.9M212.2 423.0h0.9M214.9 419.6h0.9M206.2 422.2h0.9M208.9 423.6h0.9M195.1 436.6h0.9M188.1 432.0h0.9M205.9 418.4h0.9M203.0 423.9h0.9M213.8 427.0h0.9M214.4 425.2h0.9M211.4 440.1h0.9M208.6 437.0h0.9M213.8 418.2h0.9M210.2 427.4h0.9M207.1 423.8h0.9M201.0 430.0h0.9M206.8 436.1h0.9M200.4 444.7h0.9M200.9 420.8h0.9M204.3 434.1h0.9M211.1 424.4h0.9M206.0 428.3h0.9M197.6 445.7h0.9M205.6 428.2h0.9M207.6 435.6h0.9M206.1 430.3h0.9M200.6 435.4h0.9M198.6 421.8h0.9M212.6 427.8h0.9M213.3 431.4h0.9M196.1 443.6h0.9M211.1 418.6h0.9M199.9 431.9h0.9M195.4 440.4h0.9M204.1 438.7h0.9M205.3 434.5h0.9M210.2 432.6h0.9M204.8 426.7h0.9M206.2 424.1h0.9M204.3 423.3h0.9M206.9 420.5h0.9M214.4 428.8h0.9M198.5 426.4h0.9M199.2 430.3h0.9M205.1 420.5h0.9M200.9 432.0h0.9M201.8 428.4h0.9M195.8 439.2h0.9M210.1 424.5h0.9M204.6 420.5h0.9M206.6 430.6h0.9M205.9 436.5h0.9M203.1 432.6h0.9M211.3 427.7h0.9M201.5 433.4h0.9M199.3 426.8h0.9M199.9 425.2h0.9M213.6 438.2h0.9M207.4 434.5h0.9M207.6 432.9h0.9M209.7 426.6h0.9M196.0 424.8h0.9M204.6 433.0h0.9M200.5 429.1h0.9M205.6 428.7h0.9M212.0 426.4h0.9M205.3 423.8h0.9M207.6 430.1h0.9M200.2 426.9h0.9M186.8 437.7h0.9M197.0 431.2h0.9M205.6 426.0h0.9M208.6 429.1h0.9M212.0 422.1h0.9M209.1 426.7h0.9M199.4 427.9h0.9M200.1 434.6h0.9M205.9 439.1h0.9M209.1 425.2h0.9M196.1 438.8h0.9M212.0 415.4h0.9M202.3 429.8h0.9M202.5 430.5h0.9M203.3 429.9h0.9M199.5 429.3h0.9M204.6 441.2h0.9M198.9 440.1h0.9M203.2 427.5h0.9M213.3 431.3h0.9M195.1 435.2h0.9M210.8 419.5h0.9M200.5 427.1h0.9M209.0 418.9h0.9M206.5 429.9h0.9M203.4 433.9h0.9M197.7 434.4h0.9M210.3 426.0h0.9M206.0 424.0h0.9M204.1 430.7h0.9M214.0 425.4h0.9M202.7 434.5h0.9M199.1 431.6h0.9M208.3 428.0h0.9M213.5 432.8h0.9M197.2 421.5h0.9M212.5 428.7h0.9M210.8 427.9h0.9M205.1 424.8h0.9M191.8 430.5h0.9M199.5 437.8h0.9M205.7 424.6h0.9M206.6 429.9h0.9M207.1 424.9h0.9M199.3 427.7h0.9M213.8 424.5h0.9M206.1 435.2h0.9M198.3 434.9h0.9M213.8 430.1h0.9M202.4 429.9h0.9M198.9 429.7h0.9M207.6 427.2h0.9M208.9 423.1h0.9M207.7 422.6h0.9M198.4 426.0h0.9M200.1 431.7h0.9M205.8 434.1h0.9M194.6 432.0h0.9M207.2 419.8h0.9M193.2 436.8h0.9M203.1 427.3h0.9M203.8 426.5h0.9M203.1 424.0h0.9M207.0 430.8h0.9M193.2 439.1h0.9M196.6 441.6h0.9M204.9 430.3h0.9M195.2 427.5h0.9M193.9 432.4h0.9M203.6 431.6h0.9M203.3 427.9h0.9M194.7 436.3h0.9M203.9 430.7h0.9M205.1 430.1h0.9M212.6 427.6h0.9M199.3 431.7h0.9M200.6 427.7h0.9M192.0 444.0h0.9M199.0 423.6h0.9M212.4 428.1h0.9M212.3 427.6h0.9M207.2 429.6h0.9M195.3 433.6h0.9M208.2 428.2h0.9M203.1 436.3h0.9M199.0 413.0h0.9M196.5 420.3h0.9M196.9 427.5h0.9M197.1 423.8h0.9M209.8 418.8h0.9M210.6 420.4h0.9M201.5 411.2h0.9M203.9 419.4h0.9M204.1 417.8h0.9M209.4 423.7h0.9M196.4 425.4h0.9M210.0 415.9h0.9M197.7 416.4h0.9M215.7 415.0h0.9M199.5 425.8h0.9M209.8 421.8h0.9M187.6 413.8h0.9M193.4 422.4h0.9M217.8 422.4h0.9M214.0 434.5h0.9M206.6 421.4h0.9M201.6 423.7h0.9M202.6 415.9h0.9M197.7 414.9h0.9M206.3 427.1h0.9M214.8 418.9h0.9M207.2 411.0h0.9M193.0 426.4h0.9M213.3 414.8h0.9M192.4 422.3h0.9M198.6 419.2h0.9M190.9 419.6h0.9M196.3 417.1h0.9M192.4 423.3h0.9M201.2 415.8h0.9M200.8 418.8h0.9M211.2 443.1h0.9M209.5 444.4h0.9M215.3 437.9h0.9M211.1 444.4h0.9M209.7 440.8h0.9M218.3 441.7h0.9M213.4 443.3h0.9M216.1 441.3h0.9M206.9 449.8h0.9M210.1 441.8h0.9M219.1 446.4h0.9M208.4 446.3h0.9M216.8 438.6h0.9M209.8 436.8h0.9M213.0 442.5h0.9M211.7 436.9h0.9M217.7 431.0h0.9M213.8 439.6h0.9M212.6 444.2h0.9M211.1 437.1h0.9M209.7 441.5h0.9M204.3 436.9h0.9M218.5 440.0h0.9M213.1 439.0h0.9M212.4 441.1h0.9M218.0 428.5h0.9M218.2 438.4h0.9M209.9 446.2h0.9M218.2 441.0h0.9M215.5 442.6h0.9" stroke="#000" stroke-width="0.9" fill="none" filter="url(#b2)"/>
<ellipse cx="183.2" cy="447" rx="4.9" ry="2.0" transform="rotate(-33 183.2 447)" fill="#fff"/>
</g>
<rect x="170.1" y="409.6" width="59.099999999999994" height="48.099999999999966" fill="none" stroke="#111" stroke-width="1"/>
<line x1="198.9" y1="409.6" x2="198.9" y2="457.7" stroke="#000" stroke-width="1.1" />
<line x1="170.1" y1="434.7" x2="229.2" y2="434.7" stroke="#000" stroke-width="1.1" />
<text x="202.8" y="408" font-size="8.4" text-anchor="middle" font-weight="normal" fill="#111" >UT</text>
<text x="186.375" y="463.9" font-size="4.6" text-anchor="middle" fill="#333">10<tspan dy="-1.6" font-size="3.4">1</tspan></text>
<text x="201.14999999999998" y="463.9" font-size="4.6" text-anchor="middle" fill="#333">10<tspan dy="-1.6" font-size="3.4">2</tspan></text>
<text x="215.92499999999998" y="463.9" font-size="4.6" text-anchor="middle" fill="#333">10<tspan dy="-1.6" font-size="3.4">3</tspan></text>
<text x="230.7" y="463.9" font-size="4.6" text-anchor="middle" fill="#333">10<tspan dy="-1.6" font-size="3.4">4</tspan></text>
<text transform="translate(168.7,445.58181818181816) rotate(-90)" font-size="4.6" text-anchor="middle" fill="#333">10<tspan dy="-1.6" font-size="3.4">1</tspan></text>
<text transform="translate(168.7,431.0060606060606) rotate(-90)" font-size="4.6" text-anchor="middle" fill="#333">10<tspan dy="-1.6" font-size="3.4">2</tspan></text>
<text transform="translate(168.7,416.43030303030304) rotate(-90)" font-size="4.6" text-anchor="middle" fill="#333">10<tspan dy="-1.6" font-size="3.4">3</tspan></text>
<clipPath id="c239_409"><rect x="239.3" y="409.6" width="58.69999999999999" height="48.099999999999966"/></clipPath>
<g clip-path="url(#c239_409)">
<ellipse cx="252.2" cy="447.6" rx="8" ry="4.5" transform="rotate(-33 252.2 447.6)" fill="#000" opacity="0.95" filter="url(#bl)"/>
<ellipse cx="280.6" cy="418.7" rx="4.8" ry="1.0" transform="rotate(-6 280.6 418.7)" fill="#000" opacity="0.7" filter="url(#bl)"/>
<path d="M245.3 449.8h0.9M261.3 448.2h0.9M253.6 447.2h0.9M241.6 447.8h0.9M249.1 447.6h0.9M249.3 442.2h0.9M248.6 451.5h0.9M252.7 444.6h0.9M250.5 444.4h0.9M257.6 442.6h0.9M247.3 454.5h0.9M245.2 454.1h0.9M254.2 440.1h0.9M252.0 444.4h0.9M251.1 449.5h0.9M259.2 449.5h0.9M253.1 450.5h0.9M252.8 445.0h0.9M251.1 443.1h0.9M250.8 443.7h0.9M257.3 452.2h0.9M254.0 449.9h0.9M254.9 455.2h0.9M251.9 449.2h0.9M247.3 451.7h0.9M256.5 444.6h0.9M257.5 447.7h0.9M262.8 444.3h0.9M246.0 450.9h0.9M253.2 442.0h0.9M254.6 442.4h0.9M244.4 452.0h0.9M253.3 455.3h0.9M262.1 445.8h0.9M254.3 443.0h0.9M252.7 451.2h0.9M259.2 443.1h0.9M253.1 446.6h0.9M253.1 444.7h0.9M251.7 444.2h0.9M254.7 451.3h0.9M247.5 448.5h0.9M247.6 449.8h0.9M257.5 446.8h0.9M254.6 451.0h0.9M245.4 450.2h0.9M255.6 449.8h0.9M251.6 450.8h0.9M252.0 450.3h0.9M246.0 443.0h0.9M252.3 452.7h0.9M248.3 445.5h0.9M250.3 446.4h0.9M251.6 449.7h0.9M259.3 442.0h0.9M248.4 447.4h0.9M248.1 456.1h0.9M251.8 449.6h0.9M255.1 450.6h0.9M255.0 446.6h0.9M250.7 447.4h0.9M248.9 445.8h0.9M247.6 449.5h0.9M255.7 454.2h0.9M248.4 452.1h0.9M257.0 449.6h0.9M250.5 450.7h0.9M246.2 453.7h0.9M255.6 441.9h0.9M248.6 453.0h0.9M252.6 455.7h0.9M265.0 442.3h0.9M254.9 447.9h0.9M253.6 452.7h0.9M247.4 451.5h0.9M247.8 448.0h0.9M249.0 448.3h0.9M257.1 449.2h0.9M258.8 444.2h0.9M265.7 441.1h0.9M256.3 442.3h0.9M247.6 456.8h0.9M243.6 450.1h0.9M250.8 445.0h0.9M245.6 449.1h0.9M251.2 446.1h0.9M255.3 445.3h0.9M261.7 447.0h0.9M248.7 446.0h0.9M245.9 449.0h0.9M252.1 446.7h0.9M257.9 448.6h0.9M255.1 443.1h0.9M248.6 454.2h0.9M243.8 452.0h0.9M254.2 436.7h0.9M260.5 444.2h0.9M242.3 450.0h0.9M256.2 444.9h0.9M247.6 455.4h0.9M248.5 444.3h0.9M261.7 445.2h0.9M243.7 453.7h0.9M257.8 447.0h0.9M251.3 444.8h0.9M240.7 448.1h0.9M259.4 442.8h0.9M252.8 445.2h0.9M247.5 447.9h0.9M254.1 449.4h0.9M252.4 448.7h0.9M248.7 447.2h0.9M254.7 442.5h0.9M248.9 447.3h0.9M248.0 443.9h0.9M245.1 448.3h0.9M252.7 454.1h0.9M258.4 448.8h0.9M248.1 450.6h0.9M254.7 446.6h0.9M253.9 445.5h0.9M241.9 449.6h0.9M260.6 444.5h0.9M256.4 446.1h0.9M248.7 451.1h0.9M243.7 455.7h0.9M253.9 442.7h0.9M254.3 445.4h0.9M247.4 447.1h0.9M261.3 440.5h0.9M260.9 441.6h0.9M249.6 445.9h0.9M253.4 447.8h0.9M249.4 449.0h0.9M255.1 452.0h0.9M251.8 441.4h0.9M253.4 445.1h0.9M253.5 443.4h0.9M256.8 446.0h0.9M245.9 450.0h0.9M255.5 447.6h0.9M250.2 447.1h0.9M261.3 444.1h0.9M247.8 450.6h0.9M249.3 451.5h0.9M245.6 447.4h0.9M254.3 445.6h0.9M254.7 433.8h0.9M253.9 443.3h0.9M246.6 449.1h0.9M252.0 453.5h0.9M255.4 447.8h0.9M260.1 443.5h0.9M252.6 450.7h0.9M251.8 448.3h0.9M256.9 447.5h0.9M250.7 452.7h0.9M249.7 450.8h0.9M252.8 449.8h0.9M258.2 446.6h0.9M253.9 447.1h0.9M254.1 446.1h0.9M250.3 448.9h0.9M250.1 449.6h0.9M256.6 441.6h0.9M260.6 445.4h0.9M257.6 442.5h0.9M256.1 446.2h0.9M262.6 444.3h0.9M256.0 450.3h0.9M250.3 447.4h0.9M253.2 446.0h0.9M260.7 446.1h0.9M242.1 450.3h0.9M245.5 453.2h0.9M262.6 438.1h0.9M250.1 445.4h0.9M247.0 448.2h0.9M251.6 450.6h0.9M248.6 452.2h0.9M250.5 441.9h0.9M255.5 442.0h0.9M248.8 443.4h0.9M249.4 444.0h0.9M245.3 449.8h0.9M247.8 451.7h0.9M254.7 453.0h0.9M254.2 446.1h0.9M244.2 453.3h0.9M254.6 452.1h0.9M247.4 446.9h0.9M250.7 449.4h0.9M252.2 448.4h0.9M247.3 451.4h0.9M242.5 453.4h0.9M253.2 452.1h0.9M244.6 451.8h0.9M251.3 450.6h0.9M249.3 448.7h0.9M258.2 445.4h0.9M244.5 456.0h0.9M247.0 449.4h0.9M257.2 443.0h0.9M246.6 447.7h0.9M252.3 452.1h0.9M247.9 442.7h0.9M253.5 449.5h0.9M257.4 447.2h0.9M256.8 442.0h0.9M246.7 452.8h0.9M252.0 450.8h0.9M254.6 447.0h0.9M260.3 441.4h0.9M255.4 441.9h0.9M253.2 443.9h0.9M247.3 447.1h0.9M255.4 441.6h0.9M250.7 450.7h0.9M258.2 444.0h0.9M264.0 438.0h0.9M245.7 449.5h0.9M256.9 451.7h0.9M253.3 455.2h0.9M267.3 442.2h0.9M248.9 451.0h0.9M246.4 446.8h0.9M253.6 452.1h0.9M255.6 444.2h0.9M243.9 449.5h0.9M247.4 454.2h0.9M260.5 444.2h0.9M254.1 449.6h0.9M254.5 453.9h0.9M252.3 450.6h0.9M257.7 445.7h0.9M249.1 451.5h0.9M242.4 452.5h0.9M245.9 456.4h0.9M254.2 447.6h0.9M264.8 444.8h0.9M251.0 441.7h0.9M251.5 453.0h0.9M254.2 439.4h0.9M247.2 447.8h0.9M255.5 445.1h0.9M256.9 445.6h0.9M256.1 446.1h0.9M253.5 450.9h0.9M252.4 447.9h0.9M249.3 452.3h0.9M248.1 445.0h0.9M253.6 444.2h0.9M257.7 441.5h0.9M258.2 438.5h0.9M256.2 445.5h0.9M253.3 447.3h0.9M251.5 453.9h0.9M256.8 449.7h0.9M252.9 440.7h0.9M254.6 449.6h0.9M248.3 447.9h0.9M252.8 448.9h0.9M255.8 449.7h0.9M246.8 449.7h0.9M247.9 448.2h0.9M250.0 448.8h0.9M249.5 444.6h0.9M251.0 448.2h0.9M246.7 450.7h0.9M251.2 447.2h0.9M241.5 452.3h0.9M252.3 446.5h0.9M252.7 443.6h0.9M248.6 452.0h0.9M256.2 450.6h0.9M266.7 445.8h0.9M255.9 447.1h0.9M253.0 441.5h0.9M262.9 443.4h0.9M254.1 449.3h0.9M245.6 451.5h0.9M251.6 452.7h0.9M251.9 450.1h0.9M246.6 450.6h0.9M254.4 444.8h0.9M250.7 452.0h0.9M240.1 452.9h0.9M258.7 446.7h0.9M247.8 455.0h0.9M259.7 443.6h0.9M250.2 448.7h0.9M253.1 448.3h0.9M250.5 446.4h0.9M259.0 447.4h0.9M251.9 448.1h0.9M249.3 440.7h0.9M254.5 443.4h0.9M251.0 446.4h0.9M256.3 440.5h0.9M248.2 449.6h0.9M256.0 449.2h0.9M251.6 449.8h0.9M256.7 444.6h0.9M261.3 439.8h0.9M249.9 448.2h0.9M254.3 449.3h0.9M256.6 449.9h0.9M254.2 448.1h0.9M254.1 449.0h0.9M262.0 443.7h0.9M256.2 444.8h0.9M259.3 445.6h0.9M245.1 449.7h0.9M256.5 442.5h0.9M259.5 442.8h0.9M247.3 449.0h0.9M244.6 453.7h0.9M253.1 442.0h0.9M250.9 449.3h0.9M246.1 452.2h0.9M249.1 449.7h0.9M248.1 448.7h0.9M253.1 449.6h0.9M254.4 444.3h0.9M251.5 448.8h0.9M255.6 443.6h0.9M248.4 442.9h0.9M252.3 452.4h0.9M249.0 449.0h0.9M240.8 448.1h0.9M258.5 447.1h0.9M256.4 449.6h0.9M252.7 448.2h0.9M263.1 447.4h0.9M253.2 454.0h0.9M250.6 449.9h0.9M250.7 444.8h0.9M249.0 451.8h0.9M259.5 442.8h0.9M247.7 450.5h0.9M248.6 453.2h0.9M252.4 453.1h0.9M261.9 442.9h0.9M254.0 447.4h0.9M253.3 449.9h0.9M255.3 447.3h0.9M246.8 447.8h0.9M259.1 441.6h0.9M255.5 446.7h0.9M251.8 445.3h0.9M250.4 444.0h0.9M259.0 442.4h0.9M255.0 449.0h0.9M251.4 450.6h0.9M252.3 450.9h0.9M253.8 445.5h0.9M249.0 443.8h0.9M253.8 446.9h0.9M254.4 448.4h0.9M257.7 447.5h0.9M248.9 442.5h0.9M255.6 449.3h0.9M245.1 448.1h0.9M240.6 449.2h0.9M259.7 444.5h0.9M254.5 447.9h0.9M247.2 449.4h0.9M248.1 448.1h0.9M255.1 448.1h0.9M252.8 447.1h0.9M252.0 448.6h0.9M259.6 445.5h0.9M251.5 444.4h0.9M255.1 447.3h0.9M247.4 451.8h0.9M243.7 454.8h0.9M250.2 444.2h0.9M253.8 442.9h0.9M254.3 445.4h0.9M245.7 454.0h0.9M251.5 448.5h0.9M249.0 455.3h0.9M253.8 447.6h0.9M252.9 448.1h0.9M253.2 451.2h0.9M256.0 443.8h0.9M249.5 443.2h0.9M247.6 447.7h0.9M252.1 447.6h0.9M256.7 444.8h0.9M254.3 450.6h0.9M253.2 445.6h0.9M252.3 451.8h0.9M256.9 444.1h0.9M258.2 444.0h0.9M266.9 442.5h0.9M255.7 444.9h0.9M254.0 447.3h0.9M253.8 443.6h0.9M254.6 449.8h0.9M255.5 441.9h0.9M246.4 450.6h0.9M258.8 441.1h0.9M249.6 448.4h0.9M256.0 449.2h0.9M251.7 449.2h0.9M248.7 445.2h0.9M245.5 455.7h0.9M246.9 446.6h0.9M252.5 448.4h0.9M248.8 444.2h0.9M261.5 440.8h0.9M248.2 451.2h0.9M242.5 450.6h0.9M249.7 445.3h0.9M250.9 451.2h0.9M241.6 453.6h0.9M261.1 449.6h0.9M247.5 451.1h0.9M254.4 439.5h0.9M260.0 441.6h0.9M246.8 454.1h0.9M254.9 445.9h0.9M248.7 450.2h0.9M249.5 441.4h0.9M250.0 447.1h0.9M252.7 444.7h0.9M246.7 445.9h0.9M258.2 442.0h0.9M249.0 453.6h0.9M251.7 448.4h0.9M248.4 450.6h0.9M245.2 452.9h0.9M245.5 451.0h0.9M252.7 452.5h0.9M250.6 449.4h0.9M257.6 441.7h0.9M249.1 446.8h0.9M250.8 445.7h0.9M249.9 448.2h0.9M249.3 446.2h0.9M258.3 438.0h0.9M259.5 443.5h0.9M260.6 443.2h0.9M253.8 449.8h0.9M259.6 448.6h0.9M250.9 446.1h0.9M246.2 449.9h0.9M247.7 451.7h0.9M251.8 442.9h0.9M264.1 443.5h0.9M245.5 454.6h0.9M253.7 447.1h0.9M247.5 453.8h0.9M253.4 446.8h0.9M264.2 444.1h0.9M244.0 440.6h0.9M244.7 448.7h0.9M249.7 448.9h0.9M259.3 445.1h0.9M251.1 448.3h0.9M249.8 443.1h0.9M260.4 444.7h0.9M261.1 447.3h0.9M250.3 451.5h0.9M249.1 449.1h0.9M255.2 449.0h0.9M255.4 448.0h0.9M254.5 445.2h0.9M248.5 453.4h0.9M257.3 444.7h0.9M254.4 447.5h0.9M259.2 441.5h0.9M248.7 449.2h0.9M247.8 452.0h0.9M252.4 451.3h0.9M246.5 447.6h0.9M248.5 451.0h0.9M244.4 448.3h0.9M246.6 448.7h0.9M254.6 444.2h0.9M253.6 454.6h0.9M248.5 451.0h0.9M247.3 455.1h0.9M254.0 446.6h0.9M256.7 443.2h0.9M258.2 442.9h0.9M251.4 447.6h0.9M255.1 442.4h0.9M256.4 446.7h0.9M245.8 448.3h0.9M259.2 446.8h0.9M254.2 449.9h0.9M249.4 442.0h0.9M251.4 449.7h0.9M252.9 448.9h0.9M256.9 450.3h0.9M257.3 447.1h0.9M248.6 441.2h0.9M258.1 443.2h0.9M251.0 446.8h0.9M251.5 436.2h0.9M259.6 437.7h0.9M246.2 446.4h0.9M251.4 447.6h0.9M251.3 449.6h0.9M254.9 445.3h0.9M256.9 446.5h0.9M248.9 451.3h0.9M250.6 447.4h0.9M261.1 441.4h0.9M247.1 442.0h0.9M259.8 439.5h0.9M260.2 448.9h0.9M250.8 448.7h0.9M255.7 452.4h0.9M250.9 442.1h0.9M258.8 442.4h0.9M255.0 445.8h0.9M241.2 452.9h0.9M259.4 448.1h0.9M262.5 438.2h0.9M252.6 442.2h0.9M248.0 450.8h0.9M243.7 449.8h0.9M251.1 440.2h0.9M256.8 446.2h0.9M243.2 454.8h0.9M250.9 448.7h0.9M250.5 450.0h0.9M254.2 448.6h0.9M248.9 450.7h0.9M253.8 450.2h0.9M245.5 452.6h0.9M250.5 444.3h0.9M249.8 449.4h0.9M252.5 449.7h0.9M249.2 456.7h0.9M245.3 456.1h0.9M248.9 451.8h0.9M242.9 452.8h0.9M256.2 449.6h0.9M249.6 451.0h0.9M253.5 442.7h0.9M254.2 444.0h0.9M257.5 441.9h0.9M252.6 445.5h0.9M256.9 444.1h0.9M258.3 445.7h0.9M247.1 451.2h0.9M251.8 440.7h0.9M253.2 450.8h0.9M245.2 455.5h0.9M251.5 449.7h0.9M254.0 446.4h0.9M245.4 443.2h0.9M250.1 450.1h0.9M247.4 453.2h0.9M256.6 451.1h0.9M252.1 450.6h0.9M251.8 445.9h0.9M250.4 445.5h0.9M249.3 448.4h0.9M250.5 454.7h0.9M247.9 451.6h0.9M251.8 441.4h0.9M253.4 444.7h0.9M245.5 446.0h0.9M249.5 450.0h0.9M260.3 439.2h0.9M264.0 442.2h0.9M256.4 449.4h0.9M255.3 448.0h0.9M258.0 442.1h0.9M244.7 454.0h0.9M248.5 449.9h0.9M259.4 447.4h0.9M250.2 446.6h0.9M248.7 451.5h0.9M247.4 447.1h0.9M258.0 448.1h0.9M255.0 440.1h0.9M250.3 447.8h0.9M254.2 443.9h0.9M263.0 440.3h0.9M250.6 448.0h0.9M255.0 452.5h0.9M256.2 444.1h0.9M249.8 452.4h0.9M244.5 452.1h0.9M253.6 446.3h0.9M257.6 445.2h0.9M246.7 451.1h0.9M257.8 439.2h0.9M249.3 442.8h0.9M248.8 452.0h0.9M247.2 443.6h0.9M254.3 449.7h0.9M257.7 451.3h0.9M255.2 449.3h0.9M248.4 449.2h0.9M252.8 449.2h0.9M253.7 449.4h0.9M258.2 442.6h0.9M251.6 443.0h0.9M264.0 445.5h0.9M255.1 450.2h0.9M256.5 447.0h0.9M249.6 450.4h0.9M259.7 446.4h0.9M254.7 447.1h0.9M250.7 448.3h0.9M261.8 443.0h0.9M252.9 445.9h0.9M245.5 453.1h0.9M254.5 444.9h0.9M254.6 449.8h0.9M249.8 447.3h0.9M247.4 447.5h0.9M251.8 442.2h0.9M244.8 452.7h0.9M246.7 455.4h0.9M260.9 439.5h0.9M256.0 449.1h0.9M251.8 446.3h0.9M262.3 448.5h0.9M254.0 450.8h0.9M260.5 436.6h0.9M253.2 448.2h0.9M256.9 438.7h0.9M248.9 446.5h0.9M253.6 446.0h0.9M241.9 446.9h0.9M253.8 450.6h0.9M243.4 448.0h0.9M252.3 444.2h0.9M255.4 450.7h0.9M252.8 450.2h0.9M246.9 450.6h0.9M248.4 449.0h0.9M254.0 448.4h0.9M248.6 451.0h0.9M255.8 441.5h0.9M259.8 445.9h0.9M247.8 449.8h0.9M251.3 446.0h0.9M256.9 449.9h0.9M251.1 443.0h0.9M252.1 448.0h0.9M255.4 451.4h0.9M255.2 444.3h0.9M257.5 446.3h0.9M250.8 452.5h0.9M251.8 448.1h0.9M256.9 448.2h0.9M250.8 452.9h0.9M248.6 447.0h0.9M256.7 444.7h0.9M257.2 442.9h0.9M249.2 447.3h0.9M247.5 453.4h0.9M253.5 446.9h0.9M249.8 450.5h0.9M248.5 453.0h0.9M264.7 437.4h0.9M255.2 441.4h0.9M243.7 450.5h0.9M251.2 453.5h0.9M249.6 449.0h0.9M255.9 441.4h0.9M251.2 443.9h0.9M242.9 454.2h0.9M251.4 439.4h0.9M251.9 448.9h0.9M255.4 446.5h0.9M248.6 451.7h0.9M249.7 440.3h0.9M252.3 449.4h0.9M245.9 453.6h0.9M249.4 449.1h0.9M255.9 446.9h0.9M256.7 447.6h0.9M249.1 448.6h0.9M249.3 447.1h0.9M257.5 446.6h0.9M261.7 439.1h0.9M251.5 452.6h0.9M251.7 448.0h0.9M255.1 444.7h0.9M258.1 449.4h0.9M249.7 449.6h0.9M256.5 445.5h0.9M255.3 449.4h0.9M258.0 443.8h0.9M246.5 452.5h0.9M251.0 448.0h0.9M264.0 444.5h0.9M261.0 446.6h0.9M253.9 450.8h0.9M250.3 445.0h0.9M259.4 439.9h0.9M250.4 445.9h0.9M245.4 452.8h0.9M252.5 455.3h0.9M253.2 451.9h0.9M259.8 446.2h0.9M258.7 444.5h0.9M256.6 442.7h0.9M260.7 445.6h0.9M245.9 451.3h0.9M262.0 436.9h0.9M251.1 444.6h0.9M252.1 447.1h0.9M258.0 442.8h0.9M251.7 447.7h0.9M256.1 440.5h0.9M259.2 441.5h0.9M246.3 448.5h0.9M252.4 450.6h0.9M253.2 449.8h0.9M246.2 451.4h0.9M246.5 448.2h0.9M256.2 449.7h0.9M254.0 445.1h0.9M245.5 449.2h0.9M251.1 449.6h0.9M259.6 450.9h0.9M248.7 447.5h0.9M252.0 442.7h0.9M255.2 445.6h0.9M258.4 444.3h0.9M260.7 451.7h0.9M243.6 449.4h0.9M257.0 442.8h0.9M260.5 448.7h0.9M257.0 449.6h0.9M251.3 451.3h0.9M259.1 446.2h0.9M256.0 442.6h0.9M253.6 445.4h0.9M258.1 443.1h0.9M255.2 443.9h0.9M241.2 447.9h0.9M255.3 446.0h0.9M257.2 447.9h0.9M253.7 451.1h0.9M250.1 445.2h0.9M247.9 454.3h0.9M256.2 447.5h0.9M266.8 441.5h0.9M258.1 443.8h0.9M253.1 443.3h0.9M259.9 437.8h0.9M256.1 445.6h0.9M255.1 442.8h0.9M253.8 449.9h0.9M250.5 454.1h0.9M252.5 443.5h0.9M255.7 446.3h0.9M246.4 449.8h0.9M263.7 434.5h0.9M249.9 444.0h0.9M252.7 447.5h0.9M255.4 450.6h0.9M261.2 443.5h0.9M252.8 446.4h0.9M256.9 447.6h0.9M249.7 450.4h0.9M249.4 452.7h0.9M256.8 445.9h0.9M256.2 446.2h0.9M255.5 448.0h0.9M261.1 444.1h0.9M251.9 441.3h0.9M261.3 444.3h0.9M248.9 449.0h0.9M251.9 443.3h0.9M249.5 447.3h0.9M252.8 449.5h0.9M257.3 439.0h0.9M255.1 444.6h0.9M247.8 443.9h0.9M246.3 447.3h0.9M248.5 447.8h0.9M254.0 447.9h0.9M251.3 447.5h0.9M251.7 450.6h0.9M260.7 445.0h0.9M255.1 450.0h0.9M247.4 452.7h0.9M263.0 440.0h0.9M264.1 436.0h0.9M259.1 448.1h0.9M259.4 438.6h0.9M265.7 444.5h0.9M265.4 446.8h0.9M266.7 444.5h0.9M261.6 450.6h0.9M259.4 446.3h0.9M267.4 439.7h0.9M262.1 444.0h0.9M263.4 442.4h0.9M256.5 446.8h0.9M268.9 444.4h0.9M250.4 446.2h0.9M263.3 444.7h0.9M254.9 448.1h0.9M269.0 439.5h0.9M257.9 433.8h0.9M266.0 439.3h0.9M253.4 442.0h0.9M268.0 438.8h0.9M264.9 436.7h0.9M268.4 432.5h0.9M261.0 438.6h0.9M263.4 445.5h0.9M261.4 444.1h0.9M268.1 436.7h0.9M266.7 441.9h0.9M267.3 440.4h0.9M252.9 445.2h0.9M260.1 436.2h0.9M270.9 435.2h0.9M260.2 453.2h0.9M265.4 445.5h0.9M267.9 434.9h0.9M260.5 451.9h0.9M267.4 432.4h0.9M263.9 432.9h0.9M266.5 441.8h0.9M263.2 440.5h0.9M259.3 444.1h0.9M250.3 455.6h0.9M266.1 449.5h0.9M264.6 442.8h0.9M271.6 427.8h0.9M267.4 438.7h0.9M254.5 452.5h0.9M258.0 439.8h0.9M251.7 450.0h0.9M267.1 435.1h0.9M257.2 445.8h0.9M261.7 436.7h0.9M260.3 444.0h0.9M263.8 445.8h0.9M257.3 441.6h0.9M261.1 444.9h0.9M260.1 446.9h0.9M265.2 437.9h0.9M263.9 439.4h0.9M260.9 439.3h0.9M259.2 445.3h0.9M253.3 441.9h0.9M265.8 438.5h0.9M262.7 437.7h0.9M264.5 436.9h0.9M262.4 441.8h0.9M265.6 435.5h0.9M261.5 436.5h0.9M258.1 444.3h0.9M253.8 442.2h0.9M265.6 438.8h0.9M260.1 443.6h0.9M246.8 448.7h0.9M264.2 437.3h0.9M258.8 445.7h0.9M259.7 443.6h0.9M260.7 446.8h0.9M273.2 436.6h0.9M262.3 439.4h0.9M265.9 432.7h0.9M258.9 440.8h0.9M265.9 437.0h0.9M255.8 454.9h0.9M254.3 438.9h0.9M267.6 438.2h0.9M262.1 440.3h0.9M260.4 439.2h0.9M259.1 445.9h0.9M263.9 446.4h0.9M257.5 448.9h0.9M253.7 443.6h0.9M266.3 436.2h0.9M255.7 444.6h0.9M265.8 445.5h0.9M266.9 435.9h0.9M270.5 445.7h0.9M252.3 438.5h0.9M253.5 439.8h0.9M265.7 441.7h0.9M260.0 447.4h0.9M265.0 450.8h0.9M263.5 428.2h0.9M262.9 440.7h0.9M259.2 444.4h0.9M256.7 440.1h0.9M258.3 445.0h0.9M266.4 431.5h0.9M262.6 449.8h0.9M273.6 437.3h0.9M260.2 442.8h0.9M267.2 440.2h0.9M261.1 444.3h0.9M253.7 442.8h0.9M259.2 442.8h0.9M256.4 441.6h0.9M273.6 436.4h0.9M262.4 441.5h0.9M270.9 437.7h0.9M267.3 436.4h0.9M267.9 439.8h0.9M258.7 445.5h0.9M267.0 438.6h0.9M262.5 433.7h0.9M256.4 450.9h0.9M260.4 446.0h0.9M267.4 443.2h0.9M257.8 445.4h0.9M261.5 441.5h0.9M265.5 446.8h0.9M258.1 442.2h0.9M262.6 439.2h0.9M257.8 448.0h0.9M253.4 449.2h0.9M255.4 443.3h0.9M257.7 439.2h0.9M272.5 432.7h0.9M267.0 444.0h0.9M264.8 451.3h0.9M253.1 436.8h0.9M262.3 435.2h0.9M261.4 443.4h0.9M263.8 442.5h0.9M263.1 437.8h0.9M259.7 453.4h0.9M261.2 443.2h0.9M252.7 445.0h0.9M267.8 434.9h0.9M254.2 446.4h0.9M254.7 442.2h0.9M262.8 439.3h0.9M265.0 436.5h0.9M278.6 436.3h0.9M260.7 438.5h0.9M272.1 447.2h0.9M268.6 439.2h0.9M252.6 440.0h0.9M259.3 439.9h0.9M263.6 437.6h0.9M266.7 436.6h0.9M268.6 436.8h0.9M253.9 440.5h0.9M260.5 439.0h0.9M260.3 455.3h0.9M262.0 440.3h0.9M272.8 439.9h0.9M256.9 444.1h0.9M267.6 436.2h0.9M262.7 437.0h0.9M269.7 428.9h0.9M264.2 447.8h0.9M253.6 449.2h0.9M256.9 444.8h0.9M266.4 449.6h0.9M265.6 436.0h0.9M260.5 449.1h0.9M268.9 435.4h0.9M262.9 445.7h0.9M254.7 439.3h0.9M258.2 444.5h0.9M260.2 443.7h0.9M252.6 442.3h0.9M260.5 438.8h0.9M257.2 446.0h0.9M272.5 434.3h0.9M262.9 447.8h0.9M257.2 442.5h0.9M261.0 445.5h0.9M264.0 432.3h0.9M255.1 433.4h0.9M260.9 444.4h0.9M255.9 450.9h0.9M252.4 436.8h0.9M256.2 446.2h0.9M261.6 439.6h0.9M250.6 450.9h0.9M255.9 446.6h0.9M252.7 450.5h0.9M263.1 446.5h0.9M261.8 440.0h0.9M268.8 442.5h0.9M254.9 446.7h0.9M263.6 443.4h0.9M253.2 448.1h0.9M269.8 440.6h0.9M267.6 443.7h0.9M268.6 443.6h0.9M267.5 438.0h0.9M268.7 438.9h0.9M256.9 450.2h0.9M256.0 444.8h0.9M257.2 442.4h0.9M262.3 443.8h0.9M259.7 444.7h0.9M261.4 435.7h0.9M259.2 443.5h0.9M264.0 433.4h0.9M260.0 449.0h0.9M256.0 440.0h0.9M257.3 440.4h0.9M259.6 440.5h0.9M264.4 440.5h0.9M258.3 444.0h0.9M276.6 435.9h0.9M266.5 439.5h0.9M255.1 447.2h0.9M269.4 442.4h0.9M254.3 443.6h0.9M251.9 443.2h0.9M269.4 439.6h0.9M260.0 437.3h0.9M271.3 444.7h0.9M253.9 447.0h0.9M264.1 432.4h0.9M264.2 440.6h0.9M255.7 442.7h0.9M257.4 435.3h0.9M270.1 431.8h0.9M257.9 445.0h0.9M267.0 436.6h0.9M266.1 441.5h0.9M248.1 448.1h0.9M272.5 435.9h0.9M267.4 446.7h0.9M263.9 428.4h0.9M271.6 439.6h0.9M262.2 440.6h0.9M265.2 442.1h0.9M264.0 439.3h0.9M258.1 449.2h0.9M270.1 434.4h0.9M259.6 433.2h0.9M255.7 440.1h0.9M269.6 439.5h0.9M260.3 441.1h0.9M257.7 452.9h0.9M255.7 439.7h0.9M257.0 437.4h0.9M253.7 449.1h0.9M261.1 436.6h0.9M263.5 435.1h0.9M265.3 438.3h0.9M268.3 432.9h0.9M256.5 441.1h0.9M264.8 438.5h0.9M265.7 440.1h0.9M263.6 448.1h0.9M256.5 438.6h0.9M249.3 452.6h0.9M263.7 437.1h0.9M253.8 447.6h0.9M260.7 437.1h0.9M264.0 443.2h0.9M264.7 438.9h0.9M256.0 445.7h0.9M263.6 440.7h0.9M259.7 443.3h0.9M260.7 438.9h0.9M257.3 447.3h0.9M266.2 440.5h0.9M260.1 449.1h0.9M256.7 450.1h0.9M260.1 439.8h0.9M262.3 440.5h0.9M265.3 439.5h0.9M254.9 446.2h0.9M257.9 434.3h0.9M257.1 434.7h0.9M264.3 446.4h0.9M261.1 443.4h0.9M262.2 443.0h0.9M273.5 431.6h0.9M261.1 442.3h0.9M259.3 438.2h0.9M259.7 438.6h0.9M256.3 444.4h0.9M261.0 441.3h0.9M257.1 448.1h0.9M252.8 446.1h0.9M268.6 436.8h0.9M255.4 448.0h0.9M271.3 442.6h0.9M259.9 442.5h0.9M258.8 442.5h0.9M263.3 438.7h0.9M264.2 434.8h0.9M256.1 450.9h0.9M260.5 442.1h0.9M265.5 444.4h0.9M251.2 440.8h0.9M261.9 439.9h0.9M275.3 440.9h0.9M263.6 441.4h0.9M258.1 437.6h0.9M264.7 446.5h0.9M258.8 450.1h0.9M269.3 439.1h0.9M256.3 446.5h0.9M253.7 445.4h0.9M261.9 440.4h0.9M268.7 438.5h0.9M270.5 443.4h0.9M262.6 432.2h0.9M255.7 442.2h0.9M256.3 445.0h0.9M265.8 441.3h0.9M256.4 446.0h0.9M260.6 440.6h0.9M266.2 446.7h0.9M266.5 435.9h0.9M254.4 447.7h0.9M285.1 415.9h0.9M279.2 419.4h0.9M286.3 418.1h0.9M279.9 420.4h0.9M274.5 418.8h0.9M289.4 417.3h0.9M279.1 419.2h0.9M274.1 420.6h0.9M283.6 416.3h0.9M278.3 419.8h0.9M271.8 420.0h0.9M285.4 419.9h0.9M278.2 417.6h0.9M288.1 418.6h0.9M281.2 418.0h0.9M280.8 418.7h0.9M280.9 418.4h0.9M279.0 419.0h0.9M277.8 416.4h0.9M279.8 417.5h0.9M275.1 417.6h0.9M285.4 418.0h0.9M292.5 416.5h0.9M289.7 418.6h0.9M268.3 419.1h0.9M280.3 419.3h0.9M274.5 418.7h0.9M284.2 417.0h0.9M279.8 419.2h0.9M272.9 420.5h0.9M287.1 419.4h0.9M279.4 419.3h0.9M276.5 420.4h0.9M277.8 418.4h0.9M278.4 418.5h0.9M276.5 420.2h0.9M284.1 418.4h0.9M278.5 418.3h0.9M285.0 418.8h0.9M280.3 418.9h0.9M287.0 419.4h0.9M276.1 419.2h0.9M267.5 421.7h0.9M282.3 417.3h0.9M288.5 418.1h0.9M282.7 418.4h0.9M275.9 418.9h0.9M279.5 417.4h0.9M278.7 420.4h0.9M281.3 419.2h0.9M280.5 418.2h0.9M270.9 421.5h0.9M281.6 417.6h0.9M276.8 419.1h0.9M282.4 419.1h0.9M279.5 419.3h0.9M285.2 418.2h0.9M274.8 419.0h0.9M276.1 419.4h0.9M273.4 419.6h0.9M283.9 417.5h0.9M283.0 419.3h0.9M279.8 418.8h0.9M278.6 419.2h0.9M271.9 417.5h0.9M276.0 419.0h0.9M281.0 419.8h0.9M276.6 418.7h0.9M279.6 418.2h0.9M274.6 419.4h0.9M274.9 419.2h0.9M276.5 419.6h0.9M282.8 417.2h0.9M279.5 418.5h0.9M275.0 419.8h0.9M277.6 418.5h0.9M289.0 419.8h0.9M285.7 416.6h0.9M282.9 418.7h0.9M283.9 419.9h0.9M272.9 419.3h0.9M276.7 418.3h0.9M275.5 421.2h0.9M279.0 418.2h0.9M272.2 419.4h0.9M280.3 418.2h0.9M284.0 418.0h0.9M276.5 420.5h0.9M283.1 418.7h0.9M284.5 416.9h0.9M276.8 419.6h0.9M286.4 417.8h0.9M274.1 419.5h0.9M277.7 417.6h0.9M273.4 420.1h0.9M284.0 417.4h0.9M281.1 419.1h0.9M275.4 422.0h0.9M283.4 418.0h0.9M280.4 420.0h0.9M270.7 420.1h0.9M277.5 417.7h0.9M292.1 418.9h0.9M275.8 418.2h0.9M284.8 417.3h0.9M279.2 419.3h0.9M277.8 420.4h0.9M276.4 419.9h0.9M285.6 416.6h0.9M281.5 420.2h0.9M279.0 419.4h0.9M286.2 419.1h0.9M282.0 418.5h0.9M284.3 418.9h0.9M288.3 417.5h0.9M279.0 419.0h0.9M277.3 417.8h0.9M284.1 418.5h0.9M294.3 416.7h0.9M284.6 416.5h0.9M285.6 417.6h0.9M275.0 420.2h0.9M284.0 418.4h0.9M278.3 417.5h0.9M283.5 416.8h0.9M278.5 419.9h0.9M279.3 417.8h0.9M274.4 419.3h0.9M283.1 418.1h0.9M282.6 421.1h0.9M282.5 417.4h0.9M275.2 418.8h0.9M279.8 418.7h0.9M273.5 420.2h0.9M276.4 419.0h0.9M282.1 419.0h0.9M292.4 416.9h0.9M280.1 419.1h0.9M281.2 419.5h0.9M279.0 419.4h0.9M284.1 419.1h0.9M274.0 419.8h0.9M285.6 417.7h0.9M277.8 419.0h0.9M275.9 420.0h0.9M281.6 419.3h0.9M275.5 419.5h0.9M280.1 418.1h0.9M277.4 418.7h0.9M281.9 416.6h0.9M280.9 421.0h0.9M281.6 419.7h0.9M281.8 418.4h0.9M274.7 421.8h0.9M282.7 419.3h0.9M285.5 419.7h0.9M273.4 421.0h0.9M281.0 417.0h0.9M281.1 419.9h0.9M283.0 420.0h0.9M280.0 417.1h0.9M279.7 420.3h0.9M279.8 418.3h0.9M271.8 419.1h0.9M280.5 421.1h0.9M282.6 419.6h0.9M277.3 417.7h0.9M283.3 419.0h0.9M283.4 416.2h0.9M287.9 418.5h0.9M289.3 418.0h0.9M274.2 420.4h0.9M270.0 420.4h0.9M279.0 416.9h0.9M278.4 419.9h0.9M282.0 418.4h0.9M286.0 419.3h0.9M283.9 419.4h0.9M277.4 417.9h0.9M277.0 418.5h0.9M277.5 417.9h0.9M281.5 418.0h0.9M288.6 419.1h0.9M283.8 418.1h0.9M274.5 419.3h0.9M281.8 419.8h0.9M277.2 417.6h0.9M278.3 420.4h0.9M292.1 415.6h0.9M277.4 418.5h0.9M278.3 418.5h0.9M283.4 415.9h0.9M284.5 416.0h0.9M281.2 419.4h0.9M281.6 418.8h0.9M266.4 418.6h0.9M276.1 417.1h0.9M272.8 419.9h0.9M288.8 418.6h0.9M280.3 417.0h0.9M274.7 418.2h0.9M281.3 419.4h0.9M280.1 418.1h0.9M289.2 415.1h0.9M281.7 419.1h0.9M281.8 418.2h0.9M274.6 420.7h0.9M275.9 419.2h0.9M279.4 418.0h0.9M278.5 418.9h0.9M286.3 419.4h0.9M270.6 418.2h0.9M285.3 419.0h0.9M286.4 417.7h0.9M276.2 417.3h0.9M271.9 420.4h0.9M280.4 417.8h0.9M280.4 417.6h0.9M274.4 419.6h0.9M287.3 418.3h0.9M277.1 419.7h0.9M280.0 419.0h0.9M268.1 421.9h0.9M287.8 416.5h0.9M279.3 417.8h0.9M276.2 418.4h0.9M285.2 418.7h0.9M278.6 418.5h0.9M285.7 418.6h0.9M283.7 418.4h0.9M276.7 417.8h0.9M287.7 419.2h0.9M281.0 419.0h0.9M273.8 419.2h0.9M279.7 419.4h0.9M273.0 418.6h0.9M285.6 418.0h0.9M269.1 419.1h0.9M288.6 417.9h0.9M271.6 420.9h0.9M279.5 419.2h0.9M278.3 418.9h0.9M283.4 416.6h0.9M282.3 418.7h0.9M277.4 420.7h0.9M287.4 418.3h0.9M279.4 420.3h0.9M282.1 418.6h0.9M275.8 418.6h0.9M284.6 420.1h0.9M270.2 429.1h0.9M270.8 434.2h0.9M280.8 423.8h0.9M276.6 432.1h0.9M268.1 436.8h0.9M276.2 434.4h0.9M269.4 431.4h0.9M268.6 423.8h0.9M273.2 437.2h0.9M276.1 429.3h0.9M278.1 429.6h0.9M258.7 432.8h0.9M268.9 430.3h0.9M281.6 424.3h0.9M265.7 435.7h0.9M274.4 425.4h0.9M266.1 438.8h0.9M287.0 423.9h0.9M283.6 428.8h0.9M274.0 436.9h0.9M275.0 421.9h0.9M278.2 430.2h0.9M273.8 426.3h0.9M284.2 426.7h0.9M270.4 428.7h0.9M275.4 434.0h0.9M264.5 425.1h0.9M273.3 422.5h0.9M275.4 428.3h0.9M272.2 432.3h0.9M272.5 432.2h0.9M268.7 437.1h0.9M276.6 432.7h0.9M274.6 418.4h0.9M272.5 437.9h0.9M262.4 440.5h0.9M270.3 433.9h0.9M265.0 436.4h0.9M267.6 434.2h0.9M269.2 429.1h0.9M268.0 430.6h0.9M274.9 436.1h0.9M277.2 425.6h0.9M280.3 422.7h0.9M266.1 424.6h0.9M272.9 437.8h0.9M278.6 432.6h0.9M277.9 436.2h0.9M277.2 421.7h0.9M277.0 430.1h0.9M262.0 432.3h0.9M277.1 428.0h0.9M267.6 435.3h0.9M271.3 433.8h0.9M262.1 432.5h0.9M267.4 423.0h0.9M275.1 428.4h0.9M277.4 428.3h0.9M274.2 423.8h0.9M279.2 423.9h0.9M268.0 426.7h0.9M274.2 432.6h0.9M279.1 426.5h0.9M273.4 422.3h0.9M269.3 433.9h0.9M274.0 429.8h0.9M267.4 427.1h0.9M273.0 428.8h0.9M275.0 431.6h0.9M271.7 425.4h0.9M266.7 433.2h0.9M277.3 420.5h0.9M279.2 423.1h0.9M272.2 434.0h0.9M265.2 423.4h0.9M275.0 433.0h0.9M275.7 420.5h0.9M273.6 426.5h0.9M274.9 435.9h0.9M273.7 432.0h0.9M258.3 429.0h0.9M274.5 434.2h0.9M270.8 429.6h0.9M269.0 425.2h0.9M267.5 425.7h0.9M272.5 429.9h0.9M273.9 428.7h0.9M274.3 439.3h0.9M267.3 439.3h0.9M271.1 433.2h0.9M270.5 426.5h0.9M267.5 440.2h0.9M278.1 430.4h0.9M277.2 430.7h0.9M269.4 438.5h0.9M275.7 437.1h0.9M274.3 433.3h0.9M281.7 429.5h0.9M277.1 430.3h0.9M267.9 431.5h0.9M279.3 430.2h0.9M271.7 440.9h0.9M266.4 431.0h0.9M268.8 433.8h0.9M267.1 436.4h0.9M276.2 422.7h0.9M269.5 430.1h0.9M274.1 439.6h0.9M275.2 439.0h0.9M276.4 449.1h0.9M275.4 450.2h0.9M274.7 451.5h0.9M277.7 450.3h0.9M269.3 453.4h0.9M272.0 450.6h0.9M274.9 452.4h0.9M277.3 450.6h0.9M271.6 451.6h0.9M277.1 448.1h0.9M280.2 446.3h0.9M278.0 449.4h0.9M272.4 451.0h0.9M279.0 448.9h0.9M271.7 452.3h0.9M279.6 446.9h0.9M273.0 453.3h0.9M276.4 450.5h0.9M273.4 450.2h0.9M276.6 448.7h0.9M272.8 452.2h0.9M278.7 448.0h0.9M278.9 447.5h0.9M276.7 450.3h0.9M273.5 452.8h0.9M273.5 452.2h0.9M274.4 448.7h0.9M275.8 450.9h0.9M275.7 449.4h0.9M273.8 451.3h0.9M279.7 449.1h0.9M273.8 450.5h0.9M276.2 449.4h0.9M274.5 448.9h0.9M274.3 451.4h0.9M277.8 449.8h0.9M280.3 447.4h0.9M276.1 452.0h0.9M279.8 446.6h0.9M277.0 448.4h0.9M280.3 447.9h0.9M271.5 451.9h0.9M271.0 453.3h0.9M269.6 455.0h0.9M275.9 451.3h0.9M276.2 451.7h0.9M274.5 449.5h0.9M273.8 451.8h0.9M272.0 453.1h0.9M269.8 454.1h0.9M274.2 453.4h0.9M277.7 447.5h0.9M275.7 450.5h0.9M269.3 453.2h0.9M273.0 449.6h0.9M280.4 447.0h0.9M279.7 448.3h0.9M271.5 452.9h0.9M273.1 451.4h0.9M275.4 451.6h0.9M274.7 451.2h0.9M283.8 445.9h0.9M273.8 449.8h0.9M270.5 453.9h0.9M276.5 448.1h0.9M271.0 452.9h0.9M275.0 451.1h0.9M270.5 453.6h0.9M276.9 448.8h0.9M273.4 451.9h0.9M283.9 440.5h0.9M275.4 434.6h0.9M288.6 426.8h0.9M286.5 436.0h0.9M284.4 444.6h0.9M280.2 448.3h0.9M279.7 446.1h0.9M287.0 422.2h0.9M281.5 441.6h0.9M284.2 440.3h0.9M286.8 444.5h0.9M290.8 426.5h0.9M282.0 442.6h0.9M284.9 442.5h0.9M284.4 437.0h0.9M291.1 431.7h0.9M275.8 435.9h0.9M279.3 427.8h0.9M289.7 436.5h0.9M284.1 442.0h0.9M275.9 434.5h0.9M285.8 440.7h0.9M292.9 433.1h0.9M293.2 445.7h0.9M280.7 433.1h0.9" stroke="#000" stroke-width="0.9" fill="none" filter="url(#b2)"/>
<ellipse cx="251.8" cy="447.8" rx="4.9" ry="2.0" transform="rotate(-33 251.8 447.8)" fill="#fff"/>
</g>
<rect x="239.3" y="409.6" width="58.69999999999999" height="48.099999999999966" fill="none" stroke="#111" stroke-width="1"/>
<line x1="268.2" y1="409.6" x2="268.2" y2="457.7" stroke="#000" stroke-width="1.1" />
<line x1="239.3" y1="435.2" x2="298" y2="435.2" stroke="#000" stroke-width="1.1" />
<text x="265.3" y="408" font-size="8.4" text-anchor="middle" font-weight="normal" fill="#111" >sG1</text>
<text x="255.47500000000002" y="463.9" font-size="4.6" text-anchor="middle" fill="#333">10<tspan dy="-1.6" font-size="3.4">1</tspan></text>
<text x="270.15" y="463.9" font-size="4.6" text-anchor="middle" fill="#333">10<tspan dy="-1.6" font-size="3.4">2</tspan></text>
<text x="284.825" y="463.9" font-size="4.6" text-anchor="middle" fill="#333">10<tspan dy="-1.6" font-size="3.4">3</tspan></text>
<text x="299.5" y="463.9" font-size="4.6" text-anchor="middle" fill="#333">10<tspan dy="-1.6" font-size="3.4">4</tspan></text>
<text transform="translate(237.9,445.58181818181816) rotate(-90)" font-size="4.6" text-anchor="middle" fill="#333">10<tspan dy="-1.6" font-size="3.4">1</tspan></text>
<text transform="translate(237.9,431.0060606060606) rotate(-90)" font-size="4.6" text-anchor="middle" fill="#333">10<tspan dy="-1.6" font-size="3.4">2</tspan></text>
<text transform="translate(237.9,416.43030303030304) rotate(-90)" font-size="4.6" text-anchor="middle" fill="#333">10<tspan dy="-1.6" font-size="3.4">3</tspan></text>
<clipPath id="c170_473"><rect x="170.1" y="473.2" width="58.70000000000002" height="47.599999999999966"/></clipPath>
<g clip-path="url(#c170_473)">
<ellipse cx="184.8" cy="509.6" rx="10.4" ry="4.4" transform="rotate(-24 184.8 509.6)" fill="#000" opacity="0.95" filter="url(#bl)"/>
<ellipse cx="203.4" cy="480.4" rx="1.8" ry="1.4" transform="rotate(0 203.4 480.4)" fill="#000" opacity="0.5" filter="url(#bl)"/>
<path d="M189.2 506.5h0.9M179.7 512.8h0.9M174.6 512.0h0.9M178.4 511.8h0.9M189.7 502.0h0.9M193.0 505.3h0.9M176.5 510.0h0.9M172.9 515.4h0.9M181.9 511.4h0.9M188.0 508.7h0.9M190.9 505.9h0.9M181.0 515.1h0.9M192.2 503.9h0.9M183.6 515.0h0.9M180.4 513.2h0.9M187.8 507.5h0.9M189.2 504.8h0.9M181.0 514.5h0.9M183.1 513.1h0.9M187.1 504.6h0.9M189.1 510.5h0.9M191.1 500.7h0.9M191.6 503.5h0.9M178.4 510.3h0.9M189.2 509.0h0.9M193.6 512.4h0.9M198.5 511.8h0.9M186.1 510.3h0.9M183.2 509.0h0.9M181.9 507.3h0.9M171.2 511.8h0.9M195.9 506.2h0.9M171.6 516.3h0.9M186.6 508.3h0.9M192.4 508.9h0.9M192.9 509.8h0.9M178.9 513.1h0.9M187.4 516.3h0.9M180.2 512.1h0.9M179.7 510.3h0.9M189.1 510.2h0.9M178.8 513.3h0.9M197.4 500.7h0.9M181.2 515.8h0.9M175.0 506.7h0.9M178.0 512.0h0.9M194.4 503.8h0.9M180.7 515.3h0.9M189.2 505.0h0.9M183.4 510.0h0.9M192.9 505.2h0.9M191.8 503.3h0.9M184.9 503.7h0.9M181.1 508.4h0.9M176.6 509.0h0.9M175.0 517.8h0.9M176.7 506.7h0.9M185.1 503.2h0.9M191.7 511.1h0.9M184.8 508.2h0.9M180.2 508.4h0.9M190.2 507.6h0.9M183.1 513.5h0.9M200.3 497.7h0.9M184.8 508.0h0.9M186.0 508.3h0.9M184.3 510.1h0.9M185.5 511.5h0.9M178.8 506.2h0.9M190.9 502.4h0.9M198.0 504.5h0.9M183.3 508.3h0.9M186.8 509.8h0.9M177.3 509.6h0.9M190.4 511.0h0.9M179.0 512.1h0.9M183.7 515.2h0.9M189.1 510.9h0.9M186.8 512.0h0.9M188.9 504.1h0.9M188.5 507.4h0.9M191.4 506.7h0.9M202.6 504.5h0.9M175.7 507.7h0.9M197.2 506.7h0.9M181.7 507.5h0.9M182.1 515.5h0.9M192.1 508.2h0.9M185.0 510.6h0.9M189.4 509.7h0.9M185.0 510.1h0.9M177.7 510.6h0.9M176.6 512.9h0.9M198.4 504.0h0.9M183.0 509.6h0.9M186.4 503.1h0.9M184.6 513.6h0.9M185.5 511.5h0.9M177.2 512.4h0.9M179.9 508.5h0.9M190.3 504.2h0.9M181.0 514.5h0.9M190.3 513.4h0.9M181.3 513.9h0.9M180.0 509.5h0.9M187.5 508.9h0.9M188.3 505.5h0.9M187.3 504.1h0.9M195.5 505.9h0.9M177.5 514.0h0.9M178.0 510.0h0.9M184.6 512.5h0.9M185.4 507.3h0.9M193.4 505.0h0.9M183.9 511.9h0.9M178.8 514.0h0.9M186.9 507.3h0.9M189.5 514.8h0.9M181.0 507.1h0.9M176.7 511.5h0.9M180.0 508.2h0.9M187.2 506.4h0.9M187.9 504.8h0.9M179.4 514.9h0.9M179.7 507.5h0.9M182.2 509.3h0.9M179.2 510.9h0.9M191.9 511.2h0.9M192.9 507.1h0.9M187.7 513.0h0.9M187.2 507.8h0.9M199.8 507.7h0.9M182.9 509.6h0.9M186.0 503.1h0.9M176.1 509.5h0.9M184.3 512.4h0.9M188.4 506.9h0.9M183.7 507.6h0.9M174.5 514.0h0.9M179.7 512.1h0.9M186.4 509.3h0.9M188.5 511.2h0.9M185.1 509.7h0.9M201.2 500.8h0.9M176.9 512.6h0.9M197.7 501.8h0.9M173.1 508.7h0.9M189.4 505.6h0.9M196.4 510.1h0.9M187.1 509.4h0.9M189.4 513.7h0.9M194.0 509.2h0.9M187.1 505.0h0.9M185.7 508.6h0.9M177.2 515.1h0.9M187.2 509.4h0.9M190.6 510.2h0.9M185.7 511.9h0.9M173.8 514.0h0.9M183.8 509.3h0.9M179.8 507.1h0.9M202.7 497.0h0.9M176.6 513.6h0.9M193.7 502.6h0.9M179.2 513.5h0.9M186.0 510.8h0.9M183.9 503.3h0.9M189.8 500.2h0.9M197.2 513.1h0.9M190.1 511.4h0.9M185.9 503.4h0.9M191.0 514.6h0.9M185.3 510.5h0.9M192.8 510.4h0.9M183.1 510.7h0.9M185.1 508.3h0.9M192.2 505.7h0.9M195.2 504.1h0.9M199.6 500.1h0.9M187.2 511.9h0.9M183.1 511.9h0.9M194.2 506.3h0.9M184.1 508.4h0.9M183.6 507.6h0.9M181.9 513.3h0.9M181.9 507.6h0.9M180.6 518.2h0.9M186.2 510.8h0.9M187.8 509.0h0.9M195.1 503.9h0.9M182.0 511.7h0.9M196.7 506.3h0.9M185.2 504.0h0.9M188.8 504.6h0.9M177.6 512.1h0.9M193.8 503.2h0.9M171.2 511.7h0.9M190.5 506.5h0.9M191.1 509.9h0.9M193.7 501.1h0.9M189.2 504.4h0.9M176.8 513.6h0.9M184.1 507.5h0.9M176.1 513.0h0.9M194.4 508.2h0.9M195.6 503.0h0.9M182.5 513.4h0.9M196.5 506.0h0.9M180.0 512.1h0.9M190.9 502.7h0.9M185.0 516.0h0.9M194.8 504.8h0.9M182.7 510.2h0.9M171.8 510.2h0.9M185.6 502.4h0.9M176.6 516.2h0.9M172.9 510.6h0.9M180.4 510.9h0.9M181.0 515.1h0.9M179.9 510.8h0.9M182.2 512.2h0.9M186.2 510.8h0.9M185.9 512.8h0.9M176.1 517.8h0.9M176.6 510.8h0.9M175.9 517.8h0.9M202.9 502.9h0.9M193.7 508.7h0.9M182.5 511.4h0.9M181.1 509.6h0.9M184.3 506.2h0.9M182.7 509.6h0.9M177.6 509.0h0.9M177.8 517.3h0.9M180.7 513.6h0.9M175.7 519.4h0.9M177.9 512.3h0.9M196.6 506.7h0.9M178.4 512.2h0.9M188.9 503.4h0.9M190.7 509.2h0.9M193.1 513.3h0.9M184.8 504.2h0.9M188.0 500.6h0.9M181.5 510.6h0.9M182.9 507.7h0.9M192.8 506.2h0.9M188.8 506.5h0.9M187.8 512.7h0.9M185.3 506.5h0.9M183.0 515.6h0.9M189.7 502.1h0.9M182.1 507.4h0.9M174.0 510.2h0.9M181.5 507.2h0.9M176.6 512.3h0.9M182.7 516.7h0.9M173.2 513.0h0.9M180.1 509.2h0.9M186.7 506.2h0.9M183.3 512.4h0.9M182.7 509.1h0.9M178.7 510.5h0.9M185.0 509.4h0.9M193.0 502.8h0.9M173.9 518.1h0.9M197.8 498.7h0.9M187.6 511.3h0.9M178.7 511.3h0.9M194.0 507.2h0.9M188.8 506.1h0.9M179.0 509.1h0.9M172.1 515.9h0.9M179.2 506.6h0.9M183.3 514.5h0.9M182.6 516.7h0.9M189.5 511.8h0.9M187.7 507.7h0.9M186.4 508.5h0.9M186.8 505.7h0.9M176.7 511.5h0.9M175.2 514.9h0.9M175.3 509.7h0.9M188.1 509.6h0.9M184.2 513.2h0.9M190.5 509.9h0.9M187.3 504.3h0.9M189.3 503.2h0.9M180.8 516.8h0.9M182.9 511.5h0.9M187.2 512.5h0.9M200.5 500.5h0.9M187.5 507.6h0.9M170.8 513.4h0.9M182.8 516.0h0.9M178.4 513.4h0.9M192.5 501.0h0.9M177.3 510.0h0.9M184.2 507.4h0.9M185.6 511.1h0.9M175.1 512.3h0.9M180.0 514.3h0.9M187.1 501.4h0.9M196.9 506.1h0.9M199.6 508.8h0.9M189.4 506.8h0.9M182.8 509.4h0.9M177.8 515.7h0.9M175.2 517.6h0.9M177.2 515.1h0.9M187.4 514.1h0.9M186.9 508.9h0.9M181.6 512.2h0.9M192.1 511.9h0.9M185.6 510.2h0.9M186.9 507.0h0.9M198.7 504.0h0.9M192.3 510.7h0.9M176.4 516.3h0.9M183.8 513.1h0.9M183.7 505.7h0.9M179.4 511.7h0.9M192.2 500.9h0.9M191.1 507.8h0.9M187.9 508.2h0.9M180.6 515.1h0.9M188.2 513.4h0.9M178.7 515.6h0.9M191.9 509.5h0.9M182.6 513.7h0.9M184.5 507.1h0.9M199.5 499.2h0.9M187.8 511.9h0.9M196.3 512.5h0.9M195.9 504.6h0.9M178.0 510.4h0.9M188.1 506.5h0.9M184.7 515.4h0.9M191.7 505.3h0.9M180.0 511.3h0.9M195.4 504.5h0.9M172.6 516.9h0.9M190.9 503.5h0.9M180.5 510.8h0.9M179.9 510.2h0.9M185.2 507.0h0.9M185.7 509.7h0.9M184.6 508.2h0.9M192.9 512.7h0.9M181.2 508.1h0.9M178.8 510.8h0.9M187.1 506.6h0.9M188.9 509.2h0.9M195.1 509.0h0.9M193.0 508.5h0.9M182.3 507.6h0.9M182.5 510.5h0.9M187.3 511.5h0.9M187.8 515.3h0.9M180.6 512.5h0.9M189.9 508.3h0.9M176.0 514.3h0.9M196.1 504.4h0.9M187.7 508.4h0.9M185.2 512.3h0.9M184.7 509.3h0.9M177.1 510.1h0.9M184.2 505.0h0.9M184.3 507.0h0.9M175.5 512.1h0.9M184.2 510.9h0.9M175.9 510.1h0.9M185.2 506.2h0.9M193.5 508.7h0.9M172.3 515.1h0.9M184.3 513.8h0.9M183.9 511.5h0.9M179.2 512.1h0.9M181.0 511.3h0.9M192.3 503.9h0.9M185.9 504.8h0.9M185.4 508.9h0.9M187.0 514.0h0.9M186.7 512.9h0.9M195.3 504.0h0.9M178.5 509.3h0.9M186.4 511.8h0.9M191.5 504.4h0.9M187.8 504.1h0.9M176.5 516.7h0.9M182.7 510.2h0.9M179.1 514.0h0.9M185.8 501.5h0.9M191.2 511.4h0.9M191.6 505.2h0.9M187.9 510.2h0.9M179.3 515.2h0.9M196.7 501.2h0.9M177.9 512.8h0.9M177.4 515.0h0.9M184.2 503.8h0.9M172.5 510.0h0.9M192.8 510.4h0.9M177.2 508.8h0.9M197.9 501.1h0.9M186.1 507.2h0.9M181.1 513.2h0.9M178.8 513.0h0.9M181.7 510.6h0.9M180.3 507.8h0.9M175.6 510.8h0.9M185.0 505.6h0.9M182.2 505.0h0.9M180.0 506.0h0.9M177.6 510.7h0.9M187.3 509.2h0.9M187.0 508.9h0.9M187.0 507.5h0.9M175.8 513.6h0.9M190.8 510.2h0.9M187.6 506.6h0.9M191.5 506.5h0.9M179.4 513.9h0.9M179.9 508.4h0.9M192.3 504.7h0.9M179.9 508.2h0.9M175.1 509.9h0.9M182.3 510.2h0.9M176.7 510.1h0.9M187.2 504.2h0.9M179.4 504.8h0.9M186.9 506.2h0.9M180.1 511.0h0.9M180.4 509.5h0.9M187.2 511.2h0.9M193.1 511.2h0.9M181.7 509.0h0.9M172.5 518.9h0.9M195.5 501.4h0.9M177.5 512.9h0.9M183.4 500.8h0.9M184.9 507.2h0.9M187.4 510.1h0.9M184.6 510.1h0.9M183.1 510.4h0.9M181.2 514.2h0.9M185.4 507.2h0.9M193.4 498.6h0.9M183.0 510.4h0.9M186.6 506.9h0.9M182.2 512.3h0.9M204.7 500.7h0.9M174.5 516.1h0.9M188.4 507.9h0.9M179.0 514.5h0.9M202.4 505.9h0.9M192.5 505.6h0.9M193.8 504.8h0.9M191.5 507.3h0.9M181.3 507.4h0.9M179.9 517.2h0.9M188.7 507.0h0.9M180.9 509.9h0.9M186.1 512.1h0.9M182.0 508.1h0.9M175.2 505.9h0.9M184.9 513.1h0.9M193.6 505.2h0.9M185.2 503.6h0.9M185.2 509.6h0.9M198.2 503.2h0.9M181.0 511.7h0.9M187.7 504.0h0.9M181.6 513.1h0.9M186.5 507.0h0.9M184.0 511.3h0.9M173.9 511.8h0.9M185.8 514.2h0.9M191.2 506.5h0.9M176.1 510.8h0.9M192.1 504.1h0.9M203.1 502.7h0.9M177.8 511.4h0.9M185.9 505.5h0.9M185.5 512.5h0.9M177.4 508.7h0.9M185.1 509.6h0.9M192.7 508.6h0.9M191.4 511.6h0.9M185.9 510.7h0.9M189.7 504.6h0.9M185.0 509.2h0.9M174.1 516.1h0.9M185.7 501.3h0.9M194.7 499.5h0.9M185.5 512.1h0.9M177.2 513.9h0.9M175.2 509.9h0.9M184.2 515.3h0.9M175.6 508.1h0.9M190.0 505.9h0.9M180.1 514.2h0.9M193.6 502.6h0.9M190.0 511.5h0.9M187.4 502.8h0.9M182.9 516.4h0.9M177.2 513.5h0.9M174.7 513.0h0.9M182.4 508.9h0.9M181.6 510.7h0.9M187.2 503.0h0.9M197.4 503.1h0.9M181.4 517.4h0.9M183.0 514.3h0.9M186.0 507.4h0.9M194.7 510.0h0.9M186.6 500.6h0.9M180.6 516.4h0.9M186.6 511.7h0.9M180.1 510.2h0.9M188.4 504.4h0.9M174.5 509.8h0.9M183.2 508.9h0.9M192.4 505.3h0.9M199.4 504.0h0.9M180.2 516.3h0.9M196.3 503.5h0.9M181.5 512.4h0.9M194.8 504.1h0.9M191.8 504.9h0.9M194.2 504.6h0.9M200.9 500.5h0.9M185.6 510.3h0.9M201.9 501.5h0.9M192.5 511.3h0.9M172.4 514.3h0.9M186.4 515.0h0.9M184.0 508.6h0.9M175.7 512.9h0.9M193.0 508.2h0.9M185.0 508.7h0.9M190.2 500.2h0.9M194.9 505.0h0.9M192.8 507.5h0.9M192.6 509.5h0.9M178.8 510.5h0.9M189.1 506.9h0.9M193.8 503.6h0.9M184.9 509.6h0.9M183.1 509.9h0.9M180.9 513.1h0.9M182.1 511.9h0.9M194.6 507.7h0.9M187.0 514.9h0.9M182.8 510.1h0.9M177.5 514.8h0.9M186.7 512.9h0.9M180.6 511.8h0.9M185.8 507.8h0.9M177.1 508.6h0.9M191.3 505.3h0.9M182.9 511.3h0.9M198.3 497.7h0.9M186.1 510.8h0.9M192.5 506.5h0.9M186.9 502.3h0.9M180.5 510.0h0.9M183.5 505.7h0.9M183.6 510.3h0.9M189.1 506.0h0.9M187.4 513.5h0.9M191.9 503.8h0.9M187.1 510.4h0.9M176.2 513.7h0.9M181.6 512.3h0.9M183.2 514.2h0.9M189.8 507.8h0.9M185.2 507.7h0.9M182.5 513.5h0.9M175.5 515.0h0.9M188.8 503.9h0.9M191.9 503.2h0.9M188.2 509.6h0.9M182.2 511.7h0.9M185.1 512.8h0.9M186.4 506.1h0.9M183.7 515.9h0.9M180.7 506.6h0.9M176.6 510.1h0.9M180.4 511.7h0.9M185.4 508.9h0.9M190.3 508.1h0.9M180.7 517.3h0.9M174.6 510.5h0.9M184.3 505.0h0.9M179.1 514.5h0.9M186.7 510.1h0.9M175.3 510.5h0.9M184.2 511.3h0.9M183.6 509.6h0.9M183.1 510.3h0.9M194.2 507.8h0.9M187.1 509.7h0.9M181.2 510.2h0.9M176.8 510.5h0.9M196.7 512.1h0.9M176.3 508.5h0.9M194.8 511.5h0.9M183.0 504.7h0.9M192.8 504.4h0.9M190.0 508.6h0.9M178.2 508.9h0.9M177.8 508.7h0.9M187.0 507.7h0.9M188.9 507.0h0.9M180.4 512.2h0.9M174.4 508.6h0.9M185.1 516.7h0.9M190.6 508.4h0.9M187.9 504.5h0.9M187.0 510.6h0.9M182.7 509.6h0.9M188.5 510.4h0.9M174.2 512.6h0.9M191.5 505.5h0.9M175.6 507.8h0.9M193.4 503.7h0.9M180.5 512.3h0.9M196.3 510.9h0.9M172.1 507.9h0.9M176.2 515.6h0.9M180.5 510.3h0.9M194.3 504.2h0.9M177.3 511.9h0.9M171.6 514.0h0.9M188.0 502.3h0.9M178.5 512.4h0.9M174.3 510.6h0.9M178.6 513.2h0.9M184.0 506.3h0.9M179.8 513.5h0.9M177.5 510.5h0.9M174.1 513.8h0.9M182.5 507.6h0.9M184.4 508.5h0.9M187.5 511.5h0.9M194.9 500.7h0.9M184.3 508.0h0.9M176.9 518.5h0.9M181.6 510.6h0.9M185.7 512.2h0.9M188.2 513.9h0.9M191.4 506.6h0.9M191.7 512.1h0.9M181.8 504.4h0.9M179.6 508.2h0.9M179.9 511.9h0.9M180.2 511.9h0.9M174.5 503.6h0.9M175.3 510.4h0.9M180.6 507.9h0.9M182.7 511.1h0.9M182.0 514.0h0.9M185.0 510.9h0.9M184.1 507.9h0.9M177.8 506.4h0.9M187.4 510.7h0.9M182.1 508.4h0.9M186.4 509.4h0.9M179.5 519.3h0.9M177.4 507.8h0.9M180.7 508.9h0.9M182.3 508.9h0.9M183.9 509.8h0.9M194.3 510.0h0.9M190.5 508.8h0.9M183.1 510.5h0.9M196.4 495.7h0.9M182.5 505.2h0.9M189.0 509.8h0.9M191.5 511.3h0.9M188.4 509.7h0.9M190.4 508.7h0.9M186.4 508.7h0.9M184.5 506.4h0.9M185.7 516.3h0.9M180.6 507.2h0.9M183.9 505.4h0.9M179.3 516.8h0.9M189.4 513.2h0.9M190.2 504.3h0.9M184.6 506.0h0.9M194.5 501.8h0.9M180.4 507.3h0.9M182.8 515.7h0.9M182.1 511.5h0.9M178.7 505.7h0.9M174.1 519.8h0.9M175.6 511.7h0.9M195.3 502.2h0.9M195.2 507.8h0.9M188.5 507.2h0.9M185.9 506.4h0.9M187.6 512.2h0.9M190.7 507.4h0.9M183.6 516.5h0.9M172.4 512.8h0.9M183.9 508.4h0.9M173.6 512.9h0.9M192.6 512.6h0.9M192.1 511.6h0.9M191.8 508.4h0.9M189.2 512.8h0.9M189.2 505.5h0.9M190.6 502.0h0.9M189.8 507.7h0.9M184.4 510.1h0.9M178.9 512.3h0.9M181.5 513.7h0.9M187.0 506.3h0.9M189.8 509.4h0.9M189.9 508.8h0.9M187.4 509.0h0.9M171.8 510.4h0.9M184.7 503.4h0.9M194.2 505.2h0.9M184.9 510.6h0.9M197.5 509.0h0.9M182.1 514.0h0.9M184.2 513.2h0.9M183.8 509.5h0.9M176.7 510.2h0.9M183.2 510.8h0.9M177.9 509.3h0.9M196.7 504.5h0.9M188.3 513.7h0.9M198.2 504.0h0.9M188.6 508.1h0.9M172.3 518.3h0.9M179.6 513.3h0.9M199.2 501.0h0.9M185.4 512.7h0.9M191.1 509.2h0.9M174.3 513.6h0.9M187.9 508.2h0.9M178.7 512.1h0.9M189.9 514.2h0.9M194.7 504.1h0.9M189.6 509.4h0.9M175.5 513.0h0.9M194.8 505.8h0.9M174.3 512.9h0.9M188.9 507.2h0.9M183.2 507.3h0.9M182.0 505.2h0.9M184.4 516.3h0.9M185.5 507.6h0.9M200.7 507.2h0.9M183.0 508.8h0.9M177.0 514.3h0.9M173.9 507.2h0.9M178.5 515.9h0.9M185.1 512.8h0.9M186.6 507.9h0.9M191.4 505.2h0.9M185.7 509.3h0.9M177.1 514.4h0.9M176.2 513.3h0.9M190.3 504.6h0.9M195.4 504.7h0.9M181.5 507.2h0.9M174.2 512.2h0.9M181.4 512.2h0.9M188.5 504.2h0.9M177.0 514.9h0.9M191.1 512.7h0.9M180.1 511.3h0.9M176.5 506.1h0.9M197.0 501.4h0.9M177.6 512.8h0.9M178.1 512.8h0.9M180.8 513.4h0.9M184.2 507.7h0.9M177.3 508.0h0.9M181.8 510.7h0.9M182.2 516.1h0.9M189.3 504.8h0.9M184.7 510.1h0.9M188.1 510.3h0.9M172.5 509.6h0.9M188.2 505.8h0.9M189.5 508.1h0.9M174.6 514.9h0.9M187.8 510.6h0.9M191.0 504.7h0.9M188.5 506.3h0.9M181.2 511.5h0.9M190.2 514.2h0.9M187.9 503.2h0.9M188.1 510.8h0.9M182.5 506.1h0.9M189.5 507.3h0.9M198.3 500.2h0.9M180.3 506.6h0.9M182.4 509.1h0.9M180.4 514.3h0.9M191.3 506.4h0.9M187.0 512.3h0.9M182.0 511.9h0.9M191.2 511.5h0.9M181.6 508.3h0.9M188.5 510.0h0.9M188.7 507.9h0.9M181.3 506.6h0.9M175.1 516.8h0.9M191.7 503.1h0.9M188.9 510.0h0.9M185.8 507.2h0.9M187.5 503.4h0.9M173.5 514.4h0.9M193.9 505.2h0.9M191.0 504.7h0.9M194.9 502.0h0.9M194.4 510.1h0.9M175.2 512.9h0.9M180.9 508.9h0.9M186.6 511.2h0.9M186.9 510.8h0.9M179.6 510.9h0.9M186.8 504.7h0.9M187.7 507.5h0.9M186.9 509.9h0.9M191.3 513.6h0.9M187.4 501.3h0.9M194.7 508.6h0.9M190.1 506.1h0.9M196.2 504.9h0.9M180.0 516.2h0.9M189.0 502.3h0.9M178.0 512.4h0.9M205.2 501.4h0.9M185.2 505.7h0.9M176.3 513.3h0.9M177.8 513.7h0.9M189.8 511.7h0.9M185.9 505.3h0.9M185.8 509.1h0.9M179.3 512.7h0.9M192.2 504.7h0.9M198.6 507.0h0.9M180.2 511.0h0.9M188.7 509.9h0.9M182.8 512.3h0.9M189.7 509.2h0.9M178.2 508.5h0.9M189.9 509.7h0.9M180.4 514.5h0.9M190.8 509.8h0.9M189.3 510.3h0.9M190.5 509.1h0.9M198.2 505.0h0.9M183.1 508.3h0.9M186.6 510.4h0.9M181.4 512.0h0.9M174.7 514.8h0.9M190.8 506.1h0.9M182.3 504.7h0.9M184.7 512.2h0.9M183.7 511.1h0.9M194.1 503.7h0.9M178.5 512.2h0.9M183.5 505.9h0.9M190.1 508.4h0.9M191.5 503.8h0.9M188.9 506.7h0.9M187.4 507.9h0.9M185.7 511.3h0.9M190.5 508.4h0.9M177.2 508.7h0.9M185.4 511.0h0.9M181.2 511.3h0.9M186.0 511.0h0.9M195.9 506.4h0.9M177.5 507.5h0.9M190.3 505.7h0.9M187.0 508.7h0.9M184.5 512.4h0.9M173.6 511.3h0.9M181.8 516.0h0.9M187.4 516.9h0.9M179.0 509.2h0.9M182.7 512.4h0.9M198.4 501.1h0.9M190.5 507.4h0.9M182.9 504.5h0.9M187.8 507.1h0.9M184.9 506.6h0.9M188.8 507.4h0.9M181.4 512.9h0.9M188.3 507.0h0.9M190.8 509.9h0.9M182.1 512.0h0.9M175.6 511.9h0.9M185.7 512.1h0.9M191.4 506.5h0.9M183.4 510.9h0.9M182.5 508.5h0.9M189.9 506.3h0.9M202.3 501.1h0.9M187.9 506.2h0.9M192.5 510.8h0.9M176.1 516.8h0.9M193.8 504.2h0.9M193.7 502.8h0.9M175.0 513.4h0.9M189.3 503.7h0.9M177.9 507.5h0.9M192.2 507.0h0.9M181.4 512.0h0.9M187.5 512.7h0.9M187.8 505.5h0.9M189.6 506.2h0.9M204.9 499.6h0.9M182.1 507.2h0.9M186.0 508.6h0.9M196.4 497.4h0.9M177.4 508.4h0.9M180.0 506.2h0.9M177.7 504.2h0.9M181.1 512.8h0.9M184.1 508.3h0.9M183.3 505.3h0.9M193.9 507.7h0.9M189.9 508.4h0.9M179.2 515.1h0.9M183.3 507.8h0.9M195.9 503.1h0.9M196.4 512.5h0.9M197.6 494.2h0.9M192.6 509.9h0.9M200.2 498.5h0.9M200.0 496.9h0.9M190.8 508.0h0.9M193.6 500.3h0.9M197.3 511.2h0.9M204.8 501.3h0.9M195.3 506.9h0.9M190.1 503.9h0.9M197.3 502.5h0.9M200.5 504.5h0.9M188.6 502.2h0.9M196.7 506.3h0.9M191.2 508.9h0.9M183.6 507.5h0.9M192.2 500.3h0.9M199.3 502.6h0.9M191.6 507.1h0.9M179.9 509.1h0.9M196.1 506.1h0.9M207.8 499.7h0.9M203.1 496.0h0.9M195.1 504.2h0.9M210.1 506.3h0.9M202.8 502.9h0.9M201.9 499.2h0.9M190.1 508.2h0.9M193.9 515.1h0.9M189.3 509.7h0.9M187.8 512.7h0.9M197.2 495.8h0.9M199.3 493.8h0.9M193.2 501.9h0.9M189.4 508.2h0.9M182.3 515.7h0.9M194.7 500.9h0.9M187.4 502.8h0.9M199.9 499.4h0.9M194.1 504.1h0.9M194.8 498.4h0.9M192.3 507.2h0.9M188.6 505.9h0.9M199.1 505.3h0.9M201.9 495.1h0.9M199.4 498.9h0.9M201.4 493.5h0.9M200.4 503.9h0.9M194.5 507.9h0.9M198.3 501.1h0.9M196.9 506.0h0.9M193.3 500.8h0.9M190.9 506.8h0.9M200.3 503.9h0.9M193.8 503.3h0.9M197.1 497.8h0.9M193.1 501.7h0.9M199.3 500.8h0.9M189.4 514.4h0.9M194.3 508.0h0.9M201.2 503.1h0.9M198.0 503.5h0.9M184.5 511.6h0.9M190.7 503.5h0.9M194.1 503.6h0.9M191.2 506.5h0.9M198.6 504.9h0.9M206.1 495.0h0.9M201.5 493.9h0.9M191.5 508.4h0.9M197.5 498.9h0.9M196.1 504.2h0.9M199.1 507.7h0.9M201.3 504.7h0.9M205.6 502.5h0.9M188.2 501.3h0.9M193.0 501.5h0.9M195.7 499.5h0.9M202.7 499.2h0.9M196.6 502.0h0.9M196.5 508.6h0.9M193.4 505.8h0.9M197.5 503.6h0.9M199.8 499.2h0.9M194.8 500.3h0.9M209.5 501.0h0.9M195.9 501.0h0.9M192.9 502.6h0.9M201.5 497.0h0.9M199.8 499.1h0.9M201.9 495.4h0.9M194.3 502.9h0.9M197.1 506.0h0.9M193.8 501.1h0.9M193.5 500.6h0.9M197.9 500.0h0.9M192.8 508.1h0.9M200.6 497.6h0.9M194.8 509.5h0.9M189.8 504.9h0.9M188.0 500.6h0.9M187.8 506.8h0.9M196.2 507.8h0.9M197.9 499.3h0.9M197.2 507.0h0.9M198.4 498.9h0.9M198.4 512.3h0.9M198.0 505.2h0.9M194.2 498.7h0.9M194.1 501.2h0.9M209.5 505.0h0.9M204.4 504.4h0.9M193.2 506.1h0.9M192.6 503.2h0.9M193.8 506.2h0.9M201.5 503.1h0.9M183.8 510.7h0.9M195.6 509.9h0.9M206.8 495.1h0.9M195.2 504.0h0.9M180.5 508.6h0.9M189.8 504.0h0.9M181.9 507.0h0.9M199.5 506.8h0.9M195.8 501.2h0.9M190.6 497.9h0.9M190.0 500.7h0.9M204.0 503.2h0.9M186.8 508.5h0.9M204.5 501.4h0.9M197.1 510.7h0.9M200.9 500.1h0.9M199.0 506.7h0.9M192.4 505.9h0.9M202.5 506.6h0.9M199.8 500.3h0.9M190.7 504.6h0.9M201.5 507.8h0.9M198.5 504.5h0.9M196.5 500.1h0.9M197.7 504.6h0.9M198.9 503.0h0.9M196.3 500.0h0.9M201.0 501.7h0.9M196.2 501.2h0.9M196.2 504.4h0.9M201.4 493.3h0.9M194.6 508.0h0.9M198.8 510.9h0.9M204.1 496.1h0.9M205.4 494.7h0.9M187.1 513.4h0.9M201.6 500.7h0.9M198.7 500.5h0.9M194.6 511.0h0.9M199.5 501.8h0.9M201.2 499.0h0.9M188.8 510.5h0.9M193.6 504.1h0.9M193.2 515.1h0.9M202.3 505.9h0.9M196.7 498.9h0.9M199.7 498.0h0.9M204.9 504.8h0.9M192.3 503.6h0.9M205.1 500.3h0.9M189.6 508.9h0.9M204.0 497.3h0.9M189.4 510.3h0.9M197.6 498.6h0.9M197.1 496.3h0.9M196.6 501.2h0.9M196.3 499.2h0.9M194.8 500.5h0.9M201.3 502.9h0.9M199.1 501.7h0.9M197.3 503.3h0.9M197.2 501.9h0.9M191.3 510.4h0.9M198.2 505.8h0.9M184.2 501.8h0.9M198.0 508.2h0.9M200.6 500.1h0.9M198.7 501.9h0.9M194.1 503.1h0.9M188.3 506.7h0.9M199.9 497.9h0.9M199.9 501.0h0.9M201.2 497.3h0.9M187.0 511.4h0.9M190.1 509.3h0.9M207.4 500.1h0.9M203.0 504.2h0.9M189.9 511.7h0.9M196.5 506.2h0.9M185.6 512.9h0.9M197.3 504.8h0.9M192.7 512.4h0.9M191.2 503.3h0.9M198.0 493.0h0.9M197.0 506.0h0.9M189.4 504.4h0.9M194.3 506.5h0.9M189.5 507.9h0.9M201.3 504.5h0.9M199.2 503.4h0.9M200.9 505.0h0.9M194.4 508.4h0.9M197.3 505.4h0.9M189.9 508.1h0.9M199.8 498.4h0.9M197.0 504.3h0.9M205.0 502.9h0.9M207.5 493.3h0.9M197.7 501.2h0.9M208.3 502.8h0.9M191.8 505.8h0.9M193.8 502.0h0.9M199.9 505.2h0.9M187.2 502.1h0.9M194.2 509.9h0.9M192.9 507.6h0.9M199.7 502.3h0.9M185.4 503.1h0.9M204.5 498.7h0.9M186.8 507.3h0.9M198.9 502.8h0.9M198.6 495.1h0.9M195.8 504.6h0.9M197.3 502.1h0.9M192.7 499.1h0.9M199.8 496.3h0.9M188.6 505.7h0.9M197.7 509.9h0.9M207.0 503.7h0.9M194.3 514.2h0.9M189.7 505.9h0.9M202.4 495.9h0.9M196.5 499.6h0.9M194.7 504.8h0.9M197.3 506.7h0.9M206.3 504.2h0.9M197.3 502.5h0.9M190.5 512.4h0.9M200.1 504.9h0.9M198.1 504.4h0.9M197.4 505.1h0.9M193.8 501.4h0.9M190.0 511.4h0.9M197.9 500.9h0.9M199.9 500.6h0.9M182.2 507.3h0.9M192.8 506.1h0.9M188.2 505.2h0.9M199.4 506.7h0.9M197.5 498.5h0.9M203.5 507.7h0.9M199.3 499.4h0.9M207.6 494.0h0.9M205.6 497.2h0.9M190.5 515.0h0.9M201.7 498.0h0.9M195.0 498.5h0.9M195.8 503.2h0.9M198.1 502.3h0.9M193.9 505.1h0.9M196.6 498.0h0.9M195.9 502.1h0.9M201.1 504.6h0.9M191.2 506.1h0.9M196.6 507.6h0.9M196.7 510.5h0.9M201.5 498.5h0.9M207.1 507.1h0.9M195.8 502.8h0.9M191.1 502.9h0.9M195.6 502.2h0.9M196.8 504.5h0.9M194.0 504.8h0.9M203.8 499.8h0.9M193.8 507.8h0.9M198.4 496.3h0.9M199.0 500.2h0.9M202.3 504.5h0.9M193.3 503.2h0.9M194.9 496.2h0.9M192.3 502.2h0.9M206.6 501.5h0.9M194.6 501.7h0.9M198.1 501.1h0.9M202.3 494.9h0.9M192.8 508.6h0.9M192.3 506.9h0.9M200.1 500.6h0.9M200.4 498.7h0.9M197.0 511.5h0.9M196.1 508.9h0.9M190.2 508.6h0.9M207.6 499.2h0.9M199.4 499.1h0.9M198.4 506.1h0.9M206.4 497.8h0.9M206.5 496.5h0.9M196.0 503.7h0.9M195.3 507.0h0.9M201.2 504.1h0.9M202.2 504.8h0.9M187.7 509.7h0.9M203.7 502.5h0.9M204.6 493.7h0.9M193.7 500.0h0.9M195.2 504.4h0.9M199.0 502.3h0.9M205.1 503.3h0.9M194.0 511.7h0.9M195.3 505.1h0.9M189.6 504.9h0.9M190.9 510.9h0.9M205.7 500.8h0.9M202.9 511.7h0.9M196.6 503.2h0.9M194.5 501.9h0.9M195.2 504.1h0.9M193.0 506.2h0.9M194.6 500.6h0.9M194.9 508.9h0.9M195.6 506.5h0.9M192.8 500.3h0.9M202.2 476.3h0.9M206.6 480.4h0.9M203.1 480.1h0.9M201.2 479.1h0.9M204.7 481.1h0.9M202.2 479.2h0.9M200.0 481.7h0.9M200.9 484.2h0.9M200.8 479.1h0.9M206.7 482.5h0.9M201.9 479.1h0.9M203.8 481.9h0.9M201.7 478.0h0.9M198.7 483.5h0.9M203.4 479.7h0.9M201.1 482.5h0.9M206.4 480.0h0.9M200.3 479.6h0.9M202.7 477.8h0.9M205.8 482.5h0.9M201.5 480.5h0.9M202.2 479.2h0.9M202.7 476.5h0.9M200.7 483.6h0.9M202.0 481.6h0.9M202.0 481.8h0.9M201.1 479.4h0.9M203.2 481.2h0.9M199.6 479.2h0.9M207.0 480.8h0.9M203.4 477.8h0.9M203.2 478.5h0.9M202.3 482.1h0.9M207.1 483.5h0.9M205.3 477.6h0.9M203.8 480.3h0.9M206.0 482.7h0.9M203.1 479.7h0.9M203.8 484.0h0.9M204.0 481.4h0.9M206.9 475.9h0.9M199.6 479.8h0.9M202.5 485.7h0.9M205.0 475.1h0.9M202.2 476.6h0.9M207.3 479.3h0.9M203.9 476.5h0.9M198.8 480.8h0.9M200.9 479.3h0.9M203.6 479.6h0.9M204.7 475.6h0.9M207.3 480.1h0.9M202.8 477.4h0.9M204.5 478.1h0.9M196.5 477.8h0.9M206.2 486.1h0.9M203.6 479.5h0.9M198.9 477.8h0.9M204.4 482.6h0.9M201.2 480.5h0.9M203.6 481.5h0.9M204.2 477.5h0.9M203.8 480.5h0.9M208.4 477.9h0.9M202.4 480.4h0.9M201.9 480.7h0.9M202.4 482.3h0.9M205.2 481.2h0.9M201.2 481.6h0.9M200.7 480.7h0.9M202.9 482.3h0.9M205.9 479.9h0.9M205.6 480.1h0.9M205.0 483.7h0.9M202.6 478.2h0.9M202.0 479.6h0.9M199.6 484.3h0.9M199.6 476.0h0.9M205.0 482.2h0.9M204.4 480.6h0.9M204.4 481.4h0.9M203.3 478.1h0.9M205.5 480.0h0.9M205.0 480.1h0.9M204.3 482.5h0.9M202.9 477.2h0.9M203.8 479.4h0.9M207.6 477.8h0.9M208.2 478.0h0.9M207.9 482.7h0.9M204.8 480.2h0.9M199.2 479.7h0.9M204.1 480.0h0.9M204.7 480.3h0.9M207.9 481.2h0.9M203.7 484.0h0.9M203.0 479.1h0.9M204.7 478.9h0.9M203.9 479.8h0.9M202.2 476.8h0.9M200.8 480.8h0.9M200.0 478.2h0.9M202.7 480.5h0.9M200.0 476.9h0.9M201.9 477.9h0.9M203.6 480.4h0.9M203.1 481.9h0.9M204.8 478.8h0.9M209.7 483.8h0.9M202.9 482.3h0.9M185.0 494.5h0.9M181.3 484.0h0.9M184.3 489.3h0.9M194.3 486.6h0.9M190.5 488.5h0.9M189.0 490.2h0.9M197.7 488.5h0.9M183.9 489.6h0.9M190.1 490.9h0.9M199.4 485.8h0.9M192.7 487.1h0.9M180.9 490.2h0.9M192.2 487.0h0.9M184.6 494.7h0.9M182.4 485.2h0.9M172.9 479.0h0.9M198.2 489.1h0.9M185.8 497.1h0.9M185.2 486.1h0.9M182.8 487.1h0.9M183.9 490.6h0.9M184.9 480.9h0.9M197.1 481.3h0.9M180.3 493.6h0.9M181.2 489.2h0.9M194.0 480.4h0.9M177.9 483.4h0.9M184.8 490.2h0.9M194.4 496.2h0.9M194.7 477.7h0.9M196.6 492.1h0.9M190.5 485.2h0.9M181.2 480.0h0.9M187.6 482.4h0.9M187.2 490.4h0.9M185.1 484.7h0.9M191.8 481.6h0.9M176.9 496.4h0.9M193.7 488.9h0.9M197.1 484.9h0.9M186.8 486.7h0.9M185.6 492.5h0.9M189.8 490.3h0.9M187.5 488.9h0.9M178.9 488.6h0.9M190.4 492.6h0.9M193.0 490.8h0.9M203.5 499.8h0.9M196.5 479.7h0.9M190.0 492.6h0.9M187.5 478.2h0.9M186.7 485.6h0.9M188.5 489.7h0.9M190.6 480.9h0.9M200.6 494.4h0.9M186.0 489.4h0.9M195.9 490.6h0.9M183.3 490.5h0.9M188.7 485.0h0.9M209.9 491.2h0.9M190.2 494.0h0.9M209.2 492.0h0.9M209.6 489.9h0.9M198.8 492.5h0.9M195.9 491.0h0.9M200.8 491.7h0.9M205.1 493.2h0.9M202.3 489.5h0.9M209.4 492.0h0.9M194.5 490.4h0.9M196.6 491.3h0.9M208.5 491.1h0.9M207.3 490.8h0.9M198.0 491.5h0.9M203.8 491.7h0.9M207.4 494.0h0.9M211.9 491.9h0.9M200.6 490.6h0.9M208.0 491.6h0.9M209.0 493.7h0.9M206.4 491.7h0.9M204.5 494.4h0.9M211.0 493.4h0.9M204.9 492.4h0.9M212.5 491.2h0.9M201.5 492.0h0.9M208.4 491.1h0.9M205.2 493.3h0.9M202.0 492.1h0.9M207.2 494.8h0.9M203.2 492.0h0.9M214.0 490.7h0.9M207.5 492.4h0.9M209.2 492.6h0.9M201.4 492.3h0.9M203.7 491.7h0.9M194.4 492.8h0.9M202.2 494.4h0.9M200.7 491.5h0.9M202.1 492.8h0.9M205.6 493.5h0.9M204.6 490.1h0.9M201.2 489.5h0.9M203.6 493.3h0.9M203.8 493.4h0.9M210.6 490.1h0.9M214.7 490.6h0.9M201.6 493.5h0.9M196.0 492.6h0.9M211.3 493.4h0.9M212.8 491.6h0.9M207.8 493.0h0.9M205.8 494.0h0.9M206.5 492.3h0.9M209.2 491.3h0.9M213.7 492.2h0.9M202.7 494.1h0.9M201.7 493.6h0.9M202.6 489.4h0.9M206.8 492.6h0.9M211.2 489.9h0.9M197.5 493.5h0.9M202.0 490.8h0.9M207.8 492.4h0.9M208.0 492.8h0.9M203.8 493.0h0.9M194.6 494.5h0.9M208.2 494.4h0.9M205.0 491.9h0.9M206.9 492.4h0.9M208.6 490.9h0.9M207.1 491.1h0.9M199.5 490.2h0.9M193.6 490.4h0.9M206.8 492.1h0.9M211.1 491.9h0.9M206.5 491.6h0.9M216.3 489.6h0.9M207.4 491.3h0.9M193.3 491.7h0.9M204.5 494.4h0.9M203.6 493.7h0.9M203.7 494.9h0.9M208.3 491.0h0.9M200.3 490.5h0.9M197.0 492.3h0.9M203.6 492.0h0.9M205.3 491.5h0.9M202.0 494.8h0.9M210.6 491.9h0.9M207.5 487.5h0.9M197.0 491.6h0.9M204.7 488.7h0.9M203.3 491.1h0.9M203.5 493.3h0.9M199.6 493.5h0.9M208.8 489.2h0.9M207.7 491.6h0.9M207.0 489.4h0.9M211.0 497.7h0.9M218.5 502.2h0.9M211.5 506.2h0.9M210.6 490.6h0.9M217.3 506.7h0.9M215.4 506.7h0.9M221.4 500.0h0.9M210.8 494.3h0.9M210.2 501.0h0.9M214.7 494.9h0.9M215.7 493.8h0.9M202.3 506.6h0.9M205.1 502.4h0.9M212.7 505.5h0.9M215.5 509.7h0.9M210.9 503.7h0.9M209.6 498.3h0.9M213.6 488.5h0.9M215.2 503.1h0.9M212.1 499.5h0.9" stroke="#000" stroke-width="0.9" fill="none" filter="url(#b2)"/>
<ellipse cx="184.4" cy="509.8" rx="7.2" ry="2.0" transform="rotate(-24 184.4 509.8)" fill="#fff"/>
</g>
<rect x="170.1" y="473.2" width="58.70000000000002" height="47.599999999999966" fill="none" stroke="#111" stroke-width="1"/>
<line x1="198.9" y1="473.2" x2="198.9" y2="520.8" stroke="#000" stroke-width="1.1" />
<line x1="170.1" y1="497.5" x2="228.8" y2="497.5" stroke="#000" stroke-width="1.1" />
<text x="198.5" y="470.8" font-size="8.4" text-anchor="middle" font-weight="normal" fill="#111" >Ig-isotype</text>
<text x="186.275" y="527.0" font-size="4.6" text-anchor="middle" fill="#333">10<tspan dy="-1.6" font-size="3.4">1</tspan></text>
<text x="200.95" y="527.0" font-size="4.6" text-anchor="middle" fill="#333">10<tspan dy="-1.6" font-size="3.4">2</tspan></text>
<text x="215.625" y="527.0" font-size="4.6" text-anchor="middle" fill="#333">10<tspan dy="-1.6" font-size="3.4">3</tspan></text>
<text x="230.3" y="527.0" font-size="4.6" text-anchor="middle" fill="#333">10<tspan dy="-1.6" font-size="3.4">4</tspan></text>
<text transform="translate(168.7,508.81818181818176) rotate(-90)" font-size="4.6" text-anchor="middle" fill="#333">10<tspan dy="-1.6" font-size="3.4">1</tspan></text>
<text transform="translate(168.7,494.3939393939394) rotate(-90)" font-size="4.6" text-anchor="middle" fill="#333">10<tspan dy="-1.6" font-size="3.4">2</tspan></text>
<text transform="translate(168.7,479.96969696969694) rotate(-90)" font-size="4.6" text-anchor="middle" fill="#333">10<tspan dy="-1.6" font-size="3.4">3</tspan></text>
<clipPath id="c238_475"><rect x="238.5" y="475" width="58.69999999999999" height="47"/></clipPath>
<g clip-path="url(#c238_475)">
<ellipse cx="254" cy="511.2" rx="10.2" ry="4.3" transform="rotate(-24 254 511.2)" fill="#000" opacity="0.95" filter="url(#bl)"/>
<path d="M256.3 513.8h0.9M247.3 509.6h0.9M246.6 517.7h0.9M263.4 508.2h0.9M245.4 513.0h0.9M263.4 510.8h0.9M249.2 516.5h0.9M266.2 511.6h0.9M245.1 514.7h0.9M248.2 512.9h0.9M258.8 512.8h0.9M263.1 509.1h0.9M263.8 504.3h0.9M268.1 506.8h0.9M262.8 507.1h0.9M263.3 512.3h0.9M265.3 503.2h0.9M245.6 513.7h0.9M262.5 511.0h0.9M264.7 511.5h0.9M249.4 514.1h0.9M253.4 518.4h0.9M254.1 509.5h0.9M254.6 510.2h0.9M256.1 511.9h0.9M253.6 508.1h0.9M262.4 505.7h0.9M256.1 503.9h0.9M250.8 514.5h0.9M259.9 509.2h0.9M259.2 510.3h0.9M259.4 505.8h0.9M260.3 510.5h0.9M260.3 506.8h0.9M258.9 510.7h0.9M264.7 509.1h0.9M258.5 507.0h0.9M256.8 506.0h0.9M262.2 506.8h0.9M270.7 503.2h0.9M261.7 511.5h0.9M252.9 509.6h0.9M251.3 514.6h0.9M259.0 510.7h0.9M248.8 511.4h0.9M255.5 514.5h0.9M263.4 505.6h0.9M249.8 511.9h0.9M261.6 508.1h0.9M256.0 510.7h0.9M255.2 510.4h0.9M250.7 514.2h0.9M264.7 510.7h0.9M251.1 515.7h0.9M257.5 503.9h0.9M249.9 511.3h0.9M248.4 518.2h0.9M266.4 508.5h0.9M267.5 509.2h0.9M253.7 512.1h0.9M260.4 511.4h0.9M248.8 516.7h0.9M268.8 511.0h0.9M245.5 516.1h0.9M246.8 515.2h0.9M255.7 510.3h0.9M260.0 512.8h0.9M258.7 509.6h0.9M255.9 513.5h0.9M250.7 514.9h0.9M266.4 503.2h0.9M252.7 516.3h0.9M251.0 511.5h0.9M255.7 505.6h0.9M253.1 507.3h0.9M252.3 512.3h0.9M264.0 509.4h0.9M272.5 504.4h0.9M267.6 507.7h0.9M254.3 513.2h0.9M255.2 508.1h0.9M262.6 505.0h0.9M257.5 513.1h0.9M245.4 506.3h0.9M244.9 512.4h0.9M250.6 513.8h0.9M262.4 510.9h0.9M250.2 514.5h0.9M244.8 516.2h0.9M259.1 508.0h0.9M261.1 507.2h0.9M251.8 513.0h0.9M251.6 514.9h0.9M249.5 508.4h0.9M257.7 509.3h0.9M241.3 516.8h0.9M248.7 514.0h0.9M241.5 508.6h0.9M252.9 512.7h0.9M247.3 520.5h0.9M257.9 507.4h0.9M256.0 510.0h0.9M243.2 516.1h0.9M245.1 513.6h0.9M255.3 512.8h0.9M260.8 515.1h0.9M251.3 507.1h0.9M249.5 512.9h0.9M257.5 513.5h0.9M258.1 505.4h0.9M256.9 513.5h0.9M248.8 512.6h0.9M263.7 504.2h0.9M257.7 505.7h0.9M257.7 502.6h0.9M256.0 507.9h0.9M260.1 507.6h0.9M241.2 514.3h0.9M267.4 503.4h0.9M246.7 509.4h0.9M242.5 512.9h0.9M240.9 512.4h0.9M260.3 506.5h0.9M262.2 510.0h0.9M244.8 510.2h0.9M251.0 510.3h0.9M246.7 508.1h0.9M250.4 506.7h0.9M262.3 510.3h0.9M250.2 514.4h0.9M244.4 518.4h0.9M249.4 510.8h0.9M256.5 510.0h0.9M260.9 508.7h0.9M255.1 510.7h0.9M244.0 513.0h0.9M261.3 503.0h0.9M248.9 506.5h0.9M254.6 507.6h0.9M253.1 510.9h0.9M256.0 507.1h0.9M251.6 510.8h0.9M257.7 506.1h0.9M260.8 512.9h0.9M267.5 507.9h0.9M261.0 510.6h0.9M253.1 513.2h0.9M242.2 518.3h0.9M250.4 507.0h0.9M254.0 512.8h0.9M257.8 507.2h0.9M253.7 509.4h0.9M244.9 517.8h0.9M269.8 507.8h0.9M246.2 519.9h0.9M247.3 508.2h0.9M265.4 500.9h0.9M271.6 497.9h0.9M263.2 513.4h0.9M264.5 508.0h0.9M257.7 513.6h0.9M257.2 515.2h0.9M264.9 501.3h0.9M256.4 515.1h0.9M256.3 511.8h0.9M251.2 509.8h0.9M259.8 508.3h0.9M262.4 504.9h0.9M257.6 508.6h0.9M258.0 516.7h0.9M244.0 513.9h0.9M256.9 507.6h0.9M255.3 515.1h0.9M263.2 508.7h0.9M255.4 513.2h0.9M255.2 513.1h0.9M248.3 512.8h0.9M251.7 511.8h0.9M255.5 510.9h0.9M253.5 514.2h0.9M256.3 507.1h0.9M250.8 507.6h0.9M254.5 507.2h0.9M245.7 514.8h0.9M253.9 516.6h0.9M243.6 513.6h0.9M271.8 512.2h0.9M250.8 507.9h0.9M259.1 510.8h0.9M263.2 502.6h0.9M243.9 514.6h0.9M259.0 513.0h0.9M245.5 517.6h0.9M262.2 511.3h0.9M253.6 512.1h0.9M258.0 502.6h0.9M255.6 507.2h0.9M274.5 510.0h0.9M265.9 505.0h0.9M264.5 502.6h0.9M260.5 509.3h0.9M252.3 512.3h0.9M251.4 509.9h0.9M256.6 506.1h0.9M256.5 510.2h0.9M261.4 505.9h0.9M243.5 511.8h0.9M254.2 514.2h0.9M252.5 514.8h0.9M254.8 514.0h0.9M247.6 515.8h0.9M260.2 508.3h0.9M254.6 509.5h0.9M257.5 510.9h0.9M258.5 507.0h0.9M240.4 519.3h0.9M252.7 507.1h0.9M259.8 515.7h0.9M256.0 509.4h0.9M255.0 510.5h0.9M259.5 505.9h0.9M244.7 519.1h0.9M258.2 514.7h0.9M268.6 507.1h0.9M254.0 507.8h0.9M251.1 515.7h0.9M259.1 512.3h0.9M259.2 507.6h0.9M259.2 509.0h0.9M251.4 515.8h0.9M244.6 521.2h0.9M250.1 510.3h0.9M263.0 512.6h0.9M256.7 511.3h0.9M257.0 512.0h0.9M250.9 507.5h0.9M251.5 515.4h0.9M261.8 505.9h0.9M253.3 504.7h0.9M260.1 509.8h0.9M260.7 509.3h0.9M250.7 509.4h0.9M245.3 513.6h0.9M252.4 514.1h0.9M256.4 513.8h0.9M260.0 511.7h0.9M253.0 512.4h0.9M252.8 506.0h0.9M246.1 515.4h0.9M256.0 501.1h0.9M253.6 508.0h0.9M259.9 511.2h0.9M255.8 506.5h0.9M258.6 509.9h0.9M256.5 514.1h0.9M248.0 516.9h0.9M266.4 508.0h0.9M263.0 509.5h0.9M264.6 509.5h0.9M245.2 514.3h0.9M260.4 510.5h0.9M255.0 513.2h0.9M246.9 511.3h0.9M263.8 505.3h0.9M259.9 508.7h0.9M255.3 513.5h0.9M258.0 508.5h0.9M260.0 507.1h0.9M249.5 518.2h0.9M253.0 511.4h0.9M244.3 515.6h0.9M244.1 515.0h0.9M245.5 516.3h0.9M255.8 511.8h0.9M255.9 511.2h0.9M244.3 518.2h0.9M253.5 511.9h0.9M244.0 512.6h0.9M261.2 512.2h0.9M256.5 513.0h0.9M249.8 516.6h0.9M265.4 506.6h0.9M262.3 509.2h0.9M248.1 512.4h0.9M260.4 501.0h0.9M250.9 512.3h0.9M246.1 516.6h0.9M261.6 505.4h0.9M252.5 516.6h0.9M250.7 505.4h0.9M244.9 514.8h0.9M247.5 516.0h0.9M257.6 512.8h0.9M253.9 512.2h0.9M251.7 512.1h0.9M241.3 516.0h0.9M266.7 506.1h0.9M242.7 514.2h0.9M250.8 514.1h0.9M251.1 508.7h0.9M251.5 514.5h0.9M258.2 511.5h0.9M252.6 509.3h0.9M254.3 509.3h0.9M253.5 506.4h0.9M255.1 509.9h0.9M250.5 510.3h0.9M243.2 520.1h0.9M265.2 507.2h0.9M256.4 505.2h0.9M248.0 511.1h0.9M247.5 515.6h0.9M263.0 507.7h0.9M248.3 515.5h0.9M258.1 506.4h0.9M264.3 514.7h0.9M244.5 517.6h0.9M262.3 511.0h0.9M241.5 513.7h0.9M264.6 506.9h0.9M253.9 512.2h0.9M258.9 507.1h0.9M260.2 511.1h0.9M258.2 502.9h0.9M258.4 506.4h0.9M253.3 512.7h0.9M269.0 504.6h0.9M254.0 513.4h0.9M257.8 504.6h0.9M251.1 519.3h0.9M250.2 511.9h0.9M249.7 514.0h0.9M261.0 504.9h0.9M246.1 513.7h0.9M252.5 510.7h0.9M254.4 509.4h0.9M247.2 513.0h0.9M243.5 517.7h0.9M247.8 515.7h0.9M255.3 506.7h0.9M248.9 509.2h0.9M251.7 512.8h0.9M246.0 516.2h0.9M269.9 503.0h0.9M258.2 507.2h0.9M243.7 517.8h0.9M258.1 513.7h0.9M261.6 508.6h0.9M249.5 515.5h0.9M262.1 506.4h0.9M264.1 512.8h0.9M263.1 507.4h0.9M255.5 506.0h0.9M246.6 515.7h0.9M258.8 507.4h0.9M260.9 513.0h0.9M256.8 509.8h0.9M261.1 512.7h0.9M251.9 512.4h0.9M265.9 505.6h0.9M246.2 518.4h0.9M256.3 519.3h0.9M250.6 508.7h0.9M260.2 514.9h0.9M248.8 509.8h0.9M245.8 516.6h0.9M247.4 517.3h0.9M260.5 507.1h0.9M251.3 511.4h0.9M253.2 512.7h0.9M255.0 508.5h0.9M258.2 509.6h0.9M265.5 506.2h0.9M243.1 511.4h0.9M251.8 515.6h0.9M255.0 510.5h0.9M255.2 515.2h0.9M252.1 510.5h0.9M265.0 504.8h0.9M261.0 503.3h0.9M260.0 505.9h0.9M259.5 506.8h0.9M248.9 518.7h0.9M248.5 511.9h0.9M263.6 507.8h0.9M249.7 508.5h0.9M261.4 507.2h0.9M255.7 516.7h0.9M262.3 506.3h0.9M253.5 511.3h0.9M251.7 510.7h0.9M254.3 511.9h0.9M261.1 512.6h0.9M255.3 512.7h0.9M259.2 502.0h0.9M256.2 506.3h0.9M262.0 507.7h0.9M252.3 506.6h0.9M255.9 508.0h0.9M241.4 516.6h0.9M263.3 509.5h0.9M250.7 511.7h0.9M259.6 512.3h0.9M254.1 509.1h0.9M244.0 513.1h0.9M240.4 514.2h0.9M257.3 505.4h0.9M252.0 511.8h0.9M246.5 510.5h0.9M253.2 512.0h0.9M246.9 516.0h0.9M241.4 518.0h0.9M248.9 513.5h0.9M242.0 517.6h0.9M258.7 510.4h0.9M254.5 514.2h0.9M250.6 512.3h0.9M249.7 510.6h0.9M246.0 516.2h0.9M256.6 506.6h0.9M241.3 515.6h0.9M251.1 512.7h0.9M254.7 511.5h0.9M257.7 510.4h0.9M259.3 507.1h0.9M241.0 515.4h0.9M256.2 516.8h0.9M245.1 518.3h0.9M259.0 507.9h0.9M255.7 515.3h0.9M255.2 510.7h0.9M255.7 508.6h0.9M256.3 511.8h0.9M257.9 518.9h0.9M258.7 507.2h0.9M256.8 513.0h0.9M255.9 512.0h0.9M253.4 508.3h0.9M258.0 509.7h0.9M255.0 510.6h0.9M253.8 512.7h0.9M258.8 510.8h0.9M254.0 510.0h0.9M252.8 511.3h0.9M263.2 505.8h0.9M255.7 512.1h0.9M248.5 513.4h0.9M254.0 507.3h0.9M246.2 510.9h0.9M252.8 511.3h0.9M259.5 506.3h0.9M258.2 511.8h0.9M254.3 511.8h0.9M263.1 510.1h0.9M262.6 507.0h0.9M249.9 512.7h0.9M258.6 512.9h0.9M262.8 508.0h0.9M261.9 509.2h0.9M249.4 511.0h0.9M258.7 509.1h0.9M242.7 513.0h0.9M261.7 512.9h0.9M244.2 516.4h0.9M257.4 509.3h0.9M244.3 514.8h0.9M256.6 508.4h0.9M253.8 513.7h0.9M247.7 511.2h0.9M255.7 510.3h0.9M255.9 508.1h0.9M255.9 507.2h0.9M243.7 512.2h0.9M260.6 510.2h0.9M259.5 511.2h0.9M257.2 511.3h0.9M244.6 512.9h0.9M250.8 507.0h0.9M243.2 514.7h0.9M250.1 516.8h0.9M249.4 515.6h0.9M256.4 508.1h0.9M268.9 512.2h0.9M256.3 511.6h0.9M260.4 507.0h0.9M250.9 514.6h0.9M267.8 508.2h0.9M248.0 517.1h0.9M256.6 509.2h0.9M261.0 513.0h0.9M256.9 513.1h0.9M256.9 515.1h0.9M248.5 514.9h0.9M257.0 517.3h0.9M257.6 512.0h0.9M254.0 509.1h0.9M263.0 503.6h0.9M260.6 505.0h0.9M245.3 517.1h0.9M253.7 511.5h0.9M262.2 505.7h0.9M259.0 507.8h0.9M241.9 512.4h0.9M256.6 510.4h0.9M246.9 519.9h0.9M257.7 506.9h0.9M246.7 520.1h0.9M256.9 512.4h0.9M262.3 505.9h0.9M258.1 518.1h0.9M266.0 506.8h0.9M246.0 513.7h0.9M250.6 510.8h0.9M267.8 508.9h0.9M262.7 510.4h0.9M255.9 508.6h0.9M266.9 505.2h0.9M257.8 510.6h0.9M251.9 514.1h0.9M249.6 511.2h0.9M253.4 506.8h0.9M245.1 516.9h0.9M251.5 508.4h0.9M247.4 512.5h0.9M260.9 504.5h0.9M252.0 512.6h0.9M261.5 508.6h0.9M258.9 508.8h0.9M261.0 506.6h0.9M258.1 510.5h0.9M258.6 509.6h0.9M275.4 500.4h0.9M255.8 511.4h0.9M240.8 517.2h0.9M257.0 508.5h0.9M251.8 508.3h0.9M258.3 511.4h0.9M245.6 511.1h0.9M252.2 513.9h0.9M247.1 516.5h0.9M258.4 507.5h0.9M252.9 509.1h0.9M260.5 505.6h0.9M241.6 516.9h0.9M249.2 507.5h0.9M265.3 504.9h0.9M246.8 511.0h0.9M254.1 513.0h0.9M262.2 506.8h0.9M255.7 512.9h0.9M247.1 508.4h0.9M251.4 517.3h0.9M264.7 507.8h0.9M253.4 511.3h0.9M271.3 507.8h0.9M256.2 509.3h0.9M256.6 508.8h0.9M253.5 503.2h0.9M255.3 506.3h0.9M255.4 513.0h0.9M254.8 516.3h0.9M271.7 508.0h0.9M264.8 508.0h0.9M253.2 513.7h0.9M251.5 515.4h0.9M253.5 510.8h0.9M254.1 507.0h0.9M258.0 513.5h0.9M267.0 508.1h0.9M252.8 512.0h0.9M246.2 508.4h0.9M251.0 511.6h0.9M249.8 515.2h0.9M253.4 511.7h0.9M258.1 512.5h0.9M260.6 505.5h0.9M257.8 511.0h0.9M263.0 507.2h0.9M258.5 507.6h0.9M246.0 513.9h0.9M261.1 512.2h0.9M265.0 509.8h0.9M241.1 514.4h0.9M259.2 506.5h0.9M250.7 508.3h0.9M261.4 504.5h0.9M256.9 510.7h0.9M253.8 513.2h0.9M250.9 506.9h0.9M248.8 509.6h0.9M252.5 508.2h0.9M269.6 509.8h0.9M250.4 513.9h0.9M252.9 513.2h0.9M256.5 511.1h0.9M255.2 510.6h0.9M259.9 516.8h0.9M266.7 506.0h0.9M258.3 503.7h0.9M247.2 513.3h0.9M254.7 509.2h0.9M244.5 517.3h0.9M265.3 508.0h0.9M254.0 515.1h0.9M254.6 509.8h0.9M255.1 503.9h0.9M252.0 509.5h0.9M245.3 515.5h0.9M250.6 512.0h0.9M263.3 507.2h0.9M257.8 507.2h0.9M257.1 508.2h0.9M248.6 510.3h0.9M255.8 512.8h0.9M254.6 508.6h0.9M261.2 508.4h0.9M247.6 511.7h0.9M254.3 505.2h0.9M253.4 512.3h0.9M245.1 516.8h0.9M253.6 511.0h0.9M263.9 508.6h0.9M257.6 509.9h0.9M248.2 514.8h0.9M254.1 512.1h0.9M254.7 509.5h0.9M246.9 515.6h0.9M258.7 512.0h0.9M263.3 509.7h0.9M256.0 510.4h0.9M254.0 513.2h0.9M254.7 511.0h0.9M262.0 515.2h0.9M255.9 510.0h0.9M248.0 511.7h0.9M251.1 512.0h0.9M262.1 503.0h0.9M247.9 511.0h0.9M252.2 503.0h0.9M261.9 509.7h0.9M256.3 509.0h0.9M257.4 515.2h0.9M256.4 513.1h0.9M254.0 508.3h0.9M260.9 509.6h0.9M254.7 516.9h0.9M258.7 507.4h0.9M257.6 511.5h0.9M242.5 515.6h0.9M258.0 505.3h0.9M254.3 508.2h0.9M242.4 512.2h0.9M267.2 507.7h0.9M247.1 513.6h0.9M260.8 509.3h0.9M262.6 507.4h0.9M261.2 510.6h0.9M250.5 517.6h0.9M260.4 511.5h0.9M260.3 508.1h0.9M252.0 513.6h0.9M254.1 518.4h0.9M257.1 510.8h0.9M260.1 512.7h0.9M252.1 515.3h0.9M250.2 512.9h0.9M257.4 514.3h0.9M249.6 507.6h0.9M262.0 506.2h0.9M255.3 512.4h0.9M253.1 513.7h0.9M246.3 519.0h0.9M249.1 509.1h0.9M250.7 518.3h0.9M257.6 510.1h0.9M253.1 512.4h0.9M245.5 511.2h0.9M264.5 508.4h0.9M255.8 510.6h0.9M255.0 510.3h0.9M240.8 519.8h0.9M256.5 509.4h0.9M239.5 515.5h0.9M258.8 512.9h0.9M252.5 510.1h0.9M244.6 513.8h0.9M259.6 502.3h0.9M265.2 508.1h0.9M264.7 511.1h0.9M257.4 507.7h0.9M247.3 514.6h0.9M251.3 514.3h0.9M263.8 506.3h0.9M253.5 509.8h0.9M252.1 508.4h0.9M247.6 516.3h0.9M250.8 515.7h0.9M251.5 512.9h0.9M256.3 511.0h0.9M251.6 514.8h0.9M264.1 506.1h0.9M256.7 514.6h0.9M245.6 515.5h0.9M256.1 508.5h0.9M253.7 510.3h0.9M253.3 513.4h0.9M252.0 513.3h0.9M256.6 505.7h0.9M253.0 511.0h0.9M263.8 513.1h0.9M239.3 509.3h0.9M255.0 510.9h0.9M255.1 512.5h0.9M249.3 513.0h0.9M247.4 514.4h0.9M257.1 511.6h0.9M251.9 513.2h0.9M260.1 510.3h0.9M248.9 511.8h0.9M263.6 510.1h0.9M264.5 510.0h0.9M261.6 504.6h0.9M255.9 507.5h0.9M256.4 506.3h0.9M255.5 508.2h0.9M262.4 508.3h0.9M239.9 518.9h0.9M247.9 511.2h0.9M265.3 509.2h0.9M260.0 512.0h0.9M257.6 507.8h0.9M252.3 511.6h0.9M256.5 506.3h0.9M259.1 511.9h0.9M245.7 516.9h0.9M248.1 518.3h0.9M265.1 504.1h0.9M246.5 514.9h0.9M257.9 512.0h0.9M246.2 515.2h0.9M255.8 507.0h0.9M247.8 516.7h0.9M258.6 508.8h0.9M245.0 515.3h0.9M250.6 510.6h0.9M260.6 507.3h0.9M254.7 511.2h0.9M255.9 511.0h0.9M248.1 515.5h0.9M254.2 509.2h0.9M256.5 505.9h0.9M249.2 518.4h0.9M251.7 510.4h0.9M264.8 512.1h0.9M247.4 520.1h0.9M244.9 506.2h0.9M242.1 518.7h0.9M252.1 511.6h0.9M260.0 504.4h0.9M246.8 513.4h0.9M252.7 514.9h0.9M259.7 513.6h0.9M246.5 513.5h0.9M246.5 515.8h0.9M252.0 511.6h0.9M259.9 511.3h0.9M249.9 508.8h0.9M254.2 509.0h0.9M251.1 515.7h0.9M257.4 510.1h0.9M248.6 518.7h0.9M247.6 515.4h0.9M249.9 512.8h0.9M243.9 519.4h0.9M260.2 505.9h0.9M258.8 506.3h0.9M262.3 507.2h0.9M255.7 506.0h0.9M266.2 511.5h0.9M254.9 508.8h0.9M244.9 514.5h0.9M260.2 506.9h0.9M264.6 514.0h0.9M249.9 513.4h0.9M248.8 505.5h0.9M251.6 513.6h0.9M264.7 506.6h0.9M258.7 507.2h0.9M259.7 507.5h0.9M263.6 507.5h0.9M241.5 518.5h0.9M258.9 506.6h0.9M248.6 513.1h0.9M261.2 510.0h0.9M261.0 508.9h0.9M259.7 504.1h0.9M257.2 504.6h0.9M247.9 513.1h0.9M245.9 520.1h0.9M263.5 511.3h0.9M248.0 514.9h0.9M258.0 508.5h0.9M258.4 506.7h0.9M255.3 511.5h0.9M259.4 507.5h0.9M256.5 512.4h0.9M262.0 514.8h0.9M246.1 515.3h0.9M251.7 509.8h0.9M266.1 510.9h0.9M256.8 510.2h0.9M263.3 503.2h0.9M264.5 507.0h0.9M248.9 509.0h0.9M259.6 508.4h0.9M241.9 518.7h0.9M261.6 506.2h0.9M250.8 515.0h0.9M257.4 513.6h0.9M244.3 508.8h0.9M249.6 513.7h0.9M252.0 514.3h0.9M252.5 512.3h0.9M259.2 508.1h0.9M256.6 510.1h0.9M259.9 510.3h0.9M262.2 506.6h0.9M259.3 510.7h0.9M250.2 511.8h0.9M257.8 508.5h0.9M240.9 517.5h0.9M262.0 508.9h0.9M254.7 509.9h0.9M258.8 516.4h0.9M253.2 511.0h0.9M240.7 519.8h0.9M261.9 512.7h0.9M243.8 514.2h0.9M254.0 514.0h0.9M256.7 520.3h0.9M265.7 500.9h0.9M252.0 512.7h0.9M255.8 508.8h0.9M254.6 514.3h0.9M258.8 512.9h0.9M256.0 511.6h0.9M249.6 510.3h0.9M250.0 510.9h0.9M259.0 506.3h0.9M244.4 515.2h0.9M256.3 510.1h0.9M258.2 509.1h0.9M254.2 505.2h0.9M257.7 512.6h0.9M262.6 503.3h0.9M239.5 514.0h0.9M248.8 513.8h0.9M252.4 511.7h0.9M256.0 506.0h0.9M249.9 512.6h0.9M258.8 509.9h0.9M242.3 513.5h0.9M248.6 510.8h0.9M242.4 511.3h0.9M248.2 515.9h0.9M258.1 509.8h0.9M250.3 509.4h0.9M262.6 501.7h0.9M256.6 511.5h0.9M256.2 511.0h0.9M249.0 509.1h0.9M254.6 509.9h0.9M259.3 504.9h0.9M252.5 507.3h0.9M259.7 509.7h0.9M258.3 508.1h0.9M256.9 513.8h0.9M249.7 518.4h0.9M247.1 514.6h0.9M255.1 510.6h0.9M254.8 515.4h0.9M256.7 505.2h0.9M248.9 513.7h0.9M256.8 511.6h0.9M260.8 511.7h0.9M263.5 510.8h0.9M259.6 508.1h0.9M247.7 512.6h0.9M257.4 512.9h0.9M260.3 513.0h0.9M253.6 512.8h0.9M240.3 518.1h0.9M255.5 511.3h0.9M249.4 509.1h0.9M256.9 509.6h0.9M250.3 516.4h0.9M253.0 508.6h0.9M258.9 508.6h0.9M239.6 511.8h0.9M246.4 516.5h0.9M253.4 507.3h0.9M248.7 509.5h0.9M259.5 506.2h0.9M254.8 510.9h0.9M249.0 512.5h0.9M262.3 506.7h0.9M259.1 513.0h0.9M260.4 511.2h0.9M243.3 514.8h0.9M262.3 514.2h0.9M242.1 514.7h0.9M260.8 506.9h0.9M258.4 504.4h0.9M260.0 506.5h0.9M249.3 511.1h0.9M256.9 509.2h0.9M258.1 509.1h0.9M256.8 514.9h0.9M253.5 514.6h0.9M255.4 513.6h0.9M245.0 513.6h0.9M265.8 507.5h0.9M247.3 511.7h0.9M257.0 508.9h0.9M259.9 508.4h0.9M262.0 506.3h0.9M252.7 510.6h0.9M261.2 503.3h0.9M251.8 504.7h0.9M254.5 516.1h0.9M261.8 513.8h0.9M267.4 506.0h0.9M266.5 508.4h0.9M267.3 507.5h0.9M262.3 503.4h0.9M263.6 503.6h0.9M261.9 515.6h0.9M268.5 504.0h0.9M265.8 513.3h0.9M263.2 507.4h0.9M270.4 508.7h0.9M256.7 511.4h0.9M262.6 504.3h0.9M264.5 505.5h0.9M264.6 511.7h0.9M255.3 501.9h0.9M266.0 506.9h0.9M268.7 503.8h0.9M262.3 503.0h0.9M268.3 510.5h0.9M255.1 514.7h0.9M255.6 510.0h0.9M265.8 507.6h0.9M257.2 509.0h0.9M270.3 504.1h0.9M267.6 504.5h0.9M260.0 504.2h0.9M263.5 508.4h0.9M274.7 498.1h0.9M263.9 504.4h0.9M265.7 502.5h0.9M266.5 501.5h0.9M270.4 503.4h0.9M262.4 514.1h0.9M256.0 503.1h0.9M276.3 506.3h0.9M266.9 505.6h0.9M274.2 504.4h0.9M257.0 503.7h0.9M261.4 503.7h0.9M270.5 504.6h0.9M273.7 505.9h0.9M255.9 512.4h0.9M274.2 505.1h0.9M263.9 498.7h0.9M262.8 510.9h0.9M257.8 510.5h0.9M260.3 501.6h0.9M272.1 496.9h0.9M268.0 503.5h0.9M253.5 510.3h0.9M252.1 514.7h0.9M271.2 505.2h0.9M258.1 509.4h0.9M260.8 507.7h0.9M262.6 499.6h0.9M255.8 505.1h0.9M268.7 509.6h0.9M265.9 509.6h0.9M260.0 512.7h0.9M256.5 508.5h0.9M276.9 494.7h0.9M264.5 509.7h0.9M262.1 508.1h0.9M266.3 512.9h0.9M275.2 501.5h0.9M263.0 502.7h0.9M265.1 509.1h0.9M268.1 513.0h0.9M273.9 505.4h0.9M264.3 510.4h0.9M259.1 514.4h0.9M263.6 518.9h0.9M261.6 509.8h0.9M268.9 507.8h0.9M260.4 507.6h0.9M267.1 501.5h0.9M263.0 505.3h0.9M254.8 507.2h0.9M266.5 514.5h0.9M264.9 504.4h0.9M265.6 502.4h0.9M265.5 502.8h0.9M261.1 503.3h0.9M272.1 496.1h0.9M263.8 504.9h0.9M261.8 508.7h0.9M262.6 501.7h0.9M261.7 503.4h0.9M251.0 504.1h0.9M259.2 511.7h0.9M259.9 511.7h0.9M265.3 506.0h0.9M260.4 509.7h0.9M262.9 504.2h0.9M261.4 503.5h0.9M264.0 502.3h0.9M272.3 502.5h0.9M272.1 502.2h0.9M261.2 507.2h0.9M274.7 497.2h0.9M273.7 500.3h0.9M268.2 507.3h0.9M262.9 502.8h0.9M261.2 506.4h0.9M259.6 511.9h0.9M261.3 501.3h0.9M266.3 502.1h0.9M266.1 511.5h0.9M260.3 505.0h0.9M272.7 505.4h0.9M254.5 510.9h0.9M266.0 507.3h0.9M249.4 511.8h0.9M275.9 496.9h0.9M268.0 504.8h0.9M265.4 502.2h0.9M265.4 507.5h0.9M265.1 508.2h0.9M266.8 507.2h0.9M267.9 497.8h0.9M270.8 502.2h0.9M259.2 506.7h0.9M268.1 502.7h0.9M262.0 509.2h0.9M272.0 502.0h0.9M268.6 501.2h0.9M261.3 505.6h0.9M261.2 504.0h0.9M265.0 506.6h0.9M264.0 508.8h0.9M259.4 511.8h0.9M256.2 501.7h0.9M267.2 502.8h0.9M265.0 507.3h0.9M270.8 506.8h0.9M265.0 511.5h0.9M263.3 501.0h0.9M260.0 512.9h0.9M271.7 504.0h0.9M270.4 503.3h0.9M265.0 507.6h0.9M266.0 508.3h0.9M267.8 506.6h0.9M263.2 504.2h0.9M267.1 510.1h0.9M264.6 503.9h0.9M262.3 505.3h0.9M271.7 503.1h0.9M265.8 505.9h0.9M268.4 508.8h0.9M263.2 504.0h0.9M267.7 498.6h0.9M265.8 514.8h0.9M266.9 506.2h0.9M272.2 506.1h0.9M267.0 509.3h0.9M262.0 501.4h0.9M269.7 500.9h0.9M268.5 502.2h0.9M261.5 501.9h0.9M269.8 502.0h0.9M269.5 501.5h0.9M273.7 507.1h0.9M261.2 509.7h0.9M266.6 506.4h0.9M267.4 506.6h0.9M263.7 497.3h0.9M262.4 508.5h0.9M258.5 506.4h0.9M256.4 506.7h0.9M265.0 508.6h0.9M274.5 501.6h0.9M265.9 497.7h0.9M259.2 510.8h0.9M269.6 501.1h0.9M266.2 502.8h0.9M269.4 511.1h0.9M254.2 519.3h0.9M270.6 499.5h0.9M267.8 500.7h0.9M266.5 507.4h0.9M267.0 505.2h0.9M270.9 507.5h0.9M268.9 498.4h0.9M262.9 513.9h0.9M266.3 507.0h0.9M265.1 508.4h0.9M256.2 508.3h0.9M256.6 509.2h0.9M266.9 508.3h0.9M263.9 505.3h0.9M267.1 503.3h0.9M243.4 513.3h0.9M272.8 508.3h0.9M264.1 514.1h0.9M260.9 508.0h0.9M268.0 505.5h0.9M256.4 507.7h0.9M262.5 502.8h0.9M260.7 517.2h0.9M270.6 500.3h0.9M264.4 502.0h0.9M273.6 501.9h0.9M259.4 504.1h0.9M269.4 506.7h0.9M271.1 504.9h0.9M270.1 502.4h0.9M259.6 508.7h0.9M253.6 513.7h0.9M264.2 506.6h0.9M265.1 503.9h0.9M267.2 502.5h0.9M260.2 503.2h0.9M268.1 502.3h0.9M266.3 504.6h0.9M251.6 515.5h0.9M264.0 511.1h0.9M265.7 500.4h0.9M268.3 506.2h0.9M265.4 504.2h0.9M260.0 507.4h0.9M275.3 502.1h0.9M260.6 509.6h0.9M253.3 516.5h0.9M265.8 506.8h0.9M267.9 505.7h0.9M265.7 504.1h0.9M259.9 513.1h0.9M261.4 512.7h0.9M270.3 504.9h0.9M269.5 498.3h0.9M264.6 510.1h0.9M260.2 503.8h0.9M255.3 513.5h0.9M274.0 502.6h0.9M266.9 500.3h0.9M265.4 503.0h0.9M266.8 502.7h0.9M255.4 506.4h0.9M272.4 503.1h0.9M259.2 508.4h0.9M264.1 503.9h0.9M265.0 505.2h0.9M258.1 505.1h0.9M262.2 503.0h0.9M268.7 508.9h0.9M266.6 502.3h0.9M264.0 505.9h0.9M262.5 507.2h0.9M267.8 505.8h0.9M261.1 504.2h0.9M260.4 509.5h0.9M272.6 497.5h0.9M263.6 508.8h0.9M256.5 507.2h0.9M264.1 497.8h0.9M263.7 503.4h0.9M269.2 505.8h0.9M271.6 497.3h0.9M272.4 504.0h0.9M265.0 507.1h0.9M264.9 503.2h0.9M267.6 509.7h0.9M268.8 501.7h0.9M262.6 503.9h0.9M261.6 508.1h0.9M267.5 499.9h0.9M267.7 505.8h0.9M267.1 504.1h0.9M260.8 502.9h0.9M257.4 510.0h0.9M277.7 508.3h0.9M270.6 498.9h0.9M269.0 511.6h0.9M268.3 505.0h0.9M263.5 503.6h0.9M266.1 507.5h0.9M274.1 493.4h0.9M261.5 503.4h0.9M271.0 500.7h0.9M267.3 500.2h0.9M264.2 501.8h0.9M260.8 502.6h0.9M253.8 507.1h0.9M259.3 509.9h0.9M267.6 497.1h0.9M260.7 494.6h0.9M269.5 501.3h0.9M267.8 502.2h0.9M263.6 505.5h0.9M270.9 501.8h0.9M269.1 500.9h0.9M264.6 504.7h0.9M270.8 499.5h0.9M265.5 508.1h0.9M266.4 506.7h0.9M275.4 499.4h0.9M264.1 508.5h0.9M267.5 507.2h0.9M273.2 507.9h0.9M263.6 510.6h0.9M259.1 503.7h0.9M275.0 506.9h0.9M267.8 498.7h0.9M264.1 503.4h0.9M265.3 507.9h0.9M264.3 507.3h0.9M265.7 499.1h0.9M259.3 508.5h0.9M266.3 497.9h0.9M270.6 507.6h0.9M267.8 505.4h0.9M264.8 506.9h0.9M266.0 503.1h0.9M251.3 509.4h0.9M260.4 510.0h0.9M257.0 499.4h0.9M272.6 505.5h0.9M268.1 503.7h0.9M261.4 505.4h0.9M268.8 507.9h0.9M263.1 506.9h0.9M261.2 503.3h0.9M264.9 505.9h0.9M261.0 501.1h0.9M269.2 505.3h0.9M264.0 501.3h0.9M261.9 506.9h0.9M259.5 508.5h0.9M269.3 489.7h0.9M276.0 486.6h0.9M270.0 478.7h0.9M269.6 492.6h0.9M272.0 488.1h0.9M267.7 483.9h0.9M272.7 480.8h0.9M275.8 482.6h0.9M266.3 480.0h0.9M274.3 486.5h0.9M274.6 492.5h0.9M272.7 490.0h0.9M263.1 487.6h0.9M267.0 487.7h0.9M273.1 490.4h0.9M266.8 491.7h0.9M268.5 491.1h0.9M268.8 484.0h0.9M266.1 482.0h0.9M270.0 486.1h0.9M267.4 495.1h0.9M271.3 482.0h0.9M261.3 485.0h0.9M265.5 489.3h0.9M273.9 487.1h0.9M273.6 490.2h0.9M263.1 486.8h0.9M266.2 487.3h0.9M266.0 490.7h0.9M267.5 483.5h0.9M268.7 482.3h0.9M265.1 487.7h0.9M263.7 487.9h0.9M276.5 485.7h0.9M270.9 489.2h0.9M270.4 492.7h0.9M278.6 496.5h0.9M272.6 488.0h0.9M269.9 487.3h0.9M273.7 487.5h0.9M271.0 488.2h0.9M276.4 487.1h0.9M270.0 483.7h0.9M274.9 488.6h0.9M267.6 492.1h0.9M269.0 484.6h0.9M278.1 491.3h0.9M269.6 490.5h0.9M269.6 487.0h0.9M272.4 486.0h0.9M261.3 481.4h0.9M268.6 483.9h0.9M271.8 488.2h0.9M273.7 488.8h0.9M265.7 489.9h0.9M266.5 483.4h0.9M272.4 489.0h0.9M271.1 483.4h0.9M272.7 487.1h0.9M267.2 484.5h0.9M272.9 486.9h0.9M276.9 486.7h0.9M274.5 489.6h0.9M267.7 481.1h0.9M266.6 487.5h0.9M272.7 491.3h0.9M270.5 486.2h0.9M273.6 493.9h0.9M268.2 489.7h0.9M263.0 487.5h0.9M270.6 480.3h0.9M267.9 485.4h0.9M266.0 476.1h0.9M278.0 490.9h0.9M263.7 488.9h0.9M270.5 487.8h0.9M265.2 489.6h0.9M266.1 487.4h0.9M274.3 484.3h0.9M277.0 484.8h0.9M275.1 476.1h0.9M270.9 488.5h0.9M263.4 492.3h0.9M272.9 485.7h0.9M269.1 475.9h0.9M272.6 490.1h0.9M270.8 479.7h0.9M263.8 490.1h0.9M270.6 490.2h0.9M271.9 480.6h0.9M270.2 484.0h0.9M268.8 486.5h0.9M282.0 490.5h0.9M270.7 488.2h0.9M268.8 482.3h0.9M269.7 479.9h0.9M267.5 485.5h0.9M275.3 490.0h0.9M265.9 489.1h0.9M269.7 480.2h0.9M268.4 482.5h0.9M267.6 485.8h0.9M263.8 493.4h0.9M271.7 489.1h0.9M272.4 487.4h0.9M267.9 484.3h0.9M270.6 490.8h0.9M264.1 490.5h0.9M269.4 483.3h0.9M271.4 486.9h0.9M268.5 500.9h0.9M263.5 478.8h0.9M265.2 483.6h0.9M272.4 489.4h0.9M264.1 481.2h0.9M271.0 488.5h0.9M263.4 478.5h0.9M263.8 487.8h0.9M265.8 487.4h0.9M255.4 497.1h0.9M266.2 492.7h0.9M252.1 495.6h0.9M269.0 492.1h0.9M263.6 491.2h0.9M266.3 494.4h0.9M259.5 496.3h0.9M245.8 488.2h0.9M262.0 490.5h0.9M262.5 494.7h0.9M255.4 496.5h0.9M265.5 497.9h0.9M248.4 489.6h0.9M263.9 487.8h0.9M254.7 492.1h0.9M269.9 501.2h0.9M263.4 490.9h0.9M260.0 500.0h0.9M260.8 489.1h0.9M272.1 488.3h0.9M254.6 492.8h0.9M246.7 493.3h0.9M258.2 491.1h0.9M262.7 485.2h0.9M259.5 490.7h0.9M250.7 489.9h0.9M257.5 496.5h0.9M246.1 503.2h0.9M257.2 498.1h0.9M261.4 491.0h0.9M256.1 484.8h0.9M250.8 492.5h0.9M248.7 489.5h0.9M246.3 489.9h0.9M249.5 487.2h0.9M258.2 485.4h0.9M251.3 487.4h0.9M266.5 493.5h0.9M254.6 496.2h0.9M263.0 492.7h0.9M259.3 499.7h0.9M262.1 497.7h0.9M258.4 494.7h0.9M256.6 495.8h0.9M254.2 493.4h0.9M258.9 485.4h0.9M262.4 490.9h0.9M251.0 492.8h0.9M252.2 494.2h0.9M268.2 492.4h0.9M270.4 494.5h0.9M281.1 497.4h0.9M263.0 497.6h0.9M268.0 492.2h0.9M271.3 496.5h0.9M274.5 495.4h0.9M261.8 492.7h0.9M266.3 498.2h0.9M264.7 497.2h0.9M267.6 495.4h0.9M276.0 495.5h0.9M279.2 496.1h0.9M276.1 497.3h0.9M266.9 495.4h0.9M273.8 494.1h0.9M276.7 497.0h0.9M269.6 497.6h0.9M273.2 495.4h0.9M263.7 493.9h0.9M278.8 495.9h0.9M261.7 497.3h0.9M276.8 495.9h0.9M272.5 492.4h0.9M273.8 496.9h0.9M273.0 495.9h0.9M271.4 495.4h0.9M265.5 495.2h0.9M275.7 493.3h0.9M272.6 494.1h0.9M272.5 493.5h0.9M267.2 490.7h0.9M265.2 494.1h0.9M270.0 496.8h0.9M269.6 496.9h0.9M273.4 492.9h0.9M271.0 500.4h0.9M271.6 497.4h0.9M274.2 501.1h0.9M263.2 494.4h0.9M268.9 493.4h0.9M268.2 494.4h0.9M269.9 495.7h0.9M270.3 499.2h0.9M264.3 493.9h0.9M285.3 497.1h0.9M264.5 495.0h0.9M265.2 495.1h0.9M268.2 495.2h0.9M272.0 497.1h0.9M268.1 495.4h0.9M261.1 496.7h0.9M277.1 495.4h0.9M258.7 494.3h0.9M269.5 497.5h0.9M270.4 495.4h0.9M263.5 495.6h0.9M264.4 496.3h0.9M266.1 495.6h0.9M274.7 494.1h0.9M281.6 493.7h0.9M264.4 495.5h0.9M270.0 494.6h0.9M258.3 495.3h0.9M276.8 496.0h0.9M267.8 494.9h0.9M264.8 496.6h0.9M271.9 495.9h0.9M272.8 496.2h0.9M274.7 495.5h0.9M271.5 497.8h0.9M281.1 492.2h0.9M271.6 497.9h0.9M267.9 497.5h0.9M268.5 496.2h0.9M270.7 495.8h0.9M261.0 497.3h0.9M275.8 495.9h0.9M288.4 498.2h0.9M263.9 494.0h0.9M273.2 495.1h0.9M268.7 497.0h0.9M259.5 493.9h0.9M270.4 496.4h0.9M265.4 495.9h0.9M266.8 497.1h0.9M265.1 497.7h0.9M277.4 492.2h0.9M275.7 499.6h0.9M268.3 497.9h0.9M273.7 495.0h0.9M274.2 504.3h0.9M276.5 508.2h0.9M280.7 510.7h0.9M281.7 512.1h0.9M278.6 502.8h0.9M272.6 496.5h0.9M279.1 513.9h0.9M276.9 509.2h0.9M277.1 510.0h0.9M281.3 506.3h0.9M271.0 510.1h0.9M276.2 500.6h0.9M270.9 511.4h0.9M283.6 504.6h0.9M276.8 514.1h0.9M279.0 507.0h0.9M270.5 504.6h0.9M278.8 510.6h0.9M276.1 510.5h0.9M290.4 508.9h0.9" stroke="#000" stroke-width="0.9" fill="none" filter="url(#b2)"/>
<ellipse cx="253.7" cy="511.4" rx="6.8" ry="1.9" transform="rotate(-24 253.7 511.4)" fill="#fff"/>
</g>
<rect x="238.5" y="475" width="58.69999999999999" height="47" fill="none" stroke="#111" stroke-width="1"/>
<line x1="266.8" y1="475" x2="266.8" y2="522" stroke="#000" stroke-width="1.1" />
<line x1="238.5" y1="500.4" x2="297.2" y2="500.4" stroke="#000" stroke-width="1.1" />
<text x="267.9" y="472.2" font-size="8.4" text-anchor="middle" font-weight="normal" fill="#111" >CD160 mAb</text>
<text x="254.675" y="528.2" font-size="4.6" text-anchor="middle" fill="#333">10<tspan dy="-1.6" font-size="3.4">1</tspan></text>
<text x="269.35" y="528.2" font-size="4.6" text-anchor="middle" fill="#333">10<tspan dy="-1.6" font-size="3.4">2</tspan></text>
<text x="284.025" y="528.2" font-size="4.6" text-anchor="middle" fill="#333">10<tspan dy="-1.6" font-size="3.4">3</tspan></text>
<text x="298.7" y="528.2" font-size="4.6" text-anchor="middle" fill="#333">10<tspan dy="-1.6" font-size="3.4">4</tspan></text>
<text transform="translate(237.1,510.1818181818182) rotate(-90)" font-size="4.6" text-anchor="middle" fill="#333">10<tspan dy="-1.6" font-size="3.4">1</tspan></text>
<text transform="translate(237.1,495.93939393939394) rotate(-90)" font-size="4.6" text-anchor="middle" fill="#333">10<tspan dy="-1.6" font-size="3.4">2</tspan></text>
<text transform="translate(237.1,481.6969696969697) rotate(-90)" font-size="4.6" text-anchor="middle" fill="#333">10<tspan dy="-1.6" font-size="3.4">3</tspan></text>
<text transform="translate(8.6,465.6) rotate(-90)" font-size="10" text-anchor="middle" fill="#111">PI</text>
<line x1="12" y1="511" x2="12" y2="420" stroke="#111" stroke-width="0.9" />
<path d="M9.3 421.5 L12 414.5 L14.7 421.5 Z" fill="#111"/>
<line x1="16.3" y1="535.8" x2="290" y2="535.8" stroke="#111" stroke-width="0.9" />
<path d="M287.5 533 L295 535.8 L287.5 538.6 Z" fill="#111"/>
<text x="151.5" y="547" font-size="10" text-anchor="middle" font-weight="normal" fill="#111" >Annexin V- FITC</text>
<line x1="352.7" y1="381" x2="352.7" y2="537.0" stroke="#ccc" stroke-width="0.8" />
<line x1="352.7" y1="537.0" x2="503" y2="537.0" stroke="#ccc" stroke-width="0.8" />
<text x="350" y="525.9" font-size="8.6" text-anchor="end" font-weight="normal" fill="#222" >5</text>
<text x="350" y="509.4" font-size="8.6" text-anchor="end" font-weight="normal" fill="#222" >10</text>
<text x="350" y="492.9" font-size="8.6" text-anchor="end" font-weight="normal" fill="#222" >15</text>
<text x="350" y="476.4" font-size="8.6" text-anchor="end" font-weight="normal" fill="#222" >20</text>
<text x="350" y="459.9" font-size="8.6" text-anchor="end" font-weight="normal" fill="#222" >25</text>
<text x="350" y="443.4" font-size="8.6" text-anchor="end" font-weight="normal" fill="#222" >30</text>
<text x="350" y="426.9" font-size="8.6" text-anchor="end" font-weight="normal" fill="#222" >35</text>
<text x="350" y="410.4" font-size="8.6" text-anchor="end" font-weight="normal" fill="#222" >40</text>
<text x="350" y="393.9" font-size="8.6" text-anchor="end" font-weight="normal" fill="#222" >45</text>
<text transform="translate(334.3,453.8) rotate(-90)" font-size="9.0" letter-spacing="0.28" font-weight="bold" text-anchor="middle" fill="#111">% of Annexin V positive cells</text>
<rect x="360.4" y="451" width="11.5" height="86.0" fill="#666" stroke="#333" stroke-width="0.7"/>
<line x1="366.15" y1="451" x2="366.15" y2="440.2" stroke="#555" stroke-width="0.8" />
<line x1="363.75" y1="440.2" x2="368.54999999999995" y2="440.2" stroke="#555" stroke-width="0.9" />
<rect x="371.9" y="499.5" width="11.0" height="37.5" fill="#fff" stroke="#333" stroke-width="0.7"/>
<line x1="377.4" y1="499.5" x2="377.4" y2="496" stroke="#555" stroke-width="0.8" />
<line x1="375.0" y1="496" x2="379.79999999999995" y2="496" stroke="#555" stroke-width="0.9" />
<rect x="398.8" y="406.9" width="11.0" height="130.10000000000002" fill="#666" stroke="#333" stroke-width="0.7"/>
<line x1="404.3" y1="406.9" x2="404.3" y2="390.6" stroke="#555" stroke-width="0.8" />
<line x1="401.90000000000003" y1="390.6" x2="406.7" y2="390.6" stroke="#555" stroke-width="0.9" />
<rect x="409.8" y="505.2" width="10.599999999999966" height="31.80000000000001" fill="#fff" stroke="#333" stroke-width="0.7"/>
<line x1="415.1" y1="505.2" x2="415.1" y2="501.4" stroke="#555" stroke-width="0.8" />
<line x1="412.70000000000005" y1="501.4" x2="417.5" y2="501.4" stroke="#555" stroke-width="0.9" />
<rect x="436.3" y="412.7" width="11.599999999999966" height="124.30000000000001" fill="#666" stroke="#333" stroke-width="0.7"/>
<line x1="442.1" y1="412.7" x2="442.1" y2="401" stroke="#555" stroke-width="0.8" />
<line x1="439.70000000000005" y1="401" x2="444.5" y2="401" stroke="#555" stroke-width="0.9" />
<rect x="447.9" y="498.1" width="10.0" height="38.89999999999998" fill="#fff" stroke="#333" stroke-width="0.7"/>
<line x1="452.9" y1="498.1" x2="452.9" y2="487.5" stroke="#555" stroke-width="0.8" />
<line x1="450.5" y1="487.5" x2="455.29999999999995" y2="487.5" stroke="#555" stroke-width="0.9" />
<rect x="475.4" y="467.3" width="10.400000000000034" height="69.69999999999999" fill="#666" stroke="#333" stroke-width="0.7"/>
<line x1="480.6" y1="467.3" x2="480.6" y2="452.5" stroke="#555" stroke-width="0.8" />
<line x1="478.20000000000005" y1="452.5" x2="483.0" y2="452.5" stroke="#555" stroke-width="0.9" />
<rect x="485.8" y="506.4" width="10.5" height="30.600000000000023" fill="#fff" stroke="#333" stroke-width="0.7"/>
<line x1="491.05" y1="506.4" x2="491.05" y2="504.5" stroke="#555" stroke-width="0.8" />
<line x1="488.65000000000003" y1="504.5" x2="493.45" y2="504.5" stroke="#555" stroke-width="0.9" />
<path d="M366.6 436.8 V383.2 Q366.6 381.7 368.1 381.7 H377.5 M389 381.7 H403.1 Q404.6 381.7 404.6 383.2 V388" fill="none" stroke="#333" stroke-width="1"/>
<polygon points="383.50,379.00 384.24,380.98 386.35,381.07 384.70,382.39 385.26,384.43 383.50,383.26 381.74,384.43 382.30,382.39 380.65,381.07 382.76,380.98" fill="#222"/>
<path d="M442.1 398.3 V394 Q442.1 392.5 443.6 392.5 H455.6 M466 392.5 H479.3 Q480.8 392.5 480.8 394 V444.6" fill="none" stroke="#333" stroke-width="1"/>
<polygon points="461.20,388.60 461.94,390.58 464.05,390.67 462.40,391.99 462.96,394.03 461.20,392.86 459.44,394.03 460.00,391.99 458.35,390.67 460.46,390.58" fill="#222"/>
<rect x="468" y="358" width="52" height="28" fill="#fff" stroke="#ddd" stroke-width="0.7"/>
<rect x="472" y="364.4" width="9.4" height="2.5" fill="#666" stroke="#333" stroke-width="0.6"/>
<rect x="472" y="378.3" width="9.4" height="2.5" fill="#fff" stroke="#333" stroke-width="0.6"/>
<text x="483.5" y="369.2" font-size="7.1" text-anchor="start" font-weight="normal" fill="#111" >HUVEC</text>
<text x="483.5" y="382.4" font-size="7.4" text-anchor="start" font-weight="normal" fill="#111" >Fibroblast</text>
<text x="371" y="548.4" font-size="8" text-anchor="middle" font-weight="normal" fill="#111" >UT</text>
<text x="410" y="548.4" font-size="8" text-anchor="middle" font-weight="normal" fill="#111" >sG1</text>
<text x="447" y="548.4" font-size="7.4" text-anchor="middle" font-weight="normal" fill="#111" >CD160 mAb</text>
<text x="488" y="548.4" font-size="7.6" text-anchor="middle" font-weight="normal" fill="#111" >Ig-isotype</text>
</svg>
</body></html>
